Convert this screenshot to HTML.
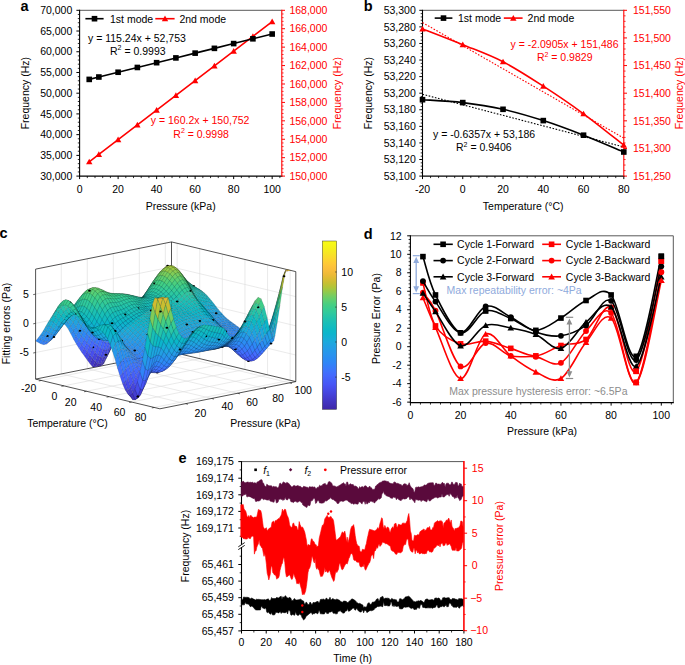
<!DOCTYPE html>
<html><head><meta charset="utf-8"><title>Figure</title>
<style>html,body{margin:0;padding:0;background:#fff}svg{display:block}text{font-family:"Liberation Sans",sans-serif}</style></head>
<body>
<svg width="685" height="665" viewBox="0 0 685 665" font-family="Liberation Sans, sans-serif" font-size="10.5">
<rect width="685" height="665" fill="#fff"/>
<line x1="61.28" y1="373.96" x2="61.28" y2="263.99" stroke="#dcdcdc" stroke-width="0.6" />
<line x1="61.28" y1="373.96" x2="185.58" y2="403.66" stroke="#dcdcdc" stroke-width="0.6" />
<line x1="87.29" y1="368.75" x2="87.29" y2="258.79" stroke="#dcdcdc" stroke-width="0.6" />
<line x1="87.29" y1="368.75" x2="211.59" y2="398.45" stroke="#dcdcdc" stroke-width="0.6" />
<line x1="113.3" y1="363.55" x2="113.3" y2="253.58" stroke="#dcdcdc" stroke-width="0.6" />
<line x1="113.3" y1="363.55" x2="237.6" y2="393.25" stroke="#dcdcdc" stroke-width="0.6" />
<line x1="139.31" y1="358.34" x2="139.31" y2="248.37" stroke="#dcdcdc" stroke-width="0.6" />
<line x1="139.31" y1="358.34" x2="263.61" y2="388.04" stroke="#dcdcdc" stroke-width="0.6" />
<line x1="165.32" y1="353.14" x2="165.32" y2="243.17" stroke="#dcdcdc" stroke-width="0.6" />
<line x1="165.32" y1="353.14" x2="289.62" y2="382.84" stroke="#dcdcdc" stroke-width="0.6" />
<line x1="177.15" y1="353.25" x2="177.15" y2="243.28" stroke="#dcdcdc" stroke-width="0.6" />
<line x1="41.25" y1="380.45" x2="177.15" y2="353.25" stroke="#dcdcdc" stroke-width="0.6" />
<line x1="199.75" y1="358.65" x2="199.75" y2="248.68" stroke="#dcdcdc" stroke-width="0.6" />
<line x1="63.85" y1="385.85" x2="199.75" y2="358.65" stroke="#dcdcdc" stroke-width="0.6" />
<line x1="222.35" y1="364.05" x2="222.35" y2="254.08" stroke="#dcdcdc" stroke-width="0.6" />
<line x1="86.45" y1="391.25" x2="222.35" y2="364.05" stroke="#dcdcdc" stroke-width="0.6" />
<line x1="244.95" y1="369.45" x2="244.95" y2="259.48" stroke="#dcdcdc" stroke-width="0.6" />
<line x1="109.05" y1="396.65" x2="244.95" y2="369.45" stroke="#dcdcdc" stroke-width="0.6" />
<line x1="267.55" y1="374.85" x2="267.55" y2="264.88" stroke="#dcdcdc" stroke-width="0.6" />
<line x1="131.65" y1="402.05" x2="267.55" y2="374.85" stroke="#dcdcdc" stroke-width="0.6" />
<line x1="290.15" y1="380.25" x2="290.15" y2="270.28" stroke="#dcdcdc" stroke-width="0.6" />
<line x1="154.25" y1="407.45" x2="290.15" y2="380.25" stroke="#dcdcdc" stroke-width="0.6" />
<line x1="35.6" y1="352.53" x2="171.5" y2="325.33" stroke="#dcdcdc" stroke-width="0.6" />
<line x1="171.5" y1="325.33" x2="295.8" y2="355.03" stroke="#dcdcdc" stroke-width="0.6" />
<line x1="35.6" y1="323.33" x2="171.5" y2="296.13" stroke="#dcdcdc" stroke-width="0.6" />
<line x1="171.5" y1="296.13" x2="295.8" y2="325.83" stroke="#dcdcdc" stroke-width="0.6" />
<line x1="35.6" y1="294.13" x2="171.5" y2="266.93" stroke="#dcdcdc" stroke-width="0.6" />
<line x1="171.5" y1="266.93" x2="295.8" y2="296.63" stroke="#dcdcdc" stroke-width="0.6" />
<line x1="35.6" y1="269.13" x2="171.5" y2="241.93" stroke="#262626" stroke-width="0.8" />
<line x1="171.5" y1="241.93" x2="295.8" y2="271.63" stroke="#262626" stroke-width="0.8" />
<line x1="35.6" y1="379.1" x2="35.6" y2="269.13" stroke="#262626" stroke-width="0.8" />
<line x1="171.5" y1="351.9" x2="171.5" y2="241.93" stroke="#262626" stroke-width="0.8" />
<line x1="295.8" y1="381.6" x2="295.8" y2="271.63" stroke="#262626" stroke-width="0.8" />
<line x1="35.6" y1="379.1" x2="171.5" y2="351.9" stroke="#262626" stroke-width="0.8" />
<line x1="171.5" y1="351.9" x2="295.8" y2="381.6" stroke="#262626" stroke-width="0.8" />
<line x1="35.6" y1="379.1" x2="159.9" y2="408.8" stroke="#262626" stroke-width="0.8" />
<line x1="159.9" y1="408.8" x2="295.8" y2="381.6" stroke="#262626" stroke-width="0.8" />
<line x1="41.25" y1="380.45" x2="38.85" y2="380.95" stroke="#262626" stroke-width="0.7" />
<line x1="63.85" y1="385.85" x2="61.45" y2="386.35" stroke="#262626" stroke-width="0.7" />
<line x1="86.45" y1="391.25" x2="84.05" y2="391.75" stroke="#262626" stroke-width="0.7" />
<line x1="109.05" y1="396.65" x2="106.65" y2="397.15" stroke="#262626" stroke-width="0.7" />
<line x1="131.65" y1="402.05" x2="129.25" y2="402.55" stroke="#262626" stroke-width="0.7" />
<line x1="154.25" y1="407.45" x2="151.85" y2="407.95" stroke="#262626" stroke-width="0.7" />
<line x1="185.58" y1="403.66" x2="187.98" y2="404.26" stroke="#262626" stroke-width="0.7" />
<line x1="211.59" y1="398.45" x2="213.99" y2="399.05" stroke="#262626" stroke-width="0.7" />
<line x1="237.6" y1="393.25" x2="240" y2="393.85" stroke="#262626" stroke-width="0.7" />
<line x1="263.61" y1="388.04" x2="266.01" y2="388.64" stroke="#262626" stroke-width="0.7" />
<line x1="289.62" y1="382.84" x2="292.02" y2="383.44" stroke="#262626" stroke-width="0.7" />
<line x1="35.6" y1="352.53" x2="33.2" y2="353.03" stroke="#262626" stroke-width="0.7" />
<line x1="35.6" y1="323.33" x2="33.2" y2="323.83" stroke="#262626" stroke-width="0.7" />
<line x1="35.6" y1="294.13" x2="33.2" y2="294.63" stroke="#262626" stroke-width="0.7" />
<g stroke="#000" stroke-opacity="0.42" stroke-width="0.28" stroke-linejoin="round">
<path d="M168.8 300.5L171.2 299.7L173.9 298.8L171.5 299.3Z" fill="#20a3e1"/>
<path d="M166.1 301.6L168.4 300.6L171.2 299.7L168.8 300.5Z" fill="#20a2e2"/>
<path d="M163.3 302.7L165.7 301.5L168.4 300.6L166.1 301.6Z" fill="#21a1e3"/>
<path d="M160.6 303.8L163.0 302.4L165.7 301.5L163.3 302.7Z" fill="#21a0e3"/>
<path d="M157.9 305.0L160.3 303.3L163.0 302.4L160.6 303.8Z" fill="#229fe4"/>
<path d="M155.2 306.3L157.6 304.3L160.3 303.3L157.9 305.0Z" fill="#239ee5"/>
<path d="M152.5 307.8L154.9 305.4L157.6 304.3L155.2 306.3Z" fill="#239de6"/>
<path d="M149.8 309.4L152.2 306.7L154.9 305.4L152.5 307.8Z" fill="#249be7"/>
<path d="M147.0 311.3L149.5 308.1L152.2 306.7L149.8 309.4Z" fill="#2699e9"/>
<path d="M144.3 313.3L146.8 309.7L149.5 308.1L147.0 311.3Z" fill="#2797eb"/>
<path d="M141.6 315.3L144.1 311.5L146.8 309.7L144.3 313.3Z" fill="#2895ec"/>
<path d="M138.9 317.4L141.3 313.4L144.1 311.5L141.6 315.3Z" fill="#2992ee"/>
<path d="M136.2 319.6L138.6 315.6L141.3 313.4L138.9 317.4Z" fill="#2a8ff0"/>
<path d="M133.4 321.7L135.9 317.8L138.6 315.6L136.2 319.6Z" fill="#2b8cf3"/>
<path d="M130.7 323.7L133.2 320.0L135.9 317.8L133.4 321.7Z" fill="#2d89f5"/>
<path d="M128.0 325.7L130.4 322.2L133.2 320.0L130.7 323.7Z" fill="#2e86f7"/>
<path d="M125.3 327.6L127.7 324.3L130.4 322.2L128.0 325.7Z" fill="#3282f8"/>
<path d="M122.6 329.5L125.0 326.4L127.7 324.3L125.3 327.6Z" fill="#357ef9"/>
<path d="M119.9 331.8L122.3 328.8L125.0 326.4L122.6 329.5Z" fill="#3979fb"/>
<path d="M117.1 334.8L119.5 331.8L122.3 328.8L119.9 331.8Z" fill="#3d74fc"/>
<path d="M114.4 339.0L116.8 335.7L119.5 331.8L117.1 334.8Z" fill="#436cfe"/>
<path d="M111.7 344.5L114.1 340.9L116.8 335.7L114.4 339.0Z" fill="#4562fa"/>
<path d="M109.0 351.2L111.4 347.1L114.1 340.9L111.7 344.5Z" fill="#4754f5"/>
<path d="M106.3 358.0L108.7 353.3L111.4 347.1L109.0 351.2Z" fill="#4647e1"/>
<path d="M103.6 363.9L106.0 358.7L108.7 353.3L106.3 358.0Z" fill="#4339cc"/>
<path d="M100.8 366.0L103.3 362.6L106.0 358.7L103.6 363.9Z" fill="#4030bb"/>
<path d="M98.1 366.6L100.6 364.1L103.3 362.6L100.8 366.0Z" fill="#3f2cb2"/>
<path d="M95.4 367.1L97.9 363.5L100.6 364.1L98.1 366.6Z" fill="#3f2cb2"/>
<path d="M92.7 367.1L95.2 361.4L97.9 363.5L95.4 367.1Z" fill="#402fb9"/>
<path d="M90.0 363.8L92.4 358.3L95.2 361.4L92.7 367.1Z" fill="#4236c5"/>
<path d="M87.2 360.0L89.7 354.8L92.4 358.3L90.0 363.8Z" fill="#443fd5"/>
<path d="M84.5 356.2L87.0 351.3L89.7 354.8L87.2 360.0Z" fill="#4649e5"/>
<path d="M81.8 352.5L84.3 347.8L87.0 351.3L84.5 356.2Z" fill="#4852f4"/>
<path d="M79.1 348.5L81.6 344.2L84.3 347.8L81.8 352.5Z" fill="#465ef9"/>
<path d="M76.4 344.2L78.9 340.2L81.6 344.2L79.1 348.5Z" fill="#446afd"/>
<path d="M73.7 339.4L76.1 335.6L78.9 340.2L76.4 344.2Z" fill="#3a77fb"/>
<path d="M70.9 334.1L73.4 330.6L76.1 335.6L73.7 339.4Z" fill="#2e87f7"/>
<path d="M68.2 329.1L70.7 325.9L73.4 330.6L70.9 334.1Z" fill="#2a91ef"/>
<path d="M65.5 325.2L68.0 322.3L70.7 325.9L68.2 329.1Z" fill="#259ae9"/>
<path d="M62.8 323.3L65.3 320.7L68.0 322.3L65.5 325.2Z" fill="#21a0e4"/>
<path d="M60.1 324.0L62.5 321.7L65.3 320.7L62.8 323.3Z" fill="#21a1e3"/>
<path d="M57.3 327.3L59.8 325.2L62.5 321.7L60.1 324.0Z" fill="#229fe4"/>
<path d="M54.6 332.1L57.1 330.2L59.8 325.2L57.3 327.3Z" fill="#2798ea"/>
<path d="M51.9 337.2L54.4 335.4L57.1 330.2L54.6 332.1Z" fill="#2a8ff1"/>
<path d="M49.2 341.6L51.7 339.6L54.4 335.4L51.9 337.2Z" fill="#2e87f7"/>
<path d="M46.5 344.1L49.0 341.7L51.7 339.6L49.2 341.6Z" fill="#347ef9"/>
<path d="M43.8 344.7L46.2 341.8L49.0 341.7L46.5 344.1Z" fill="#377cfa"/>
<path d="M41.0 343.9L43.5 340.7L46.2 341.8L43.8 344.7Z" fill="#347ff9"/>
<path d="M38.3 342.5L40.8 339.2L43.5 340.7L41.0 343.9Z" fill="#3084f8"/>
<path d="M35.6 340.9L38.1 338.1L40.8 339.2L38.3 342.5Z" fill="#2d88f6"/>
<path d="M171.2 299.7L173.6 298.6L176.3 297.9L173.9 298.8Z" fill="#1ea6df"/>
<path d="M168.4 300.6L170.8 299.2L173.6 298.6L171.2 299.7Z" fill="#1ea6df"/>
<path d="M165.7 301.5L168.1 299.8L170.8 299.2L168.4 300.6Z" fill="#1ea5e0"/>
<path d="M163.0 302.4L165.4 300.4L168.1 299.8L165.7 301.5Z" fill="#1ea5e0"/>
<path d="M160.3 303.3L162.7 301.0L165.4 300.4L163.0 302.4Z" fill="#1fa5e0"/>
<path d="M157.6 304.3L160.0 301.7L162.7 301.0L160.3 303.3Z" fill="#1fa4e0"/>
<path d="M154.9 305.4L157.3 302.4L160.0 301.7L157.6 304.3Z" fill="#1fa4e1"/>
<path d="M152.2 306.7L154.7 303.2L157.3 302.4L154.9 305.4Z" fill="#20a3e1"/>
<path d="M149.5 308.1L151.9 304.2L154.7 303.2L152.2 306.7Z" fill="#20a2e2"/>
<path d="M146.8 309.7L149.2 305.4L151.9 304.2L149.5 308.1Z" fill="#21a1e3"/>
<path d="M144.1 311.5L146.5 306.9L149.2 305.4L146.8 309.7Z" fill="#229fe5"/>
<path d="M141.3 313.4L143.8 308.7L146.5 306.9L144.1 311.5Z" fill="#249ce7"/>
<path d="M138.6 315.6L141.0 310.9L143.8 308.7L141.3 313.4Z" fill="#2699e9"/>
<path d="M135.9 317.8L138.3 313.2L141.0 310.9L138.6 315.6Z" fill="#2896ec"/>
<path d="M133.2 320.0L135.6 315.7L138.3 313.2L135.9 317.8Z" fill="#2992ee"/>
<path d="M130.4 322.2L132.9 318.1L135.6 315.7L133.2 320.0Z" fill="#2a8ff1"/>
<path d="M127.7 324.3L130.1 320.5L132.9 318.1L130.4 322.2Z" fill="#2c8cf3"/>
<path d="M125.0 326.4L127.4 322.8L130.1 320.5L127.7 324.3Z" fill="#2d88f6"/>
<path d="M122.3 328.8L124.7 325.3L127.4 322.8L125.0 326.4Z" fill="#3084f8"/>
<path d="M119.5 331.8L121.9 328.2L124.7 325.3L122.3 328.8Z" fill="#347ef9"/>
<path d="M116.8 335.7L119.2 332.0L121.9 328.2L119.5 331.8Z" fill="#3a77fb"/>
<path d="M114.1 340.9L116.5 336.9L119.2 332.0L116.8 335.7Z" fill="#436dfe"/>
<path d="M111.4 347.1L113.8 342.4L116.5 336.9L114.1 340.9Z" fill="#4561fa"/>
<path d="M108.7 353.3L111.2 348.0L113.8 342.4L111.4 347.1Z" fill="#4853f4"/>
<path d="M106.0 358.7L108.5 352.8L111.2 348.0L108.7 353.3Z" fill="#4647e2"/>
<path d="M103.3 362.6L105.8 356.2L108.5 352.8L106.0 358.7Z" fill="#443ed3"/>
<path d="M100.6 364.1L103.1 357.5L105.8 356.2L103.3 362.6Z" fill="#4339ca"/>
<path d="M97.9 363.5L100.4 356.9L103.1 357.5L100.6 364.1Z" fill="#4339cb"/>
<path d="M95.2 361.4L97.7 354.9L100.4 356.9L97.9 363.5Z" fill="#443ed3"/>
<path d="M92.4 358.3L94.9 352.1L97.7 354.9L95.2 361.4Z" fill="#4545df"/>
<path d="M89.7 354.8L92.2 348.8L94.9 352.1L92.4 358.3Z" fill="#474eee"/>
<path d="M87.0 351.3L89.5 345.7L92.2 348.8L89.7 354.8Z" fill="#4758f6"/>
<path d="M84.3 347.8L86.8 342.5L89.5 345.7L87.0 351.3Z" fill="#4562fa"/>
<path d="M81.6 344.2L84.1 339.1L86.8 342.5L84.3 347.8Z" fill="#436cfe"/>
<path d="M78.9 340.2L81.3 335.4L84.1 339.1L81.6 344.2Z" fill="#3a78fb"/>
<path d="M76.1 335.6L78.6 331.1L81.3 335.4L78.9 340.2Z" fill="#2f85f7"/>
<path d="M73.4 330.6L75.9 326.4L78.6 331.1L76.1 335.6Z" fill="#2a8ff0"/>
<path d="M70.7 325.9L73.2 322.0L75.9 326.4L73.4 330.6Z" fill="#2599e9"/>
<path d="M68.0 322.3L70.5 318.8L73.2 322.0L70.7 325.9Z" fill="#20a3e2"/>
<path d="M65.3 320.7L67.8 317.4L70.5 318.8L68.0 322.3Z" fill="#1ca8dd"/>
<path d="M62.5 321.7L65.0 318.7L67.8 317.4L65.3 320.7Z" fill="#1ba9dc"/>
<path d="M59.8 325.2L62.3 322.5L65.0 318.7L62.5 321.7Z" fill="#1ea6df"/>
<path d="M57.1 330.2L59.6 327.7L62.3 322.5L59.8 325.2Z" fill="#229ee5"/>
<path d="M54.4 335.4L56.9 332.9L59.6 327.7L57.1 330.2Z" fill="#2895ed"/>
<path d="M51.7 339.6L54.2 336.9L56.9 332.9L54.4 335.4Z" fill="#2b8cf3"/>
<path d="M49.0 341.7L51.4 338.6L54.2 336.9L51.7 339.6Z" fill="#2d87f7"/>
<path d="M46.2 341.8L48.7 338.2L51.4 338.6L49.0 341.7Z" fill="#2e86f7"/>
<path d="M43.5 340.7L46.0 336.7L48.7 338.2L46.2 341.8Z" fill="#2d89f5"/>
<path d="M40.8 339.2L43.3 335.2L46.0 336.7L43.5 340.7Z" fill="#2b8df2"/>
<path d="M38.1 338.1L40.6 334.7L43.3 335.2L40.8 339.2Z" fill="#2a90f0"/>
<path d="M173.6 298.6L175.9 297.1L178.7 296.7L176.3 297.9Z" fill="#1baadb"/>
<path d="M170.8 299.2L173.2 297.5L175.9 297.1L173.6 298.6Z" fill="#1aaadb"/>
<path d="M168.1 299.8L170.5 297.8L173.2 297.5L170.8 299.2Z" fill="#1aaadb"/>
<ellipse cx="171.0" cy="298.7" rx="1.4" ry="1.0" fill="#000" stroke="none"/>
<path d="M165.4 300.4L167.8 298.0L170.5 297.8L168.1 299.8Z" fill="#1aaada"/>
<path d="M162.7 301.0L165.1 298.3L167.8 298.0L165.4 300.4Z" fill="#19abda"/>
<path d="M160.0 301.7L162.4 298.6L165.1 298.3L162.7 301.0Z" fill="#19abda"/>
<path d="M157.3 302.4L159.8 298.8L162.4 298.6L160.0 301.7Z" fill="#19abd9"/>
<path d="M154.7 303.2L157.1 299.2L159.8 298.8L157.3 302.4Z" fill="#18abd9"/>
<ellipse cx="158.0" cy="301.3" rx="1.4" ry="1.0" fill="#000" stroke="none"/>
<path d="M151.9 304.2L154.4 299.7L157.1 299.2L154.7 303.2Z" fill="#19abd9"/>
<path d="M149.2 305.4L151.7 300.6L154.4 299.7L151.9 304.2Z" fill="#19abda"/>
<path d="M146.5 306.9L148.9 301.8L151.7 300.6L149.2 305.4Z" fill="#1aaadb"/>
<path d="M143.8 308.7L146.2 303.5L148.9 301.8L146.5 306.9Z" fill="#1ca8dd"/>
<ellipse cx="145.0" cy="306.8" rx="1.4" ry="1.0" fill="#000" stroke="none"/>
<path d="M141.0 310.9L143.5 305.7L146.2 303.5L143.8 308.7Z" fill="#1ea6df"/>
<path d="M138.3 313.2L140.8 308.2L143.5 305.7L141.0 310.9Z" fill="#20a2e2"/>
<path d="M135.6 315.7L138.0 310.9L140.8 308.2L138.3 313.2Z" fill="#239ee6"/>
<path d="M132.9 318.1L135.3 313.6L138.0 310.9L135.6 315.7Z" fill="#2699e9"/>
<path d="M130.1 320.5L132.5 316.3L135.3 313.6L132.9 318.1Z" fill="#2895ec"/>
<ellipse cx="132.0" cy="318.2" rx="1.4" ry="1.0" fill="#000" stroke="none"/>
<path d="M127.4 322.8L129.8 318.8L132.5 316.3L130.1 320.5Z" fill="#2991ef"/>
<path d="M124.7 325.3L127.1 321.4L129.8 318.8L127.4 322.8Z" fill="#2b8df2"/>
<path d="M121.9 328.2L124.4 324.4L127.1 321.4L124.7 325.3Z" fill="#2d89f5"/>
<path d="M119.2 332.0L121.6 328.0L124.4 324.4L121.9 328.2Z" fill="#3183f8"/>
<path d="M116.5 336.9L118.9 332.5L121.6 328.0L119.2 332.0Z" fill="#387afb"/>
<ellipse cx="119.0" cy="332.5" rx="1.4" ry="1.0" fill="#000" stroke="none"/>
<path d="M113.8 342.4L116.3 337.4L118.9 332.5L116.5 336.9Z" fill="#426efe"/>
<path d="M111.2 348.0L113.6 342.3L116.3 337.4L113.8 342.4Z" fill="#4562fa"/>
<path d="M108.5 352.8L110.9 346.4L113.6 342.3L111.2 348.0Z" fill="#4757f6"/>
<path d="M105.8 356.2L108.3 349.2L110.9 346.4L108.5 352.8Z" fill="#474eee"/>
<path d="M103.1 357.5L105.6 350.3L108.3 349.2L105.8 356.2Z" fill="#464ae7"/>
<ellipse cx="105.9" cy="354.7" rx="1.4" ry="1.0" fill="#000" stroke="none"/>
<path d="M100.4 356.9L102.9 349.7L105.6 350.3L103.1 357.5Z" fill="#464be8"/>
<path d="M97.7 354.9L100.1 347.9L102.9 349.7L100.4 356.9Z" fill="#474ff0"/>
<path d="M94.9 352.1L97.4 345.3L100.1 347.9L97.7 354.9Z" fill="#4757f6"/>
<path d="M92.2 348.8L94.7 342.4L97.4 345.3L94.9 352.1Z" fill="#4560fa"/>
<ellipse cx="92.9" cy="347.2" rx="1.4" ry="1.0" fill="#000" stroke="none"/>
<path d="M89.5 345.7L92.0 339.6L94.7 342.4L92.2 348.8Z" fill="#4469fd"/>
<path d="M86.8 342.5L89.3 336.7L92.0 339.6L89.5 345.7Z" fill="#3e73fc"/>
<path d="M84.1 339.1L86.5 333.5L89.3 336.7L86.8 342.5Z" fill="#357dfa"/>
<path d="M81.3 335.4L83.8 330.1L86.5 333.5L84.1 339.1Z" fill="#2d88f6"/>
<path d="M78.6 331.1L81.1 326.1L83.8 330.1L81.3 335.4Z" fill="#2a90f0"/>
<ellipse cx="79.9" cy="330.8" rx="1.4" ry="1.0" fill="#000" stroke="none"/>
<path d="M75.9 326.4L78.4 321.7L81.1 326.1L78.6 331.1Z" fill="#259ae9"/>
<path d="M73.2 322.0L75.7 317.6L78.4 321.7L75.9 326.4Z" fill="#1fa4e0"/>
<path d="M70.5 318.8L73.0 314.7L75.7 317.6L73.2 322.0Z" fill="#18acd8"/>
<path d="M67.8 317.4L70.2 313.6L73.0 314.7L70.5 318.8Z" fill="#13b0d3"/>
<path d="M65.0 318.7L67.5 315.2L70.2 313.6L67.8 317.4Z" fill="#12b0d2"/>
<ellipse cx="66.9" cy="316.8" rx="1.4" ry="1.0" fill="#000" stroke="none"/>
<path d="M62.3 322.5L64.8 319.4L67.5 315.2L65.0 318.7Z" fill="#16add6"/>
<path d="M59.6 327.7L62.1 324.7L64.8 319.4L62.3 322.5Z" fill="#1ea6df"/>
<path d="M56.9 332.9L59.4 329.9L62.1 324.7L59.6 327.7Z" fill="#249ce7"/>
<path d="M54.2 336.9L56.6 333.8L59.4 329.9L56.9 332.9Z" fill="#2993ee"/>
<path d="M51.4 338.6L53.9 335.0L56.6 333.8L54.2 336.9Z" fill="#2b8ef1"/>
<ellipse cx="53.9" cy="336.9" rx="1.4" ry="1.0" fill="#000" stroke="none"/>
<path d="M48.7 338.2L51.2 333.9L53.9 335.0L51.4 338.6Z" fill="#2a8ff1"/>
<path d="M46.0 336.7L48.5 331.9L51.2 333.9L48.7 338.2Z" fill="#2993ee"/>
<ellipse cx="47.4" cy="335.9" rx="1.4" ry="1.0" fill="#000" stroke="none"/>
<path d="M43.3 335.2L45.8 330.5L48.5 331.9L46.0 336.7Z" fill="#2797eb"/>
<path d="M40.6 334.7L43.1 330.9L45.8 330.5L43.3 335.2Z" fill="#2699e9"/>
<path d="M175.9 297.1L178.3 295.5L181.0 295.4L178.7 296.7Z" fill="#16add6"/>
<path d="M173.2 297.5L175.6 295.5L178.3 295.5L175.9 297.1Z" fill="#15aed5"/>
<path d="M170.5 297.8L172.9 295.5L175.6 295.5L173.2 297.5Z" fill="#14afd4"/>
<path d="M167.8 298.0L170.2 295.4L172.9 295.5L170.5 297.8Z" fill="#13b0d3"/>
<path d="M165.1 298.3L167.5 295.3L170.2 295.4L167.8 298.0Z" fill="#12b0d2"/>
<path d="M162.4 298.6L164.8 295.2L167.5 295.3L165.1 298.3Z" fill="#10b1d0"/>
<path d="M159.8 298.8L162.2 294.9L164.8 295.2L162.4 298.6Z" fill="#0fb3cf"/>
<path d="M157.1 299.2L159.5 294.8L162.2 294.9L159.8 298.8Z" fill="#0eb4cd"/>
<path d="M154.4 299.7L156.8 294.9L159.5 294.8L157.1 299.2Z" fill="#0db4cc"/>
<path d="M151.7 300.6L154.1 295.4L156.8 294.9L154.4 299.7Z" fill="#0db4cc"/>
<path d="M148.9 301.8L151.4 296.4L154.1 295.4L151.7 300.6Z" fill="#0db4cd"/>
<path d="M146.2 303.5L148.7 297.9L151.4 296.4L148.9 301.8Z" fill="#0fb3ce"/>
<path d="M143.5 305.7L145.9 300.1L148.7 297.9L146.2 303.5Z" fill="#11b1d1"/>
<path d="M140.8 308.2L143.2 302.8L145.9 300.1L143.5 305.7Z" fill="#15aed6"/>
<path d="M138.0 310.9L140.4 305.8L143.2 302.8L140.8 308.2Z" fill="#1aaadb"/>
<path d="M135.3 313.6L137.7 308.8L140.4 305.8L138.0 310.9Z" fill="#1ea5e0"/>
<path d="M132.5 316.3L134.9 311.8L137.7 308.8L135.3 313.6Z" fill="#22a0e4"/>
<path d="M129.8 318.8L132.2 314.6L134.9 311.8L132.5 316.3Z" fill="#259be8"/>
<path d="M127.1 321.4L129.5 317.4L132.2 314.6L129.8 318.8Z" fill="#2796eb"/>
<path d="M124.4 324.4L126.8 320.4L129.5 317.4L127.1 321.4Z" fill="#2992ef"/>
<path d="M121.6 328.0L124.0 323.8L126.8 320.4L124.4 324.4Z" fill="#2b8df2"/>
<path d="M118.9 332.5L121.3 327.9L124.0 323.8L121.6 328.0Z" fill="#2e87f7"/>
<path d="M116.3 337.4L118.7 332.2L121.3 327.9L118.9 332.5Z" fill="#367dfa"/>
<path d="M113.6 342.3L116.0 336.3L118.7 332.2L116.3 337.4Z" fill="#3f72fd"/>
<path d="M110.9 346.4L113.4 339.7L116.0 336.3L113.6 342.3Z" fill="#4468fd"/>
<path d="M108.3 349.2L110.8 342.0L113.4 339.7L110.9 346.4Z" fill="#4561fa"/>
<path d="M105.6 350.3L108.1 342.8L110.8 342.0L108.3 349.2Z" fill="#465ef9"/>
<path d="M102.9 349.7L105.3 342.2L108.1 342.8L105.6 350.3Z" fill="#465ff9"/>
<path d="M100.1 347.9L102.6 340.6L105.3 342.2L102.9 349.7Z" fill="#4564fb"/>
<path d="M97.4 345.3L99.9 338.3L102.6 340.6L100.1 347.9Z" fill="#436bfe"/>
<path d="M94.7 342.4L97.2 335.7L99.9 338.3L97.4 345.3Z" fill="#3d74fc"/>
<path d="M92.0 339.6L94.5 333.2L97.2 335.7L94.7 342.4Z" fill="#367cfa"/>
<path d="M89.3 336.7L91.8 330.5L94.5 333.2L92.0 339.6Z" fill="#2f85f7"/>
<path d="M86.5 333.5L89.0 327.7L91.8 330.5L89.3 336.7Z" fill="#2b8cf3"/>
<path d="M83.8 330.1L86.3 324.5L89.0 327.7L86.5 333.5Z" fill="#2993ee"/>
<path d="M81.1 326.1L83.6 320.7L86.3 324.5L83.8 330.1Z" fill="#249ce7"/>
<path d="M78.4 321.7L80.9 316.6L83.6 320.7L81.1 326.1Z" fill="#1ea6df"/>
<path d="M75.7 317.6L78.2 312.9L80.9 316.6L78.4 321.7Z" fill="#15aed5"/>
<path d="M73.0 314.7L75.4 310.2L78.2 312.9L75.7 317.6Z" fill="#0cb5cc"/>
<path d="M70.2 313.6L72.7 309.5L75.4 310.2L73.0 314.7Z" fill="#0ab8c7"/>
<path d="M67.5 315.2L70.0 311.5L72.7 309.5L70.2 313.6Z" fill="#0ab8c7"/>
<path d="M64.8 319.4L67.3 316.0L70.0 311.5L67.5 315.2Z" fill="#0cb4cc"/>
<path d="M62.1 324.7L64.6 321.5L67.3 316.0L64.8 319.4Z" fill="#16add6"/>
<path d="M59.4 329.9L61.9 326.8L64.6 321.5L62.1 324.7Z" fill="#1fa4e1"/>
<path d="M56.6 333.8L59.1 330.4L61.9 326.8L59.4 329.9Z" fill="#259ae8"/>
<path d="M53.9 335.0L56.4 331.0L59.1 330.4L56.6 333.8Z" fill="#2896ec"/>
<path d="M51.2 333.9L53.7 329.3L56.4 331.0L53.9 335.0Z" fill="#2698ea"/>
<path d="M48.5 331.9L51.0 326.8L53.7 329.3L51.2 333.9Z" fill="#239ee5"/>
<path d="M45.8 330.5L48.3 325.4L51.0 326.8L48.5 331.9Z" fill="#20a3e1"/>
<path d="M43.1 330.9L45.5 326.8L48.3 325.4L45.8 330.5Z" fill="#1fa4e1"/>
<path d="M178.3 295.5L180.7 293.8L183.4 294.0L181.0 295.4Z" fill="#11b1d1"/>
<path d="M175.6 295.5L178.0 293.5L180.7 293.8L178.3 295.5Z" fill="#10b2cf"/>
<path d="M172.9 295.5L175.3 293.1L178.0 293.5L175.6 295.5Z" fill="#0eb4cd"/>
<path d="M170.2 295.4L172.6 292.7L175.3 293.1L172.9 295.5Z" fill="#0cb5cb"/>
<path d="M167.5 295.3L169.8 292.2L172.6 292.7L170.2 295.4Z" fill="#0ab7c9"/>
<path d="M164.8 295.2L167.2 291.7L169.8 292.2L167.5 295.3Z" fill="#0ab8c7"/>
<path d="M162.2 294.9L164.6 290.9L167.2 291.7L164.8 295.2Z" fill="#0cb9c4"/>
<path d="M159.5 294.8L162.0 290.3L164.6 290.9L162.2 294.9Z" fill="#0fbac2"/>
<path d="M156.8 294.9L159.3 290.0L162.0 290.3L159.5 294.8Z" fill="#10bbc0"/>
<path d="M154.1 295.4L156.6 290.1L159.3 290.0L156.8 294.9Z" fill="#11bbbf"/>
<path d="M151.4 296.4L153.8 290.8L156.6 290.1L154.1 295.4Z" fill="#11bbbf"/>
<path d="M148.7 297.9L151.1 292.3L153.8 290.8L151.4 296.4Z" fill="#10bbc0"/>
<path d="M145.9 300.1L148.4 294.5L151.1 292.3L148.7 297.9Z" fill="#0ebac3"/>
<path d="M143.2 302.8L145.6 297.4L148.4 294.5L145.9 300.1Z" fill="#0ab8c7"/>
<path d="M140.4 305.8L142.9 300.6L145.6 297.4L143.2 302.8Z" fill="#0db4cd"/>
<path d="M137.7 308.8L140.1 304.0L142.9 300.6L140.4 305.8Z" fill="#13b0d3"/>
<path d="M134.9 311.8L137.4 307.2L140.1 304.0L137.7 308.8Z" fill="#19abda"/>
<path d="M132.2 314.6L134.6 310.3L137.4 307.2L134.9 311.8Z" fill="#1ea6df"/>
<path d="M129.5 317.4L131.9 313.3L134.6 310.3L132.2 314.6Z" fill="#21a0e3"/>
<path d="M126.8 320.4L129.2 316.3L131.9 313.3L129.5 317.4Z" fill="#249be7"/>
<path d="M124.0 323.8L126.5 319.6L129.2 316.3L126.8 320.4Z" fill="#2896ec"/>
<path d="M121.3 327.9L123.7 323.2L126.5 319.6L124.0 323.8Z" fill="#2a90f0"/>
<path d="M118.7 332.2L121.1 326.9L123.7 323.2L121.3 327.9Z" fill="#2c8af4"/>
<path d="M116.0 336.3L118.5 330.2L121.1 326.9L118.7 332.2Z" fill="#3183f8"/>
<path d="M113.4 339.7L115.9 332.9L118.5 330.2L116.0 336.3Z" fill="#377bfa"/>
<path d="M110.8 342.0L113.2 334.6L115.9 332.9L113.4 339.7Z" fill="#3c75fc"/>
<path d="M108.1 342.8L110.5 335.1L113.2 334.6L110.8 342.0Z" fill="#3e73fc"/>
<path d="M105.3 342.2L107.8 334.6L110.5 335.1L108.1 342.8Z" fill="#3c75fc"/>
<path d="M102.6 340.6L105.1 333.2L107.8 334.6L105.3 342.2Z" fill="#387afa"/>
<path d="M99.9 338.3L102.4 331.2L105.1 333.2L102.6 340.6Z" fill="#3380f9"/>
<path d="M97.2 335.7L99.7 328.9L102.4 331.2L99.9 338.3Z" fill="#2d88f6"/>
<path d="M94.5 333.2L97.0 326.7L99.7 328.9L97.2 335.7Z" fill="#2b8df2"/>
<path d="M91.8 330.5L94.2 324.3L97.0 326.7L94.5 333.2Z" fill="#2993ee"/>
<path d="M89.0 327.7L91.5 321.7L94.2 324.3L91.8 330.5Z" fill="#2699e9"/>
<path d="M86.3 324.5L88.8 318.8L91.5 321.7L89.0 327.7Z" fill="#21a1e3"/>
<path d="M83.6 320.7L86.1 315.3L88.8 318.8L86.3 324.5Z" fill="#1ba9dc"/>
<path d="M80.9 316.6L83.4 311.5L86.1 315.3L83.6 320.7Z" fill="#12b1d2"/>
<path d="M78.2 312.9L80.6 308.0L83.4 311.5L80.9 316.6Z" fill="#0ab8c7"/>
<path d="M75.4 310.2L77.9 305.7L80.6 308.0L78.2 312.9Z" fill="#10bbc0"/>
<path d="M72.7 309.5L75.2 305.4L77.9 305.7L75.4 310.2Z" fill="#13bcbc"/>
<path d="M70.0 311.5L72.5 307.7L75.2 305.4L72.7 309.5Z" fill="#13bcbd"/>
<path d="M67.3 316.0L69.8 312.4L72.5 307.7L70.0 311.5Z" fill="#0ebac2"/>
<path d="M64.6 321.5L67.1 318.2L69.8 312.4L67.3 316.0Z" fill="#0db4cc"/>
<path d="M61.9 326.8L64.3 323.5L67.1 318.2L64.6 321.5Z" fill="#18abd9"/>
<path d="M59.1 330.4L61.6 326.9L64.3 323.5L61.9 326.8Z" fill="#20a3e1"/>
<path d="M56.4 331.0L58.9 327.0L61.6 326.9L59.1 330.4Z" fill="#229fe4"/>
<path d="M53.7 329.3L56.2 324.5L58.9 327.0L56.4 331.0Z" fill="#1fa4e1"/>
<path d="M51.0 326.8L53.5 321.6L56.2 324.5L53.7 329.3Z" fill="#1aaadb"/>
<path d="M48.3 325.4L50.7 320.3L53.5 321.6L51.0 326.8Z" fill="#15aed5"/>
<path d="M45.5 326.8L48.0 322.6L50.7 320.3L48.3 325.4Z" fill="#15aed5"/>
<path d="M180.7 293.8L183.1 292.2L185.8 292.6L183.4 294.0Z" fill="#0cb5cc"/>
<path d="M178.0 293.5L180.4 291.5L183.1 292.2L180.7 293.8Z" fill="#0ab6c9"/>
<path d="M175.3 293.1L177.7 290.8L180.4 291.5L178.0 293.5Z" fill="#0ab8c7"/>
<path d="M172.6 292.7L174.9 290.0L177.7 290.8L175.3 293.1Z" fill="#0db9c4"/>
<path d="M169.8 292.2L172.2 289.2L174.9 290.0L172.6 292.7Z" fill="#0fbac1"/>
<path d="M167.2 291.7L169.6 288.2L172.2 289.2L169.8 292.2Z" fill="#12bcbe"/>
<path d="M164.6 290.9L167.0 287.0L169.6 288.2L167.2 291.7Z" fill="#15bdba"/>
<path d="M162.0 290.3L164.4 285.9L167.0 287.0L164.6 290.9Z" fill="#18bfb7"/>
<path d="M159.3 290.0L161.7 285.2L164.4 285.9L162.0 290.3Z" fill="#1bc0b4"/>
<path d="M156.6 290.1L159.0 284.9L161.7 285.2L159.3 290.0Z" fill="#1ec1b1"/>
<path d="M153.8 290.8L156.3 285.3L159.0 284.9L156.6 290.1Z" fill="#1fc2b0"/>
<path d="M151.1 292.3L153.6 286.7L156.3 285.3L153.8 290.8Z" fill="#1ec1b1"/>
<path d="M148.4 294.5L150.8 288.9L153.6 286.7L151.1 292.3Z" fill="#1bc0b4"/>
<path d="M145.6 297.4L148.1 292.0L150.8 288.9L148.4 294.5Z" fill="#16beb9"/>
<path d="M142.9 300.6L145.3 295.4L148.1 292.0L145.6 297.4Z" fill="#11bbbf"/>
<path d="M140.1 304.0L142.5 299.1L145.3 295.4L142.9 300.6Z" fill="#0bb8c5"/>
<path d="M137.4 307.2L139.8 302.7L142.5 299.1L140.1 304.0Z" fill="#0db4cd"/>
<path d="M134.6 310.3L137.0 306.0L139.8 302.7L137.4 307.2Z" fill="#13afd4"/>
<path d="M131.9 313.3L134.3 309.2L137.0 306.0L134.6 310.3Z" fill="#1aaada"/>
<path d="M129.2 316.3L131.6 312.3L134.3 309.2L131.9 313.3Z" fill="#1ea5df"/>
<path d="M126.5 319.6L128.9 315.3L131.6 312.3L129.2 316.3Z" fill="#22a0e4"/>
<path d="M123.7 323.2L126.2 318.6L128.9 315.3L126.5 319.6Z" fill="#259ae8"/>
<path d="M121.1 326.9L123.5 321.6L126.2 318.6L123.7 323.2Z" fill="#2894ed"/>
<path d="M118.5 330.2L120.9 324.2L123.5 321.6L121.1 326.9Z" fill="#2a8ff0"/>
<path d="M115.9 332.9L118.3 326.2L120.9 324.2L118.5 330.2Z" fill="#2c8cf3"/>
<path d="M113.2 334.6L115.7 327.3L118.3 326.2L115.9 332.9Z" fill="#2d89f5"/>
<path d="M110.5 335.1L113.0 327.6L115.7 327.3L113.2 334.6Z" fill="#2d88f6"/>
<path d="M107.8 334.6L110.3 327.1L113.0 327.6L110.5 335.1Z" fill="#2c8af5"/>
<path d="M105.1 333.2L107.6 325.8L110.3 327.1L107.8 334.6Z" fill="#2b8df2"/>
<path d="M102.4 331.2L104.9 324.1L107.6 325.8L105.1 333.2Z" fill="#2991ef"/>
<path d="M99.7 328.9L102.2 322.2L104.9 324.1L102.4 331.2Z" fill="#2896ec"/>
<path d="M97.0 326.7L99.4 320.2L102.2 322.2L99.7 328.9Z" fill="#249be7"/>
<path d="M94.2 324.3L96.7 318.2L99.4 320.2L97.0 326.7Z" fill="#21a1e3"/>
<path d="M91.5 321.7L94.0 315.8L96.7 318.2L94.2 324.3Z" fill="#1da7de"/>
<path d="M88.8 318.8L91.3 313.1L94.0 315.8L91.5 321.7Z" fill="#16add6"/>
<path d="M86.1 315.3L88.6 310.0L91.3 313.1L88.8 318.8Z" fill="#0eb4cd"/>
<path d="M83.4 311.5L85.9 306.4L88.6 310.0L86.1 315.3Z" fill="#0db9c4"/>
<path d="M80.6 308.0L83.1 303.3L85.9 306.4L83.4 311.5Z" fill="#15bdbb"/>
<path d="M77.9 305.7L80.4 301.3L83.1 303.3L80.6 308.0Z" fill="#1bc0b4"/>
<path d="M75.2 305.4L77.7 301.3L80.4 301.3L77.9 305.7Z" fill="#1fc2b0"/>
<path d="M72.5 307.7L75.0 303.9L77.7 301.3L75.2 305.4Z" fill="#1ec1b1"/>
<path d="M69.8 312.4L72.3 309.0L75.0 303.9L72.5 307.7Z" fill="#17beb9"/>
<path d="M67.1 318.2L69.5 315.0L72.3 309.0L69.8 312.4Z" fill="#0db9c3"/>
<path d="M64.3 323.5L66.8 320.3L69.5 315.0L67.1 318.2Z" fill="#10b2cf"/>
<path d="M61.6 326.9L64.1 323.4L66.8 320.3L64.3 323.5Z" fill="#19abda"/>
<path d="M58.9 327.0L61.4 323.0L64.1 323.4L61.6 326.9Z" fill="#1ca9dd"/>
<path d="M56.2 324.5L58.7 319.9L61.4 323.0L58.9 327.0Z" fill="#16add6"/>
<path d="M53.5 321.6L56.0 316.5L58.7 319.9L56.2 324.5Z" fill="#0db4cd"/>
<path d="M50.7 320.3L53.2 315.2L56.0 316.5L53.5 321.6Z" fill="#0ab8c7"/>
<path d="M48.0 322.6L50.5 318.5L53.2 315.2L50.7 320.3Z" fill="#0ab7c8"/>
<path d="M183.1 292.2L185.5 290.6L188.2 291.4L185.8 292.6Z" fill="#0ab8c7"/>
<path d="M180.4 291.5L182.8 289.7L185.5 290.6L183.1 292.2Z" fill="#0db9c4"/>
<path d="M177.7 290.8L180.0 288.7L182.8 289.7L180.4 291.5Z" fill="#10bac1"/>
<path d="M174.9 290.0L177.3 287.5L180.0 288.7L177.7 290.8Z" fill="#13bcbd"/>
<path d="M172.2 289.2L174.6 286.3L177.3 287.5L174.9 290.0Z" fill="#16beba"/>
<path d="M169.6 288.2L172.0 284.9L174.6 286.3L172.2 289.2Z" fill="#1abfb6"/>
<path d="M167.0 287.0L169.5 283.3L172.0 284.9L169.6 288.2Z" fill="#20c2af"/>
<path d="M164.4 285.9L166.9 281.8L169.5 283.3L167.0 287.0Z" fill="#25c5a8"/>
<path d="M161.7 285.2L164.2 280.6L166.9 281.8L164.4 285.9Z" fill="#2ac7a3"/>
<path d="M159.0 284.9L161.5 280.0L164.2 280.6L161.7 285.2Z" fill="#2ec99f"/>
<path d="M156.3 285.3L158.7 280.1L161.5 280.0L159.0 284.9Z" fill="#2fc99d"/>
<path d="M153.6 286.7L156.0 281.3L158.7 280.1L156.3 285.3Z" fill="#2fc99d"/>
<path d="M150.8 288.9L153.2 283.6L156.0 281.3L153.6 286.7Z" fill="#2cc8a1"/>
<path d="M148.1 292.0L150.5 286.8L153.2 283.6L150.8 288.9Z" fill="#26c5a7"/>
<path d="M145.3 295.4L147.7 290.5L150.5 286.8L148.1 292.0Z" fill="#1ec1b0"/>
<path d="M142.5 299.1L144.9 294.5L147.7 290.5L145.3 295.4Z" fill="#16beb9"/>
<path d="M139.8 302.7L142.2 298.3L144.9 294.5L142.5 299.1Z" fill="#10bac1"/>
<path d="M137.0 306.0L139.4 301.9L142.2 298.3L139.8 302.7Z" fill="#09b7c8"/>
<path d="M134.3 309.2L136.7 305.3L139.4 301.9L137.0 306.0Z" fill="#0fb3cf"/>
<path d="M131.6 312.3L134.0 308.3L136.7 305.3L134.3 309.2Z" fill="#15aed5"/>
<path d="M128.9 315.3L131.3 311.3L134.0 308.3L131.6 312.3Z" fill="#1baadc"/>
<path d="M126.2 318.6L128.6 314.1L131.3 311.3L128.9 315.3Z" fill="#1fa4e0"/>
<path d="M123.5 321.6L125.9 316.5L128.6 314.1L126.2 318.6Z" fill="#229fe4"/>
<path d="M120.9 324.2L123.4 318.4L125.9 316.5L123.5 321.6Z" fill="#249be7"/>
<path d="M118.3 326.2L120.8 319.7L123.4 318.4L120.9 324.2Z" fill="#2698ea"/>
<path d="M115.7 327.3L118.2 320.3L120.8 319.7L118.3 326.2Z" fill="#2797eb"/>
<path d="M113.0 327.6L115.5 320.4L118.2 320.3L115.7 327.3Z" fill="#2797ea"/>
<path d="M110.3 327.1L112.8 319.8L115.5 320.4L113.0 327.6Z" fill="#2699e9"/>
<path d="M107.6 325.8L110.1 318.8L112.8 319.8L110.3 327.1Z" fill="#249ce6"/>
<path d="M104.9 324.1L107.4 317.4L110.1 318.8L107.6 325.8Z" fill="#21a1e3"/>
<path d="M102.2 322.2L104.6 315.8L107.4 317.4L104.9 324.1Z" fill="#1ea5df"/>
<path d="M99.4 320.2L101.9 314.1L104.6 315.8L102.2 322.2Z" fill="#1aaadb"/>
<path d="M96.7 318.2L99.2 312.3L101.9 314.1L99.4 320.2Z" fill="#15aed5"/>
<path d="M94.0 315.8L96.5 310.2L99.2 312.3L96.7 318.2Z" fill="#0fb3cf"/>
<path d="M91.3 313.1L93.8 307.8L96.5 310.2L94.0 315.8Z" fill="#0ab8c7"/>
<path d="M88.6 310.0L91.1 304.9L93.8 307.8L91.3 313.1Z" fill="#10bbc0"/>
<path d="M85.9 306.4L88.3 301.7L91.1 304.9L88.6 310.0Z" fill="#18beb7"/>
<path d="M83.1 303.3L85.6 298.8L88.3 301.7L85.9 306.4Z" fill="#22c3ac"/>
<path d="M80.4 301.3L82.9 297.2L85.6 298.8L83.1 303.3Z" fill="#29c7a4"/>
<path d="M77.7 301.3L80.2 297.5L82.9 297.2L80.4 301.3Z" fill="#2cc8a1"/>
<path d="M75.0 303.9L77.5 300.5L80.2 297.5L77.7 301.3Z" fill="#2bc7a3"/>
<path d="M72.3 309.0L74.7 305.8L77.5 300.5L75.0 303.9Z" fill="#22c3ad"/>
<path d="M69.5 315.0L72.0 312.0L74.7 305.8L72.3 309.0Z" fill="#15bdbb"/>
<path d="M66.8 320.3L69.3 317.4L72.0 312.0L69.5 315.0Z" fill="#0ab8c7"/>
<path d="M64.1 323.4L66.6 320.3L69.3 317.4L66.8 320.3Z" fill="#11b1d1"/>
<path d="M61.4 323.0L63.9 319.3L66.6 320.3L64.1 323.4Z" fill="#12b0d2"/>
<path d="M58.7 319.9L61.2 315.6L63.9 319.3L61.4 323.0Z" fill="#0bb6ca"/>
<path d="M56.0 316.5L58.4 311.7L61.2 315.6L58.7 319.9Z" fill="#10bac1"/>
<path d="M53.2 315.2L55.7 310.5L58.4 311.7L56.0 316.5Z" fill="#15bdbb"/>
<path d="M50.5 318.5L53.0 314.6L55.7 310.5L53.2 315.2Z" fill="#14bcbc"/>
<path d="M185.5 290.6L187.9 289.3L190.6 290.4L188.2 291.4Z" fill="#0ebac3"/>
<path d="M182.8 289.7L185.1 288.1L187.9 289.3L185.5 290.6Z" fill="#11bbbf"/>
<path d="M180.0 288.7L182.4 286.8L185.1 288.1L182.8 289.7Z" fill="#15bdbb"/>
<path d="M177.3 287.5L179.7 285.4L182.4 286.8L180.0 288.7Z" fill="#18bfb7"/>
<path d="M174.6 286.3L177.0 283.8L179.7 285.4L177.3 287.5Z" fill="#1dc1b1"/>
<path d="M172.0 284.9L174.4 282.1L177.0 283.8L174.6 286.3Z" fill="#24c4aa"/>
<path d="M169.5 283.3L171.9 280.1L174.4 282.1L172.0 284.9Z" fill="#2bc7a2"/>
<path d="M166.9 281.8L169.3 278.1L171.9 280.1L169.5 283.3Z" fill="#32ca9a"/>
<path d="M164.2 280.6L166.6 276.6L169.3 278.1L166.9 281.8Z" fill="#38cc92"/>
<path d="M161.5 280.0L164.0 275.5L166.6 276.6L164.2 280.6Z" fill="#3cce8b"/>
<path d="M158.7 280.1L161.2 275.4L164.0 275.5L161.5 280.0Z" fill="#3fcf88"/>
<path d="M156.0 281.3L158.4 276.5L161.2 275.4L158.7 280.1Z" fill="#3fcf88"/>
<path d="M153.2 283.6L155.7 278.8L158.4 276.5L156.0 281.3Z" fill="#3cce8c"/>
<path d="M150.5 286.8L152.9 282.1L155.7 278.8L153.2 283.6Z" fill="#36cc94"/>
<path d="M147.7 290.5L150.1 286.0L152.9 282.1L150.5 286.8Z" fill="#2ec99f"/>
<path d="M144.9 294.5L147.4 290.2L150.1 286.0L147.7 290.5Z" fill="#24c4aa"/>
<path d="M142.2 298.3L144.6 294.3L147.4 290.2L144.9 294.5Z" fill="#1abfb6"/>
<path d="M139.4 301.9L141.8 298.2L144.6 294.3L142.2 298.3Z" fill="#13bcbd"/>
<path d="M136.7 305.3L139.1 301.6L141.8 298.2L139.4 301.9Z" fill="#0cb9c4"/>
<path d="M134.0 308.3L136.4 304.7L139.1 301.6L136.7 305.3Z" fill="#0bb5cb"/>
<path d="M131.3 311.3L133.7 307.4L136.4 304.7L134.0 308.3Z" fill="#11b1d1"/>
<path d="M128.6 314.1L131.0 309.9L133.7 307.4L131.3 311.3Z" fill="#16add6"/>
<path d="M125.9 316.5L128.4 311.7L131.0 309.9L128.6 314.1Z" fill="#1aaadb"/>
<path d="M123.4 318.4L125.8 313.0L128.4 311.7L125.9 316.5Z" fill="#1da8de"/>
<path d="M120.8 319.7L123.2 313.7L125.8 313.0L123.4 318.4Z" fill="#1ea6df"/>
<path d="M118.2 320.3L120.7 313.8L123.2 313.7L120.8 319.7Z" fill="#1ea6df"/>
<path d="M115.5 320.4L118.0 313.7L120.7 313.8L118.2 320.3Z" fill="#1da7de"/>
<path d="M112.8 319.8L115.3 313.2L118.0 313.7L115.5 320.4Z" fill="#1ba9dc"/>
<path d="M110.1 318.8L112.6 312.3L115.3 313.2L112.8 319.8Z" fill="#18acd9"/>
<path d="M107.4 317.4L109.8 311.1L112.6 312.3L110.1 318.8Z" fill="#14afd4"/>
<path d="M104.6 315.8L107.1 309.8L109.8 311.1L107.4 317.4Z" fill="#10b2d0"/>
<path d="M101.9 314.1L104.4 308.4L107.1 309.8L104.6 315.8Z" fill="#0bb5cb"/>
<path d="M99.2 312.3L101.7 306.9L104.4 308.4L101.9 314.1Z" fill="#0bb8c6"/>
<path d="M96.5 310.2L99.0 305.1L101.7 306.9L99.2 312.3Z" fill="#10bac1"/>
<path d="M93.8 307.8L96.3 303.0L99.0 305.1L96.5 310.2Z" fill="#15bdbb"/>
<path d="M91.1 304.9L93.5 300.3L96.3 303.0L93.8 307.8Z" fill="#1cc0b3"/>
<path d="M88.3 301.7L90.8 297.4L93.5 300.3L91.1 304.9Z" fill="#26c5a8"/>
<path d="M85.6 298.8L88.1 294.9L90.8 297.4L88.3 301.7Z" fill="#30c99c"/>
<path d="M82.9 297.2L85.4 293.5L88.1 294.9L85.6 298.8Z" fill="#36cc93"/>
<path d="M80.2 297.5L82.7 294.1L85.4 293.5L82.9 297.2Z" fill="#38cc91"/>
<path d="M77.5 300.5L80.0 297.4L82.7 294.1L80.2 297.5Z" fill="#36cc94"/>
<path d="M74.7 305.8L77.2 303.1L80.0 297.4L77.5 300.5Z" fill="#2cc8a1"/>
<path d="M72.0 312.0L74.5 309.5L77.2 303.1L74.7 305.8Z" fill="#1dc1b2"/>
<path d="M69.3 317.4L71.8 314.8L74.5 309.5L72.0 312.0Z" fill="#11bbbf"/>
<path d="M66.6 320.3L69.1 317.6L71.8 314.8L69.3 317.4Z" fill="#09b7c9"/>
<path d="M63.9 319.3L66.4 316.1L69.1 317.6L66.6 320.3Z" fill="#0ab7c9"/>
<path d="M61.2 315.6L63.6 311.8L66.4 316.1L63.9 319.3Z" fill="#10bbc0"/>
<path d="M58.4 311.7L60.9 307.5L63.6 311.8L61.2 315.6Z" fill="#19bfb6"/>
<path d="M55.7 310.5L58.2 306.3L60.9 307.5L58.4 311.7Z" fill="#21c3ad"/>
<path d="M53.0 314.6L55.5 311.1L58.2 306.3L55.7 310.5Z" fill="#1fc2b0"/>
<path d="M187.9 289.3L190.2 288.4L193.0 289.6L190.6 290.4Z" fill="#11bbbf"/>
<path d="M185.1 288.1L187.5 286.9L190.2 288.4L187.9 289.3Z" fill="#15bdbb"/>
<path d="M182.4 286.8L184.8 285.4L187.5 286.9L185.1 288.1Z" fill="#19bfb7"/>
<path d="M179.7 285.4L182.1 283.7L184.8 285.4L182.4 286.8Z" fill="#1ec2b0"/>
<path d="M177.0 283.8L179.4 281.8L182.1 283.7L179.7 285.4Z" fill="#25c5a9"/>
<path d="M174.4 282.1L176.8 279.8L179.4 281.8L177.0 283.8Z" fill="#2cc8a1"/>
<path d="M171.9 280.1L174.3 277.5L176.8 279.8L174.4 282.1Z" fill="#34cb97"/>
<path d="M169.3 278.1L171.8 275.2L174.3 277.5L171.9 280.1Z" fill="#3cce8c"/>
<path d="M166.6 276.6L169.1 273.2L171.8 275.2L169.3 278.1Z" fill="#45cf82"/>
<path d="M164.0 275.5L166.4 271.8L169.1 273.2L166.6 276.6Z" fill="#53cf78"/>
<path d="M161.2 275.4L163.6 271.4L166.4 271.8L164.0 275.5Z" fill="#5bcf73"/>
<path d="M158.4 276.5L160.9 272.3L163.6 271.4L161.2 275.4Z" fill="#5bcf73"/>
<path d="M155.7 278.8L158.1 274.6L160.9 272.3L158.4 276.5Z" fill="#56cf76"/>
<path d="M152.9 282.1L155.4 278.0L158.1 274.6L155.7 278.8Z" fill="#48cf80"/>
<path d="M150.1 286.0L152.6 282.1L155.4 278.0L152.9 282.1Z" fill="#3ccd8c"/>
<path d="M147.4 290.2L149.8 286.5L152.6 282.1L150.1 286.0Z" fill="#31ca9a"/>
<path d="M144.6 294.3L147.0 290.9L149.8 286.5L147.4 290.2Z" fill="#26c5a7"/>
<path d="M141.8 298.2L144.2 294.8L147.0 290.9L144.6 294.3Z" fill="#1cc0b3"/>
<path d="M139.1 301.6L141.5 298.4L144.2 294.8L141.8 298.2Z" fill="#14bdbb"/>
<path d="M136.4 304.7L138.8 301.4L141.5 298.4L139.1 301.6Z" fill="#0fbac2"/>
<path d="M133.7 307.4L136.1 304.0L138.8 301.4L136.4 304.7Z" fill="#0ab8c7"/>
<path d="M131.0 309.9L133.4 306.1L136.1 304.0L133.7 307.4Z" fill="#0cb5cc"/>
<path d="M128.4 311.7L130.8 307.4L133.4 306.1L131.0 309.9Z" fill="#0fb2cf"/>
<path d="M125.8 313.0L128.2 308.2L130.8 307.4L128.4 311.7Z" fill="#11b1d1"/>
<path d="M123.2 313.7L125.7 308.4L128.2 308.2L125.8 313.0Z" fill="#11b1d1"/>
<path d="M120.7 313.8L123.2 308.1L125.7 308.4L123.2 313.7Z" fill="#10b2d0"/>
<path d="M118.0 313.7L120.5 307.8L123.2 308.1L120.7 313.8Z" fill="#0eb3ce"/>
<path d="M115.3 313.2L117.8 307.2L120.5 307.8L118.0 313.7Z" fill="#0cb5cb"/>
<path d="M112.6 312.3L115.1 306.5L117.8 307.2L115.3 313.2Z" fill="#09b7c8"/>
<path d="M109.8 311.1L112.3 305.5L115.1 306.5L112.6 312.3Z" fill="#0cb9c5"/>
<path d="M107.1 309.8L109.6 304.5L112.3 305.5L109.8 311.1Z" fill="#0fbac1"/>
<path d="M104.4 308.4L106.9 303.4L109.6 304.5L107.1 309.8Z" fill="#13bcbd"/>
<path d="M101.7 306.9L104.2 302.2L106.9 303.4L104.4 308.4Z" fill="#16beb9"/>
<path d="M99.0 305.1L101.5 300.7L104.2 302.2L101.7 306.9Z" fill="#1bc0b4"/>
<path d="M96.3 303.0L98.7 298.8L101.5 300.7L99.0 305.1Z" fill="#22c3ad"/>
<path d="M93.5 300.3L96.0 296.5L98.7 298.8L96.3 303.0Z" fill="#2ac7a3"/>
<path d="M90.8 297.4L93.3 293.8L96.0 296.5L93.5 300.3Z" fill="#33cb98"/>
<path d="M88.1 294.9L90.6 291.6L93.3 293.8L90.8 297.4Z" fill="#3ccd8c"/>
<path d="M85.4 293.5L87.9 290.5L90.6 291.6L88.1 294.9Z" fill="#42cf85"/>
<path d="M82.7 294.1L85.2 291.4L87.9 290.5L85.4 293.5Z" fill="#44d083"/>
<path d="M80.0 297.4L82.4 295.0L85.2 291.4L82.7 294.1Z" fill="#40cf87"/>
<path d="M77.2 303.1L79.7 300.9L82.4 295.0L80.0 297.4Z" fill="#35cb95"/>
<path d="M74.5 309.5L77.0 307.5L79.7 300.9L77.2 303.1Z" fill="#25c5a8"/>
<path d="M71.8 314.8L74.3 312.9L77.0 307.5L74.5 309.5Z" fill="#16beb9"/>
<path d="M69.1 317.6L71.6 315.5L74.3 312.9L71.8 314.8Z" fill="#0ebac2"/>
<path d="M66.4 316.1L68.8 313.7L71.6 315.5L69.1 317.6Z" fill="#0ebac2"/>
<path d="M63.6 311.8L66.1 308.9L68.8 313.7L66.4 316.1Z" fill="#17beb8"/>
<path d="M60.9 307.5L63.4 304.3L66.1 308.9L63.6 311.8Z" fill="#25c5a9"/>
<path d="M58.2 306.3L60.7 303.0L63.4 304.3L60.9 307.5Z" fill="#2dc8a0"/>
<path d="M55.5 311.1L58.0 308.3L60.7 303.0L58.2 306.3Z" fill="#2bc7a2"/>
<path d="M190.2 288.4L192.6 287.8L195.3 289.3L193.0 289.6Z" fill="#13bcbd"/>
<path d="M187.5 286.9L189.9 286.2L192.6 287.8L190.2 288.4Z" fill="#17beb8"/>
<path d="M184.8 285.4L187.2 284.5L189.9 286.2L187.5 286.9Z" fill="#1dc1b2"/>
<path d="M182.1 283.7L184.5 282.6L187.2 284.5L184.8 285.4Z" fill="#24c4aa"/>
<path d="M179.4 281.8L181.8 280.6L184.5 282.6L182.1 283.7Z" fill="#2bc7a2"/>
<path d="M176.8 279.8L179.2 278.3L181.8 280.6L179.4 281.8Z" fill="#33ca99"/>
<path d="M174.3 277.5L176.8 275.8L179.2 278.3L176.8 279.8Z" fill="#3bcd8d"/>
<path d="M171.8 275.2L174.2 273.2L176.8 275.8L174.3 277.5Z" fill="#47cf81"/>
<path d="M169.1 273.2L171.5 270.8L174.2 273.2L171.8 275.2Z" fill="#5bcf73"/>
<path d="M166.4 271.8L168.9 269.0L171.5 270.8L169.1 273.2Z" fill="#6bce68"/>
<path d="M163.6 271.4L166.1 268.3L168.9 269.0L166.4 271.8Z" fill="#76cd60"/>
<path d="M160.9 272.3L163.3 269.0L166.1 268.3L163.6 271.4Z" fill="#78cd5f"/>
<path d="M158.1 274.6L160.6 271.2L163.3 269.0L160.9 272.3Z" fill="#72ce63"/>
<path d="M155.4 278.0L157.8 274.7L160.6 271.2L158.1 274.6Z" fill="#64ce6d"/>
<path d="M152.6 282.1L155.0 278.9L157.8 274.7L155.4 278.0Z" fill="#4fcf7b"/>
<path d="M149.8 286.5L152.2 283.5L155.0 278.9L152.6 282.1Z" fill="#3dce8b"/>
<path d="M147.0 290.9L149.4 288.0L152.2 283.5L149.8 286.5Z" fill="#31ca9a"/>
<path d="M144.2 294.8L146.6 292.1L149.4 288.0L147.0 290.9Z" fill="#26c5a8"/>
<path d="M141.5 298.4L143.9 295.7L146.6 292.1L144.2 294.8Z" fill="#1cc0b3"/>
<path d="M138.8 301.4L141.2 298.7L143.9 295.7L141.5 298.4Z" fill="#16bdba"/>
<path d="M136.1 304.0L138.5 301.1L141.2 298.7L138.8 301.4Z" fill="#11bbbf"/>
<path d="M133.4 306.1L135.8 302.8L138.5 301.1L136.1 304.0Z" fill="#0eb9c3"/>
<path d="M130.8 307.4L133.2 303.8L135.8 302.8L133.4 306.1Z" fill="#0bb8c5"/>
<path d="M128.2 308.2L130.7 304.0L133.2 303.8L130.8 307.4Z" fill="#0bb8c6"/>
<path d="M125.7 308.4L128.2 303.8L130.7 304.0L128.2 308.2Z" fill="#0cb9c5"/>
<path d="M123.2 308.1L125.7 303.3L128.2 303.8L125.7 308.4Z" fill="#0ebac3"/>
<path d="M120.5 307.8L123.0 302.8L125.7 303.3L123.2 308.1Z" fill="#10bbc0"/>
<path d="M117.8 307.2L120.3 302.2L123.0 302.8L120.5 307.8Z" fill="#12bcbe"/>
<path d="M115.1 306.5L117.5 301.6L120.3 302.2L117.8 307.2Z" fill="#15bdbb"/>
<path d="M112.3 305.5L114.8 300.8L117.5 301.6L115.1 306.5Z" fill="#17beb8"/>
<path d="M109.6 304.5L112.1 300.1L114.8 300.8L112.3 305.5Z" fill="#1abfb5"/>
<path d="M106.9 303.4L109.4 299.2L112.1 300.1L109.6 304.5Z" fill="#1ec1b0"/>
<path d="M104.2 302.2L106.7 298.3L109.4 299.2L106.9 303.4Z" fill="#23c4ab"/>
<path d="M101.5 300.7L103.9 297.1L106.7 298.3L104.2 302.2Z" fill="#28c6a6"/>
<path d="M98.7 298.8L101.2 295.5L103.9 297.1L101.5 300.7Z" fill="#2ec99f"/>
<path d="M96.0 296.5L98.5 293.5L101.2 295.5L98.7 298.8Z" fill="#35cb95"/>
<path d="M93.3 293.8L95.8 291.2L98.5 293.5L96.0 296.5Z" fill="#3dce8a"/>
<path d="M90.6 291.6L93.1 289.2L95.8 291.2L93.3 293.8Z" fill="#4acf7f"/>
<path d="M87.9 290.5L90.4 288.5L93.1 289.2L90.6 291.6Z" fill="#55cf77"/>
<path d="M85.2 291.4L87.6 289.6L90.4 288.5L87.9 290.5Z" fill="#57cf75"/>
<path d="M82.4 295.0L84.9 293.5L87.6 289.6L85.2 291.4Z" fill="#4ecf7c"/>
<path d="M79.7 300.9L82.2 299.6L84.9 293.5L82.4 295.0Z" fill="#3cce8c"/>
<path d="M77.0 307.5L79.5 306.2L82.2 299.6L79.7 300.9Z" fill="#2cc8a1"/>
<path d="M74.3 312.9L76.8 311.7L79.5 306.2L77.0 307.5Z" fill="#1bc0b4"/>
<path d="M71.6 315.5L74.1 314.2L76.8 311.7L74.3 312.9Z" fill="#12bcbe"/>
<path d="M68.8 313.7L71.3 312.1L74.1 314.2L71.6 315.5Z" fill="#13bcbd"/>
<path d="M66.1 308.9L68.6 307.0L71.3 312.1L68.8 313.7Z" fill="#1ec1b1"/>
<path d="M63.4 304.3L65.9 302.1L68.6 307.0L66.1 308.9Z" fill="#2ec99f"/>
<path d="M60.7 303.0L63.2 300.7L65.9 302.1L63.4 304.3Z" fill="#36cc94"/>
<path d="M58.0 308.3L60.5 306.2L63.2 300.7L60.7 303.0Z" fill="#34cb97"/>
<path d="M192.6 287.8L195.0 287.8L197.7 289.4L195.3 289.3Z" fill="#15bdbb"/>
<path d="M189.9 286.2L192.3 286.1L195.0 287.8L192.6 287.8Z" fill="#19bfb6"/>
<path d="M187.2 284.5L189.6 284.3L192.3 286.1L189.9 286.2Z" fill="#20c2af"/>
<path d="M184.5 282.6L186.9 282.3L189.6 284.3L187.2 284.5Z" fill="#27c5a7"/>
<path d="M181.8 280.6L184.2 280.1L186.9 282.3L184.5 282.6Z" fill="#2ec99e"/>
<path d="M179.2 278.3L181.6 277.8L184.2 280.1L181.8 280.6Z" fill="#36cc93"/>
<path d="M176.8 275.8L179.2 275.1L181.6 277.8L179.2 278.3Z" fill="#3fcf87"/>
<path d="M174.2 273.2L176.7 272.3L179.2 275.1L176.8 275.8Z" fill="#53cf78"/>
<path d="M171.5 270.8L174.0 269.5L176.7 272.3L174.2 273.2Z" fill="#69ce69"/>
<path d="M168.9 269.0L171.3 267.3L174.0 269.5L171.5 270.8Z" fill="#7ecc5a"/>
<path d="M166.1 268.3L168.5 266.3L171.3 267.3L168.9 269.0Z" fill="#8eca4f"/>
<path d="M163.3 269.0L165.8 266.7L168.5 266.3L166.1 268.3Z" fill="#92ca4c"/>
<path d="M160.6 271.2L163.0 268.9L165.8 266.7L163.3 269.0Z" fill="#8dca4f"/>
<path d="M157.8 274.7L160.2 272.4L163.0 268.9L160.6 271.2Z" fill="#7ccd5c"/>
<path d="M155.0 278.9L157.4 276.7L160.2 272.4L157.8 274.7Z" fill="#64ce6d"/>
<path d="M152.2 283.5L154.6 281.4L157.4 276.7L155.0 278.9Z" fill="#4acf7f"/>
<path d="M149.4 288.0L151.8 285.9L154.6 281.4L152.2 283.5Z" fill="#3acd8f"/>
<path d="M146.6 292.1L149.0 290.1L151.8 285.9L149.4 288.0Z" fill="#2ec99e"/>
<path d="M143.9 295.7L146.3 293.6L149.0 290.1L146.6 292.1Z" fill="#24c4a9"/>
<path d="M141.2 298.7L143.6 296.5L146.3 293.6L143.9 295.7Z" fill="#1cc0b3"/>
<path d="M138.5 301.1L140.9 298.7L143.6 296.5L141.2 298.7Z" fill="#17beb9"/>
<path d="M135.8 302.8L138.2 300.2L140.9 298.7L138.5 301.1Z" fill="#14bcbc"/>
<path d="M133.2 303.8L135.6 300.8L138.2 300.2L135.8 302.8Z" fill="#12bcbe"/>
<path d="M130.7 304.0L133.1 300.8L135.6 300.8L133.2 303.8Z" fill="#13bcbd"/>
<path d="M128.2 303.8L130.6 300.3L133.1 300.8L130.7 304.0Z" fill="#15bdbb"/>
<path d="M125.7 303.3L128.1 299.6L130.6 300.3L128.2 303.8Z" fill="#17beb8"/>
<path d="M123.0 302.8L125.5 299.0L128.1 299.6L125.7 303.3Z" fill="#19bfb6"/>
<path d="M120.3 302.2L122.7 298.4L125.5 299.0L123.0 302.8Z" fill="#1dc1b2"/>
<path d="M117.5 301.6L120.0 297.9L122.7 298.4L120.3 302.2Z" fill="#20c2af"/>
<path d="M114.8 300.8L117.3 297.3L120.0 297.9L117.5 301.6Z" fill="#23c4ab"/>
<path d="M112.1 300.1L114.6 296.7L117.3 297.3L114.8 300.8Z" fill="#27c5a7"/>
<path d="M109.4 299.2L111.9 296.1L114.6 296.7L112.1 300.1Z" fill="#2ac7a3"/>
<path d="M106.7 298.3L109.2 295.5L111.9 296.1L109.4 299.2Z" fill="#2ec99f"/>
<path d="M103.9 297.1L106.4 294.6L109.2 295.5L106.7 298.3Z" fill="#32ca99"/>
<path d="M101.2 295.5L103.7 293.4L106.4 294.6L103.9 297.1Z" fill="#37cc92"/>
<path d="M98.5 293.5L101.0 291.6L103.7 293.4L101.2 295.5Z" fill="#3dce8a"/>
<path d="M95.8 291.2L98.3 289.6L101.0 291.6L98.5 293.5Z" fill="#49cf7f"/>
<path d="M93.1 289.2L95.6 288.0L98.3 289.6L95.8 291.2Z" fill="#59cf74"/>
<path d="M90.4 288.5L92.8 287.5L95.6 288.0L93.1 289.2Z" fill="#63cf6e"/>
<path d="M87.6 289.6L90.1 288.9L92.8 287.5L90.4 288.5Z" fill="#64ce6d"/>
<path d="M84.9 293.5L87.4 292.9L90.1 288.9L87.6 289.6Z" fill="#59cf74"/>
<path d="M82.2 299.6L84.7 299.2L87.4 292.9L84.9 293.5Z" fill="#40cf87"/>
<path d="M79.5 306.2L82.0 305.9L84.7 299.2L82.2 299.6Z" fill="#2fc99d"/>
<path d="M76.8 311.7L79.3 311.4L82.0 305.9L79.5 306.2Z" fill="#1ec1b0"/>
<path d="M74.1 314.2L76.5 313.8L79.3 311.4L76.8 311.7Z" fill="#15bdbb"/>
<path d="M71.3 312.1L73.8 311.7L76.5 313.8L74.1 314.2Z" fill="#16bdba"/>
<path d="M68.6 307.0L71.1 306.4L73.8 311.7L71.3 312.1Z" fill="#22c3ac"/>
<path d="M65.9 302.1L68.4 301.3L71.1 306.4L68.6 307.0Z" fill="#33ca98"/>
<path d="M63.2 300.7L65.7 299.7L68.4 301.3L65.9 302.1Z" fill="#3ccd8c"/>
<path d="M60.5 306.2L62.9 305.1L65.7 299.7L63.2 300.7Z" fill="#39cd90"/>
<path d="M195.0 287.8L197.4 288.5L200.1 290.2L197.7 289.4Z" fill="#15bdbb"/>
<path d="M192.3 286.1L194.7 286.7L197.4 288.5L195.0 287.8Z" fill="#19bfb6"/>
<path d="M189.6 284.3L192.0 284.9L194.7 286.7L192.3 286.1Z" fill="#20c2ae"/>
<ellipse cx="193.6" cy="286.1" rx="1.4" ry="1.0" fill="#000" stroke="none"/>
<path d="M186.9 282.3L189.3 282.9L192.0 284.9L189.6 284.3Z" fill="#27c6a6"/>
<path d="M184.2 280.1L186.5 280.7L189.3 282.9L186.9 282.3Z" fill="#2fc99d"/>
<path d="M181.6 277.8L184.0 278.3L186.5 280.7L184.2 280.1Z" fill="#37cc92"/>
<path d="M179.2 275.1L181.6 275.7L184.0 278.3L181.6 277.8Z" fill="#41cf86"/>
<path d="M176.7 272.3L179.1 272.7L181.6 275.7L179.2 275.1Z" fill="#56cf76"/>
<ellipse cx="180.6" cy="275.2" rx="1.4" ry="1.0" fill="#000" stroke="none"/>
<path d="M174.0 269.5L176.4 269.5L179.1 272.7L176.7 272.3Z" fill="#6ece66"/>
<path d="M171.3 267.3L173.8 267.0L176.4 269.5L174.0 269.5Z" fill="#89cb52"/>
<path d="M168.5 266.3L171.0 265.5L173.8 267.0L171.3 267.3Z" fill="#9bc945"/>
<path d="M165.8 266.7L168.2 265.7L171.0 265.5L168.5 266.3Z" fill="#a2c840"/>
<ellipse cx="167.6" cy="265.8" rx="1.4" ry="1.0" fill="#000" stroke="none"/>
<path d="M163.0 268.9L165.4 267.7L168.2 265.7L165.8 266.7Z" fill="#9ec842"/>
<path d="M160.2 272.4L162.7 271.2L165.4 267.7L163.0 268.9Z" fill="#8eca4f"/>
<path d="M157.4 276.7L159.9 275.6L162.7 271.2L160.2 272.4Z" fill="#73ce63"/>
<path d="M154.6 281.4L157.0 280.3L159.9 275.6L157.4 276.7Z" fill="#58cf75"/>
<path d="M151.8 285.9L154.2 284.8L157.0 280.3L154.6 281.4Z" fill="#3fcf88"/>
<ellipse cx="154.6" cy="283.4" rx="1.4" ry="1.0" fill="#000" stroke="none"/>
<path d="M149.0 290.1L151.4 288.9L154.2 284.8L151.8 285.9Z" fill="#34cb96"/>
<path d="M146.3 293.6L148.7 292.3L151.4 288.9L149.0 290.1Z" fill="#2ac7a3"/>
<path d="M143.6 296.5L146.0 295.1L148.7 292.3L146.3 293.6Z" fill="#22c3ac"/>
<path d="M140.9 298.7L143.3 297.1L146.0 295.1L143.6 296.5Z" fill="#1cc1b2"/>
<path d="M138.2 300.2L140.6 298.4L143.3 297.1L140.9 298.7Z" fill="#19bfb6"/>
<ellipse cx="141.6" cy="298.1" rx="1.4" ry="1.0" fill="#000" stroke="none"/>
<path d="M135.6 300.8L138.0 298.8L140.6 298.4L138.2 300.2Z" fill="#18beb7"/>
<path d="M133.1 300.8L135.6 298.6L138.0 298.8L135.6 300.8Z" fill="#19bfb6"/>
<path d="M130.6 300.3L133.1 298.0L135.6 298.6L133.1 300.8Z" fill="#1cc0b3"/>
<path d="M128.1 299.6L130.6 297.3L133.1 298.0L130.6 300.3Z" fill="#20c2af"/>
<path d="M125.5 299.0L127.9 296.6L130.6 297.3L128.1 299.6Z" fill="#23c4ab"/>
<ellipse cx="128.5" cy="298.4" rx="1.4" ry="1.0" fill="#000" stroke="none"/>
<path d="M122.7 298.4L125.2 296.0L127.9 296.6L125.5 299.0Z" fill="#27c5a7"/>
<path d="M120.0 297.9L122.5 295.5L125.2 296.0L122.7 298.4Z" fill="#2ac7a3"/>
<path d="M117.3 297.3L119.8 295.0L122.5 295.5L120.0 297.9Z" fill="#2dc8a0"/>
<path d="M114.6 296.7L117.1 294.6L119.8 295.0L117.3 297.3Z" fill="#30ca9c"/>
<ellipse cx="115.5" cy="295.8" rx="1.4" ry="1.0" fill="#000" stroke="none"/>
<path d="M111.9 296.1L114.4 294.2L117.1 294.6L114.6 296.7Z" fill="#33ca98"/>
<path d="M109.2 295.5L111.6 293.9L114.4 294.2L111.9 296.1Z" fill="#35cb95"/>
<path d="M106.4 294.6L108.9 293.3L111.6 293.9L109.2 295.5Z" fill="#39cc90"/>
<path d="M103.7 293.4L106.2 292.4L108.9 293.3L106.4 294.6Z" fill="#3dce8b"/>
<path d="M101.0 291.6L103.5 291.1L106.2 292.4L103.7 293.4Z" fill="#43d084"/>
<ellipse cx="102.5" cy="291.7" rx="1.4" ry="1.0" fill="#000" stroke="none"/>
<path d="M98.3 289.6L100.8 289.4L103.5 291.1L101.0 291.6Z" fill="#52cf79"/>
<path d="M95.6 288.0L98.0 288.0L100.8 289.4L98.3 289.6Z" fill="#60cf70"/>
<path d="M92.8 287.5L95.3 287.8L98.0 288.0L95.6 288.0Z" fill="#68ce6a"/>
<path d="M90.1 288.9L92.6 289.4L95.3 287.8L92.8 287.5Z" fill="#68ce6a"/>
<path d="M87.4 292.9L89.9 293.5L92.6 289.4L90.1 288.9Z" fill="#5ccf72"/>
<ellipse cx="89.5" cy="290.8" rx="1.4" ry="1.0" fill="#000" stroke="none"/>
<path d="M84.7 299.2L87.2 299.8L89.9 293.5L87.4 292.9Z" fill="#41cf85"/>
<path d="M82.0 305.9L84.5 306.6L87.2 299.8L84.7 299.2Z" fill="#30ca9c"/>
<path d="M79.3 311.4L81.7 312.1L84.5 306.6L82.0 305.9Z" fill="#1fc2b0"/>
<path d="M76.5 313.8L79.0 314.6L81.7 312.1L79.3 311.4Z" fill="#15bdbb"/>
<path d="M73.8 311.7L76.3 312.5L79.0 314.6L76.5 313.8Z" fill="#16beb9"/>
<ellipse cx="76.5" cy="313.8" rx="1.4" ry="1.0" fill="#000" stroke="none"/>
<path d="M71.1 306.4L73.6 307.3L76.3 312.5L73.8 311.7Z" fill="#23c4ab"/>
<path d="M68.4 301.3L70.9 302.1L73.6 307.3L71.1 306.4Z" fill="#34cb97"/>
<ellipse cx="70.0" cy="302.6" rx="1.4" ry="1.0" fill="#000" stroke="none"/>
<path d="M65.7 299.7L68.2 300.3L70.9 302.1L68.4 301.3Z" fill="#3dce8b"/>
<path d="M62.9 305.1L65.4 305.1L68.2 300.3L65.7 299.7Z" fill="#3bcd8d"/>
<path d="M197.4 288.5L199.8 289.8L202.5 291.5L200.1 290.2Z" fill="#14bdbc"/>
<path d="M194.7 286.7L197.1 288.1L199.8 289.8L197.4 288.5Z" fill="#19bfb6"/>
<path d="M192.0 284.9L194.4 286.4L197.1 288.1L194.7 286.7Z" fill="#1fc2af"/>
<path d="M189.3 282.9L191.6 284.5L194.4 286.4L192.0 284.9Z" fill="#26c5a7"/>
<path d="M186.5 280.7L188.9 282.4L191.6 284.5L189.3 282.9Z" fill="#2ec99e"/>
<path d="M184.0 278.3L186.4 280.1L188.9 282.4L186.5 280.7Z" fill="#36cc93"/>
<path d="M181.6 275.7L184.0 277.6L186.4 280.1L184.0 278.3Z" fill="#3fcf87"/>
<path d="M179.1 272.7L181.6 274.4L184.0 277.6L181.6 275.7Z" fill="#54cf78"/>
<path d="M176.4 269.5L178.9 270.9L181.6 274.4L179.1 272.7Z" fill="#6dce66"/>
<path d="M173.8 267.0L176.2 268.0L178.9 270.9L176.4 269.5Z" fill="#89cb52"/>
<path d="M171.0 265.5L173.4 266.1L176.2 268.0L173.8 267.0Z" fill="#9ec843"/>
<path d="M168.2 265.7L170.7 265.9L173.4 266.1L171.0 265.5Z" fill="#a7c73c"/>
<path d="M165.4 267.7L167.9 267.8L170.7 265.9L168.2 265.7Z" fill="#a5c83e"/>
<path d="M162.7 271.2L165.1 271.2L167.9 267.8L165.4 267.7Z" fill="#95ca49"/>
<path d="M159.9 275.6L162.3 275.5L165.1 271.2L162.7 271.2Z" fill="#7acd5d"/>
<path d="M157.0 280.3L159.5 280.2L162.3 275.5L159.9 275.6Z" fill="#5ecf71"/>
<path d="M154.2 284.8L156.6 284.7L159.5 280.2L157.0 280.3Z" fill="#42d084"/>
<path d="M151.4 288.9L153.8 288.6L156.6 284.7L154.2 284.8Z" fill="#37cc93"/>
<path d="M148.7 292.3L151.1 291.9L153.8 288.6L151.4 288.9Z" fill="#2ec99f"/>
<path d="M146.0 295.1L148.4 294.4L151.1 291.9L148.7 292.3Z" fill="#26c5a7"/>
<path d="M143.3 297.1L145.7 296.3L148.4 294.4L146.0 295.1Z" fill="#21c3ad"/>
<path d="M140.6 298.4L143.0 297.4L145.7 296.3L143.3 297.1Z" fill="#1ec1b1"/>
<path d="M138.0 298.8L140.5 297.7L143.0 297.4L140.6 298.4Z" fill="#1dc1b2"/>
<path d="M135.6 298.6L138.0 297.5L140.5 297.7L138.0 298.8Z" fill="#1fc2b0"/>
<path d="M133.1 298.0L135.6 297.0L138.0 297.5L135.6 298.6Z" fill="#22c3ac"/>
<path d="M130.6 297.3L133.1 296.2L135.6 297.0L133.1 298.0Z" fill="#25c5a8"/>
<path d="M127.9 296.6L130.4 295.6L133.1 296.2L130.6 297.3Z" fill="#29c7a4"/>
<path d="M125.2 296.0L127.7 294.9L130.4 295.6L127.9 296.6Z" fill="#2dc8a0"/>
<path d="M122.5 295.5L125.0 294.4L127.7 294.9L125.2 296.0Z" fill="#30ca9c"/>
<path d="M119.8 295.0L122.3 293.9L125.0 294.4L122.5 295.5Z" fill="#33cb98"/>
<path d="M117.1 294.6L119.6 293.7L122.3 293.9L119.8 295.0Z" fill="#35cb95"/>
<path d="M114.4 294.2L116.8 293.6L119.6 293.7L117.1 294.6Z" fill="#38cc92"/>
<path d="M111.6 293.9L114.1 293.5L116.8 293.6L114.4 294.2Z" fill="#3acd8f"/>
<path d="M108.9 293.3L111.4 293.3L114.1 293.5L111.6 293.9Z" fill="#3cce8c"/>
<path d="M106.2 292.4L108.7 292.7L111.4 293.3L108.9 293.3Z" fill="#3fcf88"/>
<path d="M103.5 291.1L106.0 291.7L108.7 292.7L106.2 292.4Z" fill="#46cf82"/>
<path d="M100.8 289.4L103.3 290.3L106.0 291.7L103.5 291.1Z" fill="#53cf78"/>
<path d="M98.0 288.0L100.5 289.3L103.3 290.3L100.8 289.4Z" fill="#60cf6f"/>
<path d="M95.3 287.8L97.8 289.3L100.5 289.3L98.0 288.0Z" fill="#67ce6a"/>
<path d="M92.6 289.4L95.1 291.0L97.8 289.3L95.3 287.8Z" fill="#66ce6b"/>
<path d="M89.9 293.5L92.4 295.3L95.1 291.0L92.6 289.4Z" fill="#5acf74"/>
<path d="M87.2 299.8L89.7 301.6L92.4 295.3L89.9 293.5Z" fill="#40cf87"/>
<path d="M84.5 306.6L86.9 308.4L89.7 301.6L87.2 299.8Z" fill="#2fc99e"/>
<path d="M81.7 312.1L84.2 313.9L86.9 308.4L84.5 306.6Z" fill="#1ec1b1"/>
<path d="M79.0 314.6L81.5 316.5L84.2 313.9L81.7 312.1Z" fill="#14bdbc"/>
<path d="M76.3 312.5L78.8 314.6L81.5 316.5L79.0 314.6Z" fill="#15bdbb"/>
<path d="M73.6 307.3L76.1 309.5L78.8 314.6L76.3 312.5Z" fill="#21c3ad"/>
<path d="M70.9 302.1L73.4 304.4L76.1 309.5L73.6 307.3Z" fill="#32ca9a"/>
<path d="M68.2 300.3L70.6 302.2L73.4 304.4L70.9 302.1Z" fill="#3ccd8d"/>
<path d="M65.4 305.1L67.9 306.1L70.6 302.2L68.2 300.3Z" fill="#3acd8e"/>
<path d="M199.8 289.8L202.2 291.7L204.9 293.4L202.5 291.5Z" fill="#12bcbe"/>
<path d="M197.1 288.1L199.5 290.2L202.2 291.7L199.8 289.8Z" fill="#17beb9"/>
<path d="M194.4 286.4L196.7 288.6L199.5 290.2L197.1 288.1Z" fill="#1cc0b3"/>
<path d="M191.6 284.5L194.0 287.0L196.7 288.6L194.4 286.4Z" fill="#23c4ab"/>
<path d="M188.9 282.4L191.3 285.0L194.0 287.0L191.6 284.5Z" fill="#2ac7a3"/>
<path d="M186.4 280.1L188.8 282.9L191.3 285.0L188.9 282.4Z" fill="#32ca99"/>
<path d="M184.0 277.6L186.5 280.5L188.8 282.9L186.4 280.1Z" fill="#3bcd8d"/>
<path d="M181.6 274.4L184.0 277.2L186.5 280.5L184.0 277.6Z" fill="#4acf7e"/>
<path d="M178.9 270.9L181.3 273.4L184.0 277.2L181.6 274.4Z" fill="#65ce6c"/>
<path d="M176.2 268.0L178.7 270.1L181.3 273.4L178.9 270.9Z" fill="#82cc57"/>
<path d="M173.4 266.1L175.9 267.8L178.7 270.1L176.2 268.0Z" fill="#9ac946"/>
<path d="M170.7 265.9L173.1 267.3L175.9 267.8L173.4 266.1Z" fill="#a5c83e"/>
<path d="M167.9 267.8L170.3 269.0L173.1 267.3L170.7 265.9Z" fill="#a4c83e"/>
<path d="M165.1 271.2L167.5 272.3L170.3 269.0L167.9 267.8Z" fill="#95ca49"/>
<path d="M162.3 275.5L164.7 276.5L167.5 272.3L165.1 271.2Z" fill="#7bcd5d"/>
<path d="M159.5 280.2L161.9 281.1L164.7 276.5L162.3 275.5Z" fill="#5ecf70"/>
<path d="M156.6 284.7L159.1 285.4L161.9 281.1L159.5 280.2Z" fill="#43d083"/>
<path d="M153.8 288.6L156.2 289.1L159.1 285.4L156.6 284.7Z" fill="#38cc92"/>
<path d="M151.1 291.9L153.5 292.1L156.2 289.1L153.8 288.6Z" fill="#2fc99e"/>
<path d="M148.4 294.4L150.8 294.5L153.5 292.1L151.1 291.9Z" fill="#28c6a5"/>
<path d="M145.7 296.3L148.1 296.1L150.8 294.5L148.4 294.4Z" fill="#23c4ab"/>
<path d="M143.0 297.4L145.4 297.1L148.1 296.1L145.7 296.3Z" fill="#20c2ae"/>
<path d="M140.5 297.7L142.9 297.4L145.4 297.1L143.0 297.4Z" fill="#20c2ae"/>
<path d="M138.0 297.5L140.5 297.3L142.9 297.4L140.5 297.7Z" fill="#22c3ac"/>
<path d="M135.6 297.0L138.0 296.9L140.5 297.3L138.0 297.5Z" fill="#25c4a9"/>
<path d="M133.1 296.2L135.6 296.3L138.0 296.9L135.6 297.0Z" fill="#28c6a5"/>
<path d="M130.4 295.6L132.9 295.6L135.6 296.3L133.1 296.2Z" fill="#2cc8a1"/>
<path d="M127.7 294.9L130.2 295.0L132.9 295.6L130.4 295.6Z" fill="#2fc99d"/>
<path d="M125.0 294.4L127.5 294.4L130.2 295.0L127.7 294.9Z" fill="#32ca99"/>
<path d="M122.3 293.9L124.8 294.0L127.5 294.4L125.0 294.4Z" fill="#35cb95"/>
<path d="M119.6 293.7L122.0 293.8L124.8 294.0L122.3 293.9Z" fill="#38cc92"/>
<path d="M116.8 293.6L119.3 293.9L122.0 293.8L119.6 293.7Z" fill="#39cd8f"/>
<path d="M114.1 293.5L116.6 294.1L119.3 293.9L116.8 293.6Z" fill="#3bcd8e"/>
<path d="M111.4 293.3L113.9 294.2L116.6 294.1L114.1 293.5Z" fill="#3dce8b"/>
<path d="M108.7 292.7L111.2 294.0L113.9 294.2L111.4 293.3Z" fill="#3fcf88"/>
<path d="M106.0 291.7L108.5 293.4L111.2 294.0L108.7 292.7Z" fill="#44d083"/>
<path d="M103.3 290.3L105.7 292.4L108.5 293.4L106.0 291.7Z" fill="#4fcf7b"/>
<path d="M100.5 289.3L103.0 291.6L105.7 292.4L103.3 290.3Z" fill="#5acf73"/>
<path d="M97.8 289.3L100.3 291.8L103.0 291.6L100.5 289.3Z" fill="#5fcf70"/>
<path d="M95.1 291.0L97.6 293.7L100.3 291.8L97.8 289.3Z" fill="#5ecf71"/>
<path d="M92.4 295.3L94.9 298.0L97.6 293.7L95.1 291.0Z" fill="#50cf7a"/>
<path d="M89.7 301.6L92.1 304.2L94.9 298.0L92.4 295.3Z" fill="#3ccd8c"/>
<path d="M86.9 308.4L89.4 311.0L92.1 304.2L89.7 301.6Z" fill="#2bc7a2"/>
<path d="M84.2 313.9L86.7 316.5L89.4 311.0L86.9 308.4Z" fill="#1abfb6"/>
<path d="M81.5 316.5L84.0 319.1L86.7 316.5L84.2 313.9Z" fill="#11bbbf"/>
<path d="M78.8 314.6L81.3 317.5L84.0 319.1L81.5 316.5Z" fill="#12bbbe"/>
<path d="M76.1 309.5L78.6 312.8L81.3 317.5L78.8 314.6Z" fill="#1cc0b3"/>
<path d="M73.4 304.4L75.8 307.8L78.6 312.8L76.1 309.5Z" fill="#2cc8a1"/>
<path d="M70.6 302.2L73.1 305.2L75.8 307.8L73.4 304.4Z" fill="#36cc93"/>
<path d="M67.9 306.1L70.4 308.0L73.1 305.2L70.6 302.2Z" fill="#37cc93"/>
<path d="M202.2 291.7L204.6 294.1L207.3 295.7L204.9 293.4Z" fill="#0fbac1"/>
<path d="M199.5 290.2L201.8 292.7L204.6 294.1L202.2 291.7Z" fill="#14bcbc"/>
<path d="M196.7 288.6L199.1 291.5L201.8 292.7L199.5 290.2Z" fill="#18beb8"/>
<path d="M194.0 287.0L196.4 290.1L199.1 291.5L196.7 288.6Z" fill="#1dc1b2"/>
<path d="M191.3 285.0L193.7 288.4L196.4 290.1L194.0 287.0Z" fill="#24c4aa"/>
<path d="M188.8 282.9L191.2 286.4L193.7 288.4L191.3 285.0Z" fill="#2bc8a2"/>
<path d="M186.5 280.5L188.9 284.2L191.2 286.4L188.8 282.9Z" fill="#34cb97"/>
<path d="M184.0 277.2L186.5 280.8L188.9 284.2L186.5 280.5Z" fill="#3ece89"/>
<path d="M181.3 273.4L183.8 276.7L186.5 280.8L184.0 277.2Z" fill="#56cf76"/>
<path d="M178.7 270.1L181.1 273.1L183.8 276.7L181.3 273.4Z" fill="#72ce63"/>
<path d="M175.9 267.8L178.3 270.3L181.1 273.1L178.7 270.1Z" fill="#8dca4f"/>
<path d="M173.1 267.3L175.6 269.5L178.3 270.3L175.9 267.8Z" fill="#9bc945"/>
<path d="M170.3 269.0L172.8 271.0L175.6 269.5L173.1 267.3Z" fill="#9cc944"/>
<path d="M167.5 272.3L170.0 274.1L172.8 271.0L170.3 269.0Z" fill="#8eca4e"/>
<path d="M164.7 276.5L167.1 278.3L170.0 274.1L167.5 272.3Z" fill="#75ce61"/>
<path d="M161.9 281.1L164.3 282.7L167.1 278.3L164.7 276.5Z" fill="#5acf73"/>
<path d="M159.1 285.4L161.5 286.9L164.3 282.7L161.9 281.1Z" fill="#41cf85"/>
<path d="M156.2 289.1L158.6 290.3L161.5 286.9L159.1 285.4Z" fill="#37cc93"/>
<path d="M153.5 292.1L155.9 293.0L158.6 290.3L156.2 289.1Z" fill="#2fc99e"/>
<path d="M150.8 294.5L153.2 295.1L155.9 293.0L153.5 292.1Z" fill="#28c6a5"/>
<path d="M148.1 296.1L150.5 296.6L153.2 295.1L150.8 294.5Z" fill="#24c4aa"/>
<path d="M145.4 297.1L147.8 297.4L150.5 296.6L148.1 296.1Z" fill="#21c3ad"/>
<path d="M142.9 297.4L145.3 297.8L147.8 297.4L145.4 297.1Z" fill="#21c3ad"/>
<path d="M140.5 297.3L142.9 297.9L145.3 297.8L142.9 297.4Z" fill="#23c3ac"/>
<path d="M138.0 296.9L140.5 297.7L142.9 297.9L140.5 297.3Z" fill="#25c5a9"/>
<path d="M135.6 296.3L138.1 297.3L140.5 297.7L138.0 296.9Z" fill="#28c6a5"/>
<path d="M132.9 295.6L135.4 296.7L138.1 297.3L135.6 296.3Z" fill="#2cc8a1"/>
<path d="M130.2 295.0L132.7 296.0L135.4 296.7L132.9 295.6Z" fill="#2fc99d"/>
<path d="M127.5 294.4L130.0 295.3L132.7 296.0L130.2 295.0Z" fill="#33ca98"/>
<path d="M124.8 294.0L127.3 294.9L130.0 295.3L127.5 294.4Z" fill="#36cb95"/>
<path d="M122.0 293.8L124.5 294.8L127.3 294.9L124.8 294.0Z" fill="#38cc92"/>
<path d="M119.3 293.9L121.8 295.1L124.5 294.8L122.0 293.8Z" fill="#39cd90"/>
<path d="M116.6 294.1L119.1 295.5L121.8 295.1L119.3 293.9Z" fill="#3acd8e"/>
<path d="M113.9 294.2L116.4 296.0L119.1 295.5L116.6 294.1Z" fill="#3bcd8d"/>
<path d="M111.2 294.0L113.7 296.2L116.4 296.0L113.9 294.2Z" fill="#3dce8b"/>
<path d="M108.5 293.4L110.9 295.9L113.7 296.2L111.2 294.0Z" fill="#3fcf88"/>
<path d="M105.7 292.4L108.2 295.2L110.9 295.9L108.5 293.4Z" fill="#45cf82"/>
<path d="M103.0 291.6L105.5 294.7L108.2 295.2L105.7 292.4Z" fill="#4dcf7c"/>
<path d="M100.3 291.8L102.8 295.1L105.5 294.7L103.0 291.6Z" fill="#51cf7a"/>
<path d="M97.6 293.7L100.1 297.2L102.8 295.1L100.3 291.8Z" fill="#4fcf7b"/>
<path d="M94.9 298.0L97.4 301.4L100.1 297.2L97.6 293.7Z" fill="#41cf85"/>
<path d="M92.1 304.2L94.6 307.6L97.4 301.4L94.9 298.0Z" fill="#35cb95"/>
<path d="M89.4 311.0L91.9 314.1L94.6 307.6L92.1 304.2Z" fill="#24c4aa"/>
<path d="M86.7 316.5L89.2 319.6L91.9 314.1L89.4 311.0Z" fill="#15bdba"/>
<path d="M84.0 319.1L86.5 322.4L89.2 319.6L86.7 316.5Z" fill="#0db9c4"/>
<path d="M81.3 317.5L83.8 321.1L86.5 322.4L84.0 319.1Z" fill="#0db9c4"/>
<path d="M78.6 312.8L81.0 316.8L83.8 321.1L81.3 317.5Z" fill="#15bdba"/>
<path d="M75.8 307.8L78.3 311.9L81.0 316.8L78.6 312.8Z" fill="#23c4ab"/>
<path d="M73.1 305.2L75.6 309.0L78.3 311.9L75.8 307.8Z" fill="#2fc99e"/>
<path d="M70.4 308.0L72.9 310.4L75.6 309.0L73.1 305.2Z" fill="#30ca9c"/>
<path d="M204.6 294.1L206.9 296.9L209.6 298.4L207.3 295.7Z" fill="#0cb8c5"/>
<path d="M201.8 292.7L204.2 295.7L206.9 296.9L204.6 294.1Z" fill="#0fbac1"/>
<path d="M199.1 291.5L201.5 294.8L204.2 295.7L201.8 292.7Z" fill="#13bcbd"/>
<path d="M196.4 290.1L198.8 293.7L201.5 294.8L199.1 291.5Z" fill="#17beb9"/>
<path d="M193.7 288.4L196.1 292.3L198.8 293.7L196.4 290.1Z" fill="#1bc0b4"/>
<path d="M191.2 286.4L193.6 290.5L196.1 292.3L193.7 288.4Z" fill="#22c3ac"/>
<path d="M188.9 284.2L191.3 288.5L193.6 290.5L191.2 286.4Z" fill="#2ac7a3"/>
<path d="M186.5 280.8L188.9 285.1L191.3 288.5L188.9 284.2Z" fill="#35cb96"/>
<path d="M183.8 276.7L186.3 280.8L188.9 285.1L186.5 280.8Z" fill="#42cf84"/>
<path d="M181.1 273.1L183.6 276.7L186.3 280.8L183.8 276.7Z" fill="#5fcf70"/>
<path d="M178.3 270.3L180.8 273.6L183.6 276.7L181.1 273.1Z" fill="#7acd5d"/>
<path d="M175.6 269.5L178.0 272.5L180.8 273.6L178.3 270.3Z" fill="#8bcb51"/>
<path d="M172.8 271.0L175.2 273.7L178.0 272.5L175.6 269.5Z" fill="#8ccb50"/>
<path d="M170.0 274.1L172.4 276.7L175.2 273.7L172.8 271.0Z" fill="#81cc58"/>
<path d="M167.1 278.3L169.6 280.7L172.4 276.7L170.0 274.1Z" fill="#6ace68"/>
<path d="M164.3 282.7L166.7 285.0L169.6 280.7L167.1 278.3Z" fill="#51cf79"/>
<path d="M161.5 286.9L163.9 288.9L166.7 285.0L164.3 282.7Z" fill="#3ece8a"/>
<path d="M158.6 290.3L161.0 292.0L163.9 288.9L161.5 286.9Z" fill="#34cb96"/>
<path d="M155.9 293.0L158.3 294.4L161.0 292.0L158.6 290.3Z" fill="#2dc8a0"/>
<path d="M153.2 295.1L155.6 296.2L158.3 294.4L155.9 293.0Z" fill="#27c6a6"/>
<path d="M150.5 296.6L152.9 297.5L155.6 296.2L153.2 295.1Z" fill="#23c4ab"/>
<path d="M147.8 297.4L150.2 298.3L152.9 297.5L150.5 296.6Z" fill="#21c3ad"/>
<path d="M145.3 297.8L147.7 298.8L150.2 298.3L147.8 297.4Z" fill="#21c3ad"/>
<path d="M142.9 297.9L145.3 299.1L147.7 298.8L145.3 297.8Z" fill="#22c3ac"/>
<path d="M140.5 297.7L142.9 299.2L145.3 299.1L142.9 297.9Z" fill="#24c4aa"/>
<path d="M138.1 297.3L140.5 299.1L142.9 299.2L140.5 297.7Z" fill="#27c5a7"/>
<path d="M135.4 296.7L137.9 298.5L140.5 299.1L138.1 297.3Z" fill="#2ac7a3"/>
<path d="M132.7 296.0L135.2 297.8L137.9 298.5L135.4 296.7Z" fill="#2dc99f"/>
<path d="M130.0 295.3L132.5 297.1L135.2 297.8L132.7 296.0Z" fill="#31ca9b"/>
<path d="M127.3 294.9L129.7 296.6L132.5 297.1L130.0 295.3Z" fill="#34cb97"/>
<path d="M124.5 294.8L127.0 296.5L129.7 296.6L127.3 294.9Z" fill="#36cc94"/>
<path d="M121.8 295.1L124.3 296.9L127.0 296.5L124.5 294.8Z" fill="#37cc92"/>
<path d="M119.1 295.5L121.6 297.6L124.3 296.9L121.8 295.1Z" fill="#37cc92"/>
<path d="M116.4 296.0L118.9 298.4L121.6 297.6L119.1 295.5Z" fill="#37cc92"/>
<path d="M113.7 296.2L116.1 298.9L118.9 298.4L116.4 296.0Z" fill="#38cc91"/>
<path d="M110.9 295.9L113.4 299.0L116.1 298.9L113.7 296.2Z" fill="#39cd8f"/>
<path d="M108.2 295.2L110.7 298.7L113.4 299.0L110.9 295.9Z" fill="#3cce8b"/>
<path d="M105.5 294.7L108.0 298.5L110.7 298.7L108.2 295.2Z" fill="#3fcf88"/>
<path d="M102.8 295.1L105.3 299.1L108.0 298.5L105.5 294.7Z" fill="#40cf86"/>
<path d="M100.1 297.2L102.6 301.2L105.3 299.1L102.8 295.1Z" fill="#3fcf88"/>
<path d="M97.4 301.4L99.8 305.4L102.6 301.2L100.1 297.2Z" fill="#39cc90"/>
<path d="M94.6 307.6L97.1 311.4L99.8 305.4L97.4 301.4Z" fill="#2dc8a0"/>
<path d="M91.9 314.1L94.4 317.7L97.1 311.4L94.6 307.6Z" fill="#1cc0b3"/>
<path d="M89.2 319.6L91.7 323.1L94.4 317.7L91.9 314.1Z" fill="#10bbc0"/>
<path d="M86.5 322.4L89.0 325.9L91.7 323.1L89.2 319.6Z" fill="#0ab6ca"/>
<path d="M83.8 321.1L86.2 325.0L89.0 325.9L86.5 322.4Z" fill="#0bb5cb"/>
<path d="M81.0 316.8L83.5 321.1L86.2 325.0L83.8 321.1Z" fill="#0fbac2"/>
<path d="M78.3 311.9L80.8 316.4L83.5 321.1L81.0 316.8Z" fill="#19bfb6"/>
<path d="M75.6 309.0L78.1 313.1L80.8 316.4L78.3 311.9Z" fill="#25c4a9"/>
<path d="M72.9 310.4L75.4 313.3L78.1 313.1L75.6 309.0Z" fill="#28c6a6"/>
<path d="M206.9 296.9L209.3 299.9L212.0 301.3L209.6 298.4Z" fill="#0bb6ca"/>
<path d="M204.2 295.7L206.6 299.0L209.3 299.9L206.9 296.9Z" fill="#0bb8c6"/>
<path d="M201.5 294.8L203.9 298.4L206.6 299.0L204.2 295.7Z" fill="#0eb9c3"/>
<path d="M198.8 293.7L201.2 297.6L203.9 298.4L201.5 294.8Z" fill="#11bbc0"/>
<path d="M196.1 292.3L198.5 296.5L201.2 297.6L198.8 293.7Z" fill="#14bdbc"/>
<path d="M193.6 290.5L196.0 295.0L198.5 296.5L196.1 292.3Z" fill="#18bfb7"/>
<path d="M191.3 288.5L193.8 293.2L196.0 295.0L193.6 290.5Z" fill="#1fc2af"/>
<path d="M188.9 285.1L191.4 289.8L193.8 293.2L191.3 288.5Z" fill="#2ac7a3"/>
<path d="M186.3 280.8L188.7 285.2L191.4 289.8L188.9 285.1Z" fill="#37cc92"/>
<path d="M183.6 276.7L186.0 280.9L188.7 285.2L186.3 280.8Z" fill="#49cf7f"/>
<path d="M180.8 273.6L183.2 277.5L186.0 280.9L183.6 276.7Z" fill="#64ce6d"/>
<path d="M178.0 272.5L180.4 276.0L183.2 277.5L180.8 273.6Z" fill="#74ce61"/>
<path d="M175.2 273.7L177.6 277.0L180.4 276.0L178.0 272.5Z" fill="#77cd5f"/>
<path d="M172.4 276.7L174.8 279.8L177.6 277.0L175.2 273.7Z" fill="#6ece66"/>
<path d="M169.6 280.7L172.0 283.6L174.8 279.8L172.4 276.7Z" fill="#5ccf72"/>
<path d="M166.7 285.0L169.1 287.7L172.0 283.6L169.6 280.7Z" fill="#44cf82"/>
<path d="M163.9 288.9L166.3 291.3L169.1 287.7L166.7 285.0Z" fill="#39cc90"/>
<path d="M161.0 292.0L163.4 294.0L166.3 291.3L163.9 288.9Z" fill="#30ca9c"/>
<path d="M158.3 294.4L160.7 296.1L163.4 294.0L161.0 292.0Z" fill="#29c7a4"/>
<path d="M155.6 296.2L158.0 297.7L160.7 296.1L158.3 294.4Z" fill="#25c4a9"/>
<path d="M152.9 297.5L155.3 298.8L158.0 297.7L155.6 296.2Z" fill="#22c3ad"/>
<path d="M150.2 298.3L152.6 299.6L155.3 298.8L152.9 297.5Z" fill="#20c2ae"/>
<path d="M147.7 298.8L150.2 300.3L152.6 299.6L150.2 298.3Z" fill="#1fc2af"/>
<path d="M145.3 299.1L147.8 300.9L150.2 300.3L147.7 298.8Z" fill="#20c2ae"/>
<path d="M142.9 299.2L145.4 301.2L147.8 300.9L145.3 299.1Z" fill="#21c3ad"/>
<path d="M140.5 299.1L143.0 301.3L145.4 301.2L142.9 299.2Z" fill="#23c4ab"/>
<path d="M137.9 298.5L140.4 300.8L143.0 301.3L140.5 299.1Z" fill="#26c5a8"/>
<path d="M135.2 297.8L137.7 300.1L140.4 300.8L137.9 298.5Z" fill="#29c7a4"/>
<path d="M132.5 297.1L134.9 299.3L137.7 300.1L135.2 297.8Z" fill="#2dc8a0"/>
<path d="M129.7 296.6L132.2 298.8L134.9 299.3L132.5 297.1Z" fill="#30ca9c"/>
<path d="M127.0 296.5L129.5 298.8L132.2 298.8L129.7 296.6Z" fill="#32ca99"/>
<path d="M124.3 296.9L126.8 299.3L129.5 298.8L127.0 296.5Z" fill="#33cb98"/>
<path d="M121.6 297.6L124.1 300.2L126.8 299.3L124.3 296.9Z" fill="#33cb98"/>
<path d="M118.9 298.4L121.4 301.2L124.1 300.2L121.6 297.6Z" fill="#32ca99"/>
<path d="M116.1 298.9L118.6 302.1L121.4 301.2L118.9 298.4Z" fill="#32ca9a"/>
<path d="M113.4 299.0L115.9 302.6L118.6 302.1L116.1 298.9Z" fill="#32ca99"/>
<path d="M110.7 298.7L113.2 302.6L115.9 302.6L113.4 299.0Z" fill="#34cb97"/>
<path d="M108.0 298.5L110.5 302.7L113.2 302.6L110.7 298.7Z" fill="#36cc94"/>
<path d="M105.3 299.1L107.8 303.5L110.5 302.7L108.0 298.5Z" fill="#36cc93"/>
<path d="M102.6 301.2L105.0 305.7L107.8 303.5L105.3 299.1Z" fill="#35cb96"/>
<path d="M99.8 305.4L102.3 309.8L105.0 305.7L102.6 301.2Z" fill="#2ec99e"/>
<path d="M97.1 311.4L99.6 315.5L102.3 309.8L99.8 305.4Z" fill="#22c3ac"/>
<path d="M94.4 317.7L96.9 321.6L99.6 315.5L97.1 311.4Z" fill="#15bdbb"/>
<path d="M91.7 323.1L94.2 326.7L96.9 321.6L94.4 317.7Z" fill="#0ab8c7"/>
<path d="M89.0 325.9L91.5 329.5L94.2 326.7L91.7 323.1Z" fill="#11b1d1"/>
<path d="M86.2 325.0L88.7 328.9L91.5 329.5L89.0 325.9Z" fill="#12b0d2"/>
<path d="M83.5 321.1L86.0 325.4L88.7 328.9L86.2 325.0Z" fill="#0bb6ca"/>
<path d="M80.8 316.4L83.3 320.9L86.0 325.4L83.5 321.1Z" fill="#11bbbf"/>
<path d="M78.1 313.1L80.6 317.3L83.3 320.9L80.8 316.4Z" fill="#1abfb5"/>
<path d="M75.4 313.3L77.9 316.4L80.6 317.3L78.1 313.1Z" fill="#1fc2b0"/>
<path d="M209.3 299.9L211.7 303.1L214.4 304.3L212.0 301.3Z" fill="#11b1d0"/>
<path d="M206.6 299.0L209.0 302.4L211.7 303.1L209.3 299.9Z" fill="#0db4cd"/>
<path d="M203.9 298.4L206.3 302.1L209.0 302.4L206.6 299.0Z" fill="#0ab6ca"/>
<path d="M201.2 297.6L203.6 301.7L206.3 302.1L203.9 298.4Z" fill="#0ab8c7"/>
<path d="M198.5 296.5L200.9 300.9L203.6 301.7L201.2 297.6Z" fill="#0db9c4"/>
<path d="M196.0 295.0L198.4 299.7L200.9 300.9L198.5 296.5Z" fill="#11bbc0"/>
<path d="M193.8 293.2L196.2 298.1L198.4 299.7L196.0 295.0Z" fill="#15bdbb"/>
<path d="M191.4 289.8L193.8 294.6L196.2 298.1L193.8 293.2Z" fill="#1ec1b1"/>
<path d="M188.7 285.2L191.2 289.9L193.8 294.6L191.4 289.8Z" fill="#2cc8a1"/>
<path d="M186.0 280.9L188.5 285.3L191.2 289.9L188.7 285.2Z" fill="#3acd8e"/>
<path d="M183.2 277.5L185.7 281.6L188.5 285.3L186.0 280.9Z" fill="#4dcf7d"/>
<path d="M180.4 276.0L182.9 279.8L185.7 281.6L183.2 277.5Z" fill="#5fcf70"/>
<path d="M177.6 277.0L180.1 280.6L182.9 279.8L180.4 276.0Z" fill="#62cf6e"/>
<path d="M174.8 279.8L177.3 283.2L180.1 280.6L177.6 277.0Z" fill="#5ccf72"/>
<path d="M172.0 283.6L174.4 286.8L177.3 283.2L174.8 279.8Z" fill="#4bcf7e"/>
<path d="M169.1 287.7L171.6 290.6L174.4 286.8L172.0 283.6Z" fill="#3cce8c"/>
<path d="M166.3 291.3L168.7 294.0L171.6 290.6L169.1 287.7Z" fill="#33ca98"/>
<path d="M163.4 294.0L165.9 296.4L168.7 294.0L166.3 291.3Z" fill="#2bc7a2"/>
<path d="M160.7 296.1L163.1 298.2L165.9 296.4L163.4 294.0Z" fill="#25c5a9"/>
<path d="M158.0 297.7L160.4 299.5L163.1 298.2L160.7 296.1Z" fill="#21c3ad"/>
<path d="M155.3 298.8L157.7 300.4L160.4 299.5L158.0 297.7Z" fill="#1fc2b0"/>
<path d="M152.6 299.6L155.1 301.2L157.7 300.4L155.3 298.8Z" fill="#1ec1b1"/>
<path d="M150.2 300.3L152.6 302.1L155.1 301.2L152.6 299.6Z" fill="#1dc1b2"/>
<path d="M147.8 300.9L150.2 302.9L152.6 302.1L150.2 300.3Z" fill="#1dc1b2"/>
<path d="M145.4 301.2L147.9 303.6L150.2 302.9L147.8 300.9Z" fill="#1dc1b2"/>
<path d="M143.0 301.3L145.5 303.9L147.9 303.6L145.4 301.2Z" fill="#1ec1b1"/>
<path d="M140.4 300.8L142.9 303.5L145.5 303.9L143.0 301.3Z" fill="#20c2ae"/>
<path d="M137.7 300.1L140.1 302.8L142.9 303.5L140.4 300.8Z" fill="#24c4aa"/>
<path d="M134.9 299.3L137.4 302.0L140.1 302.8L137.7 300.1Z" fill="#28c6a6"/>
<path d="M132.2 298.8L134.7 301.4L137.4 302.0L134.9 299.3Z" fill="#2bc8a2"/>
<path d="M129.5 298.8L132.0 301.4L134.7 301.4L132.2 298.8Z" fill="#2dc99f"/>
<path d="M126.8 299.3L129.3 302.0L132.0 301.4L129.5 298.8Z" fill="#2ec99f"/>
<path d="M124.1 300.2L126.6 303.1L129.3 302.0L126.8 299.3Z" fill="#2dc99f"/>
<path d="M121.4 301.2L123.8 304.3L126.6 303.1L124.1 300.2Z" fill="#2cc8a1"/>
<path d="M118.6 302.1L121.1 305.5L123.8 304.3L121.4 301.2Z" fill="#2bc7a3"/>
<path d="M115.9 302.6L118.4 306.3L121.1 305.5L118.6 302.1Z" fill="#2ac7a3"/>
<path d="M113.2 302.6L115.7 306.6L118.4 306.3L115.9 302.6Z" fill="#2bc7a2"/>
<path d="M110.5 302.7L113.0 307.1L115.7 306.6L113.2 302.6Z" fill="#2cc8a1"/>
<path d="M107.8 303.5L110.2 308.1L113.0 307.1L110.5 302.7Z" fill="#2cc8a1"/>
<path d="M105.0 305.7L107.5 310.4L110.2 308.1L107.8 303.5Z" fill="#29c7a4"/>
<path d="M102.3 309.8L104.8 314.3L107.5 310.4L105.0 305.7Z" fill="#23c4ab"/>
<path d="M99.6 315.5L102.1 319.7L104.8 314.3L102.3 309.8Z" fill="#18bfb7"/>
<path d="M96.9 321.6L99.4 325.4L102.1 319.7L99.6 315.5Z" fill="#0ebac3"/>
<path d="M94.2 326.7L96.7 330.2L99.4 325.4L96.9 321.6Z" fill="#0fb2cf"/>
<path d="M91.5 329.5L93.9 332.9L96.7 330.2L94.2 326.7Z" fill="#18acd8"/>
<path d="M88.7 328.9L91.2 332.5L93.9 332.9L91.5 329.5Z" fill="#1aaada"/>
<path d="M86.0 325.4L88.5 329.4L91.2 332.5L88.7 328.9Z" fill="#13b0d3"/>
<path d="M83.3 320.9L85.8 325.1L88.5 329.4L86.0 325.4Z" fill="#0ab8c7"/>
<path d="M80.6 317.3L83.1 321.3L85.8 325.1L83.3 320.9Z" fill="#13bcbd"/>
<path d="M77.9 316.4L80.3 319.4L83.1 321.3L80.6 317.3Z" fill="#18beb8"/>
<path d="M211.7 303.1L214.1 306.2L216.8 307.4L214.4 304.3Z" fill="#16add7"/>
<path d="M209.0 302.4L211.4 305.9L214.1 306.2L211.7 303.1Z" fill="#13afd4"/>
<path d="M206.3 302.1L208.7 305.8L211.4 305.9L209.0 302.4Z" fill="#11b1d1"/>
<path d="M203.6 301.7L206.0 305.8L208.7 305.8L206.3 302.1Z" fill="#0fb2cf"/>
<path d="M200.9 300.9L203.2 305.3L206.0 305.8L203.6 301.7Z" fill="#0db4cd"/>
<path d="M198.4 299.7L200.8 304.3L203.2 305.3L200.9 300.9Z" fill="#09b7c9"/>
<path d="M196.2 298.1L198.6 302.8L200.8 304.3L198.4 299.7Z" fill="#0db9c4"/>
<path d="M193.8 294.6L196.3 299.4L198.6 302.8L196.2 298.1Z" fill="#14bcbc"/>
<path d="M191.2 289.9L193.6 294.6L196.3 299.4L193.8 294.6Z" fill="#20c2af"/>
<path d="M188.5 285.3L190.9 289.8L193.6 294.6L191.2 289.9Z" fill="#2fc99d"/>
<path d="M185.7 281.6L188.1 285.8L190.9 289.8L188.5 285.3Z" fill="#3cce8c"/>
<path d="M182.9 279.8L185.3 283.8L188.1 285.8L185.7 281.6Z" fill="#48cf80"/>
<path d="M180.1 280.6L182.5 284.3L185.3 283.8L182.9 279.8Z" fill="#4dcf7d"/>
<path d="M177.3 283.2L179.7 286.7L182.5 284.3L180.1 280.6Z" fill="#48cf80"/>
<path d="M174.4 286.8L176.8 290.1L179.7 286.7L177.3 283.2Z" fill="#3ece8a"/>
<path d="M171.6 290.6L174.0 293.7L176.8 290.1L174.4 286.8Z" fill="#35cb95"/>
<path d="M168.7 294.0L171.1 296.7L174.0 293.7L171.6 290.6Z" fill="#2cc8a1"/>
<path d="M165.9 296.4L168.3 298.9L171.1 296.7L168.7 294.0Z" fill="#25c5a9"/>
<path d="M163.1 298.2L165.5 300.3L168.3 298.9L165.9 296.4Z" fill="#20c2ae"/>
<path d="M160.4 299.5L162.8 301.4L165.5 300.3L163.1 298.2Z" fill="#1dc1b2"/>
<path d="M157.7 300.4L160.1 302.2L162.8 301.4L160.4 299.5Z" fill="#1bc0b4"/>
<path d="M155.1 301.2L157.5 303.0L160.1 302.2L157.7 300.4Z" fill="#1ac0b5"/>
<path d="M152.6 302.1L155.0 304.1L157.5 303.0L155.1 301.2Z" fill="#1abfb6"/>
<path d="M150.2 302.9L152.7 305.2L155.0 304.1L152.6 302.1Z" fill="#19bfb6"/>
<path d="M147.9 303.6L150.3 306.1L152.7 305.2L150.2 302.9Z" fill="#18bfb7"/>
<path d="M145.5 303.9L148.0 306.7L150.3 306.1L147.9 303.6Z" fill="#19bfb7"/>
<path d="M142.9 303.5L145.3 306.4L148.0 306.7L145.5 303.9Z" fill="#1ac0b5"/>
<path d="M140.1 302.8L142.6 305.6L145.3 306.4L142.9 303.5Z" fill="#1ec1b1"/>
<path d="M137.4 302.0L139.9 304.8L142.6 305.6L140.1 302.8Z" fill="#22c3ad"/>
<path d="M134.7 301.4L137.2 304.2L139.9 304.8L137.4 302.0Z" fill="#25c5a9"/>
<path d="M132.0 301.4L134.5 304.2L137.2 304.2L134.7 301.4Z" fill="#27c6a6"/>
<path d="M129.3 302.0L131.8 304.8L134.5 304.2L132.0 301.4Z" fill="#28c6a6"/>
<path d="M126.6 303.1L129.0 306.0L131.8 304.8L129.3 302.0Z" fill="#27c6a6"/>
<path d="M123.8 304.3L126.3 307.5L129.0 306.0L126.6 303.1Z" fill="#25c5a9"/>
<path d="M121.1 305.5L123.6 308.9L126.3 307.5L123.8 304.3Z" fill="#23c4ab"/>
<path d="M118.4 306.3L120.9 310.0L123.6 308.9L121.1 305.5Z" fill="#21c3ad"/>
<path d="M115.7 306.6L118.2 310.7L120.9 310.0L118.4 306.3Z" fill="#21c3ad"/>
<path d="M113.0 307.1L115.5 311.5L118.2 310.7L115.7 306.6Z" fill="#21c3ad"/>
<path d="M110.2 308.1L112.7 312.8L115.5 311.5L113.0 307.1Z" fill="#20c2ae"/>
<path d="M107.5 310.4L110.0 315.1L112.7 312.8L110.2 308.1Z" fill="#1ec1b1"/>
<path d="M104.8 314.3L107.3 318.9L110.0 315.1L107.5 310.4Z" fill="#18beb7"/>
<path d="M102.1 319.7L104.6 323.9L107.3 318.9L104.8 314.3Z" fill="#10bbc0"/>
<path d="M99.4 325.4L101.9 329.1L104.6 323.9L102.1 319.7Z" fill="#0bb5cb"/>
<path d="M96.7 330.2L99.1 333.5L101.9 329.1L99.4 325.4Z" fill="#16add7"/>
<path d="M93.9 332.9L96.4 335.9L99.1 333.5L96.7 330.2Z" fill="#1da6df"/>
<path d="M91.2 332.5L93.7 335.5L96.4 335.9L93.9 332.9Z" fill="#1ea5e0"/>
<path d="M88.5 329.4L91.0 332.6L93.7 335.5L91.2 332.5Z" fill="#1aaada"/>
<path d="M85.8 325.1L88.3 328.5L91.0 332.6L88.5 329.4Z" fill="#0fb2cf"/>
<path d="M83.1 321.3L85.6 324.6L88.3 328.5L85.8 325.1Z" fill="#0cb9c5"/>
<path d="M80.3 319.4L82.8 322.1L85.6 324.6L83.1 321.3Z" fill="#12bcbe"/>
<path d="M214.1 306.2L216.5 309.3L219.2 310.4L216.8 307.4Z" fill="#1ca8dd"/>
<path d="M211.4 305.9L213.8 309.2L216.5 309.3L214.1 306.2Z" fill="#1aaada"/>
<path d="M208.7 305.8L211.1 309.4L213.8 309.2L211.4 305.9Z" fill="#18abd9"/>
<path d="M206.0 305.8L208.3 309.7L211.1 309.4L208.7 305.8Z" fill="#17acd8"/>
<path d="M203.2 305.3L205.6 309.4L208.3 309.7L206.0 305.8Z" fill="#15aed6"/>
<path d="M200.8 304.3L203.2 308.7L205.6 309.4L203.2 305.3Z" fill="#12b0d2"/>
<path d="M198.6 302.8L201.1 307.3L203.2 308.7L200.8 304.3Z" fill="#0eb3ce"/>
<path d="M196.3 299.4L198.7 303.9L201.1 307.3L198.6 302.8Z" fill="#0cb8c5"/>
<path d="M193.6 294.6L196.1 299.0L198.7 303.9L196.3 299.4Z" fill="#16bdba"/>
<path d="M190.9 289.8L193.4 294.1L196.1 299.0L193.6 294.6Z" fill="#24c4aa"/>
<path d="M188.1 285.8L190.6 289.9L193.4 294.1L190.9 289.8Z" fill="#32ca9a"/>
<path d="M185.3 283.8L187.8 287.7L190.6 289.9L188.1 285.8Z" fill="#3bcd8e"/>
<path d="M182.5 284.3L185.0 288.1L187.8 287.7L185.3 283.8Z" fill="#3dce8b"/>
<path d="M179.7 286.7L182.1 290.2L185.0 288.1L182.5 284.3Z" fill="#3ccd8d"/>
<path d="M176.8 290.1L179.3 293.4L182.1 290.2L179.7 286.7Z" fill="#36cb95"/>
<path d="M174.0 293.7L176.4 296.7L179.3 293.4L176.8 290.1Z" fill="#2dc99f"/>
<path d="M171.1 296.7L173.5 299.5L176.4 296.7L174.0 293.7Z" fill="#25c5a9"/>
<path d="M168.3 298.9L170.7 301.3L173.5 299.5L171.1 296.7Z" fill="#1fc2b0"/>
<path d="M165.5 300.3L167.9 302.5L170.7 301.3L168.3 298.9Z" fill="#1bc0b4"/>
<path d="M162.8 301.4L165.2 303.4L167.9 302.5L165.5 300.3Z" fill="#19bfb6"/>
<path d="M160.1 302.2L162.5 304.1L165.2 303.4L162.8 301.4Z" fill="#18bfb7"/>
<path d="M157.5 303.0L159.9 304.9L162.5 304.1L160.1 302.2Z" fill="#18beb8"/>
<path d="M155.0 304.1L157.4 306.1L159.9 304.9L157.5 303.0Z" fill="#17beb9"/>
<path d="M152.7 305.2L155.1 307.4L157.4 306.1L155.0 304.1Z" fill="#16bdba"/>
<path d="M150.3 306.1L152.8 308.6L155.1 307.4L152.7 305.2Z" fill="#15bdbb"/>
<path d="M148.0 306.7L150.5 309.4L152.8 308.6L150.3 306.1Z" fill="#15bdbb"/>
<path d="M145.3 306.4L147.8 309.2L150.5 309.4L148.0 306.7Z" fill="#16bdba"/>
<path d="M142.6 305.6L145.1 308.5L147.8 309.2L145.3 306.4Z" fill="#18beb7"/>
<path d="M139.9 304.8L142.4 307.7L145.1 308.5L142.6 305.6Z" fill="#1bc0b4"/>
<path d="M137.2 304.2L139.7 307.0L142.4 307.7L139.9 304.8Z" fill="#1fc2b0"/>
<path d="M134.5 304.2L137.0 307.0L139.7 307.0L137.2 304.2Z" fill="#21c3ad"/>
<path d="M131.8 304.8L134.2 307.6L137.0 307.0L134.5 304.2Z" fill="#21c3ad"/>
<path d="M129.0 306.0L131.5 308.9L134.2 307.6L131.8 304.8Z" fill="#20c2ae"/>
<path d="M126.3 307.5L128.8 310.5L131.5 308.9L129.0 306.0Z" fill="#1ec1b0"/>
<path d="M123.6 308.9L126.1 312.1L128.8 310.5L126.3 307.5Z" fill="#1bc0b4"/>
<path d="M120.9 310.0L123.4 313.5L126.1 312.1L123.6 308.9Z" fill="#19bfb6"/>
<path d="M118.2 310.7L120.7 314.5L123.4 313.5L120.9 310.0Z" fill="#18bfb7"/>
<path d="M115.5 311.5L117.9 315.6L120.7 314.5L118.2 310.7Z" fill="#18beb8"/>
<path d="M112.7 312.8L115.2 317.2L117.9 315.6L115.5 311.5Z" fill="#17beb9"/>
<path d="M110.0 315.1L112.5 319.6L115.2 317.2L112.7 312.8Z" fill="#14bdbb"/>
<path d="M107.3 318.9L109.8 323.2L112.5 319.6L110.0 315.1Z" fill="#10bbc0"/>
<path d="M104.6 323.9L107.1 327.8L109.8 323.2L107.3 318.9Z" fill="#09b7c8"/>
<path d="M101.9 329.1L104.3 332.4L107.1 327.8L104.6 323.9Z" fill="#13b0d3"/>
<path d="M99.1 333.5L101.6 336.3L104.3 332.4L101.9 329.1Z" fill="#1ca8dd"/>
<path d="M96.4 335.9L98.9 338.3L101.6 336.3L99.1 333.5Z" fill="#21a1e3"/>
<path d="M93.7 335.5L96.2 337.7L98.9 338.3L96.4 335.9Z" fill="#21a0e4"/>
<path d="M91.0 332.6L93.5 334.8L96.2 337.7L93.7 335.5Z" fill="#1ea6df"/>
<path d="M88.3 328.5L90.8 330.9L93.5 334.8L91.0 332.6Z" fill="#15aed5"/>
<path d="M85.6 324.6L88.0 327.0L90.8 330.9L88.3 328.5Z" fill="#0bb6ca"/>
<path d="M82.8 322.1L85.3 324.4L88.0 327.0L85.6 324.6Z" fill="#0ebac2"/>
<path d="M216.5 309.3L218.9 312.3L221.6 313.1L219.2 310.4Z" fill="#1fa3e1"/>
<path d="M213.8 309.2L216.2 312.3L218.9 312.3L216.5 309.3Z" fill="#1ea5e0"/>
<path d="M211.1 309.4L213.4 312.7L216.2 312.3L213.8 309.2Z" fill="#1ea6df"/>
<path d="M208.3 309.7L210.7 313.2L213.4 312.7L211.1 309.4Z" fill="#1da6df"/>
<path d="M205.6 309.4L208.0 313.2L210.7 313.2L208.3 309.7Z" fill="#1da8de"/>
<path d="M203.2 308.7L205.6 312.6L208.0 313.2L205.6 309.4Z" fill="#1aaadb"/>
<path d="M201.1 307.3L203.5 311.2L205.6 312.6L203.2 308.7Z" fill="#16add7"/>
<path d="M198.7 303.9L201.1 307.8L203.5 311.2L201.1 307.3Z" fill="#0eb3ce"/>
<ellipse cx="203.2" cy="310.8" rx="1.4" ry="1.0" fill="#000" stroke="none"/>
<path d="M196.1 299.0L198.5 302.9L201.1 307.8L198.7 303.9Z" fill="#0ebac2"/>
<path d="M193.4 294.1L195.9 298.0L198.5 302.9L196.1 299.0Z" fill="#19bfb6"/>
<path d="M190.6 289.9L193.0 293.7L195.9 298.0L193.4 294.1Z" fill="#27c6a6"/>
<path d="M187.8 287.7L190.2 291.4L193.0 293.7L190.6 289.9Z" fill="#31ca9b"/>
<ellipse cx="190.2" cy="290.9" rx="1.4" ry="1.0" fill="#000" stroke="none"/>
<path d="M185.0 288.1L187.4 291.6L190.2 291.4L187.8 287.7Z" fill="#34cb97"/>
<path d="M182.1 290.2L184.6 293.5L187.4 291.6L185.0 288.1Z" fill="#33cb98"/>
<path d="M179.3 293.4L181.7 296.4L184.6 293.5L182.1 290.2Z" fill="#2dc99f"/>
<path d="M176.4 296.7L178.8 299.6L181.7 296.4L179.3 293.4Z" fill="#26c5a8"/>
<path d="M173.5 299.5L175.9 302.1L178.8 299.6L176.4 296.7Z" fill="#1ec1b0"/>
<path d="M170.7 301.3L173.1 303.7L175.9 302.1L173.5 299.5Z" fill="#19bfb6"/>
<path d="M167.9 302.5L170.3 304.6L173.1 303.7L170.7 301.3Z" fill="#17beb9"/>
<path d="M165.2 303.4L167.6 305.3L170.3 304.6L167.9 302.5Z" fill="#16bdba"/>
<path d="M162.5 304.1L164.9 305.9L167.6 305.3L165.2 303.4Z" fill="#15bdba"/>
<path d="M159.9 304.9L162.3 306.8L164.9 305.9L162.5 304.1Z" fill="#15bdbb"/>
<path d="M157.4 306.1L159.8 308.1L162.3 306.8L159.9 304.9Z" fill="#14bdbc"/>
<path d="M155.1 307.4L157.5 309.6L159.8 308.1L157.4 306.1Z" fill="#13bcbd"/>
<path d="M152.8 308.6L155.3 310.9L157.5 309.6L155.1 307.4Z" fill="#12bbbf"/>
<path d="M150.5 309.4L153.0 311.8L155.3 310.9L152.8 308.6Z" fill="#11bbc0"/>
<path d="M147.8 309.2L150.3 311.7L153.0 311.8L150.5 309.4Z" fill="#11bbbf"/>
<ellipse cx="151.1" cy="310.6" rx="1.4" ry="1.0" fill="#000" stroke="none"/>
<path d="M145.1 308.5L147.6 311.1L150.3 311.7L147.8 309.2Z" fill="#14bcbc"/>
<path d="M142.4 307.7L144.9 310.3L147.6 311.1L145.1 308.5Z" fill="#16beb9"/>
<path d="M139.7 307.0L142.2 309.7L144.9 310.3L142.4 307.7Z" fill="#19bfb7"/>
<path d="M137.0 307.0L139.4 309.6L142.2 309.7L139.7 307.0Z" fill="#1bc0b5"/>
<ellipse cx="138.1" cy="308.2" rx="1.4" ry="1.0" fill="#000" stroke="none"/>
<path d="M134.2 307.6L136.7 310.3L139.4 309.6L137.0 307.0Z" fill="#1bc0b4"/>
<path d="M131.5 308.9L134.0 311.6L136.7 310.3L134.2 307.6Z" fill="#1abfb5"/>
<path d="M128.8 310.5L131.3 313.2L134.0 311.6L131.5 308.9Z" fill="#18bfb7"/>
<path d="M126.1 312.1L128.6 314.9L131.3 313.2L128.8 310.5Z" fill="#16beb9"/>
<path d="M123.4 313.5L125.9 316.5L128.6 314.9L126.1 312.1Z" fill="#14bdbc"/>
<ellipse cx="125.1" cy="314.6" rx="1.4" ry="1.0" fill="#000" stroke="none"/>
<path d="M120.7 314.5L123.1 317.9L125.9 316.5L123.4 313.5Z" fill="#12bcbe"/>
<path d="M117.9 315.6L120.4 319.4L123.1 317.9L120.7 314.5Z" fill="#11bbbf"/>
<path d="M115.2 317.2L117.7 321.3L120.4 319.4L117.9 315.6Z" fill="#0fbac1"/>
<path d="M112.5 319.6L115.0 323.7L117.7 321.3L115.2 317.2Z" fill="#0db9c4"/>
<path d="M109.8 323.2L112.3 327.1L115.0 323.7L112.5 319.6Z" fill="#09b7c9"/>
<ellipse cx="112.1" cy="323.3" rx="1.4" ry="1.0" fill="#000" stroke="none"/>
<path d="M107.1 327.8L109.6 331.2L112.3 327.1L109.8 323.2Z" fill="#11b1d1"/>
<path d="M104.3 332.4L106.8 335.2L109.6 331.2L107.1 327.8Z" fill="#1aaada"/>
<path d="M101.6 336.3L104.1 338.3L106.8 335.2L104.3 332.4Z" fill="#20a3e1"/>
<path d="M98.9 338.3L101.4 339.7L104.1 338.3L101.6 336.3Z" fill="#239de6"/>
<path d="M96.2 337.7L98.7 338.7L101.4 339.7L98.9 338.3Z" fill="#239de6"/>
<ellipse cx="99.1" cy="339.1" rx="1.4" ry="1.0" fill="#000" stroke="none"/>
<path d="M93.5 334.8L96.0 335.7L98.7 338.7L96.2 337.7Z" fill="#1fa3e1"/>
<path d="M90.8 330.9L93.2 331.8L96.0 335.7L93.5 334.8Z" fill="#18acd9"/>
<ellipse cx="92.6" cy="332.6" rx="1.4" ry="1.0" fill="#000" stroke="none"/>
<path d="M88.0 327.0L90.5 328.2L93.2 331.8L90.8 330.9Z" fill="#0eb3ce"/>
<path d="M85.3 324.4L87.8 326.0L90.5 328.2L88.0 327.0Z" fill="#0bb8c6"/>
<path d="M218.9 312.3L221.2 314.9L224.0 315.7L221.6 313.1Z" fill="#229ee5"/>
<path d="M216.2 312.3L218.5 315.0L221.2 314.9L218.9 312.3Z" fill="#21a0e4"/>
<path d="M213.4 312.7L215.8 315.6L218.5 315.0L216.2 312.3Z" fill="#21a0e3"/>
<ellipse cx="216.2" cy="313.3" rx="1.4" ry="1.0" fill="#000" stroke="none"/>
<path d="M210.7 313.2L213.1 316.2L215.8 315.6L213.4 312.7Z" fill="#21a0e3"/>
<path d="M208.0 313.2L210.4 316.4L213.1 316.2L210.7 313.2Z" fill="#21a1e3"/>
<path d="M205.6 312.6L208.0 315.9L210.4 316.4L208.0 313.2Z" fill="#1fa3e1"/>
<path d="M203.5 311.2L205.9 314.4L208.0 315.9L205.6 312.6Z" fill="#1da7de"/>
<path d="M201.1 307.8L203.6 311.0L205.9 314.4L203.5 311.2Z" fill="#15aed6"/>
<path d="M198.5 302.9L201.0 306.2L203.6 311.0L201.1 307.8Z" fill="#0ab6c9"/>
<path d="M195.9 298.0L198.3 301.4L201.0 306.2L198.5 302.9Z" fill="#13bcbd"/>
<path d="M193.0 293.7L195.5 297.2L198.3 301.4L195.9 298.0Z" fill="#1ec1b0"/>
<path d="M190.2 291.4L192.7 294.8L195.5 297.2L193.0 293.7Z" fill="#28c6a5"/>
<path d="M187.4 291.6L189.8 294.8L192.7 294.8L190.2 291.4Z" fill="#2cc8a1"/>
<path d="M184.6 293.5L187.0 296.5L189.8 294.8L187.4 291.6Z" fill="#2bc7a2"/>
<path d="M181.7 296.4L184.1 299.2L187.0 296.5L184.6 293.5Z" fill="#26c5a8"/>
<path d="M178.8 299.6L181.2 302.0L184.1 299.2L181.7 296.4Z" fill="#1fc2b0"/>
<path d="M175.9 302.1L178.4 304.3L181.2 302.0L178.8 299.6Z" fill="#19bfb7"/>
<ellipse cx="177.2" cy="301.4" rx="1.4" ry="1.0" fill="#000" stroke="none"/>
<path d="M173.1 303.7L175.5 305.7L178.4 304.3L175.9 302.1Z" fill="#15bdba"/>
<path d="M170.3 304.6L172.7 306.6L175.5 305.7L173.1 303.7Z" fill="#14bcbc"/>
<path d="M167.6 305.3L170.0 307.1L172.7 306.6L170.3 304.6Z" fill="#13bcbd"/>
<path d="M164.9 305.9L167.4 307.7L170.0 307.1L167.6 305.3Z" fill="#13bcbd"/>
<path d="M162.3 306.8L164.7 308.6L167.4 307.7L164.9 305.9Z" fill="#12bcbe"/>
<ellipse cx="164.2" cy="306.5" rx="1.4" ry="1.0" fill="#000" stroke="none"/>
<path d="M159.8 308.1L162.3 310.0L164.7 308.6L162.3 306.8Z" fill="#12bbbf"/>
<path d="M157.5 309.6L160.0 311.6L162.3 310.0L159.8 308.1Z" fill="#10bbc0"/>
<path d="M155.3 310.9L157.7 313.0L160.0 311.6L157.5 309.6Z" fill="#0ebac2"/>
<path d="M153.0 311.8L155.4 313.9L157.7 313.0L155.3 310.9Z" fill="#0db9c3"/>
<path d="M150.3 311.7L152.8 314.0L155.4 313.9L153.0 311.8Z" fill="#0ebac3"/>
<path d="M147.6 311.1L150.1 313.5L152.8 314.0L150.3 311.7Z" fill="#10bac1"/>
<path d="M144.9 310.3L147.4 312.8L150.1 313.5L147.6 311.1Z" fill="#12bcbe"/>
<path d="M142.2 309.7L144.7 312.2L147.4 312.8L144.9 310.3Z" fill="#15bdbb"/>
<path d="M139.4 309.6L141.9 312.1L144.7 312.2L142.2 309.7Z" fill="#16beb9"/>
<path d="M136.7 310.3L139.2 312.7L141.9 312.1L139.4 309.6Z" fill="#17beb9"/>
<path d="M134.0 311.6L136.5 313.9L139.2 312.7L136.7 310.3Z" fill="#16bdba"/>
<path d="M131.3 313.2L133.8 315.5L136.5 313.9L134.0 311.6Z" fill="#14bdbb"/>
<path d="M128.6 314.9L131.1 317.3L133.8 315.5L131.3 313.2Z" fill="#12bcbe"/>
<path d="M125.9 316.5L128.3 319.1L131.1 317.3L128.6 314.9Z" fill="#10bac1"/>
<path d="M123.1 317.9L125.6 320.9L128.3 319.1L125.9 316.5Z" fill="#0db9c3"/>
<path d="M120.4 319.4L122.9 322.8L125.6 320.9L123.1 317.9Z" fill="#0bb8c5"/>
<path d="M117.7 321.3L120.2 324.9L122.9 322.8L120.4 319.4Z" fill="#09b7c8"/>
<path d="M115.0 323.7L117.5 327.4L120.2 324.9L117.7 321.3Z" fill="#0cb5cc"/>
<path d="M112.3 327.1L114.8 330.6L117.5 327.4L115.0 323.7Z" fill="#11b1d1"/>
<path d="M109.6 331.2L112.0 334.1L114.8 330.6L112.3 327.1Z" fill="#18acd8"/>
<path d="M106.8 335.2L109.3 337.4L112.0 334.1L109.6 331.2Z" fill="#1ea5df"/>
<path d="M104.1 338.3L106.6 339.6L109.3 337.4L106.8 335.2Z" fill="#229fe4"/>
<path d="M101.4 339.7L103.9 340.2L106.6 339.6L104.1 338.3Z" fill="#249be7"/>
<path d="M98.7 338.7L101.2 338.6L103.9 340.2L101.4 339.7Z" fill="#239de6"/>
<path d="M96.0 335.7L98.4 335.2L101.2 338.6L98.7 338.7Z" fill="#1fa4e0"/>
<path d="M93.2 331.8L95.7 331.4L98.4 335.2L96.0 335.7Z" fill="#17acd7"/>
<path d="M90.5 328.2L93.0 328.2L95.7 331.4L93.2 331.8Z" fill="#0eb3ce"/>
<path d="M87.8 326.0L90.3 327.0L93.0 328.2L90.5 328.2Z" fill="#0ab8c7"/>
<path d="M221.2 314.9L223.6 317.2L226.3 317.9L224.0 315.7Z" fill="#259ae8"/>
<path d="M218.5 315.0L220.9 317.4L223.6 317.2L221.2 314.9Z" fill="#249ce7"/>
<path d="M215.8 315.6L218.2 318.0L220.9 317.4L218.5 315.0Z" fill="#249ce7"/>
<path d="M213.1 316.2L215.5 318.7L218.2 318.0L215.8 315.6Z" fill="#249ce7"/>
<path d="M210.4 316.4L212.8 318.9L215.5 318.7L213.1 316.2Z" fill="#249ce7"/>
<path d="M208.0 315.9L210.3 318.5L212.8 318.9L210.4 316.4Z" fill="#239ee5"/>
<path d="M205.9 314.4L208.3 317.1L210.3 318.5L208.0 315.9Z" fill="#20a2e2"/>
<path d="M203.6 311.0L206.0 313.8L208.3 317.1L205.9 314.4Z" fill="#1ba9dc"/>
<path d="M201.0 306.2L203.4 309.1L206.0 313.8L203.6 311.0Z" fill="#10b2d0"/>
<path d="M198.3 301.4L200.8 304.4L203.4 309.1L201.0 306.2Z" fill="#0db9c3"/>
<path d="M195.5 297.2L197.9 300.3L200.8 304.4L198.3 301.4Z" fill="#17beb8"/>
<path d="M192.7 294.8L195.1 297.9L197.9 300.3L195.5 297.2Z" fill="#20c2ae"/>
<path d="M189.8 294.8L192.3 297.7L195.1 297.9L192.7 294.8Z" fill="#24c4aa"/>
<path d="M187.0 296.5L189.4 299.2L192.3 297.7L189.8 294.8Z" fill="#24c4aa"/>
<path d="M184.1 299.2L186.5 301.6L189.4 299.2L187.0 296.5Z" fill="#1fc2af"/>
<path d="M181.2 302.0L183.7 304.3L186.5 301.6L184.1 299.2Z" fill="#19bfb6"/>
<path d="M178.4 304.3L180.8 306.4L183.7 304.3L181.2 302.0Z" fill="#15bdbb"/>
<path d="M175.5 305.7L177.9 307.6L180.8 306.4L178.4 304.3Z" fill="#12bcbe"/>
<path d="M172.7 306.6L175.1 308.3L177.9 307.6L175.5 305.7Z" fill="#11bbc0"/>
<path d="M170.0 307.1L172.4 308.9L175.1 308.3L172.7 306.6Z" fill="#10bbc0"/>
<path d="M167.4 307.7L169.8 309.4L172.4 308.9L170.0 307.1Z" fill="#10bbc0"/>
<path d="M164.7 308.6L167.1 310.3L169.8 309.4L167.4 307.7Z" fill="#10bbc0"/>
<path d="M162.3 310.0L164.7 311.8L167.1 310.3L164.7 308.6Z" fill="#0fbac1"/>
<path d="M160.0 311.6L162.4 313.4L164.7 311.8L162.3 310.0Z" fill="#0db9c3"/>
<path d="M157.7 313.0L160.2 314.8L162.4 313.4L160.0 311.6Z" fill="#0cb9c5"/>
<path d="M155.4 313.9L157.9 315.8L160.2 314.8L157.7 313.0Z" fill="#0ab8c7"/>
<path d="M152.8 314.0L155.3 316.0L157.9 315.8L155.4 313.9Z" fill="#0bb8c6"/>
<path d="M150.1 313.5L152.6 315.6L155.3 316.0L152.8 314.0Z" fill="#0cb9c4"/>
<path d="M147.4 312.8L149.9 315.0L152.6 315.6L150.1 313.5Z" fill="#0fbac2"/>
<path d="M144.7 312.2L147.1 314.5L149.9 315.0L147.4 312.8Z" fill="#11bbbf"/>
<path d="M141.9 312.1L144.4 314.4L147.1 314.5L144.7 312.2Z" fill="#12bcbe"/>
<path d="M139.2 312.7L141.7 315.0L144.4 314.4L141.9 312.1Z" fill="#13bcbd"/>
<path d="M136.5 313.9L139.0 316.0L141.7 315.0L139.2 312.7Z" fill="#12bcbe"/>
<path d="M133.8 315.5L136.3 317.6L139.0 316.0L136.5 313.9Z" fill="#11bbbf"/>
<path d="M131.1 317.3L133.5 319.4L136.3 317.6L133.8 315.5Z" fill="#0fbac2"/>
<path d="M128.3 319.1L130.8 321.4L133.5 319.4L131.1 317.3Z" fill="#0cb9c5"/>
<path d="M125.6 320.9L128.1 323.5L130.8 321.4L128.3 319.1Z" fill="#09b7c8"/>
<path d="M122.9 322.8L125.4 325.7L128.1 323.5L125.6 320.9Z" fill="#0bb5cb"/>
<path d="M120.2 324.9L122.7 328.2L125.4 325.7L122.9 322.8Z" fill="#0fb3cf"/>
<path d="M117.5 327.4L120.0 330.8L122.7 328.2L120.2 324.9Z" fill="#13b0d3"/>
<path d="M114.8 330.6L117.2 333.7L120.0 330.8L117.5 327.4Z" fill="#18acd8"/>
<path d="M112.0 334.1L114.5 336.7L117.2 333.7L114.8 330.6Z" fill="#1da7de"/>
<path d="M109.3 337.4L111.8 339.1L114.5 336.7L112.0 334.1Z" fill="#21a1e3"/>
<path d="M106.6 339.6L109.1 340.5L111.8 339.1L109.3 337.4Z" fill="#249ce6"/>
<path d="M103.9 340.2L106.4 340.2L109.1 340.5L106.6 339.6Z" fill="#259be8"/>
<path d="M101.2 338.6L103.7 337.8L106.4 340.2L103.9 340.2Z" fill="#229fe4"/>
<path d="M98.4 335.2L100.9 333.9L103.7 337.8L101.2 338.6Z" fill="#1da8de"/>
<path d="M95.7 331.4L98.2 330.0L100.9 333.9L98.4 335.2Z" fill="#13afd3"/>
<path d="M93.0 328.2L95.5 327.5L98.2 330.0L95.7 331.4Z" fill="#0bb6ca"/>
<path d="M90.3 327.0L92.8 327.7L95.5 327.5L93.0 328.2Z" fill="#0ab8c7"/>
<path d="M223.6 317.2L226.0 319.2L228.7 319.9L226.3 317.9Z" fill="#2797eb"/>
<path d="M220.9 317.4L223.3 319.5L226.0 319.2L223.6 317.2Z" fill="#2698ea"/>
<path d="M218.2 318.0L220.6 320.1L223.3 319.5L220.9 317.4Z" fill="#2698ea"/>
<path d="M215.5 318.7L217.9 320.8L220.6 320.1L218.2 318.0Z" fill="#2798ea"/>
<path d="M212.8 318.9L215.2 321.1L217.9 320.8L215.5 318.7Z" fill="#2698ea"/>
<path d="M210.3 318.5L212.7 320.7L215.2 321.1L212.8 318.9Z" fill="#259ae8"/>
<path d="M208.3 317.1L210.8 319.3L212.7 320.7L210.3 318.5Z" fill="#239ee5"/>
<path d="M206.0 313.8L208.5 316.1L210.8 319.3L208.3 317.1Z" fill="#1ea5e0"/>
<path d="M203.4 309.1L205.9 311.7L208.5 316.1L206.0 313.8Z" fill="#15aed5"/>
<path d="M200.8 304.4L203.2 307.1L205.9 311.7L203.4 309.1Z" fill="#09b7c8"/>
<path d="M197.9 300.3L200.4 303.1L203.2 307.1L200.8 304.4Z" fill="#12bcbe"/>
<path d="M195.1 297.9L197.6 300.8L200.4 303.1L197.9 300.3Z" fill="#19bfb6"/>
<path d="M192.3 297.7L194.7 300.5L197.6 300.8L195.1 297.9Z" fill="#1dc1b2"/>
<path d="M189.4 299.2L191.9 301.8L194.7 300.5L192.3 297.7Z" fill="#1dc1b2"/>
<path d="M186.5 301.6L189.0 303.9L191.9 301.8L189.4 299.2Z" fill="#1abfb6"/>
<path d="M183.7 304.3L186.1 306.3L189.0 303.9L186.5 301.6Z" fill="#16bdba"/>
<path d="M180.8 306.4L183.2 308.2L186.1 306.3L183.7 304.3Z" fill="#12bcbe"/>
<path d="M177.9 307.6L180.3 309.3L183.2 308.2L180.8 306.4Z" fill="#0fbac1"/>
<path d="M175.1 308.3L177.5 310.0L180.3 309.3L177.9 307.6Z" fill="#0ebac2"/>
<path d="M172.4 308.9L174.8 310.5L177.5 310.0L175.1 308.3Z" fill="#0ebac3"/>
<path d="M169.8 309.4L172.2 311.1L174.8 310.5L172.4 308.9Z" fill="#0ebac2"/>
<path d="M167.1 310.3L169.5 312.0L172.2 311.1L169.8 309.4Z" fill="#0ebac3"/>
<path d="M164.7 311.8L167.1 313.4L169.5 312.0L167.1 310.3Z" fill="#0db9c4"/>
<path d="M162.4 313.4L164.9 315.0L167.1 313.4L164.7 311.8Z" fill="#0bb8c6"/>
<path d="M160.2 314.8L162.6 316.5L164.9 315.0L162.4 313.4Z" fill="#09b7c8"/>
<path d="M157.9 315.8L160.4 317.6L162.6 316.5L160.2 314.8Z" fill="#0ab6c9"/>
<path d="M155.3 316.0L157.8 317.8L160.4 317.6L157.9 315.8Z" fill="#0ab6c9"/>
<path d="M152.6 315.6L155.1 317.6L157.8 317.8L155.3 316.0Z" fill="#09b7c8"/>
<path d="M149.9 315.0L152.3 317.1L155.1 317.6L152.6 315.6Z" fill="#0cb8c5"/>
<path d="M147.1 314.5L149.6 316.8L152.3 317.1L149.9 315.0Z" fill="#0eb9c3"/>
<path d="M144.4 314.4L146.9 316.7L149.6 316.8L147.1 314.5Z" fill="#0fbac1"/>
<path d="M141.7 315.0L144.2 317.1L146.9 316.7L144.4 314.4Z" fill="#0fbac1"/>
<path d="M139.0 316.0L141.5 318.1L144.2 317.1L141.7 315.0Z" fill="#0fbac1"/>
<path d="M136.3 317.6L138.8 319.5L141.5 318.1L139.0 316.0Z" fill="#0ebac3"/>
<path d="M133.5 319.4L136.0 321.2L138.8 319.5L136.3 317.6Z" fill="#0cb9c5"/>
<path d="M130.8 321.4L133.3 323.4L136.0 321.2L133.5 319.4Z" fill="#09b7c8"/>
<path d="M128.1 323.5L130.6 325.8L133.3 323.4L130.8 321.4Z" fill="#0cb5cc"/>
<path d="M125.4 325.7L127.9 328.4L130.6 325.8L128.1 323.5Z" fill="#10b2d0"/>
<path d="M122.7 328.2L125.2 331.2L127.9 328.4L125.4 325.7Z" fill="#14afd4"/>
<path d="M120.0 330.8L122.4 333.9L125.2 331.2L122.7 328.2Z" fill="#19abd9"/>
<path d="M117.2 333.7L119.7 336.6L122.4 333.9L120.0 330.8Z" fill="#1da7de"/>
<path d="M114.5 336.7L117.0 338.9L119.7 336.6L117.2 333.7Z" fill="#20a2e2"/>
<path d="M111.8 339.1L114.3 340.5L117.0 338.9L114.5 336.7Z" fill="#239ee6"/>
<path d="M109.1 340.5L111.6 340.9L114.3 340.5L111.8 339.1Z" fill="#259be8"/>
<path d="M106.4 340.2L108.9 339.7L111.6 340.9L109.1 340.5Z" fill="#249ce6"/>
<path d="M103.7 337.8L106.1 336.5L108.9 339.7L106.4 340.2Z" fill="#20a3e1"/>
<path d="M100.9 333.9L103.4 332.1L106.1 336.5L103.7 337.8Z" fill="#18abd9"/>
<path d="M98.2 330.0L100.7 328.2L103.4 332.1L100.9 333.9Z" fill="#0eb3ce"/>
<path d="M95.5 327.5L98.0 326.3L100.7 328.2L98.2 330.0Z" fill="#0bb8c6"/>
<path d="M92.8 327.7L95.3 328.2L98.0 326.3L95.5 327.5Z" fill="#0cb9c5"/>
<path d="M226.0 319.2L228.4 321.1L231.1 321.7L228.7 319.9Z" fill="#2894ed"/>
<path d="M223.3 319.5L225.7 321.3L228.4 321.1L226.0 319.2Z" fill="#2895ec"/>
<path d="M220.6 320.1L223.0 322.0L225.7 321.3L223.3 319.5Z" fill="#2895ec"/>
<path d="M217.9 320.8L220.3 322.7L223.0 322.0L220.6 320.1Z" fill="#2895ec"/>
<path d="M215.2 321.1L217.6 322.9L220.3 322.7L217.9 320.8Z" fill="#2895ec"/>
<path d="M212.7 320.7L215.1 322.5L217.6 322.9L215.2 321.1Z" fill="#2797eb"/>
<path d="M210.8 319.3L213.2 321.1L215.1 322.5L212.7 320.7Z" fill="#259ae8"/>
<path d="M208.5 316.1L210.9 318.1L213.2 321.1L210.8 319.3Z" fill="#20a2e2"/>
<path d="M205.9 311.7L208.3 314.0L210.9 318.1L208.5 316.1Z" fill="#19abda"/>
<path d="M203.2 307.1L205.7 309.7L208.3 314.0L205.9 311.7Z" fill="#0eb4cd"/>
<path d="M200.4 303.1L202.8 305.9L205.7 309.7L203.2 307.1Z" fill="#0ebac2"/>
<path d="M197.6 300.8L200.0 303.6L202.8 305.9L200.4 303.1Z" fill="#15bdbb"/>
<path d="M194.7 300.5L197.2 303.2L200.0 303.6L197.6 300.8Z" fill="#18beb8"/>
<path d="M191.9 301.8L194.3 304.2L197.2 303.2L194.7 300.5Z" fill="#18beb8"/>
<path d="M189.0 303.9L191.4 306.1L194.3 304.2L191.9 301.8Z" fill="#16bdba"/>
<path d="M186.1 306.3L188.5 308.2L191.4 306.1L189.0 303.9Z" fill="#13bcbd"/>
<path d="M183.2 308.2L185.6 309.9L188.5 308.2L186.1 306.3Z" fill="#0fbac1"/>
<path d="M180.3 309.3L182.7 311.0L185.6 309.9L183.2 308.2Z" fill="#0db9c4"/>
<path d="M177.5 310.0L179.9 311.6L182.7 311.0L180.3 309.3Z" fill="#0cb9c5"/>
<path d="M174.8 310.5L177.2 312.2L179.9 311.6L177.5 310.0Z" fill="#0cb9c5"/>
<path d="M172.2 311.1L174.6 312.8L177.2 312.2L174.8 310.5Z" fill="#0cb9c5"/>
<path d="M169.5 312.0L171.9 313.7L174.6 312.8L172.2 311.1Z" fill="#0cb8c5"/>
<path d="M167.1 313.4L169.5 315.1L171.9 313.7L169.5 312.0Z" fill="#0bb8c6"/>
<path d="M164.9 315.0L167.3 316.7L169.5 315.1L167.1 313.4Z" fill="#09b7c8"/>
<path d="M162.6 316.5L165.1 318.1L167.3 316.7L164.9 315.0Z" fill="#0bb6ca"/>
<path d="M160.4 317.6L162.9 319.2L165.1 318.1L162.6 316.5Z" fill="#0cb4cc"/>
<path d="M157.8 317.8L160.3 319.5L162.9 319.2L160.4 317.6Z" fill="#0db4cc"/>
<path d="M155.1 317.6L157.5 319.5L160.3 319.5L157.8 317.8Z" fill="#0bb5cb"/>
<path d="M152.3 317.1L154.8 319.2L157.5 319.5L155.1 317.6Z" fill="#09b7c9"/>
<path d="M149.6 316.8L152.1 318.9L154.8 319.2L152.3 317.1Z" fill="#0ab8c7"/>
<path d="M146.9 316.7L149.4 318.9L152.1 318.9L149.6 316.8Z" fill="#0cb9c5"/>
<path d="M144.2 317.1L146.7 319.2L149.4 318.9L146.9 316.7Z" fill="#0cb9c4"/>
<path d="M141.5 318.1L144.0 320.0L146.7 319.2L144.2 317.1Z" fill="#0cb9c5"/>
<path d="M138.8 319.5L141.2 321.3L144.0 320.0L141.5 318.1Z" fill="#0bb8c6"/>
<path d="M136.0 321.2L138.5 323.0L141.2 321.3L138.8 319.5Z" fill="#09b7c8"/>
<path d="M133.3 323.4L135.8 325.3L138.5 323.0L136.0 321.2Z" fill="#0bb5cb"/>
<path d="M130.6 325.8L133.1 328.0L135.8 325.3L133.3 323.4Z" fill="#0fb2cf"/>
<path d="M127.9 328.4L130.4 330.9L133.1 328.0L130.6 325.8Z" fill="#14afd4"/>
<path d="M125.2 331.2L127.6 334.0L130.4 330.9L127.9 328.4Z" fill="#19abda"/>
<path d="M122.4 333.9L124.9 336.8L127.6 334.0L125.2 331.2Z" fill="#1da6df"/>
<path d="M119.7 336.6L122.2 339.2L124.9 336.8L122.4 333.9Z" fill="#20a2e2"/>
<path d="M117.0 338.9L119.5 341.0L122.2 339.2L119.7 336.6Z" fill="#239ee5"/>
<path d="M114.3 340.5L116.8 341.8L119.5 341.0L117.0 338.9Z" fill="#259be8"/>
<path d="M111.6 340.9L114.1 341.3L116.8 341.8L114.3 340.5Z" fill="#259ae8"/>
<path d="M108.9 339.7L111.3 339.1L114.1 341.3L111.6 340.9Z" fill="#229ee5"/>
<path d="M106.1 336.5L108.6 335.1L111.3 339.1L108.9 339.7Z" fill="#1da6df"/>
<path d="M103.4 332.1L105.9 330.3L108.6 335.1L106.1 336.5Z" fill="#13afd3"/>
<path d="M100.7 328.2L103.2 326.4L105.9 330.3L103.4 332.1Z" fill="#09b7c8"/>
<path d="M98.0 326.3L100.5 325.3L103.2 326.4L100.7 328.2Z" fill="#0ebac2"/>
<path d="M95.3 328.2L97.8 328.9L100.5 325.3L98.0 326.3Z" fill="#0ebac2"/>
<path d="M228.4 321.1L230.8 322.9L233.5 323.5L231.1 321.7Z" fill="#2991ef"/>
<path d="M225.7 321.3L228.1 323.1L230.8 322.9L228.4 321.1Z" fill="#2993ee"/>
<path d="M223.0 322.0L225.4 323.7L228.1 323.1L225.7 321.3Z" fill="#2993ee"/>
<path d="M220.3 322.7L222.7 324.3L225.4 323.7L223.0 322.0Z" fill="#2992ee"/>
<path d="M217.6 322.9L220.0 324.5L222.7 324.3L220.3 322.7Z" fill="#2993ee"/>
<path d="M215.1 322.5L217.5 324.1L220.0 324.5L217.6 322.9Z" fill="#2894ed"/>
<path d="M213.2 321.1L215.6 322.8L217.5 324.1L215.1 322.5Z" fill="#2698ea"/>
<path d="M210.9 318.1L213.4 320.1L215.6 322.8L213.2 321.1Z" fill="#229fe5"/>
<path d="M208.3 314.0L210.8 316.2L213.4 320.1L210.9 318.1Z" fill="#1ca8dd"/>
<path d="M205.7 309.7L208.1 312.2L210.8 316.2L208.3 314.0Z" fill="#12b0d2"/>
<path d="M202.8 305.9L205.3 308.7L208.1 312.2L205.7 309.7Z" fill="#0ab8c7"/>
<path d="M200.0 303.6L202.4 306.4L205.3 308.7L202.8 305.9Z" fill="#10bbc0"/>
<path d="M197.2 303.2L199.6 305.9L202.4 306.4L200.0 303.6Z" fill="#13bcbd"/>
<path d="M194.3 304.2L196.7 306.7L199.6 305.9L197.2 303.2Z" fill="#14bcbc"/>
<path d="M191.4 306.1L193.8 308.2L196.7 306.7L194.3 304.2Z" fill="#12bcbe"/>
<path d="M188.5 308.2L190.9 310.1L193.8 308.2L191.4 306.1Z" fill="#10bac1"/>
<path d="M185.6 309.9L188.0 311.6L190.9 310.1L188.5 308.2Z" fill="#0db9c4"/>
<path d="M182.7 311.0L185.1 312.6L188.0 311.6L185.6 309.9Z" fill="#0bb8c6"/>
<path d="M179.9 311.6L182.3 313.3L185.1 312.6L182.7 311.0Z" fill="#0ab8c7"/>
<path d="M177.2 312.2L179.6 313.8L182.3 313.3L179.9 311.6Z" fill="#0ab8c7"/>
<path d="M174.6 312.8L177.0 314.5L179.6 313.8L177.2 312.2Z" fill="#0ab8c7"/>
<path d="M171.9 313.7L174.3 315.4L177.0 314.5L174.6 312.8Z" fill="#09b7c8"/>
<path d="M169.5 315.1L172.0 316.8L174.3 315.4L171.9 313.7Z" fill="#09b7c9"/>
<path d="M167.3 316.7L169.8 318.3L172.0 316.8L169.5 315.1Z" fill="#0bb5cb"/>
<path d="M165.1 318.1L167.6 319.7L169.8 318.3L167.3 316.7Z" fill="#0db4cd"/>
<path d="M162.9 319.2L165.4 320.8L167.6 319.7L165.1 318.1Z" fill="#0fb3cf"/>
<path d="M160.3 319.5L162.8 321.2L165.4 320.8L162.9 319.2Z" fill="#0fb2cf"/>
<path d="M157.5 319.5L160.0 321.3L162.8 321.2L160.3 319.5Z" fill="#0eb3ce"/>
<path d="M154.8 319.2L157.3 321.2L160.0 321.3L157.5 319.5Z" fill="#0cb4cc"/>
<path d="M152.1 318.9L154.6 321.1L157.3 321.2L154.8 319.2Z" fill="#0bb6ca"/>
<path d="M149.4 318.9L151.9 321.1L154.6 321.1L152.1 318.9Z" fill="#09b7c9"/>
<path d="M146.7 319.2L149.2 321.4L151.9 321.1L149.4 318.9Z" fill="#09b7c8"/>
<path d="M144.0 320.0L146.4 322.0L149.2 321.4L146.7 319.2Z" fill="#09b7c8"/>
<path d="M141.2 321.3L143.7 323.1L146.4 322.0L144.0 320.0Z" fill="#09b7c9"/>
<path d="M138.5 323.0L141.0 324.8L143.7 323.1L141.2 321.3Z" fill="#0bb5cb"/>
<path d="M135.8 325.3L138.3 327.2L141.0 324.8L138.5 323.0Z" fill="#0eb3ce"/>
<path d="M133.1 328.0L135.6 330.1L138.3 327.2L135.8 325.3Z" fill="#13b0d3"/>
<path d="M130.4 330.9L132.9 333.4L135.6 330.1L133.1 328.0Z" fill="#18acd8"/>
<path d="M127.6 334.0L130.1 336.7L132.9 333.4L130.4 330.9Z" fill="#1da7de"/>
<path d="M124.9 336.8L127.4 339.6L130.1 336.7L127.6 334.0Z" fill="#20a2e2"/>
<path d="M122.2 339.2L124.7 341.8L127.4 339.6L124.9 336.8Z" fill="#239de6"/>
<path d="M119.5 341.0L122.0 343.0L124.7 341.8L122.2 339.2Z" fill="#259ae9"/>
<path d="M116.8 341.8L119.3 343.0L122.0 343.0L119.5 341.0Z" fill="#2698ea"/>
<path d="M114.1 341.3L116.5 341.7L119.3 343.0L116.8 341.8Z" fill="#259ae8"/>
<path d="M111.3 339.1L113.8 338.7L116.5 341.7L114.1 341.3Z" fill="#21a0e4"/>
<path d="M108.6 335.1L111.1 334.0L113.8 338.7L111.3 339.1Z" fill="#1baadc"/>
<path d="M105.9 330.3L108.4 328.8L111.1 334.0L108.6 335.1Z" fill="#0eb3ce"/>
<path d="M103.2 326.4L105.7 325.0L108.4 328.8L105.9 330.3Z" fill="#0eb9c3"/>
<path d="M100.5 325.3L103.0 324.8L105.7 325.0L103.2 326.4Z" fill="#11bbbf"/>
<path d="M97.8 328.9L100.2 330.1L103.0 324.8L100.5 325.3Z" fill="#10bbc0"/>
<path d="M230.8 322.9L233.2 324.7L235.9 325.2L233.5 323.5Z" fill="#2a8ff1"/>
<path d="M228.1 323.1L230.5 324.8L233.2 324.7L230.8 322.9Z" fill="#2a90f0"/>
<path d="M225.4 323.7L227.8 325.4L230.5 324.8L228.1 323.1Z" fill="#2a90f0"/>
<path d="M222.7 324.3L225.0 325.9L227.8 325.4L225.4 323.7Z" fill="#2a90f0"/>
<path d="M220.0 324.5L222.3 326.0L225.0 325.9L222.7 324.3Z" fill="#2a91ef"/>
<path d="M217.5 324.1L219.9 325.6L222.3 326.0L220.0 324.5Z" fill="#2992ee"/>
<path d="M215.6 322.8L218.1 324.5L219.9 325.6L217.5 324.1Z" fill="#2896ec"/>
<path d="M213.4 320.1L215.8 322.0L218.1 324.5L215.6 322.8Z" fill="#249ce7"/>
<path d="M210.8 316.2L213.2 318.5L215.8 322.0L213.4 320.1Z" fill="#1fa5e0"/>
<path d="M208.1 312.2L210.6 314.8L213.2 318.5L210.8 316.2Z" fill="#16add7"/>
<path d="M205.3 308.7L207.7 311.5L210.6 314.8L208.1 312.2Z" fill="#0db4cc"/>
<path d="M202.4 306.4L204.9 309.3L207.7 311.5L205.3 308.7Z" fill="#0cb9c5"/>
<path d="M199.6 305.9L202.0 308.7L204.9 309.3L202.4 306.4Z" fill="#0fbac1"/>
<path d="M196.7 306.7L199.2 309.2L202.0 308.7L199.6 305.9Z" fill="#10bac1"/>
<path d="M193.8 308.2L196.3 310.5L199.2 309.2L196.7 306.7Z" fill="#0fbac2"/>
<path d="M190.9 310.1L193.3 312.1L196.3 310.5L193.8 308.2Z" fill="#0db9c4"/>
<path d="M188.0 311.6L190.4 313.4L193.3 312.1L190.9 310.1Z" fill="#0ab8c7"/>
<path d="M185.1 312.6L187.5 314.3L190.4 313.4L188.0 311.6Z" fill="#09b7c9"/>
<path d="M182.3 313.3L184.7 315.0L187.5 314.3L185.1 312.6Z" fill="#0ab6ca"/>
<path d="M179.6 313.8L182.0 315.6L184.7 315.0L182.3 313.3Z" fill="#0ab6ca"/>
<path d="M177.0 314.5L179.4 316.3L182.0 315.6L179.6 313.8Z" fill="#0bb6ca"/>
<path d="M174.3 315.4L176.7 317.2L179.4 316.3L177.0 314.5Z" fill="#0bb6cb"/>
<path d="M172.0 316.8L174.4 318.5L176.7 317.2L174.3 315.4Z" fill="#0cb5cc"/>
<path d="M169.8 318.3L172.2 320.0L174.4 318.5L172.0 316.8Z" fill="#0eb3cd"/>
<path d="M167.6 319.7L170.0 321.3L172.2 320.0L169.8 318.3Z" fill="#10b2cf"/>
<path d="M165.4 320.8L167.8 322.4L170.0 321.3L167.6 319.7Z" fill="#11b1d1"/>
<path d="M162.8 321.2L165.2 322.9L167.8 322.4L165.4 320.8Z" fill="#12b1d2"/>
<path d="M160.0 321.3L162.5 323.2L165.2 322.9L162.8 321.2Z" fill="#11b1d1"/>
<path d="M157.3 321.2L159.8 323.3L162.5 323.2L160.0 321.3Z" fill="#10b2cf"/>
<path d="M154.6 321.1L157.1 323.3L159.8 323.3L157.3 321.2Z" fill="#0eb3ce"/>
<path d="M151.9 321.1L154.4 323.4L157.1 323.3L154.6 321.1Z" fill="#0db4cd"/>
<path d="M149.2 321.4L151.6 323.6L154.4 323.4L151.9 321.1Z" fill="#0cb5cc"/>
<path d="M146.4 322.0L148.9 324.2L151.6 323.6L149.2 321.4Z" fill="#0cb5cc"/>
<path d="M143.7 323.1L146.2 325.1L148.9 324.2L146.4 322.0Z" fill="#0cb4cc"/>
<path d="M141.0 324.8L143.5 326.7L146.2 325.1L143.7 323.1Z" fill="#0eb3ce"/>
<path d="M138.3 327.2L140.8 329.1L143.5 326.7L141.0 324.8Z" fill="#11b1d1"/>
<path d="M135.6 330.1L138.1 332.3L140.8 329.1L138.3 327.2Z" fill="#16add6"/>
<path d="M132.9 333.4L135.3 335.9L138.1 332.3L135.6 330.1Z" fill="#1ca9dc"/>
<path d="M130.1 336.7L132.6 339.3L135.3 335.9L132.9 333.4Z" fill="#20a3e1"/>
<path d="M127.4 339.6L129.9 342.3L132.6 339.3L130.1 336.7Z" fill="#239de6"/>
<path d="M124.7 341.8L127.2 344.3L129.9 342.3L127.4 339.6Z" fill="#2698ea"/>
<path d="M122.0 343.0L124.5 345.0L127.2 344.3L124.7 341.8Z" fill="#2896ec"/>
<path d="M119.3 343.0L121.7 344.4L124.5 345.0L122.0 343.0Z" fill="#2896ec"/>
<path d="M116.5 341.7L119.0 342.3L121.7 344.4L119.3 343.0Z" fill="#2599e9"/>
<path d="M113.8 338.7L116.3 338.7L119.0 342.3L116.5 341.7Z" fill="#21a1e3"/>
<path d="M111.1 334.0L113.6 333.5L116.3 338.7L113.8 338.7Z" fill="#18abd9"/>
<path d="M108.4 328.8L110.9 328.1L113.6 333.5L111.1 334.0Z" fill="#0bb5cb"/>
<path d="M105.7 325.0L108.2 324.6L110.9 328.1L108.4 328.8Z" fill="#10bbc0"/>
<path d="M103.0 324.8L105.4 325.2L108.2 324.6L105.7 325.0Z" fill="#13bcbd"/>
<path d="M100.2 330.1L102.7 332.0L105.4 325.2L103.0 324.8Z" fill="#10bbc1"/>
<path d="M233.2 324.7L235.6 326.5L238.3 327.0L235.9 325.2Z" fill="#2b8df2"/>
<path d="M230.5 324.8L232.8 326.6L235.6 326.5L233.2 324.7Z" fill="#2b8ef1"/>
<path d="M227.8 325.4L230.1 327.0L232.8 326.6L230.5 324.8Z" fill="#2b8ef1"/>
<path d="M225.0 325.9L227.4 327.5L230.1 327.0L227.8 325.4Z" fill="#2b8ef1"/>
<path d="M222.3 326.0L224.7 327.6L227.4 327.5L225.0 325.9Z" fill="#2a8ff1"/>
<path d="M219.9 325.6L222.3 327.3L224.7 327.6L222.3 326.0Z" fill="#2a91f0"/>
<path d="M218.1 324.5L220.5 326.4L222.3 327.3L219.9 325.6Z" fill="#2893ed"/>
<path d="M215.8 322.0L218.3 324.2L220.5 326.4L218.1 324.5Z" fill="#2699e9"/>
<path d="M213.2 318.5L215.7 321.0L218.3 324.2L215.8 322.0Z" fill="#21a1e3"/>
<path d="M210.6 314.8L213.0 317.6L215.7 321.0L213.2 318.5Z" fill="#1baadb"/>
<path d="M207.7 311.5L210.2 314.5L213.0 317.6L210.6 314.8Z" fill="#12b0d2"/>
<path d="M204.9 309.3L207.3 312.4L210.2 314.5L207.7 311.5Z" fill="#0bb6ca"/>
<path d="M202.0 308.7L204.5 311.6L207.3 312.4L204.9 309.3Z" fill="#0ab8c7"/>
<path d="M199.2 309.2L201.6 312.0L204.5 311.6L202.0 308.7Z" fill="#0bb8c6"/>
<path d="M196.3 310.5L198.7 312.9L201.6 312.0L199.2 309.2Z" fill="#0bb8c6"/>
<path d="M193.3 312.1L195.8 314.2L198.7 312.9L196.3 310.5Z" fill="#09b7c8"/>
<path d="M190.4 313.4L192.8 315.4L195.8 314.2L193.3 312.1Z" fill="#0bb6ca"/>
<path d="M187.5 314.3L189.9 316.2L192.8 315.4L190.4 313.4Z" fill="#0cb5cc"/>
<path d="M184.7 315.0L187.1 316.9L189.9 316.2L187.5 314.3Z" fill="#0db4cd"/>
<path d="M182.0 315.6L184.4 317.6L187.1 316.9L184.7 315.0Z" fill="#0db4cd"/>
<path d="M179.4 316.3L181.8 318.3L184.4 317.6L182.0 315.6Z" fill="#0db4cd"/>
<path d="M176.7 317.2L179.1 319.1L181.8 318.3L179.4 316.3Z" fill="#0eb3ce"/>
<path d="M174.4 318.5L176.8 320.4L179.1 319.1L176.7 317.2Z" fill="#0fb3cf"/>
<path d="M172.2 320.0L174.6 321.7L176.8 320.4L174.4 318.5Z" fill="#10b1d0"/>
<path d="M170.0 321.3L172.5 323.0L174.6 321.7L172.2 320.0Z" fill="#12b0d2"/>
<path d="M167.8 322.4L170.3 324.1L172.5 323.0L170.0 321.3Z" fill="#13afd4"/>
<path d="M165.2 322.9L167.7 324.7L170.3 324.1L167.8 322.4Z" fill="#14afd4"/>
<path d="M162.5 323.2L165.0 325.1L167.7 324.7L165.2 322.9Z" fill="#14afd4"/>
<path d="M159.8 323.3L162.3 325.4L165.0 325.1L162.5 323.2Z" fill="#13b0d3"/>
<path d="M157.1 323.3L159.6 325.7L162.3 325.4L159.8 323.3Z" fill="#12b0d2"/>
<path d="M154.4 323.4L156.9 325.8L159.6 325.7L157.1 323.3Z" fill="#11b1d1"/>
<path d="M151.6 323.6L154.1 326.0L156.9 325.8L154.4 323.4Z" fill="#10b2d0"/>
<path d="M148.9 324.2L151.4 326.5L154.1 326.0L151.6 323.6Z" fill="#10b2d0"/>
<path d="M146.2 325.1L148.7 327.4L151.4 326.5L148.9 324.2Z" fill="#10b2d0"/>
<path d="M143.5 326.7L146.0 328.9L148.7 327.4L146.2 325.1Z" fill="#11b1d1"/>
<path d="M140.8 329.1L143.3 331.4L146.0 328.9L143.5 326.7Z" fill="#14aed5"/>
<path d="M138.1 332.3L140.5 334.7L143.3 331.4L140.8 329.1Z" fill="#19abda"/>
<path d="M135.3 335.9L137.8 338.4L140.5 334.7L138.1 332.3Z" fill="#1ea5e0"/>
<path d="M132.6 339.3L135.1 342.0L137.8 338.4L135.3 335.9Z" fill="#229fe5"/>
<path d="M129.9 342.3L132.4 345.0L135.1 342.0L132.6 339.3Z" fill="#2699e9"/>
<path d="M127.2 344.3L129.7 346.8L132.4 345.0L129.9 342.3Z" fill="#2894ed"/>
<path d="M124.5 345.0L127.0 347.1L129.7 346.8L127.2 344.3Z" fill="#2992ee"/>
<path d="M121.7 344.4L124.2 346.0L127.0 347.1L124.5 345.0Z" fill="#2894ed"/>
<path d="M119.0 342.3L121.5 343.4L124.2 346.0L121.7 344.4Z" fill="#2699e9"/>
<path d="M116.3 338.7L118.8 339.3L121.5 343.4L119.0 342.3Z" fill="#21a1e3"/>
<path d="M113.6 333.5L116.1 334.0L118.8 339.3L116.3 338.7Z" fill="#18acd8"/>
<path d="M110.9 328.1L113.4 328.7L116.1 334.0L113.6 333.5Z" fill="#0ab6ca"/>
<path d="M108.2 324.6L110.6 325.6L113.4 328.7L110.9 328.1Z" fill="#11bbbf"/>
<path d="M105.4 325.2L107.9 327.0L110.6 325.6L108.2 324.6Z" fill="#13bcbd"/>
<path d="M102.7 332.0L105.2 334.9L107.9 327.0L105.4 325.2Z" fill="#0ebac2"/>
<path d="M235.6 326.5L237.9 328.3L240.6 328.8L238.3 327.0Z" fill="#2c8bf4"/>
<path d="M232.8 326.6L235.2 328.5L237.9 328.3L235.6 326.5Z" fill="#2c8cf3"/>
<path d="M230.1 327.0L232.5 328.9L235.2 328.5L232.8 326.6Z" fill="#2b8cf3"/>
<path d="M227.4 327.5L229.8 329.3L232.5 328.9L230.1 327.0Z" fill="#2b8cf3"/>
<path d="M224.7 327.6L227.1 329.3L229.8 329.3L227.4 327.5Z" fill="#2b8df2"/>
<path d="M222.3 327.3L224.7 329.1L227.1 329.3L224.7 327.6Z" fill="#2a8ff1"/>
<path d="M220.5 326.4L222.9 328.4L224.7 329.1L222.3 327.3Z" fill="#2991ef"/>
<path d="M218.3 324.2L220.7 326.6L222.9 328.4L220.5 326.4Z" fill="#2896ec"/>
<path d="M215.7 321.0L218.1 323.7L220.7 326.6L218.3 324.2Z" fill="#239de6"/>
<path d="M213.0 317.6L215.5 320.8L218.1 323.7L215.7 321.0Z" fill="#1ea5e0"/>
<path d="M210.2 314.5L212.6 317.8L215.5 320.8L213.0 317.6Z" fill="#17acd8"/>
<path d="M207.3 312.4L209.8 315.8L212.6 317.8L210.2 314.5Z" fill="#11b1d1"/>
<path d="M204.5 311.6L206.9 314.9L209.8 315.8L207.3 312.4Z" fill="#0db4cd"/>
<path d="M201.6 312.0L204.0 315.0L206.9 314.9L204.5 311.6Z" fill="#0cb5cb"/>
<path d="M198.7 312.9L201.1 315.6L204.0 315.0L201.6 312.0Z" fill="#0cb5cb"/>
<path d="M195.8 314.2L198.2 316.6L201.1 315.6L198.7 312.9Z" fill="#0db4cc"/>
<path d="M192.8 315.4L195.2 317.5L198.2 316.6L195.8 314.2Z" fill="#0eb3ce"/>
<path d="M189.9 316.2L192.3 318.3L195.2 317.5L192.8 315.4Z" fill="#0fb2cf"/>
<path d="M187.1 316.9L189.5 319.0L192.3 318.3L189.9 316.2Z" fill="#10b2d0"/>
<path d="M184.4 317.6L186.8 319.7L189.5 319.0L187.1 316.9Z" fill="#10b1d0"/>
<path d="M181.8 318.3L184.2 320.4L186.8 319.7L184.4 317.6Z" fill="#11b1d1"/>
<path d="M179.1 319.1L181.5 321.2L184.2 320.4L181.8 318.3Z" fill="#11b1d1"/>
<path d="M176.8 320.4L179.2 322.4L181.5 321.2L179.1 319.1Z" fill="#12b0d2"/>
<path d="M174.6 321.7L177.1 323.7L179.2 322.4L176.8 320.4Z" fill="#13afd4"/>
<path d="M172.5 323.0L174.9 324.9L177.1 323.7L174.6 321.7Z" fill="#15aed5"/>
<path d="M170.3 324.1L172.8 326.0L174.9 324.9L172.5 323.0Z" fill="#16add6"/>
<path d="M167.7 324.7L170.2 326.7L172.8 326.0L170.3 324.1Z" fill="#17add7"/>
<path d="M165.0 325.1L167.5 327.3L170.2 326.7L167.7 324.7Z" fill="#17add7"/>
<path d="M162.3 325.4L164.8 327.7L167.5 327.3L165.0 325.1Z" fill="#16add7"/>
<path d="M159.6 325.7L162.1 328.1L164.8 327.7L162.3 325.4Z" fill="#16add6"/>
<path d="M156.9 325.8L159.3 328.4L162.1 328.1L159.6 325.7Z" fill="#15aed5"/>
<path d="M154.1 326.0L156.6 328.7L159.3 328.4L156.9 325.8Z" fill="#14aed5"/>
<path d="M151.4 326.5L153.9 329.1L156.6 328.7L154.1 326.0Z" fill="#14afd4"/>
<path d="M148.7 327.4L151.2 329.9L153.9 329.1L151.4 326.5Z" fill="#14afd4"/>
<path d="M146.0 328.9L148.5 331.4L151.2 329.9L148.7 327.4Z" fill="#15aed6"/>
<path d="M143.3 331.4L145.7 333.9L148.5 331.4L146.0 328.9Z" fill="#18abd9"/>
<path d="M140.5 334.7L143.0 337.3L145.7 333.9L143.3 331.4Z" fill="#1da7de"/>
<path d="M137.8 338.4L140.3 341.2L143.0 337.3L140.5 334.7Z" fill="#21a1e3"/>
<path d="M135.1 342.0L137.6 344.9L140.3 341.2L137.8 338.4Z" fill="#259ae8"/>
<path d="M132.4 345.0L134.9 347.8L137.6 344.9L135.1 342.0Z" fill="#2894ed"/>
<path d="M129.7 346.8L132.2 349.4L134.9 347.8L132.4 345.0Z" fill="#2a90f0"/>
<path d="M127.0 347.1L129.4 349.4L132.2 349.4L129.7 346.8Z" fill="#2a8ff1"/>
<path d="M124.2 346.0L126.7 347.9L129.4 349.4L127.0 347.1Z" fill="#2992ef"/>
<path d="M121.5 343.4L124.0 345.0L126.7 347.9L124.2 346.0Z" fill="#2797eb"/>
<path d="M118.8 339.3L121.3 340.9L124.0 345.0L121.5 343.4Z" fill="#21a0e3"/>
<path d="M116.1 334.0L118.6 335.7L121.3 340.9L118.8 339.3Z" fill="#18abd9"/>
<path d="M113.4 328.7L115.8 330.9L118.6 335.7L116.1 334.0Z" fill="#0bb5cb"/>
<path d="M110.6 325.6L113.1 328.4L115.8 330.9L113.4 328.7Z" fill="#0fbac1"/>
<path d="M107.9 327.0L110.4 330.5L113.1 328.4L110.6 325.6Z" fill="#11bbc0"/>
<path d="M105.2 334.9L107.7 339.1L110.4 330.5L107.9 327.0Z" fill="#0ab8c6"/>
<path d="M237.9 328.3L240.3 330.4L243.0 330.8L240.6 328.8Z" fill="#2d88f6"/>
<path d="M235.2 328.5L237.6 330.5L240.3 330.4L237.9 328.3Z" fill="#2d89f5"/>
<path d="M232.5 328.9L234.9 330.9L237.6 330.5L235.2 328.5Z" fill="#2c8af5"/>
<path d="M229.8 329.3L232.2 331.3L234.9 330.9L232.5 328.9Z" fill="#2c8af5"/>
<path d="M227.1 329.3L229.5 331.3L232.2 331.3L229.8 329.3Z" fill="#2c8bf4"/>
<path d="M224.7 329.1L227.1 331.2L229.5 331.3L227.1 329.3Z" fill="#2b8cf3"/>
<path d="M222.9 328.4L225.3 330.9L227.1 331.2L224.7 329.1Z" fill="#2b8ef1"/>
<path d="M220.7 326.6L223.2 329.5L225.3 330.9L222.9 328.4Z" fill="#2992ee"/>
<path d="M218.1 323.7L220.6 327.0L223.2 329.5L220.7 326.6Z" fill="#2698ea"/>
<path d="M215.5 320.8L217.9 324.3L220.6 327.0L218.1 323.7Z" fill="#22a0e4"/>
<path d="M212.6 317.8L215.1 321.5L217.9 324.3L215.5 320.8Z" fill="#1da7de"/>
<path d="M209.8 315.8L212.2 319.5L215.1 321.5L212.6 317.8Z" fill="#17acd8"/>
<path d="M206.9 314.9L209.4 318.5L212.2 319.5L209.8 315.8Z" fill="#13afd4"/>
<path d="M204.0 315.0L206.5 318.3L209.4 318.5L206.9 314.9Z" fill="#12b1d2"/>
<path d="M201.1 315.6L203.5 318.6L206.5 318.3L204.0 315.0Z" fill="#11b1d1"/>
<path d="M198.2 316.6L200.6 319.3L203.5 318.6L201.1 315.6Z" fill="#12b1d2"/>
<path d="M195.2 317.5L197.6 320.1L200.6 319.3L198.2 316.6Z" fill="#12b0d3"/>
<path d="M192.3 318.3L194.7 320.7L197.6 320.1L195.2 317.5Z" fill="#13afd3"/>
<path d="M189.5 319.0L191.9 321.3L194.7 320.7L192.3 318.3Z" fill="#14afd4"/>
<path d="M186.8 319.7L189.2 322.1L191.9 321.3L189.5 319.0Z" fill="#14afd4"/>
<path d="M184.2 320.4L186.6 322.8L189.2 322.1L186.8 319.7Z" fill="#14aed5"/>
<path d="M181.5 321.2L184.0 323.5L186.6 322.8L184.2 320.4Z" fill="#15aed5"/>
<path d="M179.2 322.4L181.6 324.6L184.0 323.5L181.5 321.2Z" fill="#16aed6"/>
<path d="M177.1 323.7L179.5 325.8L181.6 324.6L179.2 322.4Z" fill="#17add7"/>
<path d="M174.9 324.9L177.4 327.0L179.5 325.8L177.1 323.7Z" fill="#18acd9"/>
<path d="M172.8 326.0L175.3 328.1L177.4 327.0L174.9 324.9Z" fill="#19abda"/>
<path d="M170.2 326.7L172.7 328.9L175.3 328.1L172.8 326.0Z" fill="#1aaadb"/>
<ellipse cx="173.7" cy="327.3" rx="1.4" ry="1.0" fill="#000" stroke="none"/>
<path d="M167.5 327.3L170.0 329.6L172.7 328.9L170.2 326.7Z" fill="#1aaadb"/>
<path d="M164.8 327.7L167.3 330.2L170.0 329.6L167.5 327.3Z" fill="#1aaadb"/>
<path d="M162.1 328.1L164.5 330.8L167.3 330.2L164.8 327.7Z" fill="#1aaadb"/>
<path d="M159.3 328.4L161.8 331.3L164.5 330.8L162.1 328.1Z" fill="#1aaada"/>
<ellipse cx="160.7" cy="329.9" rx="1.4" ry="1.0" fill="#000" stroke="none"/>
<path d="M156.6 328.7L159.1 331.6L161.8 331.3L159.3 328.4Z" fill="#19abda"/>
<path d="M153.9 329.1L156.4 332.0L159.1 331.6L156.6 328.7Z" fill="#19abd9"/>
<path d="M151.2 329.9L153.7 332.9L156.4 332.0L153.9 329.1Z" fill="#19abda"/>
<path d="M148.5 331.4L151.0 334.4L153.7 332.9L151.2 329.9Z" fill="#1aaadb"/>
<path d="M145.7 333.9L148.2 336.9L151.0 334.4L148.5 331.4Z" fill="#1da8de"/>
<ellipse cx="147.7" cy="334.8" rx="1.4" ry="1.0" fill="#000" stroke="none"/>
<path d="M143.0 337.3L145.5 340.4L148.2 336.9L145.7 333.9Z" fill="#20a3e1"/>
<path d="M140.3 341.2L142.8 344.3L145.5 340.4L143.0 337.3Z" fill="#249ce7"/>
<path d="M137.6 344.9L140.1 348.0L142.8 344.3L140.3 341.2Z" fill="#2895ec"/>
<path d="M134.9 347.8L137.4 350.9L140.1 348.0L137.6 344.9Z" fill="#2a90f0"/>
<path d="M132.2 349.4L134.6 352.3L137.4 350.9L134.9 347.8Z" fill="#2b8cf3"/>
<ellipse cx="134.7" cy="350.5" rx="1.4" ry="1.0" fill="#000" stroke="none"/>
<path d="M129.4 349.4L131.9 352.1L134.6 352.3L132.2 349.4Z" fill="#2c8cf3"/>
<path d="M126.7 347.9L129.2 350.4L131.9 352.1L129.4 349.4Z" fill="#2a8ff1"/>
<path d="M124.0 345.0L126.5 347.5L129.2 350.4L126.7 347.9Z" fill="#2894ed"/>
<path d="M121.3 340.9L123.8 343.7L126.5 347.5L124.0 345.0Z" fill="#239de6"/>
<path d="M118.6 335.7L121.1 339.1L123.8 343.7L121.3 340.9Z" fill="#1ca9dd"/>
<ellipse cx="121.7" cy="340.7" rx="1.4" ry="1.0" fill="#000" stroke="none"/>
<path d="M115.8 330.9L118.3 335.1L121.1 339.1L118.6 335.7Z" fill="#10b2d0"/>
<path d="M113.1 328.4L115.6 333.5L118.3 335.1L115.8 330.9Z" fill="#0ab8c7"/>
<ellipse cx="115.2" cy="331.1" rx="1.4" ry="1.0" fill="#000" stroke="none"/>
<path d="M110.4 330.5L112.9 336.2L115.6 333.5L113.1 328.4Z" fill="#0ab8c7"/>
<path d="M107.7 339.1L110.2 344.9L112.9 336.2L110.4 330.5Z" fill="#0fb2cf"/>
<path d="M240.3 330.4L242.7 332.7L245.4 333.0L243.0 330.8Z" fill="#2f85f8"/>
<path d="M237.6 330.5L240.0 332.8L242.7 332.7L240.3 330.4Z" fill="#2e86f7"/>
<path d="M234.9 330.9L237.3 333.3L240.0 332.8L237.6 330.5Z" fill="#2e87f7"/>
<ellipse cx="238.8" cy="332.4" rx="1.4" ry="1.0" fill="#000" stroke="none"/>
<path d="M232.2 331.3L234.6 333.6L237.3 333.3L234.9 330.9Z" fill="#2d87f7"/>
<path d="M229.5 331.3L231.9 333.8L234.6 333.6L232.2 331.3Z" fill="#2d88f6"/>
<path d="M227.1 331.2L229.5 333.8L231.9 333.8L229.5 331.3Z" fill="#2d89f5"/>
<path d="M225.3 330.9L227.8 334.0L229.5 333.8L227.1 331.2Z" fill="#2c8bf4"/>
<path d="M223.2 329.5L225.6 332.9L227.8 334.0L225.3 330.9Z" fill="#2b8ef2"/>
<ellipse cx="225.8" cy="331.5" rx="1.4" ry="1.0" fill="#000" stroke="none"/>
<path d="M220.6 327.0L223.0 330.7L225.6 332.9L223.2 329.5Z" fill="#2993ee"/>
<path d="M217.9 324.3L220.4 328.3L223.0 330.7L220.6 327.0Z" fill="#2699e9"/>
<path d="M215.1 321.5L217.5 325.7L220.4 328.3L217.9 324.3Z" fill="#21a0e4"/>
<path d="M212.2 319.5L214.7 323.7L217.5 325.7L215.1 321.5Z" fill="#1ea6df"/>
<ellipse cx="212.8" cy="319.9" rx="1.4" ry="1.0" fill="#000" stroke="none"/>
<path d="M209.4 318.5L211.8 322.5L214.7 323.7L212.2 319.5Z" fill="#1baadb"/>
<path d="M206.5 318.3L208.9 322.1L211.8 322.5L209.4 318.5Z" fill="#18abd9"/>
<path d="M203.5 318.6L206.0 322.1L208.9 322.1L206.5 318.3Z" fill="#17acd8"/>
<path d="M200.6 319.3L203.0 322.5L206.0 322.1L203.5 318.6Z" fill="#17acd8"/>
<path d="M197.6 320.1L200.1 323.0L203.0 322.5L200.6 319.3Z" fill="#18acd8"/>
<ellipse cx="199.8" cy="321.0" rx="1.4" ry="1.0" fill="#000" stroke="none"/>
<path d="M194.7 320.7L197.1 323.4L200.1 323.0L197.6 320.1Z" fill="#18acd8"/>
<path d="M191.9 321.3L194.3 324.0L197.1 323.4L194.7 320.7Z" fill="#18acd9"/>
<path d="M189.2 322.1L191.7 324.8L194.3 324.0L191.9 321.3Z" fill="#18abd9"/>
<path d="M186.6 322.8L189.0 325.4L191.7 324.8L189.2 322.1Z" fill="#19abd9"/>
<path d="M184.0 323.5L186.4 326.1L189.0 325.4L186.6 322.8Z" fill="#19abda"/>
<ellipse cx="186.8" cy="324.4" rx="1.4" ry="1.0" fill="#000" stroke="none"/>
<path d="M181.6 324.6L184.1 327.0L186.4 326.1L184.0 323.5Z" fill="#1aaada"/>
<path d="M179.5 325.8L182.0 328.2L184.1 327.0L181.6 324.6Z" fill="#1baadb"/>
<path d="M177.4 327.0L179.9 329.3L182.0 328.2L179.5 325.8Z" fill="#1ca9dd"/>
<path d="M175.3 328.1L177.8 330.5L179.9 329.3L177.4 327.0Z" fill="#1ca8dd"/>
<path d="M172.7 328.9L175.2 331.3L177.8 330.5L175.3 328.1Z" fill="#1da7de"/>
<path d="M170.0 329.6L172.5 332.1L175.2 331.3L172.7 328.9Z" fill="#1da7de"/>
<path d="M167.3 330.2L169.7 332.9L172.5 332.1L170.0 329.6Z" fill="#1ea6df"/>
<path d="M164.5 330.8L167.0 333.7L169.7 332.9L167.3 330.2Z" fill="#1ea6df"/>
<path d="M161.8 331.3L164.3 334.3L167.0 333.7L164.5 330.8Z" fill="#1ea6df"/>
<path d="M159.1 331.6L161.6 334.8L164.3 334.3L161.8 331.3Z" fill="#1ea6df"/>
<path d="M156.4 332.0L158.9 335.3L161.6 334.8L159.1 331.6Z" fill="#1da6df"/>
<path d="M153.7 332.9L156.2 336.3L158.9 335.3L156.4 332.0Z" fill="#1ea6df"/>
<path d="M151.0 334.4L153.4 337.8L156.2 336.3L153.7 332.9Z" fill="#1ea5e0"/>
<path d="M148.2 336.9L150.7 340.3L153.4 337.8L151.0 334.4Z" fill="#20a2e2"/>
<path d="M145.5 340.4L148.0 343.8L150.7 340.3L148.2 336.9Z" fill="#239de6"/>
<path d="M142.8 344.3L145.3 347.6L148.0 343.8L145.5 340.4Z" fill="#2797eb"/>
<path d="M140.1 348.0L142.6 351.2L145.3 347.6L142.8 344.3Z" fill="#2a91f0"/>
<path d="M137.4 350.9L139.8 354.0L142.6 351.2L140.1 348.0Z" fill="#2c8bf4"/>
<path d="M134.6 352.3L137.1 355.3L139.8 354.0L137.4 350.9Z" fill="#2d88f6"/>
<path d="M131.9 352.1L134.4 355.0L137.1 355.3L134.6 352.3Z" fill="#2d87f6"/>
<path d="M129.2 350.4L131.7 353.4L134.4 355.0L131.9 352.1Z" fill="#2c8bf4"/>
<path d="M126.5 347.5L129.0 350.8L131.7 353.4L129.2 350.4Z" fill="#2a90f0"/>
<path d="M123.8 343.7L126.3 347.6L129.0 350.8L126.5 347.5Z" fill="#2698ea"/>
<path d="M121.1 339.1L123.5 344.1L126.3 347.6L123.8 343.7Z" fill="#20a2e2"/>
<path d="M118.3 335.1L120.8 341.4L123.5 344.1L121.1 339.1Z" fill="#19abd9"/>
<path d="M115.6 333.5L118.1 340.9L120.8 341.4L118.3 335.1Z" fill="#13afd3"/>
<path d="M112.9 336.2L115.4 343.9L118.1 340.9L115.6 333.5Z" fill="#14afd4"/>
<path d="M110.2 344.9L112.7 352.0L115.4 343.9L112.9 336.2Z" fill="#1ca8dd"/>
<path d="M242.7 332.7L245.1 335.2L247.8 335.4L245.4 333.0Z" fill="#3380f9"/>
<path d="M240.0 332.8L242.4 335.4L245.1 335.2L242.7 332.7Z" fill="#3281f8"/>
<path d="M237.3 333.3L239.7 335.9L242.4 335.4L240.0 332.8Z" fill="#3282f8"/>
<path d="M234.6 333.6L237.0 336.4L239.7 335.9L237.3 333.3Z" fill="#3282f8"/>
<path d="M231.9 333.8L234.3 336.7L237.0 336.4L234.6 333.6Z" fill="#3183f8"/>
<path d="M229.5 333.8L231.9 336.9L234.3 336.7L231.9 333.8Z" fill="#3084f8"/>
<path d="M227.8 334.0L230.2 337.5L231.9 336.9L229.5 333.8Z" fill="#2f85f7"/>
<path d="M225.6 332.9L228.1 336.8L230.2 337.5L227.8 334.0Z" fill="#2d88f6"/>
<path d="M223.0 330.7L225.5 334.8L228.1 336.8L225.6 332.9Z" fill="#2b8df2"/>
<path d="M220.4 328.3L222.8 332.6L225.5 334.8L223.0 330.7Z" fill="#2992ee"/>
<path d="M217.5 325.7L220.0 330.1L222.8 332.6L220.4 328.3Z" fill="#2698ea"/>
<path d="M214.7 323.7L217.1 328.1L220.0 330.1L217.5 325.7Z" fill="#239ee5"/>
<path d="M211.8 322.5L214.2 326.8L217.1 328.1L214.7 323.7Z" fill="#20a2e2"/>
<path d="M208.9 322.1L211.3 326.2L214.2 326.8L211.8 322.5Z" fill="#1ea5e0"/>
<path d="M206.0 322.1L208.4 325.9L211.3 326.2L208.9 322.1Z" fill="#1da6df"/>
<path d="M203.0 322.5L205.4 326.0L208.4 325.9L206.0 322.1Z" fill="#1da7de"/>
<path d="M200.1 323.0L202.5 326.3L205.4 326.0L203.0 322.5Z" fill="#1da7de"/>
<path d="M197.1 323.4L199.5 326.6L202.5 326.3L200.1 323.0Z" fill="#1da7de"/>
<path d="M194.3 324.0L196.7 327.0L199.5 326.6L197.1 323.4Z" fill="#1da7de"/>
<path d="M191.7 324.8L194.1 327.7L196.7 327.0L194.3 324.0Z" fill="#1da7de"/>
<path d="M189.0 325.4L191.4 328.3L194.1 327.7L191.7 324.8Z" fill="#1da7de"/>
<path d="M186.4 326.1L188.8 328.9L191.4 328.3L189.0 325.4Z" fill="#1da7de"/>
<path d="M184.1 327.0L186.5 329.7L188.8 328.9L186.4 326.1Z" fill="#1da6de"/>
<path d="M182.0 328.2L184.4 330.8L186.5 329.7L184.1 327.0Z" fill="#1ea6df"/>
<path d="M179.9 329.3L182.3 331.8L184.4 330.8L182.0 328.2Z" fill="#1ea5e0"/>
<path d="M177.8 330.5L180.3 333.0L182.3 331.8L179.9 329.3Z" fill="#1fa4e1"/>
<path d="M175.2 331.3L177.7 333.8L180.3 333.0L177.8 330.5Z" fill="#1fa3e1"/>
<path d="M172.5 332.1L174.9 334.7L177.7 333.8L175.2 331.3Z" fill="#20a2e2"/>
<path d="M169.7 332.9L172.2 335.7L174.9 334.7L172.5 332.1Z" fill="#20a2e2"/>
<path d="M167.0 333.7L169.5 336.7L172.2 335.7L169.7 332.9Z" fill="#21a1e3"/>
<path d="M164.3 334.3L166.8 337.5L169.5 336.7L167.0 333.7Z" fill="#21a1e3"/>
<path d="M161.6 334.8L164.1 338.1L166.8 337.5L164.3 334.3Z" fill="#21a0e3"/>
<path d="M158.9 335.3L161.4 338.8L164.1 338.1L161.6 334.8Z" fill="#21a0e3"/>
<path d="M156.2 336.3L158.6 339.9L161.4 338.8L158.9 335.3Z" fill="#21a0e4"/>
<path d="M153.4 337.8L155.9 341.5L158.6 339.9L156.2 336.3Z" fill="#229fe5"/>
<path d="M150.7 340.3L153.2 344.0L155.9 341.5L153.4 337.8Z" fill="#249ce7"/>
<path d="M148.0 343.8L150.5 347.4L153.2 344.0L150.7 340.3Z" fill="#2797eb"/>
<path d="M145.3 347.6L147.8 351.1L150.5 347.4L148.0 343.8Z" fill="#2991ef"/>
<path d="M142.6 351.2L145.1 354.6L147.8 351.1L145.3 347.6Z" fill="#2c8bf4"/>
<path d="M139.8 354.0L142.3 357.2L145.1 354.6L142.6 351.2Z" fill="#2e86f7"/>
<path d="M137.1 355.3L139.6 358.5L142.3 357.2L139.8 354.0Z" fill="#3281f9"/>
<path d="M134.4 355.0L136.9 358.2L139.6 358.5L137.1 355.3Z" fill="#3281f8"/>
<path d="M131.7 353.4L134.2 356.7L136.9 358.2L134.4 355.0Z" fill="#2e86f7"/>
<path d="M129.0 350.8L131.5 354.6L134.2 356.7L131.7 353.4Z" fill="#2c8bf3"/>
<path d="M126.3 347.6L128.7 352.3L131.5 354.6L129.0 350.8Z" fill="#2992ef"/>
<path d="M123.5 344.1L126.0 350.2L128.7 352.3L126.3 347.6Z" fill="#2699e9"/>
<path d="M120.8 341.4L123.3 349.0L126.0 350.2L123.5 344.1Z" fill="#229fe4"/>
<path d="M118.1 340.9L120.6 349.7L123.3 349.0L120.8 341.4Z" fill="#20a2e2"/>
<path d="M115.4 343.9L117.9 353.1L120.6 349.7L118.1 340.9Z" fill="#21a1e3"/>
<path d="M112.7 352.0L115.2 360.1L117.9 353.1L115.4 343.9Z" fill="#2698ea"/>
<path d="M245.1 335.2L247.5 337.7L250.2 337.8L247.8 335.4Z" fill="#387afa"/>
<path d="M242.4 335.4L244.8 338.1L247.5 337.7L245.1 335.2Z" fill="#377bfa"/>
<path d="M239.7 335.9L242.1 338.8L244.8 338.1L242.4 335.4Z" fill="#377cfa"/>
<path d="M237.0 336.4L239.4 339.4L242.1 338.8L239.7 335.9Z" fill="#377cfa"/>
<path d="M234.3 336.7L236.7 339.8L239.4 339.4L237.0 336.4Z" fill="#367cfa"/>
<path d="M231.9 336.9L234.3 340.4L236.7 339.8L234.3 336.7Z" fill="#367dfa"/>
<path d="M230.2 337.5L232.6 341.3L234.3 340.4L231.9 336.9Z" fill="#357df9"/>
<path d="M228.1 336.8L230.5 340.9L232.6 341.3L230.2 337.5Z" fill="#3380f9"/>
<path d="M225.5 334.8L227.9 339.1L230.5 340.9L228.1 336.8Z" fill="#2e86f7"/>
<path d="M222.8 332.6L225.3 337.1L227.9 339.1L225.5 334.8Z" fill="#2c8bf4"/>
<path d="M220.0 330.1L222.4 334.6L225.3 337.1L222.8 332.6Z" fill="#2a91ef"/>
<path d="M217.1 328.1L219.6 332.6L222.4 334.6L220.0 330.1Z" fill="#2896ec"/>
<path d="M214.2 326.8L216.7 331.2L219.6 332.6L217.1 328.1Z" fill="#259ae8"/>
<path d="M211.3 326.2L213.8 330.4L216.7 331.2L214.2 326.8Z" fill="#239de6"/>
<path d="M208.4 325.9L210.8 329.9L213.8 330.4L211.3 326.2Z" fill="#229fe4"/>
<path d="M205.4 326.0L207.8 329.7L210.8 329.9L208.4 325.9Z" fill="#21a0e3"/>
<path d="M202.5 326.3L204.9 329.7L207.8 329.7L205.4 326.0Z" fill="#21a1e3"/>
<path d="M199.5 326.6L201.9 329.9L204.9 329.7L202.5 326.3Z" fill="#20a2e2"/>
<path d="M196.7 327.0L199.1 330.3L201.9 329.9L199.5 326.6Z" fill="#20a2e2"/>
<path d="M194.1 327.7L196.5 330.9L199.1 330.3L196.7 327.0Z" fill="#20a2e2"/>
<path d="M191.4 328.3L193.8 331.4L196.5 330.9L194.1 327.7Z" fill="#20a2e2"/>
<path d="M188.8 328.9L191.2 331.8L193.8 331.4L191.4 328.3Z" fill="#20a2e2"/>
<path d="M186.5 329.7L188.9 332.5L191.2 331.8L188.8 328.9Z" fill="#20a2e2"/>
<path d="M184.4 330.8L186.9 333.5L188.9 332.5L186.5 329.7Z" fill="#21a1e3"/>
<path d="M182.3 331.8L184.8 334.5L186.9 333.5L184.4 330.8Z" fill="#21a0e3"/>
<path d="M180.3 333.0L182.7 335.6L184.8 334.5L182.3 331.8Z" fill="#22a0e4"/>
<path d="M177.7 333.8L180.2 336.5L182.7 335.6L180.3 333.0Z" fill="#229fe5"/>
<path d="M174.9 334.7L177.4 337.5L180.2 336.5L177.7 333.8Z" fill="#239ee5"/>
<path d="M172.2 335.7L174.7 338.6L177.4 337.5L174.9 334.7Z" fill="#239de6"/>
<path d="M169.5 336.7L172.0 339.7L174.7 338.6L172.2 335.7Z" fill="#249ce7"/>
<path d="M166.8 337.5L169.3 340.7L172.0 339.7L169.5 336.7Z" fill="#249be7"/>
<path d="M164.1 338.1L166.6 341.5L169.3 340.7L166.8 337.5Z" fill="#259be8"/>
<path d="M161.4 338.8L163.8 342.3L166.6 341.5L164.1 338.1Z" fill="#259ae8"/>
<path d="M158.6 339.9L161.1 343.5L163.8 342.3L161.4 338.8Z" fill="#259ae9"/>
<path d="M155.9 341.5L158.4 345.2L161.1 343.5L158.6 339.9Z" fill="#2698ea"/>
<path d="M153.2 344.0L155.7 347.7L158.4 345.2L155.9 341.5Z" fill="#2895ec"/>
<path d="M150.5 347.4L153.0 351.0L155.7 347.7L153.2 344.0Z" fill="#2991ef"/>
<path d="M147.8 351.1L150.3 354.6L153.0 351.0L150.5 347.4Z" fill="#2c8cf3"/>
<path d="M145.1 354.6L147.5 357.9L150.3 354.6L147.8 351.1Z" fill="#2f86f7"/>
<path d="M142.3 357.2L144.8 360.4L147.5 357.9L145.1 354.6Z" fill="#347ef9"/>
<path d="M139.6 358.5L142.1 361.6L144.8 360.4L142.3 357.2Z" fill="#387afa"/>
<path d="M136.9 358.2L139.4 361.3L142.1 361.6L139.6 358.5Z" fill="#387afa"/>
<path d="M134.2 356.7L136.7 360.1L139.4 361.3L136.9 358.2Z" fill="#347ff9"/>
<path d="M131.5 354.6L133.9 358.7L136.7 360.1L134.2 356.7Z" fill="#2f85f7"/>
<path d="M128.7 352.3L131.2 357.4L133.9 358.7L131.5 354.6Z" fill="#2c8af4"/>
<path d="M126.0 350.2L128.5 356.9L131.2 357.4L128.7 352.3Z" fill="#2a8ff1"/>
<path d="M123.3 349.0L125.8 357.5L128.5 356.9L126.0 350.2Z" fill="#2991ef"/>
<path d="M120.6 349.7L123.1 359.5L125.8 357.5L123.3 349.0Z" fill="#2991ef"/>
<path d="M117.9 353.1L120.4 363.1L123.1 359.5L120.6 349.7Z" fill="#2a8ff1"/>
<path d="M115.2 360.1L117.6 368.4L120.4 363.1L117.9 353.1Z" fill="#2d88f6"/>
<path d="M247.5 337.7L249.9 340.1L252.6 340.0L250.2 337.8Z" fill="#3c75fc"/>
<path d="M244.8 338.1L247.2 340.7L249.9 340.1L247.5 337.7Z" fill="#3b76fc"/>
<path d="M242.1 338.8L244.5 341.6L247.2 340.7L244.8 338.1Z" fill="#3b76fc"/>
<path d="M239.4 339.4L241.7 342.5L244.5 341.6L242.1 338.8Z" fill="#3c75fc"/>
<path d="M236.7 339.8L239.0 343.1L241.7 342.5L239.4 339.4Z" fill="#3c75fc"/>
<path d="M234.3 340.4L236.7 344.0L239.0 343.1L236.7 339.8Z" fill="#3c75fc"/>
<path d="M232.6 341.3L235.1 345.2L236.7 344.0L234.3 340.4Z" fill="#3c75fc"/>
<path d="M230.5 340.9L233.0 345.0L235.1 345.2L232.6 341.3Z" fill="#3b77fb"/>
<path d="M227.9 339.1L230.4 343.4L233.0 345.0L230.5 340.9Z" fill="#367cfa"/>
<path d="M225.3 337.1L227.8 341.4L230.4 343.4L227.9 339.1Z" fill="#3183f8"/>
<path d="M222.4 334.6L224.9 339.0L227.8 341.4L225.3 337.1Z" fill="#2d89f5"/>
<path d="M219.6 332.6L222.0 336.9L224.9 339.0L222.4 334.6Z" fill="#2b8ef1"/>
<path d="M216.7 331.2L219.1 335.4L222.0 336.9L219.6 332.6Z" fill="#2992ee"/>
<path d="M213.8 330.4L216.2 334.4L219.1 335.4L216.7 331.2Z" fill="#2895ec"/>
<path d="M210.8 329.9L213.2 333.8L216.2 334.4L213.8 330.4Z" fill="#2798ea"/>
<path d="M207.8 329.7L210.3 333.4L213.2 333.8L210.8 329.9Z" fill="#2699e9"/>
<path d="M204.9 329.7L207.3 333.3L210.3 333.4L207.8 329.7Z" fill="#259ae8"/>
<path d="M201.9 329.9L204.3 333.3L207.3 333.3L204.9 329.7Z" fill="#249be7"/>
<path d="M199.1 330.3L201.5 333.5L204.3 333.3L201.9 329.9Z" fill="#249ce7"/>
<path d="M196.5 330.9L198.9 334.0L201.5 333.5L199.1 330.3Z" fill="#249ce7"/>
<path d="M193.8 331.4L196.2 334.5L198.9 334.0L196.5 330.9Z" fill="#249ce7"/>
<path d="M191.2 331.8L193.6 334.7L196.2 334.5L193.8 331.4Z" fill="#249ce6"/>
<path d="M188.9 332.5L191.3 335.4L193.6 334.7L191.2 331.8Z" fill="#239de6"/>
<path d="M186.9 333.5L189.3 336.2L191.3 335.4L188.9 332.5Z" fill="#249ce6"/>
<path d="M184.8 334.5L187.3 337.1L189.3 336.2L186.9 333.5Z" fill="#249ce7"/>
<path d="M182.7 335.6L185.2 338.2L187.3 337.1L184.8 334.5Z" fill="#249be7"/>
<path d="M180.2 336.5L182.6 339.1L185.2 338.2L182.7 335.6Z" fill="#259ae8"/>
<path d="M177.4 337.5L179.9 340.1L182.6 339.1L180.2 336.5Z" fill="#259ae9"/>
<path d="M174.7 338.6L177.2 341.3L179.9 340.1L177.4 337.5Z" fill="#2698e9"/>
<path d="M172.0 339.7L174.5 342.6L177.2 341.3L174.7 338.6Z" fill="#2797eb"/>
<path d="M169.3 340.7L171.8 343.7L174.5 342.6L172.0 339.7Z" fill="#2796eb"/>
<path d="M166.6 341.5L169.0 344.7L171.8 343.7L169.3 340.7Z" fill="#2895ec"/>
<path d="M163.8 342.3L166.3 345.7L169.0 344.7L166.6 341.5Z" fill="#2895ed"/>
<path d="M161.1 343.5L163.6 347.0L166.3 345.7L163.8 342.3Z" fill="#2894ed"/>
<path d="M158.4 345.2L160.9 348.7L163.6 347.0L161.1 343.5Z" fill="#2992ee"/>
<path d="M155.7 347.7L158.2 351.2L160.9 348.7L158.4 345.2Z" fill="#2a90f0"/>
<path d="M153.0 351.0L155.5 354.4L158.2 351.2L155.7 347.7Z" fill="#2c8cf3"/>
<path d="M150.3 354.6L152.7 357.8L155.5 354.4L153.0 351.0Z" fill="#2e86f7"/>
<path d="M147.5 357.9L150.0 361.0L152.7 357.8L150.3 354.6Z" fill="#357ef9"/>
<path d="M144.8 360.4L147.3 363.4L150.0 361.0L147.5 357.9Z" fill="#3a77fb"/>
<path d="M142.1 361.6L144.6 364.5L147.3 363.4L144.8 360.4Z" fill="#3e73fc"/>
<path d="M139.4 361.3L141.9 364.3L144.6 364.5L142.1 361.6Z" fill="#3d73fc"/>
<path d="M136.7 360.1L139.2 363.5L141.9 364.3L139.4 361.3Z" fill="#3a77fb"/>
<path d="M133.9 358.7L136.4 362.7L139.2 363.5L136.7 360.1Z" fill="#367cfa"/>
<path d="M131.2 357.4L133.7 362.6L136.4 362.7L133.9 358.7Z" fill="#3380f9"/>
<path d="M128.5 356.9L131.0 363.8L133.7 362.6L131.2 357.4Z" fill="#3183f8"/>
<path d="M125.8 357.5L128.3 366.2L131.0 363.8L128.5 356.9Z" fill="#3182f8"/>
<path d="M123.1 359.5L125.6 369.4L128.3 366.2L125.8 357.5Z" fill="#347ff9"/>
<path d="M120.4 363.1L122.8 373.0L125.6 369.4L123.1 359.5Z" fill="#387afb"/>
<path d="M117.6 368.4L120.1 376.6L122.8 373.0L120.4 363.1Z" fill="#4071fd"/>
<path d="M249.9 340.1L252.2 342.2L255.0 341.8L252.6 340.0Z" fill="#4071fd"/>
<path d="M247.2 340.7L249.5 343.0L252.2 342.2L249.9 340.1Z" fill="#3f71fd"/>
<path d="M244.5 341.6L246.8 344.2L249.5 343.0L247.2 340.7Z" fill="#4070fd"/>
<path d="M241.7 342.5L244.1 345.4L246.8 344.2L244.5 341.6Z" fill="#416ffd"/>
<path d="M239.0 343.1L241.4 346.4L244.1 345.4L241.7 342.5Z" fill="#426efe"/>
<path d="M236.7 344.0L239.1 347.5L241.4 346.4L239.0 343.1Z" fill="#426dfe"/>
<path d="M235.1 345.2L237.5 349.0L239.1 347.5L236.7 344.0Z" fill="#436cfe"/>
<path d="M233.0 345.0L235.4 349.0L237.5 349.0L235.1 345.2Z" fill="#426dfe"/>
<path d="M230.4 343.4L232.8 347.5L235.4 349.0L233.0 345.0Z" fill="#3f72fd"/>
<path d="M227.8 341.4L230.2 345.5L232.8 347.5L230.4 343.4Z" fill="#3979fb"/>
<path d="M224.9 339.0L227.3 343.1L230.2 345.5L227.8 341.4Z" fill="#3380f9"/>
<path d="M222.0 336.9L224.4 340.9L227.3 343.1L224.9 339.0Z" fill="#2d88f6"/>
<path d="M219.1 335.4L221.6 339.3L224.4 340.9L222.0 336.9Z" fill="#2c8cf3"/>
<path d="M216.2 334.4L218.7 338.2L221.6 339.3L219.1 335.4Z" fill="#2a8ff1"/>
<path d="M213.2 333.8L215.7 337.4L218.7 338.2L216.2 334.4Z" fill="#2991ef"/>
<path d="M210.3 333.4L212.7 337.0L215.7 337.4L213.2 333.8Z" fill="#2993ee"/>
<path d="M207.3 333.3L209.7 336.7L212.7 337.0L210.3 333.4Z" fill="#2894ed"/>
<path d="M204.3 333.3L206.7 336.6L209.7 336.7L207.3 333.3Z" fill="#2895ec"/>
<path d="M201.5 333.5L203.9 336.8L206.7 336.6L204.3 333.3Z" fill="#2796eb"/>
<path d="M198.9 334.0L201.3 337.2L203.9 336.8L201.5 333.5Z" fill="#2796eb"/>
<path d="M196.2 334.5L198.6 337.5L201.3 337.2L198.9 334.0Z" fill="#2797eb"/>
<path d="M193.6 334.7L196.0 337.7L198.6 337.5L196.2 334.5Z" fill="#2797ea"/>
<path d="M191.3 335.4L193.8 338.2L196.0 337.7L193.6 334.7Z" fill="#2798ea"/>
<path d="M189.3 336.2L191.7 338.9L193.8 338.2L191.3 335.4Z" fill="#2798ea"/>
<path d="M187.3 337.1L189.7 339.7L191.7 338.9L189.3 336.2Z" fill="#2797ea"/>
<path d="M185.2 338.2L187.7 340.8L189.7 339.7L187.3 337.1Z" fill="#2797eb"/>
<path d="M182.6 339.1L185.1 341.7L187.7 340.8L185.2 338.2Z" fill="#2796eb"/>
<path d="M179.9 340.1L182.4 342.7L185.1 341.7L182.6 339.1Z" fill="#2895ec"/>
<path d="M177.2 341.3L179.7 344.0L182.4 342.7L179.9 340.1Z" fill="#2894ed"/>
<path d="M174.5 342.6L177.0 345.3L179.7 344.0L177.2 341.3Z" fill="#2993ee"/>
<path d="M171.8 343.7L174.3 346.6L177.0 345.3L174.5 342.6Z" fill="#2992ef"/>
<path d="M169.0 344.7L171.5 347.7L174.3 346.6L171.8 343.7Z" fill="#2a91f0"/>
<path d="M166.3 345.7L168.8 348.8L171.5 347.7L169.0 344.7Z" fill="#2a90f0"/>
<path d="M163.6 347.0L166.1 350.2L168.8 348.8L166.3 345.7Z" fill="#2a8ff1"/>
<path d="M160.9 348.7L163.4 352.0L166.1 350.2L163.6 347.0Z" fill="#2b8df2"/>
<path d="M158.2 351.2L160.7 354.4L163.4 352.0L160.9 348.7Z" fill="#2c8af4"/>
<path d="M155.5 354.4L157.9 357.5L160.7 354.4L158.2 351.2Z" fill="#2e86f7"/>
<path d="M152.7 357.8L155.2 360.8L157.9 357.5L155.5 354.4Z" fill="#347ff9"/>
<path d="M150.0 361.0L152.5 363.8L155.2 360.8L152.7 357.8Z" fill="#3a77fb"/>
<path d="M147.3 363.4L149.8 366.1L152.5 363.8L150.0 361.0Z" fill="#4071fd"/>
<path d="M144.6 364.5L147.1 367.1L149.8 366.1L147.3 363.4Z" fill="#436dfe"/>
<path d="M141.9 364.3L144.4 367.1L147.1 367.1L144.6 364.5Z" fill="#436dfe"/>
<path d="M139.2 363.5L141.6 366.6L144.4 367.1L141.9 364.3Z" fill="#4070fd"/>
<path d="M136.4 362.7L138.9 366.5L141.6 366.6L139.2 363.5Z" fill="#3d73fc"/>
<path d="M133.7 362.6L136.2 367.5L138.9 366.5L136.4 362.7Z" fill="#3c75fc"/>
<path d="M131.0 363.8L133.5 370.3L136.2 367.5L133.7 362.6Z" fill="#3d74fc"/>
<path d="M128.3 366.2L130.8 374.5L133.5 370.3L131.0 363.8Z" fill="#4070fd"/>
<path d="M125.6 369.4L128.0 378.9L130.8 374.5L128.3 366.2Z" fill="#4469fd"/>
<path d="M122.8 373.0L125.3 382.4L128.0 378.9L125.6 369.4Z" fill="#4561fa"/>
<path d="M120.1 376.6L122.6 383.9L125.3 382.4L122.8 373.0Z" fill="#465af7"/>
<path d="M252.2 342.2L254.6 343.6L257.3 343.1L255.0 341.8Z" fill="#426dfe"/>
<path d="M249.5 343.0L251.9 344.8L254.6 343.6L252.2 342.2Z" fill="#436dfe"/>
<path d="M246.8 344.2L249.2 346.4L251.9 344.8L249.5 343.0Z" fill="#436cfe"/>
<path d="M244.1 345.4L246.5 348.0L249.2 346.4L246.8 344.2Z" fill="#446afd"/>
<path d="M241.4 346.4L243.8 349.5L246.5 348.0L244.1 345.4Z" fill="#4468fd"/>
<path d="M239.1 347.5L241.5 350.9L243.8 349.5L241.4 346.4Z" fill="#4466fc"/>
<path d="M237.5 349.0L239.9 352.6L241.5 350.9L239.1 347.5Z" fill="#4564fb"/>
<path d="M235.4 349.0L237.9 352.7L239.9 352.6L237.5 349.0Z" fill="#4564fb"/>
<path d="M232.8 347.5L235.3 351.2L237.9 352.7L235.4 349.0Z" fill="#4469fd"/>
<path d="M230.2 345.5L232.7 349.1L235.3 351.2L232.8 347.5Z" fill="#416ffd"/>
<path d="M227.3 343.1L229.8 346.6L232.7 349.1L230.2 345.5Z" fill="#3a77fb"/>
<path d="M224.4 340.9L226.9 344.3L229.8 346.6L227.3 343.1Z" fill="#347ff9"/>
<path d="M221.6 339.3L224.0 342.7L226.9 344.3L224.4 340.9Z" fill="#2f85f7"/>
<path d="M218.7 338.2L221.1 341.5L224.0 342.7L221.6 339.3Z" fill="#2d89f5"/>
<path d="M215.7 337.4L218.1 340.7L221.1 341.5L218.7 338.2Z" fill="#2c8cf3"/>
<path d="M212.7 337.0L215.1 340.2L218.1 340.7L215.7 337.4Z" fill="#2b8ef2"/>
<path d="M209.7 336.7L212.1 339.9L215.1 340.2L212.7 337.0Z" fill="#2a8ff1"/>
<path d="M206.7 336.6L209.1 339.7L212.1 339.9L209.7 336.7Z" fill="#2a90f0"/>
<path d="M203.9 336.8L206.3 339.8L209.1 339.7L206.7 336.6Z" fill="#2991ef"/>
<path d="M201.3 337.2L203.7 340.1L206.3 339.8L203.9 336.8Z" fill="#2992ef"/>
<path d="M198.6 337.5L201.0 340.4L203.7 340.1L201.3 337.2Z" fill="#2992ee"/>
<path d="M196.0 337.7L198.4 340.4L201.0 340.4L198.6 337.5Z" fill="#2993ee"/>
<path d="M193.8 338.2L196.2 340.8L198.4 340.4L196.0 337.7Z" fill="#2993ee"/>
<path d="M191.7 338.9L194.2 341.5L196.2 340.8L193.8 338.2Z" fill="#2993ed"/>
<path d="M189.7 339.7L192.2 342.2L194.2 341.5L191.7 338.9Z" fill="#2993ed"/>
<path d="M187.7 340.8L190.2 343.2L192.2 342.2L189.7 339.7Z" fill="#2993ee"/>
<path d="M185.1 341.7L187.6 344.1L190.2 343.2L187.7 340.8Z" fill="#2992ee"/>
<path d="M182.4 342.7L184.9 345.2L187.6 344.1L185.1 341.7Z" fill="#2992ef"/>
<path d="M179.7 344.0L182.2 346.4L184.9 345.2L182.4 342.7Z" fill="#2a91f0"/>
<path d="M177.0 345.3L179.5 347.8L182.2 346.4L179.7 344.0Z" fill="#2a8ff1"/>
<path d="M174.3 346.6L176.7 349.1L179.5 347.8L177.0 345.3Z" fill="#2b8ef2"/>
<path d="M171.5 347.7L174.0 350.3L176.7 349.1L174.3 346.6Z" fill="#2b8cf3"/>
<path d="M168.8 348.8L171.3 351.5L174.0 350.3L171.5 347.7Z" fill="#2c8bf3"/>
<path d="M166.1 350.2L168.6 352.9L171.3 351.5L168.8 348.8Z" fill="#2c8af4"/>
<path d="M163.4 352.0L165.9 354.7L168.6 352.9L166.1 350.2Z" fill="#2d88f6"/>
<path d="M160.7 354.4L163.1 357.1L165.9 354.7L163.4 352.0Z" fill="#2f85f7"/>
<path d="M157.9 357.5L160.4 360.1L163.1 357.1L160.7 354.4Z" fill="#347ff9"/>
<path d="M155.2 360.8L157.7 363.3L160.4 360.1L157.9 357.5Z" fill="#3978fb"/>
<path d="M152.5 363.8L155.0 366.2L157.7 363.3L155.2 360.8Z" fill="#3f71fd"/>
<path d="M149.8 366.1L152.3 368.4L155.0 366.2L152.5 363.8Z" fill="#436bfe"/>
<path d="M147.1 367.1L149.6 369.4L152.3 368.4L149.8 366.1Z" fill="#4467fc"/>
<path d="M144.4 367.1L146.8 369.4L149.6 369.4L147.1 367.1Z" fill="#4468fd"/>
<path d="M141.6 366.6L144.1 369.2L146.8 369.4L144.4 367.1Z" fill="#446afd"/>
<path d="M138.9 366.5L141.4 369.7L144.1 369.2L141.6 366.6Z" fill="#436bfe"/>
<path d="M136.2 367.5L138.7 371.7L141.4 369.7L138.9 366.5Z" fill="#436bfe"/>
<path d="M133.5 370.3L136.0 376.0L138.7 371.7L136.2 367.5Z" fill="#4467fc"/>
<path d="M130.8 374.5L133.2 381.7L136.0 376.0L133.5 370.3Z" fill="#455ff9"/>
<path d="M128.0 378.9L130.5 387.1L133.2 381.7L130.8 374.5Z" fill="#4754f5"/>
<path d="M125.3 382.4L127.8 390.4L130.5 387.1L128.0 378.9Z" fill="#464be9"/>
<path d="M122.6 383.9L125.1 389.8L127.8 390.4L125.3 382.4Z" fill="#4647e1"/>
<path d="M254.6 343.6L257.0 344.4L259.7 343.5L257.3 343.1Z" fill="#436cfe"/>
<path d="M251.9 344.8L254.3 346.0L257.0 344.4L254.6 343.6Z" fill="#436bfe"/>
<path d="M249.2 346.4L251.6 348.0L254.3 346.0L251.9 344.8Z" fill="#4468fd"/>
<path d="M246.5 348.0L248.9 350.2L251.6 348.0L249.2 346.4Z" fill="#4465fc"/>
<path d="M243.8 349.5L246.2 352.1L248.9 350.2L246.5 348.0Z" fill="#4562fa"/>
<path d="M241.5 350.9L243.9 353.9L246.2 352.1L243.8 349.5Z" fill="#4560f9"/>
<path d="M239.9 352.6L242.3 355.8L243.9 353.9L241.5 350.9Z" fill="#465df8"/>
<path d="M237.9 352.7L240.3 355.9L242.3 355.8L239.9 352.6Z" fill="#465df8"/>
<path d="M235.3 351.2L237.7 354.3L240.3 355.9L237.9 352.7Z" fill="#4561fa"/>
<path d="M232.7 349.1L235.1 352.0L237.7 354.3L235.3 351.2Z" fill="#4468fd"/>
<path d="M229.8 346.6L232.2 349.3L235.1 352.0L232.7 349.1Z" fill="#4070fd"/>
<path d="M226.9 344.3L229.3 347.0L232.2 349.3L229.8 346.6Z" fill="#3a78fb"/>
<path d="M224.0 342.7L226.4 345.3L229.3 347.0L226.9 344.3Z" fill="#357ef9"/>
<path d="M221.1 341.5L223.5 344.1L226.4 345.3L224.0 342.7Z" fill="#3183f8"/>
<path d="M218.1 340.7L220.5 343.4L223.5 344.1L221.1 341.5Z" fill="#2e87f7"/>
<path d="M215.1 340.2L217.5 342.9L220.5 343.4L218.1 340.7Z" fill="#2d89f5"/>
<path d="M212.1 339.9L214.5 342.7L217.5 342.9L215.1 340.2Z" fill="#2c8af4"/>
<path d="M209.1 339.7L211.5 342.5L214.5 342.7L212.1 339.9Z" fill="#2c8cf3"/>
<path d="M206.3 339.8L208.7 342.6L211.5 342.5L209.1 339.7Z" fill="#2b8df3"/>
<path d="M203.7 340.1L206.1 342.8L208.7 342.6L206.3 339.8Z" fill="#2b8df2"/>
<path d="M201.0 340.4L203.4 343.0L206.1 342.8L203.7 340.1Z" fill="#2b8ef2"/>
<path d="M198.4 340.4L200.8 343.0L203.4 343.0L201.0 340.4Z" fill="#2a8ff1"/>
<path d="M196.2 340.8L198.6 343.3L200.8 343.0L198.4 340.4Z" fill="#2a8ff0"/>
<path d="M194.2 341.5L196.6 343.8L198.6 343.3L196.2 340.8Z" fill="#2a90f0"/>
<path d="M192.2 342.2L194.6 344.5L196.6 343.8L194.2 341.5Z" fill="#2a90f0"/>
<path d="M190.2 343.2L192.7 345.5L194.6 344.5L192.2 342.2Z" fill="#2a90f0"/>
<path d="M187.6 344.1L190.1 346.3L192.7 345.5L190.2 343.2Z" fill="#2a8ff1"/>
<path d="M184.9 345.2L187.4 347.3L190.1 346.3L187.6 344.1Z" fill="#2b8ef1"/>
<path d="M182.2 346.4L184.7 348.6L187.4 347.3L184.9 345.2Z" fill="#2b8df2"/>
<path d="M179.5 347.8L181.9 349.9L184.7 348.6L182.2 346.4Z" fill="#2c8cf3"/>
<path d="M176.7 349.1L179.2 351.2L181.9 349.9L179.5 347.8Z" fill="#2c8af4"/>
<path d="M174.0 350.3L176.5 352.4L179.2 351.2L176.7 349.1Z" fill="#2d89f5"/>
<path d="M171.3 351.5L173.8 353.5L176.5 352.4L174.0 350.3Z" fill="#2d88f6"/>
<path d="M168.6 352.9L171.1 354.9L173.8 353.5L171.3 351.5Z" fill="#2e86f7"/>
<path d="M165.9 354.7L168.4 356.7L171.1 354.9L168.6 352.9Z" fill="#3084f8"/>
<path d="M163.1 357.1L165.6 359.0L168.4 356.7L165.9 354.7Z" fill="#3380f9"/>
<path d="M160.4 360.1L162.9 362.0L165.6 359.0L163.1 357.1Z" fill="#387afa"/>
<path d="M157.7 363.3L160.2 365.1L162.9 362.0L160.4 360.1Z" fill="#3d73fc"/>
<path d="M155.0 366.2L157.5 368.0L160.2 365.1L157.7 363.3Z" fill="#436cfe"/>
<path d="M152.3 368.4L154.8 370.2L157.5 368.0L155.0 366.2Z" fill="#4467fc"/>
<path d="M149.6 369.4L152.0 371.2L154.8 370.2L152.3 368.4Z" fill="#4563fb"/>
<path d="M146.8 369.4L149.3 371.2L152.0 371.2L149.6 369.4Z" fill="#4563fb"/>
<path d="M144.1 369.2L146.6 371.2L149.3 371.2L146.8 369.4Z" fill="#4465fc"/>
<path d="M141.4 369.7L143.9 372.1L146.6 371.2L144.1 369.2Z" fill="#4465fc"/>
<path d="M138.7 371.7L141.2 374.9L143.9 372.1L141.4 369.7Z" fill="#4564fb"/>
<path d="M136.0 376.0L138.5 380.4L141.2 374.9L138.7 371.7Z" fill="#465df9"/>
<path d="M133.2 381.7L135.7 387.3L138.5 380.4L136.0 376.0Z" fill="#4852f3"/>
<path d="M130.5 387.1L133.0 393.5L135.7 387.3L133.2 381.7Z" fill="#4545df"/>
<path d="M127.8 390.4L130.3 396.5L133.0 393.5L130.5 387.1Z" fill="#433bce"/>
<path d="M125.1 389.8L127.6 393.8L130.3 396.5L127.8 390.4Z" fill="#4339cb"/>
<path d="M257.0 344.4L259.4 344.1L262.1 343.0L259.7 343.5Z" fill="#426efe"/>
<path d="M254.3 346.0L256.7 346.2L259.4 344.1L257.0 344.4Z" fill="#436cfe"/>
<path d="M251.6 348.0L254.0 348.9L256.7 346.2L254.3 346.0Z" fill="#4468fd"/>
<path d="M248.9 350.2L251.3 351.7L254.0 348.9L251.6 348.0Z" fill="#4563fb"/>
<path d="M246.2 352.1L248.6 354.2L251.3 351.7L248.9 350.2Z" fill="#465ef9"/>
<path d="M243.9 353.9L246.3 356.5L248.6 354.2L246.2 352.1Z" fill="#465af7"/>
<path d="M242.3 355.8L244.8 358.4L246.3 356.5L243.9 353.9Z" fill="#4757f6"/>
<path d="M240.3 355.9L242.7 358.4L244.8 358.4L242.3 355.8Z" fill="#4756f6"/>
<path d="M237.7 354.3L240.2 356.6L242.7 358.4L240.3 355.9Z" fill="#465bf8"/>
<path d="M235.1 352.0L237.6 354.0L240.2 356.6L237.7 354.3Z" fill="#4562fa"/>
<path d="M232.2 349.3L234.7 351.1L237.6 354.0L235.1 352.0Z" fill="#446afe"/>
<path d="M229.3 347.0L231.8 348.6L234.7 351.1L232.2 349.3Z" fill="#3e73fc"/>
<path d="M226.4 345.3L228.9 346.9L231.8 348.6L229.3 347.0Z" fill="#3979fb"/>
<path d="M223.5 344.1L226.0 345.9L228.9 346.9L226.4 345.3Z" fill="#357ef9"/>
<path d="M220.5 343.4L223.0 345.3L226.0 345.9L223.5 344.1Z" fill="#3282f8"/>
<path d="M217.5 342.9L219.9 345.0L223.0 345.3L220.5 343.4Z" fill="#2f85f8"/>
<path d="M214.5 342.7L216.9 344.9L219.9 345.0L217.5 342.9Z" fill="#2e87f7"/>
<path d="M211.5 342.5L213.9 344.8L216.9 344.9L214.5 342.7Z" fill="#2d88f6"/>
<path d="M208.7 342.6L211.1 344.9L213.9 344.8L211.5 342.5Z" fill="#2d89f5"/>
<path d="M206.1 342.8L208.5 345.1L211.1 344.9L208.7 342.6Z" fill="#2c89f5"/>
<path d="M203.4 343.0L205.8 345.2L208.5 345.1L206.1 342.8Z" fill="#2c8af4"/>
<path d="M200.8 343.0L203.2 345.2L205.8 345.2L203.4 343.0Z" fill="#2c8bf4"/>
<path d="M198.6 343.3L201.0 345.5L203.2 345.2L200.8 343.0Z" fill="#2c8cf3"/>
<path d="M196.6 343.8L199.1 345.9L201.0 345.5L198.6 343.3Z" fill="#2b8cf3"/>
<path d="M194.6 344.5L197.1 346.5L199.1 345.9L196.6 343.8Z" fill="#2b8df3"/>
<path d="M192.7 345.5L195.2 347.4L197.1 346.5L194.6 344.5Z" fill="#2b8df3"/>
<path d="M190.1 346.3L192.6 348.2L195.2 347.4L192.7 345.5Z" fill="#2b8cf3"/>
<path d="M187.4 347.3L189.9 349.2L192.6 348.2L190.1 346.3Z" fill="#2c8cf3"/>
<path d="M184.7 348.6L187.1 350.4L189.9 349.2L187.4 347.3Z" fill="#2c8bf4"/>
<path d="M181.9 349.9L184.4 351.6L187.1 350.4L184.7 348.6Z" fill="#2d89f5"/>
<path d="M179.2 351.2L181.7 352.8L184.4 351.6L181.9 349.9Z" fill="#2d88f6"/>
<path d="M176.5 352.4L179.0 353.8L181.7 352.8L179.2 351.2Z" fill="#2e86f7"/>
<path d="M173.8 353.5L176.3 354.8L179.0 353.8L176.5 352.4Z" fill="#2f85f7"/>
<path d="M171.1 354.9L173.6 356.1L176.3 354.8L173.8 353.5Z" fill="#3183f8"/>
<path d="M168.4 356.7L170.8 357.8L173.6 356.1L171.1 354.9Z" fill="#3381f9"/>
<path d="M165.6 359.0L168.1 360.1L170.8 357.8L168.4 356.7Z" fill="#367dfa"/>
<path d="M162.9 362.0L165.4 363.0L168.1 360.1L165.6 359.0Z" fill="#3a77fb"/>
<path d="M160.2 365.1L162.7 366.2L165.4 363.0L162.9 362.0Z" fill="#4070fd"/>
<path d="M157.5 368.0L160.0 369.1L162.7 366.2L160.2 365.1Z" fill="#446afd"/>
<path d="M154.8 370.2L157.2 371.3L160.0 369.1L157.5 368.0Z" fill="#4564fb"/>
<path d="M152.0 371.2L154.5 372.3L157.2 371.3L154.8 370.2Z" fill="#4561fa"/>
<path d="M149.3 371.2L151.8 372.3L154.5 372.3L152.0 371.2Z" fill="#4561fa"/>
<path d="M146.6 371.2L149.1 372.4L151.8 372.3L149.3 371.2Z" fill="#4562fa"/>
<path d="M143.9 372.1L146.4 373.5L149.1 372.4L146.6 371.2Z" fill="#4562fa"/>
<path d="M141.2 374.9L143.7 376.7L146.4 373.5L143.9 372.1Z" fill="#455ff9"/>
<path d="M138.5 380.4L140.9 382.9L143.7 376.7L141.2 374.9Z" fill="#4757f6"/>
<path d="M135.7 387.3L138.2 390.7L140.9 382.9L138.5 380.4Z" fill="#4649e6"/>
<path d="M133.0 393.5L135.5 397.3L138.2 390.7L135.7 387.3Z" fill="#433acd"/>
<path d="M130.3 396.5L132.8 399.8L135.5 397.3L133.0 393.5Z" fill="#4030bb"/>
<path d="M127.6 393.8L130.1 395.3L132.8 399.8L130.3 396.5Z" fill="#4132be"/>
<path d="M259.4 344.1L261.8 342.7L264.5 341.2L262.1 343.0Z" fill="#3e73fc"/>
<path d="M256.7 346.2L259.1 345.4L261.8 342.7L259.4 344.1Z" fill="#4070fd"/>
<path d="M254.0 348.9L256.4 348.8L259.1 345.4L256.7 346.2Z" fill="#446afd"/>
<path d="M251.3 351.7L253.7 352.3L256.4 348.8L254.0 348.9Z" fill="#4563fb"/>
<path d="M248.6 354.2L251.0 355.6L253.7 352.3L251.3 351.7Z" fill="#465cf8"/>
<path d="M246.3 356.5L248.7 358.3L251.0 355.6L248.6 354.2Z" fill="#4756f6"/>
<path d="M244.8 358.4L247.2 360.3L248.7 358.3L246.3 356.5Z" fill="#4852f4"/>
<path d="M242.7 358.4L245.2 360.1L247.2 360.3L244.8 358.4Z" fill="#4852f3"/>
<path d="M240.2 356.6L242.6 358.0L245.2 360.1L242.7 358.4Z" fill="#4757f6"/>
<path d="M237.6 354.0L240.0 355.0L242.6 358.0L240.2 356.6Z" fill="#465ff9"/>
<path d="M234.7 351.1L237.1 351.7L240.0 355.0L237.6 354.0Z" fill="#4468fd"/>
<path d="M231.8 348.6L234.2 349.1L237.1 351.7L234.7 351.1Z" fill="#3f71fd"/>
<path d="M228.9 346.9L231.3 347.4L234.2 349.1L231.8 348.6Z" fill="#3a78fb"/>
<path d="M226.0 345.9L228.4 346.5L231.3 347.4L228.9 346.9Z" fill="#367cfa"/>
<path d="M223.0 345.3L225.4 346.2L228.4 346.5L226.0 345.9Z" fill="#347ff9"/>
<path d="M219.9 345.0L222.4 346.2L225.4 346.2L223.0 345.3Z" fill="#3281f8"/>
<path d="M216.9 344.9L219.4 346.3L222.4 346.2L219.9 345.0Z" fill="#3183f8"/>
<path d="M213.9 344.8L216.3 346.4L219.4 346.3L216.9 344.9Z" fill="#3084f8"/>
<path d="M211.1 344.9L213.5 346.6L216.3 346.4L213.9 344.8Z" fill="#2f85f7"/>
<path d="M208.5 345.1L210.9 346.9L213.5 346.6L211.1 344.9Z" fill="#2e86f7"/>
<path d="M205.8 345.2L208.3 347.0L210.9 346.9L208.5 345.1Z" fill="#2d87f7"/>
<path d="M203.2 345.2L205.6 347.1L208.3 347.0L205.8 345.2Z" fill="#2d88f6"/>
<path d="M201.0 345.5L203.4 347.2L205.6 347.1L203.2 345.2Z" fill="#2d89f5"/>
<path d="M199.1 345.9L201.5 347.6L203.4 347.2L201.0 345.5Z" fill="#2c8af5"/>
<path d="M197.1 346.5L199.6 348.2L201.5 347.6L199.1 345.9Z" fill="#2c8af4"/>
<path d="M195.2 347.4L197.6 348.9L199.6 348.2L197.1 346.5Z" fill="#2c8af4"/>
<path d="M192.6 348.2L195.1 349.7L197.6 348.9L195.2 347.4Z" fill="#2c8af5"/>
<ellipse cx="196.3" cy="348.6" rx="1.4" ry="1.0" fill="#000" stroke="none"/>
<path d="M189.9 349.2L192.3 350.6L195.1 349.7L192.6 348.2Z" fill="#2d89f5"/>
<path d="M187.1 350.4L189.6 351.7L192.3 350.6L189.9 349.2Z" fill="#2d89f6"/>
<path d="M184.4 351.6L186.9 352.8L189.6 351.7L187.1 350.4Z" fill="#2d87f7"/>
<path d="M181.7 352.8L184.2 353.7L186.9 352.8L184.4 351.6Z" fill="#2e86f7"/>
<ellipse cx="183.3" cy="353.5" rx="1.4" ry="1.0" fill="#000" stroke="none"/>
<path d="M179.0 353.8L181.5 354.5L184.2 353.7L181.7 352.8Z" fill="#2f84f8"/>
<path d="M176.3 354.8L178.8 355.2L181.5 354.5L179.0 353.8Z" fill="#3083f8"/>
<path d="M173.6 356.1L176.0 356.2L178.8 355.2L176.3 354.8Z" fill="#3182f8"/>
<path d="M170.8 357.8L173.3 357.7L176.0 356.2L173.6 356.1Z" fill="#3380f9"/>
<path d="M168.1 360.1L170.6 360.0L173.3 357.7L170.8 357.8Z" fill="#357dfa"/>
<ellipse cx="170.3" cy="359.6" rx="1.4" ry="1.0" fill="#000" stroke="none"/>
<path d="M165.4 363.0L167.9 363.0L170.6 360.0L168.1 360.1Z" fill="#3a78fb"/>
<path d="M162.7 366.2L165.2 366.4L167.9 363.0L165.4 363.0Z" fill="#4071fd"/>
<path d="M160.0 369.1L162.5 369.5L165.2 366.4L162.7 366.2Z" fill="#4469fd"/>
<path d="M157.2 371.3L159.7 371.7L162.5 369.5L160.0 369.1Z" fill="#4563fb"/>
<path d="M154.5 372.3L157.0 372.7L159.7 371.7L157.2 371.3Z" fill="#4560fa"/>
<ellipse cx="157.3" cy="372.4" rx="1.4" ry="1.0" fill="#000" stroke="none"/>
<path d="M151.8 372.3L154.3 372.6L157.0 372.7L154.5 372.3Z" fill="#4560fa"/>
<path d="M149.1 372.4L151.6 372.5L154.3 372.6L151.8 372.3Z" fill="#4562fa"/>
<path d="M146.4 373.5L148.9 373.5L151.6 372.5L149.1 372.4Z" fill="#4562fa"/>
<path d="M143.7 376.7L146.1 376.8L148.9 373.5L146.4 373.5Z" fill="#465ff9"/>
<path d="M140.9 382.9L143.4 383.2L146.1 376.8L143.7 376.7Z" fill="#4755f5"/>
<ellipse cx="144.3" cy="378.8" rx="1.4" ry="1.0" fill="#000" stroke="none"/>
<path d="M138.2 390.7L140.7 391.3L143.4 383.2L140.9 382.9Z" fill="#4546e0"/>
<path d="M135.5 397.3L138.0 397.9L140.7 391.3L138.2 390.7Z" fill="#4236c5"/>
<ellipse cx="137.8" cy="396.6" rx="1.4" ry="1.0" fill="#000" stroke="none"/>
<path d="M132.8 399.8L135.3 399.8L138.0 397.9L135.5 397.3Z" fill="#3f2cb2"/>
<path d="M130.1 395.3L132.6 393.8L135.3 399.8L132.8 399.8Z" fill="#4133c0"/>
<path d="M261.8 342.7L264.2 340.0L266.9 338.1L264.5 341.2Z" fill="#377cfa"/>
<path d="M259.1 345.4L261.5 343.3L264.2 340.0L261.8 342.7Z" fill="#3a77fb"/>
<path d="M256.4 348.8L258.8 347.5L261.5 343.3L259.1 345.4Z" fill="#416ffd"/>
<path d="M253.7 352.3L256.1 352.0L258.8 347.5L256.4 348.8Z" fill="#4466fc"/>
<path d="M251.0 355.6L253.4 356.1L256.1 352.0L253.7 352.3Z" fill="#465df8"/>
<path d="M248.7 358.3L251.1 359.3L253.4 356.1L251.0 355.6Z" fill="#4755f5"/>
<path d="M247.2 360.3L249.6 361.2L251.1 359.3L248.7 358.3Z" fill="#4750f1"/>
<path d="M245.2 360.1L247.6 360.7L249.6 361.2L247.2 360.3Z" fill="#4750f0"/>
<ellipse cx="248.4" cy="360.9" rx="1.4" ry="1.0" fill="#000" stroke="none"/>
<path d="M242.6 358.0L245.1 358.2L247.6 360.7L245.2 360.1Z" fill="#4756f6"/>
<path d="M240.0 355.0L242.5 354.7L245.1 358.2L242.6 358.0Z" fill="#455ff9"/>
<path d="M237.1 351.7L239.6 351.0L242.5 354.7L240.0 355.0Z" fill="#446afd"/>
<path d="M234.2 349.1L236.7 348.1L239.6 351.0L237.1 351.7Z" fill="#3d74fc"/>
<ellipse cx="235.4" cy="349.3" rx="1.4" ry="1.0" fill="#000" stroke="none"/>
<path d="M231.3 347.4L233.8 346.5L236.7 348.1L234.2 349.1Z" fill="#387afa"/>
<path d="M228.4 346.5L230.8 345.9L233.8 346.5L231.3 347.4Z" fill="#347ff9"/>
<path d="M225.4 346.2L227.8 346.0L230.8 345.9L228.4 346.5Z" fill="#3380f9"/>
<path d="M222.4 346.2L224.8 346.4L227.8 346.0L225.4 346.2Z" fill="#3281f8"/>
<path d="M219.4 346.3L221.8 346.9L224.8 346.4L222.4 346.2Z" fill="#3282f8"/>
<ellipse cx="222.4" cy="346.7" rx="1.4" ry="1.0" fill="#000" stroke="none"/>
<path d="M216.3 346.4L218.7 347.3L221.8 346.9L219.4 346.3Z" fill="#3182f8"/>
<path d="M213.5 346.6L215.9 347.7L218.7 347.3L216.3 346.4Z" fill="#3183f8"/>
<path d="M210.9 346.9L213.3 348.0L215.9 347.7L213.5 346.6Z" fill="#3084f8"/>
<path d="M208.3 347.0L210.7 348.3L213.3 348.0L210.9 346.9Z" fill="#2f85f8"/>
<path d="M205.6 347.1L208.0 348.4L210.7 348.3L208.3 347.0Z" fill="#2e86f7"/>
<ellipse cx="209.4" cy="348.2" rx="1.4" ry="1.0" fill="#000" stroke="none"/>
<path d="M203.4 347.2L205.9 348.6L208.0 348.4L205.6 347.1Z" fill="#2d87f7"/>
<path d="M201.5 347.6L203.9 348.9L205.9 348.6L203.4 347.2Z" fill="#2d88f6"/>
<path d="M199.6 348.2L202.0 349.4L203.9 348.9L201.5 347.6Z" fill="#2d88f6"/>
<path d="M197.6 348.9L200.1 350.0L202.0 349.4L199.6 348.2Z" fill="#2d89f6"/>
<path d="M195.1 349.7L197.6 350.7L200.1 350.0L197.6 348.9Z" fill="#2d88f6"/>
<path d="M192.3 350.6L194.8 351.6L197.6 350.7L195.1 349.7Z" fill="#2d88f6"/>
<path d="M189.6 351.7L192.1 352.5L194.8 351.6L192.3 350.6Z" fill="#2d87f7"/>
<path d="M186.9 352.8L189.4 353.3L192.1 352.5L189.6 351.7Z" fill="#2e86f7"/>
<path d="M184.2 353.7L186.7 354.0L189.4 353.3L186.9 352.8Z" fill="#2f85f7"/>
<path d="M181.5 354.5L184.0 354.3L186.7 354.0L184.2 353.7Z" fill="#2f85f7"/>
<path d="M178.8 355.2L181.2 354.7L184.0 354.3L181.5 354.5Z" fill="#2f85f7"/>
<path d="M176.0 356.2L178.5 355.3L181.2 354.7L178.8 355.2Z" fill="#2f85f7"/>
<path d="M173.3 357.7L175.8 356.6L178.5 355.3L176.0 356.2Z" fill="#3084f8"/>
<path d="M170.6 360.0L173.1 358.8L175.8 356.6L173.3 357.7Z" fill="#3281f9"/>
<path d="M167.9 363.0L170.4 362.0L173.1 358.8L170.6 360.0Z" fill="#377cfa"/>
<path d="M165.2 366.4L167.7 365.6L170.4 362.0L167.9 363.0Z" fill="#3d74fc"/>
<path d="M162.5 369.5L164.9 368.9L167.7 365.6L165.2 366.4Z" fill="#436cfe"/>
<path d="M159.7 371.7L162.2 371.4L164.9 368.9L162.5 369.5Z" fill="#4466fc"/>
<path d="M157.0 372.7L159.5 372.3L162.2 371.4L159.7 371.7Z" fill="#4562fa"/>
<path d="M154.3 372.6L156.8 372.0L159.5 372.3L157.0 372.7Z" fill="#4563fb"/>
<path d="M151.6 372.5L154.1 371.5L156.8 372.0L154.3 372.6Z" fill="#4465fc"/>
<path d="M148.9 373.5L151.3 372.1L154.1 371.5L151.6 372.5Z" fill="#4465fc"/>
<path d="M146.1 376.8L148.6 375.0L151.3 372.1L148.9 373.5Z" fill="#4563fb"/>
<path d="M143.4 383.2L145.9 381.1L148.6 375.0L146.1 376.8Z" fill="#465af7"/>
<path d="M140.7 391.3L143.2 388.9L145.9 381.1L143.4 383.2Z" fill="#464be8"/>
<path d="M138.0 397.9L140.5 395.0L143.2 388.9L140.7 391.3Z" fill="#433bce"/>
<path d="M135.3 399.8L137.8 396.2L140.5 395.0L138.0 397.9Z" fill="#4131bd"/>
<path d="M132.6 393.8L135.0 389.1L137.8 396.2L135.3 399.8Z" fill="#443ccf"/>
<path d="M264.2 340.0L266.6 335.7L269.3 333.3L266.9 338.1Z" fill="#2d88f6"/>
<path d="M261.5 343.3L263.9 339.8L266.6 335.7L264.2 340.0Z" fill="#3183f8"/>
<path d="M258.8 347.5L261.2 345.0L263.9 339.8L261.5 343.3Z" fill="#3979fb"/>
<ellipse cx="261.4" cy="343.7" rx="1.4" ry="1.0" fill="#000" stroke="none"/>
<path d="M256.1 352.0L258.5 350.4L261.2 345.0L258.8 347.5Z" fill="#436dfe"/>
<path d="M253.4 356.1L255.7 355.5L258.5 350.4L256.1 352.0Z" fill="#4561fa"/>
<path d="M251.1 359.3L253.5 359.2L255.7 355.5L253.4 356.1Z" fill="#4757f6"/>
<path d="M249.6 361.2L252.1 361.1L253.5 359.2L251.1 359.3Z" fill="#4750f1"/>
<path d="M247.6 360.7L250.1 360.4L252.1 361.1L249.6 361.2Z" fill="#4751f2"/>
<path d="M245.1 358.2L247.5 357.4L250.1 360.4L247.6 360.7Z" fill="#4758f7"/>
<path d="M242.5 354.7L244.9 353.2L247.5 357.4L245.1 358.2Z" fill="#4563fb"/>
<path d="M239.6 351.0L242.0 349.0L244.9 353.2L242.5 354.7Z" fill="#4070fd"/>
<path d="M236.7 348.1L239.1 345.9L242.0 349.0L239.6 351.0Z" fill="#387afa"/>
<path d="M233.8 346.5L236.2 344.3L239.1 345.9L236.7 348.1Z" fill="#3281f8"/>
<path d="M230.8 345.9L233.3 344.0L236.2 344.3L233.8 346.5Z" fill="#2f85f8"/>
<path d="M227.8 346.0L230.2 344.5L233.3 344.0L230.8 345.9Z" fill="#2f85f7"/>
<path d="M224.8 346.4L227.2 345.5L230.2 344.5L227.8 346.0Z" fill="#2f85f7"/>
<path d="M221.8 346.9L224.2 346.5L227.2 345.5L224.8 346.4Z" fill="#3084f8"/>
<path d="M218.7 347.3L221.1 347.3L224.2 346.5L221.8 346.9Z" fill="#3083f8"/>
<path d="M215.9 347.7L218.3 348.0L221.1 347.3L218.7 347.3Z" fill="#3183f8"/>
<path d="M213.3 348.0L215.7 348.5L218.3 348.0L215.9 347.7Z" fill="#3183f8"/>
<path d="M210.7 348.3L213.1 348.9L215.7 348.5L213.3 348.0Z" fill="#3083f8"/>
<path d="M208.0 348.4L210.4 349.1L213.1 348.9L210.7 348.3Z" fill="#2f84f8"/>
<path d="M205.9 348.6L208.3 349.4L210.4 349.1L208.0 348.4Z" fill="#2e86f7"/>
<path d="M203.9 348.9L206.4 349.7L208.3 349.4L205.9 348.6Z" fill="#2e87f7"/>
<path d="M202.0 349.4L204.5 350.1L206.4 349.7L203.9 348.9Z" fill="#2d87f6"/>
<path d="M200.1 350.0L202.6 350.7L204.5 350.1L202.0 349.4Z" fill="#2d88f6"/>
<path d="M197.6 350.7L200.0 351.3L202.6 350.7L200.1 350.0Z" fill="#2d88f6"/>
<path d="M194.8 351.6L197.3 352.1L200.0 351.3L197.6 350.7Z" fill="#2d87f6"/>
<path d="M192.1 352.5L194.6 352.8L197.3 352.1L194.8 351.6Z" fill="#2d87f7"/>
<path d="M189.4 353.3L191.9 353.3L194.6 352.8L192.1 352.5Z" fill="#2e87f7"/>
<path d="M186.7 354.0L189.2 353.6L191.9 353.3L189.4 353.3Z" fill="#2e87f7"/>
<path d="M184.0 354.3L186.5 353.4L189.2 353.6L186.7 354.0Z" fill="#2d88f6"/>
<path d="M181.2 354.7L183.7 353.3L186.5 353.4L184.0 354.3Z" fill="#2d89f5"/>
<path d="M178.5 355.3L181.0 353.5L183.7 353.3L181.2 354.7Z" fill="#2d89f5"/>
<path d="M175.8 356.6L178.3 354.5L181.0 353.5L178.5 355.3Z" fill="#2d89f5"/>
<path d="M173.1 358.8L175.6 356.6L178.3 354.5L175.8 356.6Z" fill="#2d87f6"/>
<path d="M170.4 362.0L172.9 360.0L175.6 356.6L173.1 358.8Z" fill="#3182f8"/>
<path d="M167.7 365.6L170.1 363.9L172.9 360.0L170.4 362.0Z" fill="#387afa"/>
<path d="M164.9 368.9L167.4 367.6L170.1 363.9L167.7 365.6Z" fill="#3f71fd"/>
<path d="M162.2 371.4L164.7 370.3L167.4 367.6L164.9 368.9Z" fill="#446afd"/>
<path d="M159.5 372.3L162.0 371.2L164.7 370.3L162.2 371.4Z" fill="#4466fc"/>
<path d="M156.8 372.0L159.3 370.6L162.0 371.2L159.5 372.3Z" fill="#4467fc"/>
<path d="M154.1 371.5L156.6 369.6L159.3 370.6L156.8 372.0Z" fill="#446bfe"/>
<path d="M151.3 372.1L153.8 369.5L156.6 369.6L154.1 371.5Z" fill="#436dfe"/>
<path d="M148.6 375.0L151.1 371.6L153.8 369.5L151.3 372.1Z" fill="#436bfe"/>
<path d="M145.9 381.1L148.4 376.9L151.1 371.6L148.6 375.0Z" fill="#4564fb"/>
<path d="M143.2 388.9L145.7 383.8L148.4 376.9L145.9 381.1Z" fill="#4755f5"/>
<path d="M140.5 395.0L143.0 389.1L145.7 383.8L143.2 388.9Z" fill="#4647e1"/>
<path d="M137.8 396.2L140.2 389.5L143.0 389.1L140.5 395.0Z" fill="#443ed4"/>
<path d="M135.0 389.1L137.5 381.5L140.2 389.5L137.8 396.2Z" fill="#474cea"/>
<path d="M266.6 335.7L268.9 329.9L271.6 327.1L269.3 333.3Z" fill="#2894ed"/>
<path d="M263.9 339.8L266.2 334.9L268.9 329.9L266.6 335.7Z" fill="#2a8ff1"/>
<path d="M261.2 345.0L263.5 341.2L266.2 334.9L263.9 339.8Z" fill="#2e86f7"/>
<path d="M258.5 350.4L260.8 347.8L263.5 341.2L261.2 345.0Z" fill="#3b77fb"/>
<path d="M255.7 355.5L258.1 353.9L260.8 347.8L258.5 350.4Z" fill="#4468fd"/>
<path d="M253.5 359.2L255.9 358.3L258.1 353.9L255.7 355.5Z" fill="#465bf8"/>
<path d="M252.1 361.1L254.5 360.2L255.9 358.3L253.5 359.2Z" fill="#4753f5"/>
<path d="M250.1 360.4L252.5 359.2L254.5 360.2L252.1 361.1Z" fill="#4755f5"/>
<path d="M247.5 357.4L250.0 355.7L252.5 359.2L250.1 360.4Z" fill="#465df8"/>
<path d="M244.9 353.2L247.4 350.7L250.0 355.7L247.5 357.4Z" fill="#446afe"/>
<path d="M242.0 349.0L244.5 346.0L247.4 350.7L244.9 353.2Z" fill="#3978fb"/>
<path d="M239.1 345.9L241.6 342.5L244.5 346.0L242.0 349.0Z" fill="#3084f8"/>
<path d="M236.2 344.3L238.6 340.9L241.6 342.5L239.1 345.9Z" fill="#2c8af5"/>
<path d="M233.3 344.0L235.7 341.0L238.6 340.9L236.2 344.3Z" fill="#2c8cf3"/>
<path d="M230.2 344.5L232.7 342.1L235.7 341.0L233.3 344.0Z" fill="#2c8cf3"/>
<path d="M227.2 345.5L229.6 343.7L232.7 342.1L230.2 344.5Z" fill="#2c8bf4"/>
<path d="M224.2 346.5L226.6 345.3L229.6 343.7L227.2 345.5Z" fill="#2d89f5"/>
<path d="M221.1 347.3L223.6 346.6L226.6 345.3L224.2 346.5Z" fill="#2d87f7"/>
<path d="M218.3 348.0L220.7 347.6L223.6 346.6L221.1 347.3Z" fill="#2f86f7"/>
<path d="M215.7 348.5L218.1 348.3L220.7 347.6L218.3 348.0Z" fill="#2f85f7"/>
<path d="M213.1 348.9L215.5 348.9L218.1 348.3L215.7 348.5Z" fill="#2f85f8"/>
<path d="M210.4 349.1L212.9 349.3L215.5 348.9L213.1 348.9Z" fill="#2f85f7"/>
<path d="M208.3 349.4L210.7 349.7L212.9 349.3L210.4 349.1Z" fill="#2e86f7"/>
<path d="M206.4 349.7L208.8 350.0L210.7 349.7L208.3 349.4Z" fill="#2e87f7"/>
<path d="M204.5 350.1L207.0 350.4L208.8 350.0L206.4 349.7Z" fill="#2d88f6"/>
<path d="M202.6 350.7L205.1 350.8L207.0 350.4L204.5 350.1Z" fill="#2d88f6"/>
<path d="M200.0 351.3L202.5 351.4L205.1 350.8L202.6 350.7Z" fill="#2d88f6"/>
<path d="M197.3 352.1L199.8 352.0L202.5 351.4L200.0 351.3Z" fill="#2d88f6"/>
<path d="M194.6 352.8L197.1 352.5L199.8 352.0L197.3 352.1Z" fill="#2d88f6"/>
<path d="M191.9 353.3L194.4 352.7L197.1 352.5L194.6 352.8Z" fill="#2d88f6"/>
<path d="M189.2 353.6L191.7 352.5L194.4 352.7L191.9 353.3Z" fill="#2d89f5"/>
<path d="M186.5 353.4L188.9 351.9L191.7 352.5L189.2 353.6Z" fill="#2c8bf4"/>
<path d="M183.7 353.3L186.2 351.2L188.9 351.9L186.5 353.4Z" fill="#2b8df2"/>
<path d="M181.0 353.5L183.5 350.9L186.2 351.2L183.7 353.3Z" fill="#2a8ff1"/>
<path d="M178.3 354.5L180.8 351.6L183.5 350.9L181.0 353.5Z" fill="#2a8ff1"/>
<path d="M175.6 356.6L178.1 353.7L180.8 351.6L178.3 354.5Z" fill="#2b8ef2"/>
<path d="M172.9 360.0L175.3 357.3L178.1 353.7L175.6 356.6Z" fill="#2c8af5"/>
<path d="M170.1 363.9L172.6 361.6L175.3 357.3L172.9 360.0Z" fill="#3182f8"/>
<path d="M167.4 367.6L169.9 365.6L172.6 361.6L170.1 363.9Z" fill="#3979fb"/>
<path d="M164.7 370.3L167.2 368.5L169.9 365.6L167.4 367.6Z" fill="#4070fd"/>
<path d="M162.0 371.2L164.5 369.4L167.2 368.5L164.7 370.3Z" fill="#436bfe"/>
<path d="M159.3 370.6L161.8 368.4L164.5 369.4L162.0 371.2Z" fill="#426efe"/>
<path d="M156.6 369.6L159.0 366.8L161.8 368.4L159.3 370.6Z" fill="#3e73fc"/>
<path d="M153.8 369.5L156.3 365.9L159.0 366.8L156.6 369.6Z" fill="#3b77fb"/>
<path d="M151.1 371.6L153.6 366.9L156.3 365.9L153.8 369.5Z" fill="#3b77fb"/>
<path d="M148.4 376.9L150.9 370.9L153.6 366.9L151.1 371.6Z" fill="#3e72fd"/>
<path d="M145.7 383.8L148.2 376.6L150.9 370.9L148.4 376.9Z" fill="#4466fc"/>
<path d="M143.0 389.1L145.4 380.7L148.2 376.6L145.7 383.8Z" fill="#4759f7"/>
<path d="M140.2 389.5L142.7 380.2L145.4 380.7L143.0 389.1Z" fill="#4753f5"/>
<path d="M137.5 381.5L140.0 371.7L142.7 380.2L140.2 389.5Z" fill="#4564fb"/>
<path d="M268.9 329.9L271.3 322.9L274.0 319.5L271.6 327.1Z" fill="#1fa4e1"/>
<path d="M266.2 334.9L268.6 328.8L271.3 322.9L268.9 329.9Z" fill="#249ce6"/>
<path d="M263.5 341.2L265.9 336.3L268.6 328.8L266.2 334.9Z" fill="#2991ef"/>
<path d="M260.8 347.8L263.2 344.2L265.9 336.3L263.5 341.2Z" fill="#3084f8"/>
<path d="M258.1 353.9L260.5 351.4L263.2 344.2L260.8 347.8Z" fill="#3f71fd"/>
<path d="M255.9 358.3L258.3 356.6L260.5 351.4L258.1 353.9Z" fill="#4562fa"/>
<path d="M254.5 360.2L256.9 358.7L258.3 356.6L255.9 358.3Z" fill="#4759f7"/>
<path d="M252.5 359.2L255.0 357.3L256.9 358.7L254.5 360.2Z" fill="#465af7"/>
<path d="M250.0 355.7L252.4 353.2L255.0 357.3L252.5 359.2Z" fill="#4564fb"/>
<path d="M247.4 350.7L249.8 347.5L252.4 353.2L250.0 355.7Z" fill="#3d73fc"/>
<path d="M244.5 346.0L246.9 342.1L249.8 347.5L247.4 350.7Z" fill="#3083f8"/>
<path d="M241.6 342.5L244.0 338.2L246.9 342.1L244.5 346.0Z" fill="#2b8df2"/>
<path d="M238.6 340.9L241.1 336.7L244.0 338.2L241.6 342.5Z" fill="#2992ee"/>
<path d="M235.7 341.0L238.1 337.1L241.1 336.7L238.6 340.9Z" fill="#2894ed"/>
<path d="M232.7 342.1L235.1 338.8L238.1 337.1L235.7 341.0Z" fill="#2993ee"/>
<path d="M229.6 343.7L232.0 341.1L235.1 338.8L232.7 342.1Z" fill="#2a91ef"/>
<path d="M226.6 345.3L229.0 343.3L232.0 341.1L229.6 343.7Z" fill="#2b8ef2"/>
<path d="M223.6 346.6L226.0 345.2L229.0 343.3L226.6 345.3Z" fill="#2c8bf4"/>
<path d="M220.7 347.6L223.1 346.5L226.0 345.2L223.6 346.6Z" fill="#2d89f5"/>
<path d="M218.1 348.3L220.5 347.6L223.1 346.5L220.7 347.6Z" fill="#2d88f6"/>
<path d="M215.5 348.9L217.9 348.4L220.5 347.6L218.1 348.3Z" fill="#2d87f7"/>
<path d="M212.9 349.3L215.3 349.1L217.9 348.4L215.5 348.9Z" fill="#2d87f7"/>
<path d="M210.7 349.7L213.1 349.5L215.3 349.1L212.9 349.3Z" fill="#2d87f6"/>
<path d="M208.8 350.0L211.3 349.8L213.1 349.5L210.7 349.7Z" fill="#2d88f6"/>
<path d="M207.0 350.4L209.4 350.1L211.3 349.8L208.8 350.0Z" fill="#2d89f5"/>
<path d="M205.1 350.8L207.6 350.4L209.4 350.1L207.0 350.4Z" fill="#2c8af5"/>
<path d="M202.5 351.4L205.0 350.9L207.6 350.4L205.1 350.8Z" fill="#2c8af5"/>
<path d="M199.8 352.0L202.3 351.4L205.0 350.9L202.5 351.4Z" fill="#2c8af4"/>
<path d="M197.1 352.5L199.6 351.6L202.3 351.4L199.8 352.0Z" fill="#2c8af4"/>
<path d="M194.4 352.7L196.9 351.5L199.6 351.6L197.1 352.5Z" fill="#2c8bf4"/>
<path d="M191.7 352.5L194.1 350.9L196.9 351.5L194.4 352.7Z" fill="#2b8df2"/>
<path d="M188.9 351.9L191.4 349.7L194.1 350.9L191.7 352.5Z" fill="#2a90f0"/>
<path d="M186.2 351.2L188.7 348.5L191.4 349.7L188.9 351.9Z" fill="#2993ee"/>
<path d="M183.5 350.9L186.0 347.8L188.7 348.5L186.2 351.2Z" fill="#2895ec"/>
<path d="M180.8 351.6L183.3 348.2L186.0 347.8L183.5 350.9Z" fill="#2896ec"/>
<path d="M178.1 353.7L180.6 350.3L183.3 348.2L180.8 351.6Z" fill="#2895ec"/>
<path d="M175.3 357.3L177.8 354.1L180.6 350.3L178.1 353.7Z" fill="#2991ef"/>
<path d="M172.6 361.6L175.1 358.7L177.8 354.1L175.3 357.3Z" fill="#2c8bf4"/>
<path d="M169.9 365.6L172.4 363.0L175.1 358.7L172.6 361.6Z" fill="#3282f8"/>
<path d="M167.2 368.5L169.7 366.2L172.4 363.0L169.9 365.6Z" fill="#3978fb"/>
<path d="M164.5 369.4L167.0 367.0L169.7 366.2L167.2 368.5Z" fill="#3e73fc"/>
<path d="M161.8 368.4L164.2 365.7L167.0 367.0L164.5 369.4Z" fill="#3b76fc"/>
<path d="M159.0 366.8L161.5 363.4L164.2 365.7L161.8 368.4Z" fill="#367dfa"/>
<path d="M156.3 365.9L158.8 361.5L161.5 363.4L159.0 366.8Z" fill="#3183f8"/>
<path d="M153.6 366.9L156.1 361.2L158.8 361.5L156.3 365.9Z" fill="#2e86f7"/>
<path d="M150.9 370.9L153.4 363.7L156.1 361.2L153.6 366.9Z" fill="#3084f8"/>
<path d="M148.2 376.6L150.7 367.7L153.4 363.7L150.9 370.9Z" fill="#377cfa"/>
<path d="M145.4 380.7L147.9 370.4L150.7 367.7L148.2 376.6Z" fill="#3f72fd"/>
<path d="M142.7 380.2L145.2 368.8L147.9 370.4L145.4 380.7Z" fill="#3f71fd"/>
<path d="M140.0 371.7L142.5 360.1L145.2 368.8L142.7 380.2Z" fill="#3084f8"/>
<path d="M271.3 322.9L273.7 314.8L276.4 310.9L274.0 319.5Z" fill="#0db4cd"/>
<path d="M268.6 328.8L271.0 321.8L273.7 314.8L271.3 322.9Z" fill="#16add7"/>
<path d="M265.9 336.3L268.3 330.5L271.0 321.8L268.6 328.8Z" fill="#22a0e4"/>
<path d="M263.2 344.2L265.6 339.7L268.3 330.5L265.9 336.3Z" fill="#2a8ff0"/>
<path d="M260.5 351.4L262.9 348.3L265.6 339.7L263.2 344.2Z" fill="#357dfa"/>
<path d="M258.3 356.6L260.7 354.3L262.9 348.3L260.5 351.4Z" fill="#446afe"/>
<path d="M256.9 358.7L259.3 356.6L260.7 354.3L258.3 356.6Z" fill="#4560f9"/>
<path d="M255.0 357.3L257.4 354.9L259.3 356.6L256.9 358.7Z" fill="#4561fa"/>
<path d="M252.4 353.2L254.9 350.2L257.4 354.9L255.0 357.3Z" fill="#436dfe"/>
<path d="M249.8 347.5L252.3 343.6L254.9 350.2L252.4 353.2Z" fill="#347ff9"/>
<path d="M246.9 342.1L249.4 337.4L252.3 343.6L249.8 347.5Z" fill="#2b8ef2"/>
<path d="M244.0 338.2L246.4 333.1L249.4 337.4L246.9 342.1Z" fill="#2797ea"/>
<path d="M241.1 336.7L243.5 331.7L246.4 333.1L244.0 338.2Z" fill="#239de6"/>
<path d="M238.1 337.1L240.6 332.5L243.5 331.7L241.1 336.7Z" fill="#229fe5"/>
<path d="M235.1 338.8L237.5 334.9L240.6 332.5L238.1 337.1Z" fill="#239de6"/>
<path d="M232.0 341.1L234.5 337.9L237.5 334.9L235.1 338.8Z" fill="#2699e9"/>
<path d="M229.0 343.3L231.4 340.8L234.5 337.9L232.0 341.1Z" fill="#2894ed"/>
<path d="M226.0 345.2L228.4 343.2L231.4 340.8L229.0 343.3Z" fill="#2a90f0"/>
<path d="M223.1 346.5L225.5 345.0L228.4 343.2L226.0 345.2Z" fill="#2b8df2"/>
<path d="M220.5 347.6L222.9 346.4L225.5 345.0L223.1 346.5Z" fill="#2c8bf3"/>
<path d="M217.9 348.4L220.3 347.5L222.9 346.4L220.5 347.6Z" fill="#2c8af4"/>
<path d="M215.3 349.1L217.7 348.3L220.3 347.5L217.9 348.4Z" fill="#2c8af5"/>
<path d="M213.1 349.5L215.5 348.8L217.7 348.3L215.3 349.1Z" fill="#2c89f5"/>
<path d="M211.3 349.8L213.7 349.2L215.5 348.8L213.1 349.5Z" fill="#2c8af4"/>
<path d="M209.4 350.1L211.9 349.4L213.7 349.2L211.3 349.8Z" fill="#2c8bf4"/>
<path d="M207.6 350.4L210.0 349.4L211.9 349.4L209.4 350.1Z" fill="#2b8cf3"/>
<path d="M205.0 350.9L207.5 349.8L210.0 349.4L207.6 350.4Z" fill="#2b8df2"/>
<path d="M202.3 351.4L204.8 350.1L207.5 349.8L205.0 350.9Z" fill="#2b8df2"/>
<path d="M199.6 351.6L202.1 350.1L204.8 350.1L202.3 351.4Z" fill="#2b8ef2"/>
<path d="M196.9 351.5L199.3 349.7L202.1 350.1L199.6 351.6Z" fill="#2a8ff0"/>
<path d="M194.1 350.9L196.6 348.7L199.3 349.7L196.9 351.5Z" fill="#2992ef"/>
<path d="M191.4 349.7L193.9 347.1L196.6 348.7L194.1 350.9Z" fill="#2895ec"/>
<path d="M188.7 348.5L191.2 345.4L193.9 347.1L191.4 349.7Z" fill="#2599e9"/>
<path d="M186.0 347.8L188.5 344.3L191.2 345.4L188.7 348.5Z" fill="#239de6"/>
<path d="M183.3 348.2L185.8 344.5L188.5 344.3L186.0 347.8Z" fill="#229ee5"/>
<path d="M180.6 350.3L183.0 346.5L185.8 344.5L183.3 348.2Z" fill="#239ee5"/>
<path d="M177.8 354.1L180.3 350.4L183.0 346.5L180.6 350.3Z" fill="#2699e9"/>
<path d="M175.1 358.7L177.6 355.3L180.3 350.4L177.8 354.1Z" fill="#2992ee"/>
<path d="M172.4 363.0L174.9 360.0L177.6 355.3L175.1 358.7Z" fill="#2c8af4"/>
<path d="M169.7 366.2L172.2 363.3L174.9 360.0L172.4 363.0Z" fill="#3282f8"/>
<path d="M167.0 367.0L169.4 364.1L172.2 363.3L169.7 366.2Z" fill="#367cfa"/>
<path d="M164.2 365.7L166.7 362.4L169.4 364.1L167.0 367.0Z" fill="#3380f9"/>
<path d="M161.5 363.4L164.0 359.5L166.7 362.4L164.2 365.7Z" fill="#2d88f6"/>
<path d="M158.8 361.5L161.3 356.5L164.0 359.5L161.5 363.4Z" fill="#2b8ef2"/>
<path d="M156.1 361.2L158.6 354.8L161.3 356.5L158.8 361.5Z" fill="#2992ee"/>
<path d="M153.4 363.7L155.9 355.5L158.6 354.8L156.1 361.2Z" fill="#2992ee"/>
<path d="M150.7 367.7L153.1 357.6L155.9 355.5L153.4 363.7Z" fill="#2a90f0"/>
<path d="M147.9 370.4L150.4 358.5L153.1 357.6L150.7 367.7Z" fill="#2b8df2"/>
<path d="M145.2 368.8L147.7 355.8L150.4 358.5L147.9 370.4Z" fill="#2a90f0"/>
<path d="M142.5 360.1L145.0 347.0L147.7 355.8L145.2 368.8Z" fill="#229fe5"/>
<path d="M273.7 314.8L276.1 305.9L278.8 301.4L276.4 310.9Z" fill="#19bfb7"/>
<path d="M271.0 321.8L273.4 313.9L276.1 305.9L273.7 314.8Z" fill="#0fbac2"/>
<path d="M268.3 330.5L270.7 324.0L273.4 313.9L271.0 321.8Z" fill="#14afd4"/>
<path d="M265.6 339.7L268.0 334.7L270.7 324.0L268.3 330.5Z" fill="#249ce6"/>
<path d="M262.9 348.3L265.3 344.6L268.0 334.7L265.6 339.7Z" fill="#2c8af5"/>
<path d="M260.7 354.3L263.1 351.5L265.3 344.6L262.9 348.3Z" fill="#3c75fc"/>
<path d="M259.3 356.6L261.8 354.1L263.1 351.5L260.7 354.3Z" fill="#4468fd"/>
<path d="M257.4 354.9L259.9 352.2L261.8 354.1L259.3 356.6Z" fill="#446afd"/>
<path d="M254.9 350.2L257.3 346.8L259.9 352.2L257.4 354.9Z" fill="#3a77fb"/>
<path d="M252.3 343.6L254.8 339.2L257.3 346.8L254.9 350.2Z" fill="#2c8af5"/>
<path d="M249.4 337.4L251.8 332.3L254.8 339.2L252.3 343.6Z" fill="#2798ea"/>
<path d="M246.4 333.1L248.9 327.5L251.8 332.3L249.4 337.4Z" fill="#1fa4e0"/>
<path d="M243.5 331.7L246.0 326.1L248.9 327.5L246.4 333.1Z" fill="#1aaadb"/>
<path d="M240.6 332.5L243.0 327.4L246.0 326.1L243.5 331.7Z" fill="#19abda"/>
<path d="M237.5 334.9L239.9 330.4L243.0 327.4L240.6 332.5Z" fill="#1ca9dd"/>
<path d="M234.5 337.9L236.9 334.2L239.9 330.4L237.5 334.9Z" fill="#1fa3e1"/>
<path d="M231.4 340.8L233.8 337.8L236.9 334.2L234.5 337.9Z" fill="#249ce6"/>
<path d="M228.4 343.2L230.8 340.8L233.8 337.8L231.4 340.8Z" fill="#2796eb"/>
<path d="M225.5 345.0L227.9 343.1L230.8 340.8L228.4 343.2Z" fill="#2992ee"/>
<path d="M222.9 346.4L225.3 344.7L227.9 343.1L225.5 345.0Z" fill="#2a90f0"/>
<path d="M220.3 347.5L222.7 346.1L225.3 344.7L222.9 346.4Z" fill="#2b8ef1"/>
<path d="M217.7 348.3L220.1 347.2L222.7 346.1L220.3 347.5Z" fill="#2b8df2"/>
<path d="M215.5 348.8L218.0 347.8L220.1 347.2L217.7 348.3Z" fill="#2b8cf3"/>
<path d="M213.7 349.2L216.2 348.0L218.0 347.8L215.5 348.8Z" fill="#2b8df2"/>
<path d="M211.9 349.4L214.3 348.0L216.2 348.0L213.7 349.2Z" fill="#2b8ef1"/>
<path d="M210.0 349.4L212.5 347.8L214.3 348.0L211.9 349.4Z" fill="#2a90f0"/>
<path d="M207.5 349.8L210.0 348.0L212.5 347.8L210.0 349.4Z" fill="#2a91ef"/>
<path d="M204.8 350.1L207.3 348.1L210.0 348.0L207.5 349.8Z" fill="#2991ef"/>
<path d="M202.1 350.1L204.5 347.9L207.3 348.1L204.8 350.1Z" fill="#2993ee"/>
<path d="M199.3 349.7L201.8 347.3L204.5 347.9L202.1 350.1Z" fill="#2894ed"/>
<path d="M196.6 348.7L199.1 346.0L201.8 347.3L199.3 349.7Z" fill="#2798ea"/>
<path d="M193.9 347.1L196.4 344.0L199.1 346.0L196.6 348.7Z" fill="#249ce6"/>
<path d="M191.2 345.4L193.7 342.0L196.4 344.0L193.9 347.1Z" fill="#20a2e2"/>
<path d="M188.5 344.3L191.0 340.6L193.7 342.0L191.2 345.4Z" fill="#1ea6df"/>
<path d="M185.8 344.5L188.2 340.6L191.0 340.6L188.5 344.3Z" fill="#1ca8dd"/>
<path d="M183.0 346.5L185.5 342.5L188.2 340.6L185.8 344.5Z" fill="#1da7de"/>
<path d="M180.3 350.4L182.8 346.6L185.5 342.5L183.0 346.5Z" fill="#1fa3e1"/>
<path d="M177.6 355.3L180.1 351.6L182.8 346.6L180.3 350.4Z" fill="#259be8"/>
<path d="M174.9 360.0L177.4 356.5L180.1 351.6L177.6 355.3Z" fill="#2992ee"/>
<path d="M172.2 363.3L174.7 359.9L177.4 356.5L174.9 360.0Z" fill="#2c8bf4"/>
<path d="M169.4 364.1L171.9 360.7L174.7 359.9L172.2 363.3Z" fill="#2e87f7"/>
<path d="M166.7 362.4L169.2 358.7L171.9 360.7L169.4 364.1Z" fill="#2c8af5"/>
<path d="M164.0 359.5L166.5 355.1L169.2 358.7L166.7 362.4Z" fill="#2a90f0"/>
<path d="M161.3 356.5L163.8 351.2L166.5 355.1L164.0 359.5Z" fill="#2698ea"/>
<path d="M158.6 354.8L161.1 348.1L163.8 351.2L161.3 356.5Z" fill="#21a0e3"/>
<path d="M155.9 355.5L158.3 346.8L161.1 348.1L158.6 354.8Z" fill="#1fa4e0"/>
<path d="M153.1 357.6L155.6 346.7L158.3 346.8L155.9 355.5Z" fill="#1ea5e0"/>
<path d="M150.4 358.5L152.9 345.7L155.6 346.7L153.1 357.6Z" fill="#1da6df"/>
<path d="M147.7 355.8L150.2 341.8L152.9 345.7L150.4 358.5Z" fill="#17acd8"/>
<path d="M145.0 347.0L147.5 333.1L150.2 341.8L147.7 355.8Z" fill="#0cb8c5"/>
<path d="M276.1 305.9L278.5 296.4L281.2 291.2L278.8 301.4Z" fill="#36cc94"/>
<path d="M273.4 313.9L275.8 305.5L278.5 296.4L276.1 305.9Z" fill="#26c5a8"/>
<path d="M270.7 324.0L273.1 317.0L275.8 305.5L273.4 313.9Z" fill="#10bbc0"/>
<path d="M268.0 334.7L270.4 329.2L273.1 317.0L270.7 324.0Z" fill="#19abd9"/>
<path d="M265.3 344.6L267.7 340.4L270.4 329.2L268.0 334.7Z" fill="#2894ed"/>
<path d="M263.1 351.5L265.5 348.4L267.7 340.4L265.3 344.6Z" fill="#3381f9"/>
<path d="M261.8 354.1L264.2 351.3L265.5 348.4L263.1 351.5Z" fill="#3f72fd"/>
<path d="M259.9 352.2L262.3 349.2L264.2 351.3L261.8 354.1Z" fill="#3e73fc"/>
<path d="M257.3 346.8L259.8 343.1L262.3 349.2L259.9 352.2Z" fill="#3282f8"/>
<path d="M254.8 339.2L257.2 334.7L259.8 343.1L257.3 346.8Z" fill="#2993ee"/>
<path d="M251.8 332.3L254.3 326.9L257.2 334.7L254.8 339.2Z" fill="#1fa4e0"/>
<path d="M248.9 327.5L251.3 321.6L254.3 326.9L251.8 332.3Z" fill="#12b0d3"/>
<path d="M246.0 326.1L248.4 320.2L251.3 321.6L248.9 327.5Z" fill="#0cb5cb"/>
<path d="M243.0 327.4L245.4 321.9L248.4 320.2L246.0 326.1Z" fill="#0bb6ca"/>
<path d="M239.9 330.4L242.4 325.7L245.4 321.9L243.0 327.4Z" fill="#0fb3cf"/>
<path d="M236.9 334.2L239.3 330.2L242.4 325.7L239.9 330.4Z" fill="#16add7"/>
<path d="M233.8 337.8L236.2 334.5L239.3 330.2L236.9 334.2Z" fill="#1ea6df"/>
<path d="M230.8 340.8L233.2 338.1L236.2 334.5L233.8 337.8Z" fill="#229ee5"/>
<path d="M227.9 343.1L230.3 340.8L233.2 338.1L230.8 340.8Z" fill="#2698ea"/>
<path d="M225.3 344.7L227.7 342.8L230.3 340.8L227.9 343.1Z" fill="#2895ec"/>
<path d="M222.7 346.1L225.1 344.4L227.7 342.8L225.3 344.7Z" fill="#2992ee"/>
<path d="M220.1 347.2L222.5 345.7L225.1 344.4L222.7 346.1Z" fill="#2a91ef"/>
<path d="M218.0 347.8L220.4 346.3L222.5 345.7L220.1 347.2Z" fill="#2a90f0"/>
<path d="M216.2 348.0L218.6 346.4L220.4 346.3L218.0 347.8Z" fill="#2a91ef"/>
<path d="M214.3 348.0L216.8 346.1L218.6 346.4L216.2 348.0Z" fill="#2993ee"/>
<path d="M212.5 347.8L215.0 345.5L216.8 346.1L214.3 348.0Z" fill="#2895ec"/>
<path d="M210.0 348.0L212.5 345.5L215.0 345.5L212.5 347.8Z" fill="#2796eb"/>
<path d="M207.3 348.1L209.8 345.5L212.5 345.5L210.0 348.0Z" fill="#2797eb"/>
<path d="M204.5 347.9L207.0 345.1L209.8 345.5L207.3 348.1Z" fill="#2699e9"/>
<path d="M201.8 347.3L204.3 344.2L207.0 345.1L204.5 347.9Z" fill="#249be7"/>
<path d="M199.1 346.0L201.6 342.8L204.3 344.2L201.8 347.3Z" fill="#229fe4"/>
<path d="M196.4 344.0L198.9 340.6L201.6 342.8L199.1 346.0Z" fill="#1ea5e0"/>
<path d="M193.7 342.0L196.2 338.4L198.9 340.6L196.4 344.0Z" fill="#1aaadb"/>
<path d="M191.0 340.6L193.4 336.9L196.2 338.4L193.7 342.0Z" fill="#15aed5"/>
<path d="M188.2 340.6L190.7 336.7L193.4 336.9L191.0 340.6Z" fill="#13b0d3"/>
<path d="M185.5 342.5L188.0 338.6L190.7 336.7L188.2 340.6Z" fill="#13afd3"/>
<path d="M182.8 346.6L185.3 342.7L188.0 338.6L185.5 342.5Z" fill="#18acd8"/>
<path d="M180.1 351.6L182.6 347.8L185.3 342.7L182.8 346.6Z" fill="#1fa4e0"/>
<path d="M177.4 356.5L179.9 352.7L182.6 347.8L180.1 351.6Z" fill="#259be8"/>
<path d="M174.7 359.9L177.1 356.1L179.9 352.7L177.4 356.5Z" fill="#2993ee"/>
<path d="M171.9 360.7L174.4 356.8L177.1 356.1L174.7 359.9Z" fill="#2a8ff1"/>
<path d="M169.2 358.7L171.7 354.6L174.4 356.8L171.9 360.7Z" fill="#2992ee"/>
<path d="M166.5 355.1L169.0 350.6L171.7 354.6L169.2 358.7Z" fill="#259ae8"/>
<path d="M163.8 351.2L166.3 345.7L169.0 350.6L166.5 355.1Z" fill="#1ea5e0"/>
<path d="M161.1 348.1L163.5 341.2L166.3 345.7L163.8 351.2Z" fill="#15aed5"/>
<path d="M158.3 346.8L160.8 337.9L163.5 341.2L161.1 348.1Z" fill="#0cb4cc"/>
<path d="M155.6 346.7L158.1 335.4L160.8 337.9L158.3 346.8Z" fill="#0bb8c6"/>
<path d="M152.9 345.7L155.4 332.3L158.1 335.4L155.6 346.7Z" fill="#11bbc0"/>
<path d="M150.2 341.8L152.7 327.3L155.4 332.3L152.9 345.7Z" fill="#1abfb6"/>
<path d="M147.5 333.1L150.0 318.8L152.7 327.3L150.2 341.8Z" fill="#30ca9b"/>
<path d="M278.5 296.4L280.9 286.4L283.6 280.6L281.2 291.2Z" fill="#70ce65"/>
<path d="M275.8 305.5L278.2 296.7L280.9 286.4L278.5 296.4Z" fill="#45cf82"/>
<path d="M273.1 317.0L275.5 309.6L278.2 296.7L275.8 305.5Z" fill="#26c5a8"/>
<path d="M270.4 329.2L272.8 323.3L275.5 309.6L273.1 317.0Z" fill="#0ab8c7"/>
<path d="M267.7 340.4L270.1 336.0L272.8 323.3L270.4 329.2Z" fill="#21a1e3"/>
<path d="M265.5 348.4L267.9 345.0L270.1 336.0L267.7 340.4Z" fill="#2c8bf4"/>
<path d="M264.2 351.3L266.6 348.4L267.9 345.0L265.5 348.4Z" fill="#367cfa"/>
<path d="M262.3 349.2L264.8 346.2L266.6 348.4L264.2 351.3Z" fill="#367dfa"/>
<path d="M259.8 343.1L262.2 339.4L264.8 346.2L262.3 349.2Z" fill="#2c8bf4"/>
<path d="M257.2 334.7L259.7 330.0L262.2 339.4L259.8 343.1Z" fill="#239de6"/>
<path d="M254.3 326.9L256.7 321.4L259.7 330.0L257.2 334.7Z" fill="#14afd4"/>
<path d="M251.3 321.6L253.8 315.6L256.7 321.4L254.3 326.9Z" fill="#0db9c3"/>
<path d="M248.4 320.2L250.8 314.2L253.8 315.6L251.3 321.6Z" fill="#14bcbc"/>
<path d="M245.4 321.9L247.9 316.3L250.8 314.2L248.4 320.2Z" fill="#14bdbc"/>
<path d="M242.4 325.7L244.8 320.7L247.9 316.3L245.4 321.9Z" fill="#10bac1"/>
<path d="M239.3 330.2L241.7 326.0L244.8 320.7L242.4 325.7Z" fill="#0ab6ca"/>
<path d="M236.2 334.5L238.6 331.0L241.7 326.0L239.3 330.2Z" fill="#15aed5"/>
<path d="M233.2 338.1L235.6 335.2L238.6 331.0L236.2 334.5Z" fill="#1da7de"/>
<path d="M230.3 340.8L232.7 338.4L235.6 335.2L233.2 338.1Z" fill="#22a0e4"/>
<path d="M227.7 342.8L230.1 340.7L232.7 338.4L230.3 340.8Z" fill="#259be8"/>
<path d="M225.1 344.4L227.5 342.5L230.1 340.7L227.7 342.8Z" fill="#2797ea"/>
<path d="M222.5 345.7L224.9 343.9L227.5 342.5L225.1 344.4Z" fill="#2895ec"/>
<path d="M220.4 346.3L222.8 344.4L224.9 343.9L222.5 345.7Z" fill="#2894ed"/>
<path d="M218.6 346.4L221.0 344.2L222.8 344.4L220.4 346.3Z" fill="#2896ec"/>
<path d="M216.8 346.1L219.3 343.6L221.0 344.2L218.6 346.4Z" fill="#2698ea"/>
<path d="M215.0 345.5L217.5 342.6L219.3 343.6L216.8 346.1Z" fill="#249be7"/>
<path d="M212.5 345.5L215.0 342.3L217.5 342.6L215.0 345.5Z" fill="#239ee5"/>
<path d="M209.8 345.5L212.2 342.1L215.0 342.3L212.5 345.5Z" fill="#229fe4"/>
<path d="M207.0 345.1L209.5 341.6L212.2 342.1L209.8 345.5Z" fill="#21a1e3"/>
<path d="M204.3 344.2L206.8 340.6L209.5 341.6L207.0 345.1Z" fill="#1fa4e0"/>
<path d="M201.6 342.8L204.1 339.1L206.8 340.6L204.3 344.2Z" fill="#1ca8dd"/>
<path d="M198.9 340.6L201.4 337.0L204.1 339.1L201.6 342.8Z" fill="#17add7"/>
<path d="M196.2 338.4L198.6 334.8L201.4 337.0L198.9 340.6Z" fill="#11b1d0"/>
<path d="M193.4 336.9L195.9 333.3L198.6 334.8L196.2 338.4Z" fill="#0bb5cb"/>
<path d="M190.7 336.7L193.2 333.1L195.9 333.3L193.4 336.9Z" fill="#09b7c8"/>
<path d="M188.0 338.6L190.5 335.0L193.2 333.1L190.7 336.7Z" fill="#09b7c9"/>
<path d="M185.3 342.7L187.8 339.0L190.5 335.0L188.0 338.6Z" fill="#0eb3cd"/>
<path d="M182.6 347.8L185.1 343.9L187.8 339.0L185.3 342.7Z" fill="#16add7"/>
<path d="M179.9 352.7L182.3 348.7L185.1 343.9L182.6 347.8Z" fill="#1fa4e0"/>
<path d="M177.1 356.1L179.6 352.0L182.3 348.7L179.9 352.7Z" fill="#249ce7"/>
<path d="M174.4 356.8L176.9 352.6L179.6 352.0L177.1 356.1Z" fill="#2698ea"/>
<path d="M171.7 354.6L174.2 350.3L176.9 352.6L174.4 356.8Z" fill="#249ce7"/>
<path d="M169.0 350.6L171.5 345.9L174.2 350.3L171.7 354.6Z" fill="#1ea5e0"/>
<path d="M166.3 345.7L168.8 340.4L171.5 345.9L169.0 350.6Z" fill="#13b0d3"/>
<path d="M163.5 341.2L166.0 334.5L168.8 340.4L166.3 345.7Z" fill="#0cb9c5"/>
<path d="M160.8 337.9L163.3 329.2L166.0 334.5L163.5 341.2Z" fill="#17beb8"/>
<path d="M158.1 335.4L160.6 324.3L163.3 329.2L160.8 337.9Z" fill="#25c4a9"/>
<path d="M155.4 332.3L157.9 319.1L160.6 324.3L158.1 335.4Z" fill="#33cb98"/>
<path d="M152.7 327.3L155.2 312.7L157.9 319.1L155.4 332.3Z" fill="#48cf80"/>
<path d="M150.0 318.8L152.4 304.5L155.2 312.7L152.7 327.3Z" fill="#81cc58"/>
<path d="M280.9 286.4L283.2 276.1L285.9 269.7L283.6 280.6Z" fill="#c7bf32"/>
<path d="M278.2 296.7L280.6 287.6L283.2 276.1L280.9 286.4Z" fill="#92ca4c"/>
<path d="M275.5 309.6L277.9 302.0L280.6 287.6L278.2 296.7Z" fill="#40cf86"/>
<path d="M272.8 323.3L275.2 317.4L277.9 302.0L275.5 309.6Z" fill="#19bfb6"/>
<path d="M270.1 336.0L272.5 331.5L275.2 317.4L272.8 323.3Z" fill="#17add7"/>
<path d="M267.9 345.0L270.3 341.6L272.5 331.5L270.1 336.0Z" fill="#2894ed"/>
<path d="M266.6 348.4L269.1 345.6L270.3 341.6L267.9 345.0Z" fill="#2e86f7"/>
<path d="M264.8 346.2L267.2 343.2L269.1 345.6L266.6 348.4Z" fill="#2e87f7"/>
<path d="M262.2 339.4L264.7 335.8L267.2 343.2L264.8 346.2Z" fill="#2993ee"/>
<path d="M259.7 330.0L262.1 325.4L264.7 335.8L262.2 339.4Z" fill="#1da8de"/>
<path d="M256.7 321.4L259.2 315.9L262.1 325.4L259.7 330.0Z" fill="#0bb8c6"/>
<path d="M253.8 315.6L256.2 309.6L259.2 315.9L256.7 321.4Z" fill="#1bc0b4"/>
<path d="M250.8 314.2L253.3 308.2L256.2 309.6L253.8 315.6Z" fill="#24c4aa"/>
<path d="M247.9 316.3L250.3 310.7L253.3 308.2L250.8 314.2Z" fill="#24c4a9"/>
<path d="M244.8 320.7L247.2 315.8L250.3 310.7L247.9 316.3Z" fill="#1dc1b2"/>
<path d="M241.7 326.0L244.1 321.8L247.2 315.8L244.8 320.7Z" fill="#12bcbe"/>
<path d="M238.6 331.0L241.1 327.5L244.1 321.8L241.7 326.0Z" fill="#0ab6ca"/>
<path d="M235.6 335.2L238.0 332.3L241.1 327.5L238.6 331.0Z" fill="#15aed5"/>
<path d="M232.7 338.4L235.1 335.8L238.0 332.3L235.6 335.2Z" fill="#1da7de"/>
<path d="M230.1 340.7L232.5 338.4L235.1 335.8L232.7 338.4Z" fill="#21a1e3"/>
<path d="M227.5 342.5L229.9 340.4L232.5 338.4L230.1 340.7Z" fill="#239de6"/>
<path d="M224.9 343.9L227.3 341.8L229.9 340.4L227.5 342.5Z" fill="#259be8"/>
<path d="M222.8 344.4L225.2 342.1L227.3 341.8L224.9 343.9Z" fill="#259ae8"/>
<path d="M221.0 344.2L223.5 341.6L225.2 342.1L222.8 344.4Z" fill="#249ce7"/>
<path d="M219.3 343.6L221.7 340.5L223.5 341.6L221.0 344.2Z" fill="#229fe4"/>
<path d="M217.5 342.6L220.0 338.9L221.7 340.5L219.3 343.6Z" fill="#1fa4e0"/>
<path d="M215.0 342.3L217.4 338.2L220.0 338.9L217.5 342.6Z" fill="#1da7de"/>
<ellipse cx="218.9" cy="339.6" rx="1.4" ry="1.0" fill="#000" stroke="none"/>
<path d="M212.2 342.1L214.7 337.9L217.4 338.2L215.0 342.3Z" fill="#1ca9dc"/>
<path d="M209.5 341.6L212.0 337.3L214.7 337.9L212.2 342.1Z" fill="#19abda"/>
<path d="M206.8 340.6L209.3 336.4L212.0 337.3L209.5 341.6Z" fill="#16add6"/>
<path d="M204.1 339.1L206.6 335.0L209.3 336.4L206.8 340.6Z" fill="#12b0d2"/>
<ellipse cx="205.9" cy="336.2" rx="1.4" ry="1.0" fill="#000" stroke="none"/>
<path d="M201.4 337.0L203.9 333.1L206.6 335.0L204.1 339.1Z" fill="#0db4cc"/>
<path d="M198.6 334.8L201.1 331.3L203.9 333.1L201.4 337.0Z" fill="#0bb8c6"/>
<path d="M195.9 333.3L198.4 330.0L201.1 331.3L198.6 334.8Z" fill="#0fbac2"/>
<path d="M193.2 333.1L195.7 330.0L198.4 330.0L195.9 333.3Z" fill="#11bbbf"/>
<path d="M190.5 335.0L193.0 331.8L195.7 330.0L193.2 333.1Z" fill="#10bbc0"/>
<ellipse cx="192.9" cy="332.0" rx="1.4" ry="1.0" fill="#000" stroke="none"/>
<path d="M187.8 339.0L190.3 335.6L193.0 331.8L190.5 335.0Z" fill="#0db9c4"/>
<path d="M185.1 343.9L187.5 340.2L190.3 335.6L187.8 339.0Z" fill="#0db4cc"/>
<path d="M182.3 348.7L184.8 344.6L187.5 340.2L185.1 343.9Z" fill="#16add7"/>
<path d="M179.6 352.0L182.1 347.6L184.8 344.6L182.3 348.7Z" fill="#1da6df"/>
<path d="M176.9 352.6L179.4 348.1L182.1 347.6L179.6 352.0Z" fill="#20a3e2"/>
<ellipse cx="179.9" cy="349.5" rx="1.4" ry="1.0" fill="#000" stroke="none"/>
<path d="M174.2 350.3L176.7 345.8L179.4 348.1L176.9 352.6Z" fill="#1da7de"/>
<path d="M171.5 345.9L174.0 341.4L176.7 345.8L174.2 350.3Z" fill="#14afd4"/>
<path d="M168.8 340.4L171.2 335.3L174.0 341.4L171.5 345.9Z" fill="#0bb8c6"/>
<path d="M166.0 334.5L168.5 328.4L171.2 335.3L168.8 340.4Z" fill="#19bfb6"/>
<path d="M163.3 329.2L165.8 321.1L168.5 328.4L166.0 334.5Z" fill="#2ec99e"/>
<ellipse cx="166.9" cy="327.7" rx="1.4" ry="1.0" fill="#000" stroke="none"/>
<path d="M160.6 324.3L163.1 313.8L165.8 321.1L163.3 329.2Z" fill="#45cf82"/>
<path d="M157.9 319.1L160.4 306.3L163.1 313.8L160.6 324.3Z" fill="#77cd5f"/>
<ellipse cx="160.4" cy="311.6" rx="1.4" ry="1.0" fill="#000" stroke="none"/>
<path d="M155.2 312.7L157.6 298.7L160.4 306.3L157.9 319.1Z" fill="#b5c437"/>
<path d="M152.4 304.5L154.9 297.6L157.6 298.7L155.2 312.7Z" fill="#d2bc30"/>
<path d="M283.2 276.1L285.6 270.4L288.3 269.8L285.9 269.7Z" fill="#e0bb34"/>
<path d="M280.6 287.6L282.9 278.5L285.6 270.4L283.2 276.1Z" fill="#cdbe31"/>
<path d="M277.9 302.0L280.2 294.5L282.9 278.5L280.6 287.6Z" fill="#7fcc59"/>
<path d="M275.2 317.4L277.5 311.4L280.2 294.5L277.9 302.0Z" fill="#2fc99d"/>
<path d="M272.5 331.5L274.8 327.0L277.5 311.4L275.2 317.4Z" fill="#09b7c8"/>
<path d="M270.3 341.6L272.7 338.3L274.8 327.0L272.5 331.5Z" fill="#239ee5"/>
<path d="M269.1 345.6L271.5 342.9L272.7 338.3L270.3 341.6Z" fill="#2b8ef2"/>
<path d="M267.2 343.2L269.7 340.4L271.5 342.9L269.1 345.6Z" fill="#2b8df2"/>
<ellipse cx="271.0" cy="343.4" rx="1.4" ry="1.0" fill="#000" stroke="none"/>
<path d="M264.7 335.8L267.1 332.4L269.7 340.4L267.2 343.2Z" fill="#259be8"/>
<path d="M262.1 325.4L264.6 321.2L267.1 332.4L264.7 335.8Z" fill="#12b0d3"/>
<path d="M259.2 315.9L261.6 310.8L264.6 321.2L262.1 325.4Z" fill="#16beb9"/>
<path d="M256.2 309.6L258.7 303.9L261.6 310.8L259.2 315.9Z" fill="#2dc8a0"/>
<ellipse cx="258.0" cy="307.3" rx="1.4" ry="1.0" fill="#000" stroke="none"/>
<path d="M253.3 308.2L255.7 302.5L258.7 303.9L256.2 309.6Z" fill="#37cc93"/>
<path d="M250.3 310.7L252.7 305.3L255.7 302.5L253.3 308.2Z" fill="#37cc93"/>
<path d="M247.2 315.8L249.6 311.0L252.7 305.3L250.3 310.7Z" fill="#2ec99f"/>
<path d="M244.1 321.8L246.6 317.8L249.6 311.0L247.2 315.8Z" fill="#1ec1b1"/>
<path d="M241.1 327.5L243.5 324.1L246.6 317.8L244.1 321.8Z" fill="#11bbc0"/>
<path d="M238.0 332.3L240.4 329.3L243.5 324.1L241.1 327.5Z" fill="#0cb5cc"/>
<path d="M235.1 335.8L237.5 333.3L240.4 329.3L238.0 332.3Z" fill="#16add6"/>
<path d="M232.5 338.4L234.9 336.1L237.5 333.3L235.1 335.8Z" fill="#1ca8dd"/>
<path d="M229.9 340.4L232.3 338.1L234.9 336.1L232.5 338.4Z" fill="#1fa4e1"/>
<path d="M227.3 341.8L229.7 339.4L232.3 338.1L229.9 340.4Z" fill="#21a1e3"/>
<path d="M225.2 342.1L227.7 339.5L229.7 339.4L227.3 341.8Z" fill="#21a1e3"/>
<path d="M223.5 341.6L225.9 338.5L227.7 339.5L225.2 342.1Z" fill="#1fa3e1"/>
<path d="M221.7 340.5L224.2 336.7L225.9 338.5L223.5 341.6Z" fill="#1ca8dd"/>
<path d="M220.0 338.9L222.5 334.4L224.2 336.7L221.7 340.5Z" fill="#16add7"/>
<path d="M217.4 338.2L219.9 333.4L222.5 334.4L220.0 338.9Z" fill="#12b0d2"/>
<path d="M214.7 337.9L217.2 332.9L219.9 333.4L217.4 338.2Z" fill="#0fb2cf"/>
<path d="M212.0 337.3L214.5 332.3L217.2 332.9L214.7 337.9Z" fill="#0db4cd"/>
<path d="M209.3 336.4L211.8 331.6L214.5 332.3L212.0 337.3Z" fill="#0ab6ca"/>
<path d="M206.6 335.0L209.1 330.6L211.8 331.6L209.3 336.4Z" fill="#0bb8c6"/>
<path d="M203.9 333.1L206.3 329.2L209.1 330.6L206.6 335.0Z" fill="#0fbac2"/>
<path d="M201.1 331.3L203.6 328.0L206.3 329.2L203.9 333.1Z" fill="#13bcbd"/>
<path d="M198.4 330.0L200.9 327.2L203.6 328.0L201.1 331.3Z" fill="#16beba"/>
<path d="M195.7 330.0L198.2 327.5L200.9 327.2L198.4 330.0Z" fill="#17beb8"/>
<path d="M193.0 331.8L195.5 329.3L198.2 327.5L195.7 330.0Z" fill="#17beb9"/>
<path d="M190.3 335.6L192.7 332.6L195.5 329.3L193.0 331.8Z" fill="#13bcbd"/>
<path d="M187.5 340.2L190.0 336.7L192.7 332.6L190.3 335.6Z" fill="#0db9c4"/>
<path d="M184.8 344.6L187.3 340.4L190.0 336.7L187.5 340.2Z" fill="#0cb5cc"/>
<path d="M182.1 347.6L184.6 343.0L187.3 340.4L184.8 344.6Z" fill="#13afd3"/>
<path d="M179.4 348.1L181.9 343.4L184.6 343.0L182.1 347.6Z" fill="#16add7"/>
<path d="M176.7 345.8L179.2 341.3L181.9 343.4L179.4 348.1Z" fill="#12b0d2"/>
<path d="M174.0 341.4L176.4 337.0L179.2 341.3L176.7 345.8Z" fill="#09b7c8"/>
<path d="M171.2 335.3L173.7 330.8L176.4 337.0L174.0 341.4Z" fill="#16bdba"/>
<path d="M168.5 328.4L171.0 323.0L173.7 330.8L171.2 335.3Z" fill="#2ac7a3"/>
<path d="M165.8 321.1L168.3 314.0L171.0 323.0L168.5 328.4Z" fill="#46cf81"/>
<path d="M163.1 313.8L165.6 304.3L168.3 314.0L165.8 321.1Z" fill="#8bcb50"/>
<path d="M160.4 306.3L162.9 297.2L165.6 304.3L163.1 313.8Z" fill="#c8bf32"/>
<path d="M157.6 298.7L160.1 297.7L162.9 297.2L160.4 306.3Z" fill="#ddbb33"/>
<path d="M154.9 297.6L157.4 298.2L160.1 297.7L157.6 298.7Z" fill="#e4bb35"/>
<path d="M285.6 270.4L288.0 271.0L290.7 270.4L288.3 269.8Z" fill="#e5bb35"/>
<path d="M282.9 278.5L285.3 271.5L288.0 271.0L285.6 270.4Z" fill="#e0bb34"/>
<path d="M280.2 294.5L282.6 287.1L285.3 271.5L282.9 278.5Z" fill="#bec234"/>
<ellipse cx="284.0" cy="276.3" rx="1.4" ry="1.0" fill="#000" stroke="none"/>
<path d="M277.5 311.4L279.9 305.6L282.6 287.1L280.2 294.5Z" fill="#48cf80"/>
<path d="M274.8 327.0L277.2 322.7L279.9 305.6L277.5 311.4Z" fill="#15bdbb"/>
<path d="M272.7 338.3L275.1 335.1L277.2 322.7L274.8 327.0Z" fill="#1ca8dd"/>
<path d="M271.5 342.9L273.9 340.5L275.1 335.1L272.7 338.3Z" fill="#2894ed"/>
<path d="M269.7 340.4L272.1 338.1L273.9 340.5L271.5 342.9Z" fill="#2993ee"/>
<path d="M267.1 332.4L269.6 329.4L272.1 338.1L269.7 340.4Z" fill="#20a2e2"/>
<path d="M264.6 321.2L267.0 317.3L269.6 329.4L267.1 332.4Z" fill="#09b7c8"/>
<path d="M261.6 310.8L264.1 306.1L267.0 317.3L264.6 321.2Z" fill="#24c4aa"/>
<path d="M258.7 303.9L261.1 298.7L264.1 306.1L261.6 310.8Z" fill="#3ece8a"/>
<path d="M255.7 302.5L258.2 297.2L261.1 298.7L258.7 303.9Z" fill="#50cf7a"/>
<path d="M252.7 305.3L255.2 300.4L258.2 297.2L255.7 302.5Z" fill="#4fcf7b"/>
<path d="M249.6 311.0L252.1 306.6L255.2 300.4L252.7 305.3Z" fill="#3dce8a"/>
<path d="M246.6 317.8L249.0 314.0L252.1 306.6L249.6 311.0Z" fill="#2cc8a1"/>
<path d="M243.5 324.1L245.9 321.0L249.0 314.0L246.6 317.8Z" fill="#19bfb6"/>
<ellipse cx="245.0" cy="321.4" rx="1.4" ry="1.0" fill="#000" stroke="none"/>
<path d="M240.4 329.3L242.8 326.6L245.9 321.0L243.5 324.1Z" fill="#0db9c3"/>
<path d="M237.5 333.3L239.9 330.8L242.8 326.6L240.4 329.3Z" fill="#0fb3ce"/>
<path d="M234.9 336.1L237.3 333.7L239.9 330.8L237.5 333.3Z" fill="#16add6"/>
<path d="M232.3 338.1L234.7 335.7L237.3 333.7L234.9 336.1Z" fill="#1baadb"/>
<path d="M229.7 339.4L232.1 336.9L234.7 335.7L232.3 338.1Z" fill="#1da7de"/>
<ellipse cx="232.0" cy="338.0" rx="1.4" ry="1.0" fill="#000" stroke="none"/>
<path d="M227.7 339.5L230.1 336.5L232.1 336.9L229.7 339.4Z" fill="#1ca8dd"/>
<path d="M225.9 338.5L228.4 334.9L230.1 336.5L227.7 339.5Z" fill="#19abd9"/>
<path d="M224.2 336.7L226.6 332.3L228.4 334.9L225.9 338.5Z" fill="#12b0d2"/>
<path d="M222.5 334.4L224.9 329.1L226.6 332.3L224.2 336.7Z" fill="#0ab6c9"/>
<path d="M219.9 333.4L222.4 327.6L224.9 329.1L222.5 334.4Z" fill="#0db9c4"/>
<path d="M217.2 332.9L219.7 327.0L222.4 327.6L219.9 333.4Z" fill="#10bac1"/>
<path d="M214.5 332.3L217.0 326.5L219.7 327.0L217.2 332.9Z" fill="#12bbbe"/>
<path d="M211.8 331.6L214.3 326.1L217.0 326.5L214.5 332.3Z" fill="#14bcbc"/>
<path d="M209.1 330.6L211.5 325.7L214.3 326.1L211.8 331.6Z" fill="#16bdba"/>
<path d="M206.3 329.2L208.8 325.3L211.5 325.7L209.1 330.6Z" fill="#18bfb7"/>
<path d="M203.6 328.0L206.1 325.0L208.8 325.3L206.3 329.2Z" fill="#1bc0b4"/>
<path d="M200.9 327.2L203.4 325.1L206.1 325.0L203.6 328.0Z" fill="#1ec1b1"/>
<path d="M198.2 327.5L200.7 325.9L203.4 325.1L200.9 327.2Z" fill="#1ec1b0"/>
<path d="M195.5 329.3L198.0 327.7L200.7 325.9L198.2 327.5Z" fill="#1dc1b2"/>
<path d="M192.7 332.6L195.2 330.4L198.0 327.7L195.5 329.3Z" fill="#19bfb7"/>
<path d="M190.0 336.7L192.5 333.5L195.2 330.4L192.7 332.6Z" fill="#14bcbc"/>
<path d="M187.3 340.4L189.8 336.3L192.5 333.5L190.0 336.7Z" fill="#0ebac2"/>
<path d="M184.6 343.0L187.1 338.2L189.8 336.3L187.3 340.4Z" fill="#0ab8c7"/>
<path d="M181.9 343.4L184.4 338.4L187.1 338.2L184.6 343.0Z" fill="#0ab6c9"/>
<path d="M179.2 341.3L181.6 336.7L184.4 338.4L181.9 343.4Z" fill="#0bb8c6"/>
<path d="M176.4 337.0L178.9 332.9L181.6 336.7L179.2 341.3Z" fill="#13bcbd"/>
<path d="M173.7 330.8L176.2 327.0L178.9 332.9L176.4 337.0Z" fill="#21c3ad"/>
<path d="M171.0 323.0L173.5 318.7L176.2 327.0L173.7 330.8Z" fill="#39cd90"/>
<path d="M168.3 314.0L170.8 308.2L173.5 318.7L171.0 323.0Z" fill="#71ce64"/>
<path d="M165.6 304.3L168.1 297.2L170.8 308.2L168.3 314.0Z" fill="#c6bf32"/>
<path d="M162.9 297.2L165.3 297.7L168.1 297.2L165.6 304.3Z" fill="#dfbb34"/>
<path d="M160.1 297.7L162.6 298.3L165.3 297.7L162.9 297.2Z" fill="#e5bb35"/>
<path d="M157.4 298.2L159.9 298.8L162.6 298.3L160.1 297.7Z" fill="#e5bb35"/>
<ellipse cx="137.8" cy="396.6" rx="1.4" ry="1.0" fill="#000" stroke="none"/>
</g>
<text x="28.7" y="392.1" text-anchor="middle" fill="#000" font-size="10.5" >-20</text>
<text x="54.4" y="399.5" text-anchor="middle" fill="#000" font-size="10.5" >0</text>
<text x="70.7" y="405.7" text-anchor="middle" fill="#000" font-size="10.5" >20</text>
<text x="96.2" y="410.7" text-anchor="middle" fill="#000" font-size="10.5" >40</text>
<text x="119.6" y="416.2" text-anchor="middle" fill="#000" font-size="10.5" >60</text>
<text x="140.6" y="421.1" text-anchor="middle" fill="#000" font-size="10.5" >80</text>
<text x="200.4" y="416.7" text-anchor="middle" fill="#000" font-size="10.5" >20</text>
<text x="227.3" y="410.4" text-anchor="middle" fill="#000" font-size="10.5" >40</text>
<text x="252" y="406.1" text-anchor="middle" fill="#000" font-size="10.5" >60</text>
<text x="278" y="401.6" text-anchor="middle" fill="#000" font-size="10.5" >80</text>
<text x="303.2" y="394" text-anchor="middle" fill="#000" font-size="10.5" >100</text>
<text x="28.9" y="297.5" text-anchor="end" fill="#000" font-size="10.5" >5</text>
<text x="28.9" y="326.8" text-anchor="end" fill="#000" font-size="10.5" >0</text>
<text x="28.9" y="355.9" text-anchor="end" fill="#000" font-size="10.5" >-5</text>
<text transform="translate(9.8,323.5) rotate(-90)" text-anchor="middle" fill="#000" font-size="10.5" >Fitting errors (Pa)</text>
<text x="27.2" y="426.8" text-anchor="start" fill="#000" font-size="10.5" >Temperature (°C)</text>
<text x="230.3" y="427.4" text-anchor="start" fill="#000" font-size="10.5" >Pressure (kPa)</text>
<text x="-0.6" y="238.2" text-anchor="start" fill="#000" font-size="14.5" font-weight="bold">c</text>
<defs><linearGradient id="cb" x1="0" y1="0" x2="0" y2="1"><stop offset="0.000" stop-color="#f9fb15"/><stop offset="0.025" stop-color="#f6f618"/><stop offset="0.050" stop-color="#f5ee1d"/><stop offset="0.075" stop-color="#f7e425"/><stop offset="0.100" stop-color="#fad92c"/><stop offset="0.125" stop-color="#fecd34"/><stop offset="0.150" stop-color="#fdc33a"/><stop offset="0.175" stop-color="#f8bd3b"/><stop offset="0.200" stop-color="#edba37"/><stop offset="0.225" stop-color="#dbbc33"/><stop offset="0.250" stop-color="#c7bf32"/><stop offset="0.275" stop-color="#b0c538"/><stop offset="0.300" stop-color="#94ca4a"/><stop offset="0.325" stop-color="#77cd60"/><stop offset="0.350" stop-color="#5ecf71"/><stop offset="0.375" stop-color="#47cf81"/><stop offset="0.400" stop-color="#3acd8f"/><stop offset="0.425" stop-color="#30ca9c"/><stop offset="0.450" stop-color="#26c5a8"/><stop offset="0.475" stop-color="#1cc0b3"/><stop offset="0.500" stop-color="#14bdbc"/><stop offset="0.525" stop-color="#0db9c4"/><stop offset="0.550" stop-color="#0cb5cc"/><stop offset="0.575" stop-color="#14afd4"/><stop offset="0.600" stop-color="#1ca9dd"/><stop offset="0.625" stop-color="#21a1e3"/><stop offset="0.650" stop-color="#259ae9"/><stop offset="0.675" stop-color="#2993ee"/><stop offset="0.700" stop-color="#2b8cf3"/><stop offset="0.725" stop-color="#2f85f7"/><stop offset="0.750" stop-color="#377bfa"/><stop offset="0.775" stop-color="#3f72fd"/><stop offset="0.800" stop-color="#4468fd"/><stop offset="0.825" stop-color="#455ff9"/><stop offset="0.850" stop-color="#4756f6"/><stop offset="0.875" stop-color="#474dec"/><stop offset="0.900" stop-color="#4545df"/><stop offset="0.925" stop-color="#443dd2"/><stop offset="0.950" stop-color="#4235c4"/><stop offset="0.975" stop-color="#402eb6"/><stop offset="1.000" stop-color="#3e26a8"/></linearGradient></defs>
<rect x="322.3" y="241" width="14.4" height="168.4" fill="url(#cb)" stroke="#404040" stroke-width="0.5"/>
<line x1="335" y1="272" x2="336.7" y2="272" stroke="#262626" stroke-width="0.6" />
<text x="341.3" y="275.7" text-anchor="start" fill="#000" font-size="10.5" >10</text>
<line x1="335" y1="307.1" x2="336.7" y2="307.1" stroke="#262626" stroke-width="0.6" />
<text x="341.3" y="310.8" text-anchor="start" fill="#000" font-size="10.5" >5</text>
<line x1="335" y1="342" x2="336.7" y2="342" stroke="#262626" stroke-width="0.6" />
<text x="341.3" y="345.7" text-anchor="start" fill="#000" font-size="10.5" >0</text>
<line x1="335" y1="377.1" x2="336.7" y2="377.1" stroke="#262626" stroke-width="0.6" />
<text x="341.3" y="380.8" text-anchor="start" fill="#000" font-size="10.5" >-5</text>
<line x1="76.4" y1="176.1" x2="79.6" y2="176.1" stroke="#000" stroke-width="1" />
<text x="72.3" y="179.8" text-anchor="end" fill="#000" font-size="10.5" >30,000</text>
<line x1="77.8" y1="171.95" x2="79.6" y2="171.95" stroke="#000" stroke-width="0.8" />
<line x1="77.8" y1="167.81" x2="79.6" y2="167.81" stroke="#000" stroke-width="0.8" />
<line x1="77.8" y1="163.66" x2="79.6" y2="163.66" stroke="#000" stroke-width="0.8" />
<line x1="77.8" y1="159.52" x2="79.6" y2="159.52" stroke="#000" stroke-width="0.8" />
<line x1="76.4" y1="155.38" x2="79.6" y2="155.38" stroke="#000" stroke-width="1" />
<text x="72.3" y="159.07" text-anchor="end" fill="#000" font-size="10.5" >35,000</text>
<line x1="77.8" y1="151.23" x2="79.6" y2="151.23" stroke="#000" stroke-width="0.8" />
<line x1="77.8" y1="147.09" x2="79.6" y2="147.09" stroke="#000" stroke-width="0.8" />
<line x1="77.8" y1="142.94" x2="79.6" y2="142.94" stroke="#000" stroke-width="0.8" />
<line x1="77.8" y1="138.79" x2="79.6" y2="138.79" stroke="#000" stroke-width="0.8" />
<line x1="76.4" y1="134.65" x2="79.6" y2="134.65" stroke="#000" stroke-width="1" />
<text x="72.3" y="138.35" text-anchor="end" fill="#000" font-size="10.5" >40,000</text>
<line x1="77.8" y1="130.5" x2="79.6" y2="130.5" stroke="#000" stroke-width="0.8" />
<line x1="77.8" y1="126.36" x2="79.6" y2="126.36" stroke="#000" stroke-width="0.8" />
<line x1="77.8" y1="122.22" x2="79.6" y2="122.22" stroke="#000" stroke-width="0.8" />
<line x1="77.8" y1="118.07" x2="79.6" y2="118.07" stroke="#000" stroke-width="0.8" />
<line x1="76.4" y1="113.92" x2="79.6" y2="113.92" stroke="#000" stroke-width="1" />
<text x="72.3" y="117.62" text-anchor="end" fill="#000" font-size="10.5" >45,000</text>
<line x1="77.8" y1="109.78" x2="79.6" y2="109.78" stroke="#000" stroke-width="0.8" />
<line x1="77.8" y1="105.64" x2="79.6" y2="105.64" stroke="#000" stroke-width="0.8" />
<line x1="77.8" y1="101.49" x2="79.6" y2="101.49" stroke="#000" stroke-width="0.8" />
<line x1="77.8" y1="97.35" x2="79.6" y2="97.35" stroke="#000" stroke-width="0.8" />
<line x1="76.4" y1="93.2" x2="79.6" y2="93.2" stroke="#000" stroke-width="1" />
<text x="72.3" y="96.9" text-anchor="end" fill="#000" font-size="10.5" >50,000</text>
<line x1="77.8" y1="89.05" x2="79.6" y2="89.05" stroke="#000" stroke-width="0.8" />
<line x1="77.8" y1="84.91" x2="79.6" y2="84.91" stroke="#000" stroke-width="0.8" />
<line x1="77.8" y1="80.77" x2="79.6" y2="80.77" stroke="#000" stroke-width="0.8" />
<line x1="77.8" y1="76.62" x2="79.6" y2="76.62" stroke="#000" stroke-width="0.8" />
<line x1="76.4" y1="72.48" x2="79.6" y2="72.48" stroke="#000" stroke-width="1" />
<text x="72.3" y="76.18" text-anchor="end" fill="#000" font-size="10.5" >55,000</text>
<line x1="77.8" y1="68.33" x2="79.6" y2="68.33" stroke="#000" stroke-width="0.8" />
<line x1="77.8" y1="64.19" x2="79.6" y2="64.19" stroke="#000" stroke-width="0.8" />
<line x1="77.8" y1="60.04" x2="79.6" y2="60.04" stroke="#000" stroke-width="0.8" />
<line x1="77.8" y1="55.9" x2="79.6" y2="55.9" stroke="#000" stroke-width="0.8" />
<line x1="76.4" y1="51.75" x2="79.6" y2="51.75" stroke="#000" stroke-width="1" />
<text x="72.3" y="55.45" text-anchor="end" fill="#000" font-size="10.5" >60,000</text>
<line x1="77.8" y1="47.6" x2="79.6" y2="47.6" stroke="#000" stroke-width="0.8" />
<line x1="77.8" y1="43.46" x2="79.6" y2="43.46" stroke="#000" stroke-width="0.8" />
<line x1="77.8" y1="39.32" x2="79.6" y2="39.32" stroke="#000" stroke-width="0.8" />
<line x1="77.8" y1="35.17" x2="79.6" y2="35.17" stroke="#000" stroke-width="0.8" />
<line x1="76.4" y1="31.03" x2="79.6" y2="31.03" stroke="#000" stroke-width="1" />
<text x="72.3" y="34.73" text-anchor="end" fill="#000" font-size="10.5" >65,000</text>
<line x1="77.8" y1="26.88" x2="79.6" y2="26.88" stroke="#000" stroke-width="0.8" />
<line x1="77.8" y1="22.74" x2="79.6" y2="22.74" stroke="#000" stroke-width="0.8" />
<line x1="77.8" y1="18.59" x2="79.6" y2="18.59" stroke="#000" stroke-width="0.8" />
<line x1="77.8" y1="14.45" x2="79.6" y2="14.45" stroke="#000" stroke-width="0.8" />
<line x1="76.4" y1="10.3" x2="79.6" y2="10.3" stroke="#000" stroke-width="1" />
<text x="72.3" y="14" text-anchor="end" fill="#000" font-size="10.5" >70,000</text>
<line x1="281.8" y1="176.1" x2="285" y2="176.1" stroke="#ff0000" stroke-width="1" />
<text x="289.4" y="179.8" text-anchor="start" fill="#ff0000" font-size="10.5" >150,000</text>
<line x1="281.8" y1="172.42" x2="283.6" y2="172.42" stroke="#ff0000" stroke-width="0.8" />
<line x1="281.8" y1="168.73" x2="283.6" y2="168.73" stroke="#ff0000" stroke-width="0.8" />
<line x1="281.8" y1="165.05" x2="283.6" y2="165.05" stroke="#ff0000" stroke-width="0.8" />
<line x1="281.8" y1="161.36" x2="283.6" y2="161.36" stroke="#ff0000" stroke-width="0.8" />
<line x1="281.8" y1="157.68" x2="285" y2="157.68" stroke="#ff0000" stroke-width="1" />
<text x="289.4" y="161.38" text-anchor="start" fill="#ff0000" font-size="10.5" >152,000</text>
<line x1="281.8" y1="153.99" x2="283.6" y2="153.99" stroke="#ff0000" stroke-width="0.8" />
<line x1="281.8" y1="150.31" x2="283.6" y2="150.31" stroke="#ff0000" stroke-width="0.8" />
<line x1="281.8" y1="146.62" x2="283.6" y2="146.62" stroke="#ff0000" stroke-width="0.8" />
<line x1="281.8" y1="142.94" x2="283.6" y2="142.94" stroke="#ff0000" stroke-width="0.8" />
<line x1="281.8" y1="139.26" x2="285" y2="139.26" stroke="#ff0000" stroke-width="1" />
<text x="289.4" y="142.96" text-anchor="start" fill="#ff0000" font-size="10.5" >154,000</text>
<line x1="281.8" y1="135.57" x2="283.6" y2="135.57" stroke="#ff0000" stroke-width="0.8" />
<line x1="281.8" y1="131.89" x2="283.6" y2="131.89" stroke="#ff0000" stroke-width="0.8" />
<line x1="281.8" y1="128.2" x2="283.6" y2="128.2" stroke="#ff0000" stroke-width="0.8" />
<line x1="281.8" y1="124.52" x2="283.6" y2="124.52" stroke="#ff0000" stroke-width="0.8" />
<line x1="281.8" y1="120.83" x2="285" y2="120.83" stroke="#ff0000" stroke-width="1" />
<text x="289.4" y="124.53" text-anchor="start" fill="#ff0000" font-size="10.5" >156,000</text>
<line x1="281.8" y1="117.15" x2="283.6" y2="117.15" stroke="#ff0000" stroke-width="0.8" />
<line x1="281.8" y1="113.46" x2="283.6" y2="113.46" stroke="#ff0000" stroke-width="0.8" />
<line x1="281.8" y1="109.78" x2="283.6" y2="109.78" stroke="#ff0000" stroke-width="0.8" />
<line x1="281.8" y1="106.1" x2="283.6" y2="106.1" stroke="#ff0000" stroke-width="0.8" />
<line x1="281.8" y1="102.41" x2="285" y2="102.41" stroke="#ff0000" stroke-width="1" />
<text x="289.4" y="106.11" text-anchor="start" fill="#ff0000" font-size="10.5" >158,000</text>
<line x1="281.8" y1="98.73" x2="283.6" y2="98.73" stroke="#ff0000" stroke-width="0.8" />
<line x1="281.8" y1="95.04" x2="283.6" y2="95.04" stroke="#ff0000" stroke-width="0.8" />
<line x1="281.8" y1="91.36" x2="283.6" y2="91.36" stroke="#ff0000" stroke-width="0.8" />
<line x1="281.8" y1="87.67" x2="283.6" y2="87.67" stroke="#ff0000" stroke-width="0.8" />
<line x1="281.8" y1="83.99" x2="285" y2="83.99" stroke="#ff0000" stroke-width="1" />
<text x="289.4" y="87.69" text-anchor="start" fill="#ff0000" font-size="10.5" >160,000</text>
<line x1="281.8" y1="80.3" x2="283.6" y2="80.3" stroke="#ff0000" stroke-width="0.8" />
<line x1="281.8" y1="76.62" x2="283.6" y2="76.62" stroke="#ff0000" stroke-width="0.8" />
<line x1="281.8" y1="72.94" x2="283.6" y2="72.94" stroke="#ff0000" stroke-width="0.8" />
<line x1="281.8" y1="69.25" x2="283.6" y2="69.25" stroke="#ff0000" stroke-width="0.8" />
<line x1="281.8" y1="65.57" x2="285" y2="65.57" stroke="#ff0000" stroke-width="1" />
<text x="289.4" y="69.27" text-anchor="start" fill="#ff0000" font-size="10.5" >162,000</text>
<line x1="281.8" y1="61.88" x2="283.6" y2="61.88" stroke="#ff0000" stroke-width="0.8" />
<line x1="281.8" y1="58.2" x2="283.6" y2="58.2" stroke="#ff0000" stroke-width="0.8" />
<line x1="281.8" y1="54.51" x2="283.6" y2="54.51" stroke="#ff0000" stroke-width="0.8" />
<line x1="281.8" y1="50.83" x2="283.6" y2="50.83" stroke="#ff0000" stroke-width="0.8" />
<line x1="281.8" y1="47.14" x2="285" y2="47.14" stroke="#ff0000" stroke-width="1" />
<text x="289.4" y="50.84" text-anchor="start" fill="#ff0000" font-size="10.5" >164,000</text>
<line x1="281.8" y1="43.46" x2="283.6" y2="43.46" stroke="#ff0000" stroke-width="0.8" />
<line x1="281.8" y1="39.78" x2="283.6" y2="39.78" stroke="#ff0000" stroke-width="0.8" />
<line x1="281.8" y1="36.09" x2="283.6" y2="36.09" stroke="#ff0000" stroke-width="0.8" />
<line x1="281.8" y1="32.41" x2="283.6" y2="32.41" stroke="#ff0000" stroke-width="0.8" />
<line x1="281.8" y1="28.72" x2="285" y2="28.72" stroke="#ff0000" stroke-width="1" />
<text x="289.4" y="32.42" text-anchor="start" fill="#ff0000" font-size="10.5" >166,000</text>
<line x1="281.8" y1="25.04" x2="283.6" y2="25.04" stroke="#ff0000" stroke-width="0.8" />
<line x1="281.8" y1="21.35" x2="283.6" y2="21.35" stroke="#ff0000" stroke-width="0.8" />
<line x1="281.8" y1="17.67" x2="283.6" y2="17.67" stroke="#ff0000" stroke-width="0.8" />
<line x1="281.8" y1="13.98" x2="283.6" y2="13.98" stroke="#ff0000" stroke-width="0.8" />
<line x1="281.8" y1="10.3" x2="285" y2="10.3" stroke="#ff0000" stroke-width="1" />
<text x="289.4" y="14" text-anchor="start" fill="#ff0000" font-size="10.5" >168,000</text>
<line x1="79.6" y1="176.1" x2="79.6" y2="179.1" stroke="#000" stroke-width="1" />
<text x="79.6" y="193.1" text-anchor="middle" fill="#000" font-size="10.5" >0</text>
<line x1="87.3" y1="176.1" x2="87.3" y2="178.1" stroke="#000" stroke-width="0.8" />
<line x1="95.01" y1="176.1" x2="95.01" y2="178.1" stroke="#000" stroke-width="0.8" />
<line x1="102.71" y1="176.1" x2="102.71" y2="178.1" stroke="#000" stroke-width="0.8" />
<line x1="110.41" y1="176.1" x2="110.41" y2="178.1" stroke="#000" stroke-width="0.8" />
<line x1="118.11" y1="176.1" x2="118.11" y2="179.1" stroke="#000" stroke-width="1" />
<text x="118.11" y="193.1" text-anchor="middle" fill="#000" font-size="10.5" >20</text>
<line x1="125.82" y1="176.1" x2="125.82" y2="178.1" stroke="#000" stroke-width="0.8" />
<line x1="133.52" y1="176.1" x2="133.52" y2="178.1" stroke="#000" stroke-width="0.8" />
<line x1="141.22" y1="176.1" x2="141.22" y2="178.1" stroke="#000" stroke-width="0.8" />
<line x1="148.93" y1="176.1" x2="148.93" y2="178.1" stroke="#000" stroke-width="0.8" />
<line x1="156.63" y1="176.1" x2="156.63" y2="179.1" stroke="#000" stroke-width="1" />
<text x="156.63" y="193.1" text-anchor="middle" fill="#000" font-size="10.5" >40</text>
<line x1="164.33" y1="176.1" x2="164.33" y2="178.1" stroke="#000" stroke-width="0.8" />
<line x1="172.03" y1="176.1" x2="172.03" y2="178.1" stroke="#000" stroke-width="0.8" />
<line x1="179.74" y1="176.1" x2="179.74" y2="178.1" stroke="#000" stroke-width="0.8" />
<line x1="187.44" y1="176.1" x2="187.44" y2="178.1" stroke="#000" stroke-width="0.8" />
<line x1="195.14" y1="176.1" x2="195.14" y2="179.1" stroke="#000" stroke-width="1" />
<text x="195.14" y="193.1" text-anchor="middle" fill="#000" font-size="10.5" >60</text>
<line x1="202.85" y1="176.1" x2="202.85" y2="178.1" stroke="#000" stroke-width="0.8" />
<line x1="210.55" y1="176.1" x2="210.55" y2="178.1" stroke="#000" stroke-width="0.8" />
<line x1="218.25" y1="176.1" x2="218.25" y2="178.1" stroke="#000" stroke-width="0.8" />
<line x1="225.95" y1="176.1" x2="225.95" y2="178.1" stroke="#000" stroke-width="0.8" />
<line x1="233.66" y1="176.1" x2="233.66" y2="179.1" stroke="#000" stroke-width="1" />
<text x="233.66" y="193.1" text-anchor="middle" fill="#000" font-size="10.5" >80</text>
<line x1="241.36" y1="176.1" x2="241.36" y2="178.1" stroke="#000" stroke-width="0.8" />
<line x1="249.06" y1="176.1" x2="249.06" y2="178.1" stroke="#000" stroke-width="0.8" />
<line x1="256.77" y1="176.1" x2="256.77" y2="178.1" stroke="#000" stroke-width="0.8" />
<line x1="264.47" y1="176.1" x2="264.47" y2="178.1" stroke="#000" stroke-width="0.8" />
<line x1="272.17" y1="176.1" x2="272.17" y2="179.1" stroke="#000" stroke-width="1" />
<text x="272.17" y="193.1" text-anchor="middle" fill="#000" font-size="10.5" >100</text>
<line x1="279.87" y1="176.1" x2="279.87" y2="178.1" stroke="#000" stroke-width="0.8" />
<line x1="79.6" y1="10.3" x2="281.8" y2="10.3" stroke="#595959" stroke-width="1" />
<line x1="79.6" y1="9.8" x2="79.6" y2="176.6" stroke="#000" stroke-width="1.1" />
<line x1="79.1" y1="176.1" x2="282.3" y2="176.1" stroke="#000" stroke-width="1.1" />
<line x1="281.8" y1="9.8" x2="281.8" y2="176.6" stroke="#ff0000" stroke-width="1.1" />
<text transform="translate(29.2,93.2) rotate(-90)" text-anchor="middle" fill="#000" font-size="10.5" >Frequency (Hz)</text>
<text transform="translate(340.6,93.2) rotate(-90)" text-anchor="middle" fill="#ff0000" font-size="10.5" >Frequency (Hz)</text>
<text x="180.7" y="210.3" text-anchor="middle" fill="#000" font-size="10.5" >Pressure (kPa)</text>
<text x="20.4" y="10.5" text-anchor="start" fill="#000" font-size="14.5" font-weight="bold">a</text>
<polyline points="89.23,161.8 98.86,154.42 118.11,139.66 137.37,124.9 156.63,110.15 175.89,95.39 195.14,80.64 214.4,65.88 233.66,51.12 252.91,36.37 272.17,21.61" fill="none" stroke="#ff0000" stroke-width="1.6" stroke-linejoin="round" />
<path d="M86.03 164.33L92.43 164.33L89.23 158.7Z" fill="#ff0000"/>
<path d="M95.66 156.95L102.06 156.95L98.86 151.32Z" fill="#ff0000"/>
<path d="M114.91 142.2L121.31 142.2L118.11 136.56Z" fill="#ff0000"/>
<path d="M134.17 127.44L140.57 127.44L137.37 121.81Z" fill="#ff0000"/>
<path d="M153.43 112.68L159.83 112.68L156.63 107.05Z" fill="#ff0000"/>
<path d="M172.69 97.93L179.09 97.93L175.89 92.29Z" fill="#ff0000"/>
<path d="M191.94 83.17L198.34 83.17L195.14 77.54Z" fill="#ff0000"/>
<path d="M211.2 68.41L217.6 68.41L214.4 62.78Z" fill="#ff0000"/>
<path d="M230.46 53.66L236.86 53.66L233.66 48.03Z" fill="#ff0000"/>
<path d="M249.71 38.9L256.11 38.9L252.91 33.27Z" fill="#ff0000"/>
<path d="M268.97 24.15L275.37 24.15L272.17 18.51Z" fill="#ff0000"/>
<polyline points="89.23,79.4 98.86,77.01 118.11,72.24 137.37,67.46 156.63,62.68 175.89,57.91 195.14,53.13 214.4,48.35 233.66,43.58 252.91,38.8 272.17,34.02" fill="none" stroke="#000" stroke-width="1.6" stroke-linejoin="round" />
<rect x="86.43" y="76.6" width="5.6" height="5.6" fill="#000"/>
<rect x="96.06" y="74.21" width="5.6" height="5.6" fill="#000"/>
<rect x="115.31" y="69.44" width="5.6" height="5.6" fill="#000"/>
<rect x="134.57" y="64.66" width="5.6" height="5.6" fill="#000"/>
<rect x="153.83" y="59.88" width="5.6" height="5.6" fill="#000"/>
<rect x="173.09" y="55.11" width="5.6" height="5.6" fill="#000"/>
<rect x="192.34" y="50.33" width="5.6" height="5.6" fill="#000"/>
<rect x="211.6" y="45.55" width="5.6" height="5.6" fill="#000"/>
<rect x="230.86" y="40.78" width="5.6" height="5.6" fill="#000"/>
<rect x="250.11" y="36" width="5.6" height="5.6" fill="#000"/>
<rect x="269.37" y="31.22" width="5.6" height="5.6" fill="#000"/>
<line x1="85.4" y1="18.7" x2="103.6" y2="18.7" stroke="#000" stroke-width="1.6" />
<rect x="91.7" y="15.9" width="5.6" height="5.6" fill="#000"/>
<text x="110" y="22.5" text-anchor="start" fill="#000" font-size="10.5" >1st mode</text>
<line x1="155.3" y1="18.7" x2="174.6" y2="18.7" stroke="#ff0000" stroke-width="1.6" />
<path d="M161.8 21.23L168.2 21.23L165 15.6Z" fill="#ff0000"/>
<text x="179.4" y="22.5" text-anchor="start" fill="#000" font-size="10.5" >2nd mode</text>
<text x="88" y="41.6" text-anchor="start" fill="#000" font-size="10.5" >y = 115.24x + 52,753</text>
<text x="110" y="54.6" text-anchor="start" fill="#000" font-size="10.5" >R<tspan dy="-4.3" font-size="7">2</tspan><tspan dy="4.3"> = 0.9993</tspan></text>
<text x="150.8" y="123.8" text-anchor="start" fill="#ff0000" font-size="10.5" >y = 160.2x + 150,752</text>
<text x="173.3" y="137.6" text-anchor="start" fill="#ff0000" font-size="10.5" >R<tspan dy="-4.3" font-size="7">2</tspan><tspan dy="4.3"> = 0.9998</tspan></text>
<line x1="419.3" y1="176.1" x2="422.5" y2="176.1" stroke="#000" stroke-width="1" />
<text x="415.8" y="179.8" text-anchor="end" fill="#000" font-size="10.5" >53,100</text>
<line x1="420.7" y1="172.78" x2="422.5" y2="172.78" stroke="#000" stroke-width="0.8" />
<line x1="420.7" y1="169.47" x2="422.5" y2="169.47" stroke="#000" stroke-width="0.8" />
<line x1="420.7" y1="166.15" x2="422.5" y2="166.15" stroke="#000" stroke-width="0.8" />
<line x1="420.7" y1="162.84" x2="422.5" y2="162.84" stroke="#000" stroke-width="0.8" />
<line x1="419.3" y1="159.52" x2="422.5" y2="159.52" stroke="#000" stroke-width="1" />
<text x="415.8" y="163.22" text-anchor="end" fill="#000" font-size="10.5" >53,120</text>
<line x1="420.7" y1="156.2" x2="422.5" y2="156.2" stroke="#000" stroke-width="0.8" />
<line x1="420.7" y1="152.89" x2="422.5" y2="152.89" stroke="#000" stroke-width="0.8" />
<line x1="420.7" y1="149.57" x2="422.5" y2="149.57" stroke="#000" stroke-width="0.8" />
<line x1="420.7" y1="146.26" x2="422.5" y2="146.26" stroke="#000" stroke-width="0.8" />
<line x1="419.3" y1="142.94" x2="422.5" y2="142.94" stroke="#000" stroke-width="1" />
<text x="415.8" y="146.64" text-anchor="end" fill="#000" font-size="10.5" >53,140</text>
<line x1="420.7" y1="139.62" x2="422.5" y2="139.62" stroke="#000" stroke-width="0.8" />
<line x1="420.7" y1="136.31" x2="422.5" y2="136.31" stroke="#000" stroke-width="0.8" />
<line x1="420.7" y1="132.99" x2="422.5" y2="132.99" stroke="#000" stroke-width="0.8" />
<line x1="420.7" y1="129.68" x2="422.5" y2="129.68" stroke="#000" stroke-width="0.8" />
<line x1="419.3" y1="126.36" x2="422.5" y2="126.36" stroke="#000" stroke-width="1" />
<text x="415.8" y="130.06" text-anchor="end" fill="#000" font-size="10.5" >53,160</text>
<line x1="420.7" y1="123.04" x2="422.5" y2="123.04" stroke="#000" stroke-width="0.8" />
<line x1="420.7" y1="119.73" x2="422.5" y2="119.73" stroke="#000" stroke-width="0.8" />
<line x1="420.7" y1="116.41" x2="422.5" y2="116.41" stroke="#000" stroke-width="0.8" />
<line x1="420.7" y1="113.1" x2="422.5" y2="113.1" stroke="#000" stroke-width="0.8" />
<line x1="419.3" y1="109.78" x2="422.5" y2="109.78" stroke="#000" stroke-width="1" />
<text x="415.8" y="113.48" text-anchor="end" fill="#000" font-size="10.5" >53,180</text>
<line x1="420.7" y1="106.46" x2="422.5" y2="106.46" stroke="#000" stroke-width="0.8" />
<line x1="420.7" y1="103.15" x2="422.5" y2="103.15" stroke="#000" stroke-width="0.8" />
<line x1="420.7" y1="99.83" x2="422.5" y2="99.83" stroke="#000" stroke-width="0.8" />
<line x1="420.7" y1="96.52" x2="422.5" y2="96.52" stroke="#000" stroke-width="0.8" />
<line x1="419.3" y1="93.2" x2="422.5" y2="93.2" stroke="#000" stroke-width="1" />
<text x="415.8" y="96.9" text-anchor="end" fill="#000" font-size="10.5" >53,200</text>
<line x1="420.7" y1="89.88" x2="422.5" y2="89.88" stroke="#000" stroke-width="0.8" />
<line x1="420.7" y1="86.57" x2="422.5" y2="86.57" stroke="#000" stroke-width="0.8" />
<line x1="420.7" y1="83.25" x2="422.5" y2="83.25" stroke="#000" stroke-width="0.8" />
<line x1="420.7" y1="79.94" x2="422.5" y2="79.94" stroke="#000" stroke-width="0.8" />
<line x1="419.3" y1="76.62" x2="422.5" y2="76.62" stroke="#000" stroke-width="1" />
<text x="415.8" y="80.32" text-anchor="end" fill="#000" font-size="10.5" >53,220</text>
<line x1="420.7" y1="73.3" x2="422.5" y2="73.3" stroke="#000" stroke-width="0.8" />
<line x1="420.7" y1="69.99" x2="422.5" y2="69.99" stroke="#000" stroke-width="0.8" />
<line x1="420.7" y1="66.67" x2="422.5" y2="66.67" stroke="#000" stroke-width="0.8" />
<line x1="420.7" y1="63.36" x2="422.5" y2="63.36" stroke="#000" stroke-width="0.8" />
<line x1="419.3" y1="60.04" x2="422.5" y2="60.04" stroke="#000" stroke-width="1" />
<text x="415.8" y="63.74" text-anchor="end" fill="#000" font-size="10.5" >53,240</text>
<line x1="420.7" y1="56.72" x2="422.5" y2="56.72" stroke="#000" stroke-width="0.8" />
<line x1="420.7" y1="53.41" x2="422.5" y2="53.41" stroke="#000" stroke-width="0.8" />
<line x1="420.7" y1="50.09" x2="422.5" y2="50.09" stroke="#000" stroke-width="0.8" />
<line x1="420.7" y1="46.78" x2="422.5" y2="46.78" stroke="#000" stroke-width="0.8" />
<line x1="419.3" y1="43.46" x2="422.5" y2="43.46" stroke="#000" stroke-width="1" />
<text x="415.8" y="47.16" text-anchor="end" fill="#000" font-size="10.5" >53,260</text>
<line x1="420.7" y1="40.14" x2="422.5" y2="40.14" stroke="#000" stroke-width="0.8" />
<line x1="420.7" y1="36.83" x2="422.5" y2="36.83" stroke="#000" stroke-width="0.8" />
<line x1="420.7" y1="33.51" x2="422.5" y2="33.51" stroke="#000" stroke-width="0.8" />
<line x1="420.7" y1="30.2" x2="422.5" y2="30.2" stroke="#000" stroke-width="0.8" />
<line x1="419.3" y1="26.88" x2="422.5" y2="26.88" stroke="#000" stroke-width="1" />
<text x="415.8" y="30.58" text-anchor="end" fill="#000" font-size="10.5" >53,280</text>
<line x1="420.7" y1="23.56" x2="422.5" y2="23.56" stroke="#000" stroke-width="0.8" />
<line x1="420.7" y1="20.25" x2="422.5" y2="20.25" stroke="#000" stroke-width="0.8" />
<line x1="420.7" y1="16.93" x2="422.5" y2="16.93" stroke="#000" stroke-width="0.8" />
<line x1="420.7" y1="13.62" x2="422.5" y2="13.62" stroke="#000" stroke-width="0.8" />
<line x1="419.3" y1="10.3" x2="422.5" y2="10.3" stroke="#000" stroke-width="1" />
<text x="415.8" y="14" text-anchor="end" fill="#000" font-size="10.5" >53,300</text>
<line x1="623.8" y1="176.1" x2="627" y2="176.1" stroke="#ff0000" stroke-width="1" />
<text x="633" y="179.8" text-anchor="start" fill="#ff0000" font-size="10.5" >151,250</text>
<line x1="623.8" y1="170.57" x2="625.6" y2="170.57" stroke="#ff0000" stroke-width="0.8" />
<line x1="623.8" y1="165.05" x2="625.6" y2="165.05" stroke="#ff0000" stroke-width="0.8" />
<line x1="623.8" y1="159.52" x2="625.6" y2="159.52" stroke="#ff0000" stroke-width="0.8" />
<line x1="623.8" y1="153.99" x2="625.6" y2="153.99" stroke="#ff0000" stroke-width="0.8" />
<line x1="623.8" y1="148.47" x2="627" y2="148.47" stroke="#ff0000" stroke-width="1" />
<text x="633" y="152.17" text-anchor="start" fill="#ff0000" font-size="10.5" >151,300</text>
<line x1="623.8" y1="142.94" x2="625.6" y2="142.94" stroke="#ff0000" stroke-width="0.8" />
<line x1="623.8" y1="137.41" x2="625.6" y2="137.41" stroke="#ff0000" stroke-width="0.8" />
<line x1="623.8" y1="131.89" x2="625.6" y2="131.89" stroke="#ff0000" stroke-width="0.8" />
<line x1="623.8" y1="126.36" x2="625.6" y2="126.36" stroke="#ff0000" stroke-width="0.8" />
<line x1="623.8" y1="120.83" x2="627" y2="120.83" stroke="#ff0000" stroke-width="1" />
<text x="633" y="124.53" text-anchor="start" fill="#ff0000" font-size="10.5" >151,350</text>
<line x1="623.8" y1="115.31" x2="625.6" y2="115.31" stroke="#ff0000" stroke-width="0.8" />
<line x1="623.8" y1="109.78" x2="625.6" y2="109.78" stroke="#ff0000" stroke-width="0.8" />
<line x1="623.8" y1="104.25" x2="625.6" y2="104.25" stroke="#ff0000" stroke-width="0.8" />
<line x1="623.8" y1="98.73" x2="625.6" y2="98.73" stroke="#ff0000" stroke-width="0.8" />
<line x1="623.8" y1="93.2" x2="627" y2="93.2" stroke="#ff0000" stroke-width="1" />
<text x="633" y="96.9" text-anchor="start" fill="#ff0000" font-size="10.5" >151,400</text>
<line x1="623.8" y1="87.67" x2="625.6" y2="87.67" stroke="#ff0000" stroke-width="0.8" />
<line x1="623.8" y1="82.15" x2="625.6" y2="82.15" stroke="#ff0000" stroke-width="0.8" />
<line x1="623.8" y1="76.62" x2="625.6" y2="76.62" stroke="#ff0000" stroke-width="0.8" />
<line x1="623.8" y1="71.09" x2="625.6" y2="71.09" stroke="#ff0000" stroke-width="0.8" />
<line x1="623.8" y1="65.57" x2="627" y2="65.57" stroke="#ff0000" stroke-width="1" />
<text x="633" y="69.27" text-anchor="start" fill="#ff0000" font-size="10.5" >151,450</text>
<line x1="623.8" y1="60.04" x2="625.6" y2="60.04" stroke="#ff0000" stroke-width="0.8" />
<line x1="623.8" y1="54.51" x2="625.6" y2="54.51" stroke="#ff0000" stroke-width="0.8" />
<line x1="623.8" y1="48.99" x2="625.6" y2="48.99" stroke="#ff0000" stroke-width="0.8" />
<line x1="623.8" y1="43.46" x2="625.6" y2="43.46" stroke="#ff0000" stroke-width="0.8" />
<line x1="623.8" y1="37.93" x2="627" y2="37.93" stroke="#ff0000" stroke-width="1" />
<text x="633" y="41.63" text-anchor="start" fill="#ff0000" font-size="10.5" >151,500</text>
<line x1="623.8" y1="32.41" x2="625.6" y2="32.41" stroke="#ff0000" stroke-width="0.8" />
<line x1="623.8" y1="26.88" x2="625.6" y2="26.88" stroke="#ff0000" stroke-width="0.8" />
<line x1="623.8" y1="21.35" x2="625.6" y2="21.35" stroke="#ff0000" stroke-width="0.8" />
<line x1="623.8" y1="15.83" x2="625.6" y2="15.83" stroke="#ff0000" stroke-width="0.8" />
<line x1="623.8" y1="10.3" x2="627" y2="10.3" stroke="#ff0000" stroke-width="1" />
<text x="633" y="14" text-anchor="start" fill="#ff0000" font-size="10.5" >151,550</text>
<line x1="422.5" y1="176.1" x2="422.5" y2="179.1" stroke="#000" stroke-width="1" />
<text x="422.5" y="193.1" text-anchor="middle" fill="#000" font-size="10.5" >-20</text>
<line x1="430.55" y1="176.1" x2="430.55" y2="178.1" stroke="#000" stroke-width="0.8" />
<line x1="438.6" y1="176.1" x2="438.6" y2="178.1" stroke="#000" stroke-width="0.8" />
<line x1="446.66" y1="176.1" x2="446.66" y2="178.1" stroke="#000" stroke-width="0.8" />
<line x1="454.71" y1="176.1" x2="454.71" y2="178.1" stroke="#000" stroke-width="0.8" />
<line x1="462.76" y1="176.1" x2="462.76" y2="179.1" stroke="#000" stroke-width="1" />
<text x="462.76" y="193.1" text-anchor="middle" fill="#000" font-size="10.5" >0</text>
<line x1="470.81" y1="176.1" x2="470.81" y2="178.1" stroke="#000" stroke-width="0.8" />
<line x1="478.86" y1="176.1" x2="478.86" y2="178.1" stroke="#000" stroke-width="0.8" />
<line x1="486.92" y1="176.1" x2="486.92" y2="178.1" stroke="#000" stroke-width="0.8" />
<line x1="494.97" y1="176.1" x2="494.97" y2="178.1" stroke="#000" stroke-width="0.8" />
<line x1="503.02" y1="176.1" x2="503.02" y2="179.1" stroke="#000" stroke-width="1" />
<text x="503.02" y="193.1" text-anchor="middle" fill="#000" font-size="10.5" >20</text>
<line x1="511.07" y1="176.1" x2="511.07" y2="178.1" stroke="#000" stroke-width="0.8" />
<line x1="519.12" y1="176.1" x2="519.12" y2="178.1" stroke="#000" stroke-width="0.8" />
<line x1="527.18" y1="176.1" x2="527.18" y2="178.1" stroke="#000" stroke-width="0.8" />
<line x1="535.23" y1="176.1" x2="535.23" y2="178.1" stroke="#000" stroke-width="0.8" />
<line x1="543.28" y1="176.1" x2="543.28" y2="179.1" stroke="#000" stroke-width="1" />
<text x="543.28" y="193.1" text-anchor="middle" fill="#000" font-size="10.5" >40</text>
<line x1="551.33" y1="176.1" x2="551.33" y2="178.1" stroke="#000" stroke-width="0.8" />
<line x1="559.38" y1="176.1" x2="559.38" y2="178.1" stroke="#000" stroke-width="0.8" />
<line x1="567.44" y1="176.1" x2="567.44" y2="178.1" stroke="#000" stroke-width="0.8" />
<line x1="575.49" y1="176.1" x2="575.49" y2="178.1" stroke="#000" stroke-width="0.8" />
<line x1="583.54" y1="176.1" x2="583.54" y2="179.1" stroke="#000" stroke-width="1" />
<text x="583.54" y="193.1" text-anchor="middle" fill="#000" font-size="10.5" >60</text>
<line x1="591.59" y1="176.1" x2="591.59" y2="178.1" stroke="#000" stroke-width="0.8" />
<line x1="599.64" y1="176.1" x2="599.64" y2="178.1" stroke="#000" stroke-width="0.8" />
<line x1="607.7" y1="176.1" x2="607.7" y2="178.1" stroke="#000" stroke-width="0.8" />
<line x1="615.75" y1="176.1" x2="615.75" y2="178.1" stroke="#000" stroke-width="0.8" />
<line x1="623.8" y1="176.1" x2="623.8" y2="179.1" stroke="#000" stroke-width="1" />
<text x="623.8" y="193.1" text-anchor="middle" fill="#000" font-size="10.5" >80</text>
<line x1="422.5" y1="10.3" x2="623.8" y2="10.3" stroke="#595959" stroke-width="1" />
<line x1="422.5" y1="9.8" x2="422.5" y2="176.6" stroke="#000" stroke-width="1.1" />
<line x1="422" y1="176.1" x2="624.3" y2="176.1" stroke="#000" stroke-width="1.1" />
<line x1="623.8" y1="9.8" x2="623.8" y2="176.6" stroke="#ff0000" stroke-width="1.1" />
<text transform="translate(372.2,93.2) rotate(-90)" text-anchor="middle" fill="#000" font-size="10.5" >Frequency (Hz)</text>
<text transform="translate(682.7,93.2) rotate(-90)" text-anchor="middle" fill="#ff0000" font-size="10.5" >Frequency (Hz)</text>
<text x="523.15" y="210.3" text-anchor="middle" fill="#000" font-size="10.5" >Temperature (°C)</text>
<text x="363.8" y="10.5" text-anchor="start" fill="#000" font-size="14.5" font-weight="bold">b</text>
<line x1="422.5" y1="94.27" x2="623.8" y2="146.97" stroke="#000" stroke-width="1.1" stroke-dasharray="1.6 1.6"/>
<line x1="422.5" y1="22.56" x2="623.8" y2="138.1" stroke="#ff0000" stroke-width="1.1" stroke-dasharray="1.6 1.6"/>
<path d="M422.5 28.9C429.21 31.53 449.34 39.22 462.76 44.7C476.18 50.18 489.6 54.88 503.02 61.8C516.44 68.72 529.86 77.53 543.28 86.2C556.7 94.87 570.12 103.97 583.54 113.8C596.96 123.63 617.09 139.97 623.8 145.2" fill="none" stroke="#ff0000" stroke-width="1.6" stroke-linejoin="round"/>
<path d="M419.3 31.43L425.7 31.43L422.5 25.8Z" fill="#ff0000"/>
<path d="M459.56 47.23L465.96 47.23L462.76 41.6Z" fill="#ff0000"/>
<path d="M499.82 64.33L506.22 64.33L503.02 58.7Z" fill="#ff0000"/>
<path d="M540.08 88.73L546.48 88.73L543.28 83.1Z" fill="#ff0000"/>
<path d="M580.34 116.33L586.74 116.33L583.54 110.7Z" fill="#ff0000"/>
<path d="M620.6 147.73L627 147.73L623.8 142.1Z" fill="#ff0000"/>
<path d="M422.5 99.7C429.21 100.18 449.34 101 462.76 102.6C476.18 104.2 489.6 106.3 503.02 109.3C516.44 112.3 529.86 116.28 543.28 120.6C556.7 124.92 570.12 129.97 583.54 135.2C596.96 140.43 617.09 149.2 623.8 152" fill="none" stroke="#000" stroke-width="1.6" stroke-linejoin="round"/>
<rect x="419.7" y="96.9" width="5.6" height="5.6" fill="#000"/>
<rect x="459.96" y="99.8" width="5.6" height="5.6" fill="#000"/>
<rect x="500.22" y="106.5" width="5.6" height="5.6" fill="#000"/>
<rect x="540.48" y="117.8" width="5.6" height="5.6" fill="#000"/>
<rect x="580.74" y="132.4" width="5.6" height="5.6" fill="#000"/>
<rect x="621" y="149.2" width="5.6" height="5.6" fill="#000"/>
<line x1="434.7" y1="18.1" x2="452.4" y2="18.1" stroke="#000" stroke-width="1.6" />
<rect x="440.7" y="15.3" width="5.6" height="5.6" fill="#000"/>
<text x="458" y="21.9" text-anchor="start" fill="#000" font-size="10.5" >1st mode</text>
<line x1="503.8" y1="18.1" x2="522.6" y2="18.1" stroke="#ff0000" stroke-width="1.6" />
<path d="M510.1 20.63L516.5 20.63L513.3 15Z" fill="#ff0000"/>
<text x="527.6" y="21.9" text-anchor="start" fill="#000" font-size="10.5" >2nd mode</text>
<text x="510.5" y="47.8" text-anchor="start" fill="#ff0000" font-size="10.5" >y = -2.0905x + 151,486</text>
<text x="536.9" y="61.4" text-anchor="start" fill="#ff0000" font-size="10.5" >R<tspan dy="-4.3" font-size="7">2</tspan><tspan dy="4.3"> = 0.9829</tspan></text>
<text x="433" y="137.6" text-anchor="start" fill="#000" font-size="10.5" >y = -0.6357x + 53,186</text>
<text x="456" y="151" text-anchor="start" fill="#000" font-size="10.5" >R<tspan dy="-4.3" font-size="7">2</tspan><tspan dy="4.3"> = 0.9406</tspan></text>
<line x1="407.2" y1="402.14" x2="410.4" y2="402.14" stroke="#000" stroke-width="1" />
<text x="401.6" y="405.84" text-anchor="end" fill="#000" font-size="10.5" >-6</text>
<line x1="408.6" y1="398.44" x2="410.4" y2="398.44" stroke="#000" stroke-width="0.8" />
<line x1="408.6" y1="394.75" x2="410.4" y2="394.75" stroke="#000" stroke-width="0.8" />
<line x1="408.6" y1="391.05" x2="410.4" y2="391.05" stroke="#000" stroke-width="0.8" />
<line x1="408.6" y1="387.36" x2="410.4" y2="387.36" stroke="#000" stroke-width="0.8" />
<line x1="407.2" y1="383.66" x2="410.4" y2="383.66" stroke="#000" stroke-width="1" />
<text x="401.6" y="387.36" text-anchor="end" fill="#000" font-size="10.5" >-4</text>
<line x1="408.6" y1="379.96" x2="410.4" y2="379.96" stroke="#000" stroke-width="0.8" />
<line x1="408.6" y1="376.27" x2="410.4" y2="376.27" stroke="#000" stroke-width="0.8" />
<line x1="408.6" y1="372.57" x2="410.4" y2="372.57" stroke="#000" stroke-width="0.8" />
<line x1="408.6" y1="368.88" x2="410.4" y2="368.88" stroke="#000" stroke-width="0.8" />
<line x1="407.2" y1="365.18" x2="410.4" y2="365.18" stroke="#000" stroke-width="1" />
<text x="401.6" y="368.88" text-anchor="end" fill="#000" font-size="10.5" >-2</text>
<line x1="408.6" y1="361.48" x2="410.4" y2="361.48" stroke="#000" stroke-width="0.8" />
<line x1="408.6" y1="357.79" x2="410.4" y2="357.79" stroke="#000" stroke-width="0.8" />
<line x1="408.6" y1="354.09" x2="410.4" y2="354.09" stroke="#000" stroke-width="0.8" />
<line x1="408.6" y1="350.4" x2="410.4" y2="350.4" stroke="#000" stroke-width="0.8" />
<line x1="407.2" y1="346.7" x2="410.4" y2="346.7" stroke="#000" stroke-width="1" />
<text x="401.6" y="350.4" text-anchor="end" fill="#000" font-size="10.5" >0</text>
<line x1="408.6" y1="343" x2="410.4" y2="343" stroke="#000" stroke-width="0.8" />
<line x1="408.6" y1="339.31" x2="410.4" y2="339.31" stroke="#000" stroke-width="0.8" />
<line x1="408.6" y1="335.61" x2="410.4" y2="335.61" stroke="#000" stroke-width="0.8" />
<line x1="408.6" y1="331.92" x2="410.4" y2="331.92" stroke="#000" stroke-width="0.8" />
<line x1="407.2" y1="328.22" x2="410.4" y2="328.22" stroke="#000" stroke-width="1" />
<text x="401.6" y="331.92" text-anchor="end" fill="#000" font-size="10.5" >2</text>
<line x1="408.6" y1="324.52" x2="410.4" y2="324.52" stroke="#000" stroke-width="0.8" />
<line x1="408.6" y1="320.83" x2="410.4" y2="320.83" stroke="#000" stroke-width="0.8" />
<line x1="408.6" y1="317.13" x2="410.4" y2="317.13" stroke="#000" stroke-width="0.8" />
<line x1="408.6" y1="313.44" x2="410.4" y2="313.44" stroke="#000" stroke-width="0.8" />
<line x1="407.2" y1="309.74" x2="410.4" y2="309.74" stroke="#000" stroke-width="1" />
<text x="401.6" y="313.44" text-anchor="end" fill="#000" font-size="10.5" >4</text>
<line x1="408.6" y1="306.04" x2="410.4" y2="306.04" stroke="#000" stroke-width="0.8" />
<line x1="408.6" y1="302.35" x2="410.4" y2="302.35" stroke="#000" stroke-width="0.8" />
<line x1="408.6" y1="298.65" x2="410.4" y2="298.65" stroke="#000" stroke-width="0.8" />
<line x1="408.6" y1="294.96" x2="410.4" y2="294.96" stroke="#000" stroke-width="0.8" />
<line x1="407.2" y1="291.26" x2="410.4" y2="291.26" stroke="#000" stroke-width="1" />
<text x="401.6" y="294.96" text-anchor="end" fill="#000" font-size="10.5" >6</text>
<line x1="408.6" y1="287.56" x2="410.4" y2="287.56" stroke="#000" stroke-width="0.8" />
<line x1="408.6" y1="283.87" x2="410.4" y2="283.87" stroke="#000" stroke-width="0.8" />
<line x1="408.6" y1="280.17" x2="410.4" y2="280.17" stroke="#000" stroke-width="0.8" />
<line x1="408.6" y1="276.48" x2="410.4" y2="276.48" stroke="#000" stroke-width="0.8" />
<line x1="407.2" y1="272.78" x2="410.4" y2="272.78" stroke="#000" stroke-width="1" />
<text x="401.6" y="276.48" text-anchor="end" fill="#000" font-size="10.5" >8</text>
<line x1="408.6" y1="269.08" x2="410.4" y2="269.08" stroke="#000" stroke-width="0.8" />
<line x1="408.6" y1="265.39" x2="410.4" y2="265.39" stroke="#000" stroke-width="0.8" />
<line x1="408.6" y1="261.69" x2="410.4" y2="261.69" stroke="#000" stroke-width="0.8" />
<line x1="408.6" y1="258" x2="410.4" y2="258" stroke="#000" stroke-width="0.8" />
<line x1="407.2" y1="254.3" x2="410.4" y2="254.3" stroke="#000" stroke-width="1" />
<text x="401.6" y="258" text-anchor="end" fill="#000" font-size="10.5" >10</text>
<line x1="408.6" y1="250.6" x2="410.4" y2="250.6" stroke="#000" stroke-width="0.8" />
<line x1="408.6" y1="246.91" x2="410.4" y2="246.91" stroke="#000" stroke-width="0.8" />
<line x1="408.6" y1="243.21" x2="410.4" y2="243.21" stroke="#000" stroke-width="0.8" />
<line x1="408.6" y1="239.52" x2="410.4" y2="239.52" stroke="#000" stroke-width="0.8" />
<line x1="407.2" y1="235.82" x2="410.4" y2="235.82" stroke="#000" stroke-width="1" />
<text x="401.6" y="239.52" text-anchor="end" fill="#000" font-size="10.5" >12</text>
<line x1="410.4" y1="402.6" x2="410.4" y2="405.6" stroke="#000" stroke-width="1" />
<text x="410.4" y="419.2" text-anchor="middle" fill="#000" font-size="10.5" >0</text>
<line x1="420.44" y1="402.6" x2="420.44" y2="404.6" stroke="#000" stroke-width="0.8" />
<line x1="430.47" y1="402.6" x2="430.47" y2="404.6" stroke="#000" stroke-width="0.8" />
<line x1="440.51" y1="402.6" x2="440.51" y2="404.6" stroke="#000" stroke-width="0.8" />
<line x1="450.54" y1="402.6" x2="450.54" y2="404.6" stroke="#000" stroke-width="0.8" />
<line x1="460.58" y1="402.6" x2="460.58" y2="405.6" stroke="#000" stroke-width="1" />
<text x="460.58" y="419.2" text-anchor="middle" fill="#000" font-size="10.5" >20</text>
<line x1="470.62" y1="402.6" x2="470.62" y2="404.6" stroke="#000" stroke-width="0.8" />
<line x1="480.65" y1="402.6" x2="480.65" y2="404.6" stroke="#000" stroke-width="0.8" />
<line x1="490.69" y1="402.6" x2="490.69" y2="404.6" stroke="#000" stroke-width="0.8" />
<line x1="500.72" y1="402.6" x2="500.72" y2="404.6" stroke="#000" stroke-width="0.8" />
<line x1="510.76" y1="402.6" x2="510.76" y2="405.6" stroke="#000" stroke-width="1" />
<text x="510.76" y="419.2" text-anchor="middle" fill="#000" font-size="10.5" >40</text>
<line x1="520.8" y1="402.6" x2="520.8" y2="404.6" stroke="#000" stroke-width="0.8" />
<line x1="530.83" y1="402.6" x2="530.83" y2="404.6" stroke="#000" stroke-width="0.8" />
<line x1="540.87" y1="402.6" x2="540.87" y2="404.6" stroke="#000" stroke-width="0.8" />
<line x1="550.9" y1="402.6" x2="550.9" y2="404.6" stroke="#000" stroke-width="0.8" />
<line x1="560.94" y1="402.6" x2="560.94" y2="405.6" stroke="#000" stroke-width="1" />
<text x="560.94" y="419.2" text-anchor="middle" fill="#000" font-size="10.5" >60</text>
<line x1="570.98" y1="402.6" x2="570.98" y2="404.6" stroke="#000" stroke-width="0.8" />
<line x1="581.01" y1="402.6" x2="581.01" y2="404.6" stroke="#000" stroke-width="0.8" />
<line x1="591.05" y1="402.6" x2="591.05" y2="404.6" stroke="#000" stroke-width="0.8" />
<line x1="601.08" y1="402.6" x2="601.08" y2="404.6" stroke="#000" stroke-width="0.8" />
<line x1="611.12" y1="402.6" x2="611.12" y2="405.6" stroke="#000" stroke-width="1" />
<text x="611.12" y="419.2" text-anchor="middle" fill="#000" font-size="10.5" >80</text>
<line x1="621.16" y1="402.6" x2="621.16" y2="404.6" stroke="#000" stroke-width="0.8" />
<line x1="631.19" y1="402.6" x2="631.19" y2="404.6" stroke="#000" stroke-width="0.8" />
<line x1="641.23" y1="402.6" x2="641.23" y2="404.6" stroke="#000" stroke-width="0.8" />
<line x1="651.26" y1="402.6" x2="651.26" y2="404.6" stroke="#000" stroke-width="0.8" />
<line x1="661.3" y1="402.6" x2="661.3" y2="405.6" stroke="#000" stroke-width="1" />
<text x="661.3" y="419.2" text-anchor="middle" fill="#000" font-size="10.5" >100</text>
<line x1="671.34" y1="402.6" x2="671.34" y2="404.6" stroke="#000" stroke-width="0.8" />
<path d="M422.94 282.94C425.04 290.1 429.22 315.76 435.49 325.91C441.76 336.06 452.22 341.29 460.58 343.84C468.94 346.38 477.31 340.4 485.67 341.16C494.03 341.91 502.4 345.91 510.76 348.36C519.12 350.81 527.49 356.32 535.85 355.85C544.21 355.37 552.58 348.22 560.94 345.5C569.3 342.77 577.67 345.84 586.03 339.49C594.39 333.15 602.76 302.13 611.12 307.43C619.48 312.73 627.85 378.99 636.21 371.28C644.57 363.56 657.12 279.49 661.3 261.14" fill="none" stroke="#ff0000" stroke-width="1.6" stroke-linejoin="round"/>
<rect x="420.14" y="280.14" width="5.6" height="5.6" fill="#ff0000"/>
<rect x="432.69" y="323.11" width="5.6" height="5.6" fill="#ff0000"/>
<rect x="457.78" y="341.04" width="5.6" height="5.6" fill="#ff0000"/>
<rect x="482.87" y="338.36" width="5.6" height="5.6" fill="#ff0000"/>
<rect x="507.96" y="345.56" width="5.6" height="5.6" fill="#ff0000"/>
<rect x="533.05" y="353.05" width="5.6" height="5.6" fill="#ff0000"/>
<rect x="558.14" y="342.7" width="5.6" height="5.6" fill="#ff0000"/>
<rect x="583.23" y="336.69" width="5.6" height="5.6" fill="#ff0000"/>
<rect x="608.32" y="304.63" width="5.6" height="5.6" fill="#ff0000"/>
<rect x="633.41" y="368.48" width="5.6" height="5.6" fill="#ff0000"/>
<rect x="658.5" y="258.34" width="5.6" height="5.6" fill="#ff0000"/>
<path d="M422.94 292.65C425.04 295.65 429.22 298.36 435.49 310.66C441.76 322.97 452.22 361.07 460.58 366.47C468.94 371.88 477.31 344.87 485.67 343.1C494.03 341.33 502.4 353.55 510.76 355.85C519.12 358.14 527.49 355.69 535.85 356.86C544.21 358.03 552.58 367.18 560.94 362.87C569.3 358.56 577.67 339.31 586.03 330.99C594.39 322.68 602.76 304.41 611.12 312.97C619.48 321.54 627.85 389.19 636.21 382.37C644.57 375.54 657.12 290.43 661.3 272.04" fill="none" stroke="#ff0000" stroke-width="1.6" stroke-linejoin="round"/>
<circle cx="422.94" cy="292.65" r="2.9" fill="#ff0000"/>
<circle cx="435.49" cy="310.66" r="2.9" fill="#ff0000"/>
<circle cx="460.58" cy="366.47" r="2.9" fill="#ff0000"/>
<circle cx="485.67" cy="343.1" r="2.9" fill="#ff0000"/>
<circle cx="510.76" cy="355.85" r="2.9" fill="#ff0000"/>
<circle cx="535.85" cy="356.86" r="2.9" fill="#ff0000"/>
<circle cx="560.94" cy="362.87" r="2.9" fill="#ff0000"/>
<circle cx="586.03" cy="330.99" r="2.9" fill="#ff0000"/>
<circle cx="611.12" cy="312.97" r="2.9" fill="#ff0000"/>
<circle cx="636.21" cy="382.37" r="2.9" fill="#ff0000"/>
<circle cx="661.3" cy="272.04" r="2.9" fill="#ff0000"/>
<path d="M422.94 297.73C425.04 302.66 429.22 313.84 435.49 327.3C441.76 340.76 452.22 377.35 460.58 378.49C468.94 379.63 477.31 337.89 485.67 334.13C494.03 330.38 502.4 349.63 510.76 355.94C519.12 362.25 527.49 368.26 535.85 372.02C544.21 375.78 552.58 383.43 560.94 378.49C569.3 373.54 577.67 352.43 586.03 342.36C594.39 332.29 602.76 311.33 611.12 318.06C619.48 324.79 627.85 389 636.21 382.74C644.57 376.47 657.12 297.5 661.3 280.45" fill="none" stroke="#ff0000" stroke-width="1.6" stroke-linejoin="round"/>
<path d="M419.64 300.34L426.25 300.34L422.94 294.53Z" fill="#ff0000"/>
<path d="M432.19 329.91L438.79 329.91L435.49 324.1Z" fill="#ff0000"/>
<path d="M457.28 381.1L463.88 381.1L460.58 375.29Z" fill="#ff0000"/>
<path d="M482.37 336.75L488.97 336.75L485.67 330.94Z" fill="#ff0000"/>
<path d="M507.46 358.55L514.06 358.55L510.76 352.75Z" fill="#ff0000"/>
<path d="M532.55 374.63L539.15 374.63L535.85 368.82Z" fill="#ff0000"/>
<path d="M557.64 381.1L564.24 381.1L560.94 375.29Z" fill="#ff0000"/>
<path d="M582.73 344.97L589.33 344.97L586.03 339.16Z" fill="#ff0000"/>
<path d="M607.82 320.67L614.42 320.67L611.12 314.86Z" fill="#ff0000"/>
<path d="M632.91 385.35L639.51 385.35L636.21 379.54Z" fill="#ff0000"/>
<path d="M658 283.06L664.6 283.06L661.3 277.25Z" fill="#ff0000"/>
<path d="M422.94 293.11C425.04 296.19 429.22 302.81 435.49 311.59C441.76 320.37 452.22 343.47 460.58 345.78C468.94 348.09 477.31 328.42 485.67 325.45C494.03 322.48 502.4 326.45 510.76 327.94C519.12 329.44 527.49 331.01 535.85 334.41C544.21 337.81 552.58 350.4 560.94 348.36C569.3 346.33 577.67 329.11 586.03 322.21C594.39 315.31 602.76 299.65 611.12 306.97C619.48 314.28 627.85 371.12 636.21 366.1C644.57 361.08 657.12 291.72 661.3 276.85" fill="none" stroke="#000" stroke-width="1.6" stroke-linejoin="round"/>
<path d="M419.64 295.72L426.25 295.72L422.94 289.91Z" fill="#000"/>
<path d="M432.19 314.2L438.79 314.2L435.49 308.39Z" fill="#000"/>
<path d="M457.28 348.39L463.88 348.39L460.58 342.58Z" fill="#000"/>
<path d="M482.37 328.06L488.97 328.06L485.67 322.25Z" fill="#000"/>
<path d="M507.46 330.56L514.06 330.56L510.76 324.75Z" fill="#000"/>
<path d="M532.55 337.02L539.15 337.02L535.85 331.22Z" fill="#000"/>
<path d="M557.64 350.98L564.24 350.98L560.94 345.17Z" fill="#000"/>
<path d="M582.73 324.83L589.33 324.83L586.03 319.02Z" fill="#000"/>
<path d="M607.82 309.58L614.42 309.58L611.12 303.77Z" fill="#000"/>
<path d="M632.91 368.72L639.51 368.72L636.21 362.91Z" fill="#000"/>
<path d="M658 279.46L664.6 279.46L661.3 273.65Z" fill="#000"/>
<path d="M422.94 281.1C425.04 284.51 429.22 292.98 435.49 301.61C441.76 310.23 452.22 332.04 460.58 332.84C468.94 333.64 477.31 309.03 485.67 306.41C494.03 303.8 502.4 312.88 510.76 317.13C519.12 321.38 527.49 328.81 535.85 331.92C544.21 335.03 552.58 336.87 560.94 335.8C569.3 334.72 577.67 331.27 586.03 325.45C594.39 319.63 602.76 295.11 611.12 300.87C619.48 306.63 627.85 365.77 636.21 360.01C644.57 354.25 657.12 281.93 661.3 266.31" fill="none" stroke="#000" stroke-width="1.6" stroke-linejoin="round"/>
<circle cx="422.94" cy="281.1" r="2.9" fill="#000"/>
<circle cx="435.49" cy="301.61" r="2.9" fill="#000"/>
<circle cx="460.58" cy="332.84" r="2.9" fill="#000"/>
<circle cx="485.67" cy="306.41" r="2.9" fill="#000"/>
<circle cx="510.76" cy="317.13" r="2.9" fill="#000"/>
<circle cx="535.85" cy="331.92" r="2.9" fill="#000"/>
<circle cx="560.94" cy="335.8" r="2.9" fill="#000"/>
<circle cx="586.03" cy="325.45" r="2.9" fill="#000"/>
<circle cx="611.12" cy="300.87" r="2.9" fill="#000"/>
<circle cx="636.21" cy="360.01" r="2.9" fill="#000"/>
<circle cx="661.3" cy="266.31" r="2.9" fill="#000"/>
<path d="M422.94 256.61C425.04 263 429.22 282.25 435.49 294.96C441.76 307.66 452.22 330.16 460.58 332.84C468.94 335.52 477.31 313.42 485.67 311.03C494.03 308.65 502.4 315.3 510.76 318.52C519.12 321.74 527.49 330.42 535.85 330.35C544.21 330.27 552.58 323.03 560.94 318.06C569.3 313.08 577.67 304.35 586.03 300.5C594.39 296.65 602.76 285.65 611.12 294.96C619.48 304.26 627.85 362.75 636.21 356.31C644.57 349.87 657.12 273 661.3 256.33" fill="none" stroke="#000" stroke-width="1.6" stroke-linejoin="round"/>
<rect x="420.14" y="253.81" width="5.6" height="5.6" fill="#000"/>
<rect x="432.69" y="292.16" width="5.6" height="5.6" fill="#000"/>
<rect x="457.78" y="330.04" width="5.6" height="5.6" fill="#000"/>
<rect x="482.87" y="308.23" width="5.6" height="5.6" fill="#000"/>
<rect x="507.96" y="315.72" width="5.6" height="5.6" fill="#000"/>
<rect x="533.05" y="327.55" width="5.6" height="5.6" fill="#000"/>
<rect x="558.14" y="315.26" width="5.6" height="5.6" fill="#000"/>
<rect x="583.23" y="297.7" width="5.6" height="5.6" fill="#000"/>
<rect x="608.32" y="292.16" width="5.6" height="5.6" fill="#000"/>
<rect x="633.41" y="353.51" width="5.6" height="5.6" fill="#000"/>
<rect x="658.5" y="253.53" width="5.6" height="5.6" fill="#000"/>
<rect x="658.5" y="258.34" width="5.6" height="5.6" fill="#ff0000"/>
<circle cx="661.3" cy="272.04" r="2.9" fill="#ff0000"/>
<path d="M658 283.06L664.6 283.06L661.3 277.25Z" fill="#ff0000"/>
<rect x="658.5" y="253.53" width="5.6" height="5.6" fill="#000"/>
<rect x="633.41" y="368.48" width="5.6" height="5.6" fill="#ff0000"/>
<rect x="633.41" y="379.57" width="5.6" height="5.6" fill="#ff0000"/>
<line x1="410.4" y1="235.8" x2="673.3" y2="235.8" stroke="#595959" stroke-width="1" />
<line x1="673.3" y1="235.8" x2="673.3" y2="402.6" stroke="#595959" stroke-width="1" />
<line x1="410.4" y1="235.3" x2="410.4" y2="403.1" stroke="#000" stroke-width="1.1" />
<line x1="409.9" y1="402.6" x2="673.8" y2="402.6" stroke="#000" stroke-width="1.1" />
<line x1="433.5" y1="244.3" x2="452.8" y2="244.3" stroke="#000" stroke-width="1.6" />
<rect x="440.3" y="241.5" width="5.6" height="5.6" fill="#000"/>
<text x="457.1" y="248.1" text-anchor="start" fill="#000" font-size="10.5" >Cycle 1-Forward</text>
<line x1="542.2" y1="244.3" x2="561" y2="244.3" stroke="#ff0000" stroke-width="1.6" />
<rect x="548.8" y="241.5" width="5.6" height="5.6" fill="#ff0000"/>
<text x="565.8" y="248.1" text-anchor="start" fill="#000" font-size="10.5" >Cycle 1-Backward</text>
<line x1="433.5" y1="260.6" x2="452.8" y2="260.6" stroke="#000" stroke-width="1.6" />
<circle cx="443.1" cy="260.6" r="2.9" fill="#000"/>
<text x="457.1" y="264.4" text-anchor="start" fill="#000" font-size="10.5" >Cycle 2-Forward</text>
<line x1="542.2" y1="260.6" x2="561" y2="260.6" stroke="#ff0000" stroke-width="1.6" />
<circle cx="551.6" cy="260.6" r="2.9" fill="#ff0000"/>
<text x="565.8" y="264.4" text-anchor="start" fill="#000" font-size="10.5" >Cycle 2-Backward</text>
<line x1="433.5" y1="276.8" x2="452.8" y2="276.8" stroke="#000" stroke-width="1.6" />
<path d="M439.8 279.41L446.4 279.41L443.1 273.61Z" fill="#000"/>
<text x="457.1" y="280.6" text-anchor="start" fill="#000" font-size="10.5" >Cycle 3-Forward</text>
<line x1="542.2" y1="276.8" x2="561" y2="276.8" stroke="#ff0000" stroke-width="1.6" />
<path d="M548.3 279.41L554.9 279.41L551.6 273.61Z" fill="#ff0000"/>
<text x="565.8" y="280.6" text-anchor="start" fill="#000" font-size="10.5" >Cycle 3-Backward</text>
<text x="446.6" y="294" text-anchor="start" fill="#8faadc" font-size="10.5" >Max repeatability error: ~4Pa</text>
<line x1="412.8" y1="255.7" x2="419.8" y2="255.7" stroke="#8faadc" stroke-width="1.2" />
<line x1="412.8" y1="293.6" x2="419.8" y2="293.6" stroke="#8faadc" stroke-width="1.2" />
<line x1="416.2" y1="260" x2="416.2" y2="289" stroke="#8faadc" stroke-width="1.3" />
<path d="M413.3 263L416.2 256.8L419.09999999999997 263Z M413.3 286.3L416.2 292.5L419.09999999999997 286.3Z" fill="#8faadc"/>
<text x="449.2" y="394.8" text-anchor="start" fill="#8c8c8c" font-size="10.5" >Max pressure hysteresis error: ~6.5Pa</text>
<line x1="565.8" y1="317.3" x2="573.2" y2="317.3" stroke="#8c8c8c" stroke-width="1.2" />
<line x1="565.8" y1="378.5" x2="573.2" y2="378.5" stroke="#8c8c8c" stroke-width="1.2" />
<line x1="569.4" y1="322" x2="569.4" y2="374" stroke="#8c8c8c" stroke-width="1.3" />
<path d="M566.5 324.6L569.4 318.4L572.3 324.6Z M566.5 371.2L569.4 377.4L572.3 371.2Z" fill="#8c8c8c"/>
<text transform="translate(380.3,318.6) rotate(-90)" text-anchor="middle" fill="#000" font-size="10.5" >Pressure Error (Pa)</text>
<text x="542" y="435" text-anchor="middle" fill="#000" font-size="10.5" >Pressure (kPa)</text>
<text x="363.8" y="239" text-anchor="start" fill="#000" font-size="14.5" font-weight="bold">d</text>
<line x1="238.3" y1="461.6" x2="241.5" y2="461.6" stroke="#000" stroke-width="1" />
<text x="233.9" y="465.3" text-anchor="end" fill="#000" font-size="10.5" >169,175</text>
<line x1="238.3" y1="478.2" x2="241.5" y2="478.2" stroke="#000" stroke-width="1" />
<text x="233.9" y="481.9" text-anchor="end" fill="#000" font-size="10.5" >169,174</text>
<line x1="238.3" y1="494.8" x2="241.5" y2="494.8" stroke="#000" stroke-width="1" />
<text x="233.9" y="498.5" text-anchor="end" fill="#000" font-size="10.5" >169,173</text>
<line x1="238.3" y1="511.4" x2="241.5" y2="511.4" stroke="#000" stroke-width="1" />
<text x="233.9" y="515.1" text-anchor="end" fill="#000" font-size="10.5" >169,172</text>
<line x1="238.3" y1="528" x2="241.5" y2="528" stroke="#000" stroke-width="1" />
<text x="233.9" y="531.7" text-anchor="end" fill="#000" font-size="10.5" >169,171</text>
<line x1="238.3" y1="564.5" x2="241.5" y2="564.5" stroke="#000" stroke-width="1" />
<text x="233.9" y="568.2" text-anchor="end" fill="#000" font-size="10.5" >65,461</text>
<line x1="238.3" y1="581.1" x2="241.5" y2="581.1" stroke="#000" stroke-width="1" />
<text x="233.9" y="584.8" text-anchor="end" fill="#000" font-size="10.5" >65,460</text>
<line x1="238.3" y1="597.7" x2="241.5" y2="597.7" stroke="#000" stroke-width="1" />
<text x="233.9" y="601.4" text-anchor="end" fill="#000" font-size="10.5" >65,459</text>
<line x1="238.3" y1="614.3" x2="241.5" y2="614.3" stroke="#000" stroke-width="1" />
<text x="233.9" y="618" text-anchor="end" fill="#000" font-size="10.5" >65,458</text>
<line x1="238.3" y1="630.9" x2="241.5" y2="630.9" stroke="#000" stroke-width="1" />
<text x="233.9" y="634.6" text-anchor="end" fill="#000" font-size="10.5" >65,457</text>
<line x1="239.7" y1="469.9" x2="241.5" y2="469.9" stroke="#000" stroke-width="0.8" />
<line x1="239.7" y1="486.5" x2="241.5" y2="486.5" stroke="#000" stroke-width="0.8" />
<line x1="239.7" y1="503.1" x2="241.5" y2="503.1" stroke="#000" stroke-width="0.8" />
<line x1="239.7" y1="519.7" x2="241.5" y2="519.7" stroke="#000" stroke-width="0.8" />
<line x1="239.7" y1="536.3" x2="241.5" y2="536.3" stroke="#000" stroke-width="0.8" />
<line x1="239.7" y1="556.2" x2="241.5" y2="556.2" stroke="#000" stroke-width="0.8" />
<line x1="239.7" y1="572.8" x2="241.5" y2="572.8" stroke="#000" stroke-width="0.8" />
<line x1="239.7" y1="589.4" x2="241.5" y2="589.4" stroke="#000" stroke-width="0.8" />
<line x1="239.7" y1="606" x2="241.5" y2="606" stroke="#000" stroke-width="0.8" />
<line x1="239.7" y1="622.6" x2="241.5" y2="622.6" stroke="#000" stroke-width="0.8" />
<line x1="463.9" y1="630.7" x2="467.1" y2="630.7" stroke="#ff0000" stroke-width="1" />
<text x="470.2" y="634.4" text-anchor="start" fill="#ff0000" font-size="10.5" >−10</text>
<line x1="463.9" y1="598.2" x2="467.1" y2="598.2" stroke="#ff0000" stroke-width="1" />
<text x="470.2" y="601.9" text-anchor="start" fill="#ff0000" font-size="10.5" >−5</text>
<line x1="463.9" y1="565.7" x2="467.1" y2="565.7" stroke="#ff0000" stroke-width="1" />
<text x="471.8" y="569.4" text-anchor="start" fill="#ff0000" font-size="10.5" >0</text>
<line x1="463.9" y1="533.2" x2="467.1" y2="533.2" stroke="#ff0000" stroke-width="1" />
<text x="471.8" y="536.9" text-anchor="start" fill="#ff0000" font-size="10.5" >5</text>
<line x1="463.9" y1="500.7" x2="467.1" y2="500.7" stroke="#ff0000" stroke-width="1" />
<text x="471.8" y="504.4" text-anchor="start" fill="#ff0000" font-size="10.5" >10</text>
<line x1="463.9" y1="468.2" x2="467.1" y2="468.2" stroke="#ff0000" stroke-width="1" />
<text x="471.8" y="471.9" text-anchor="start" fill="#ff0000" font-size="10.5" >15</text>
<line x1="463.9" y1="484.45" x2="465.7" y2="484.45" stroke="#ff0000" stroke-width="0.8" />
<line x1="463.9" y1="516.95" x2="465.7" y2="516.95" stroke="#ff0000" stroke-width="0.8" />
<line x1="463.9" y1="549.45" x2="465.7" y2="549.45" stroke="#ff0000" stroke-width="0.8" />
<line x1="463.9" y1="581.95" x2="465.7" y2="581.95" stroke="#ff0000" stroke-width="0.8" />
<line x1="463.9" y1="614.45" x2="465.7" y2="614.45" stroke="#ff0000" stroke-width="0.8" />
<line x1="241.5" y1="630.5" x2="241.5" y2="633.5" stroke="#000" stroke-width="1" />
<text x="241.5" y="646.3" text-anchor="middle" fill="#000" font-size="10.5" >0</text>
<line x1="253.86" y1="630.5" x2="253.86" y2="632.5" stroke="#000" stroke-width="0.8" />
<line x1="266.21" y1="630.5" x2="266.21" y2="633.5" stroke="#000" stroke-width="1" />
<text x="266.21" y="646.3" text-anchor="middle" fill="#000" font-size="10.5" >20</text>
<line x1="278.57" y1="630.5" x2="278.57" y2="632.5" stroke="#000" stroke-width="0.8" />
<line x1="290.92" y1="630.5" x2="290.92" y2="633.5" stroke="#000" stroke-width="1" />
<text x="290.92" y="646.3" text-anchor="middle" fill="#000" font-size="10.5" >40</text>
<line x1="303.28" y1="630.5" x2="303.28" y2="632.5" stroke="#000" stroke-width="0.8" />
<line x1="315.64" y1="630.5" x2="315.64" y2="633.5" stroke="#000" stroke-width="1" />
<text x="315.64" y="646.3" text-anchor="middle" fill="#000" font-size="10.5" >60</text>
<line x1="327.99" y1="630.5" x2="327.99" y2="632.5" stroke="#000" stroke-width="0.8" />
<line x1="340.35" y1="630.5" x2="340.35" y2="633.5" stroke="#000" stroke-width="1" />
<text x="340.35" y="646.3" text-anchor="middle" fill="#000" font-size="10.5" >80</text>
<line x1="352.7" y1="630.5" x2="352.7" y2="632.5" stroke="#000" stroke-width="0.8" />
<line x1="365.06" y1="630.5" x2="365.06" y2="633.5" stroke="#000" stroke-width="1" />
<text x="365.06" y="646.3" text-anchor="middle" fill="#000" font-size="10.5" >100</text>
<line x1="377.42" y1="630.5" x2="377.42" y2="632.5" stroke="#000" stroke-width="0.8" />
<line x1="389.77" y1="630.5" x2="389.77" y2="633.5" stroke="#000" stroke-width="1" />
<text x="389.77" y="646.3" text-anchor="middle" fill="#000" font-size="10.5" >120</text>
<line x1="402.13" y1="630.5" x2="402.13" y2="632.5" stroke="#000" stroke-width="0.8" />
<line x1="414.48" y1="630.5" x2="414.48" y2="633.5" stroke="#000" stroke-width="1" />
<text x="414.48" y="646.3" text-anchor="middle" fill="#000" font-size="10.5" >140</text>
<line x1="426.84" y1="630.5" x2="426.84" y2="632.5" stroke="#000" stroke-width="0.8" />
<line x1="439.2" y1="630.5" x2="439.2" y2="633.5" stroke="#000" stroke-width="1" />
<text x="439.2" y="646.3" text-anchor="middle" fill="#000" font-size="10.5" >160</text>
<line x1="451.55" y1="630.5" x2="451.55" y2="632.5" stroke="#000" stroke-width="0.8" />
<line x1="463.91" y1="630.5" x2="463.91" y2="633.5" stroke="#000" stroke-width="1" />
<text x="463.91" y="646.3" text-anchor="middle" fill="#000" font-size="10.5" >180</text>
<line x1="241.5" y1="461.6" x2="463.9" y2="461.6" stroke="#595959" stroke-width="1" />
<line x1="241.5" y1="461.1" x2="241.5" y2="631" stroke="#000" stroke-width="1.1" />
<line x1="241" y1="630.5" x2="464.4" y2="630.5" stroke="#000" stroke-width="1.1" />
<line x1="463.9" y1="461.1" x2="463.9" y2="631" stroke="#ff0000" stroke-width="1.1" />
<polygon points="241.2,482.03 242,482.13 242.8,481.25 243.6,481.35 244.4,482.6 245.2,482.7 246,482.8 246.8,481.99 247.6,482.09 248.4,482.19 249.2,482.56 250,482.23 250.8,482.33 251.6,482.52 252.4,482.03 253.2,483.26 254,482.68 254.8,482.87 255.6,483.06 256.4,483.39 257.2,481.91 258,481.82 258.8,481.22 259.6,480.56 260.4,479.96 261.2,479.68 262,479.85 262.8,483.08 263.6,483.17 264.4,485.6 265.2,486.27 266,486.93 266.8,484.17 267.6,484.84 268.4,485.5 269.2,485.83 270,485.83 270.8,485.83 271.6,485.83 272.4,487.62 273.2,486.16 274,486.69 274.8,486.69 275.6,486.73 276.4,486.66 277.2,488.1 278,487.57 278.8,487.04 279.6,483.55 280.4,483.02 281.2,484.61 282,484.08 282.8,482.46 283.6,481.93 284.4,482.45 285.2,482.98 286,483.51 286.8,482.35 287.6,482.76 288.4,483.29 289.2,483.82 290,485.29 290.8,485.82 291.6,487.12 292.4,487.06 293.2,485.79 294,485.65 294.8,485.51 295.6,486.2 296.4,486.06 297.2,485.92 298,485.33 298.8,486.33 299.6,486.35 300.4,486.31 301.2,487.26 302,487.54 302.8,487.82 303.6,486.24 304.4,486.52 305.2,486.8 306,486.99 306.8,487.28 307.6,487.24 308.4,488.51 309.2,486.79 310,486.65 310.8,487.03 311.6,486.89 312.4,486.74 313.2,487.18 314,487.03 314.8,486.89 315.6,488.53 316.4,488.39 317.2,487.41 318,487.28 318.8,487.14 319.6,485.15 320.4,485.93 321.2,485.79 322,485.66 322.8,484.36 323.6,483.97 324.4,483.75 325.2,483.36 326,485.24 326.8,484.84 327.6,484.45 328.4,481.98 329.2,481.59 330,481.85 330.8,482.39 331.6,482.92 332.4,485.17 333.2,485.71 334,486.25 334.8,485.91 335.6,486.45 336.4,486.99 337.2,486.49 338,486.48 338.8,485.7 339.6,485.35 340.4,484.95 341.2,484.14 342,483.74 342.8,483.35 343.6,482.63 344.4,484.16 345.2,483.76 346,486.23 346.8,481.95 347.6,482.1 348.4,485.03 349.2,485.18 350,483.78 350.8,483.93 351.6,484.51 352.4,484.52 353.2,484.45 354,485.96 354.8,486.37 355.6,486.09 356.4,486.5 357.2,486.91 358,488.6 358.8,489.01 359.6,486.61 360.4,488.04 361.2,486.91 362,486.78 362.8,486.64 363.6,487.83 364.4,486.02 365.2,485.88 366,485.75 366.8,487.01 367.6,487.52 368.4,487.38 369.2,486.51 370,486.37 370.8,487.95 371.6,487.82 372.4,489.56 373.2,489.43 374,489.29 374.8,489.32 375.6,486.05 376.4,485.66 377.2,484.44 378,484.55 378.8,483.17 379.6,482.77 380.4,482.38 381.2,482.35 382,481.45 382.8,481.05 383.6,480.91 384.4,480.81 385.2,480.91 386,481.01 386.8,481.4 387.6,481.5 388.4,481.6 389.2,482.97 390,483.07 390.8,483.52 391.6,483.62 392.4,483.66 393.2,483.76 394,481.9 394.8,482.16 395.6,482.42 396.4,483.42 397.2,483.29 398,483.55 398.8,483.81 399.6,484.18 400.4,484.44 401.2,484.62 402,485.97 402.8,485.58 403.6,484.05 404.4,483.65 405.2,484.19 406,483.79 406.8,485.56 407.6,485.16 408.4,484.77 409.2,482.7 410,485.37 410.8,486.57 411.6,487.78 412.4,488.09 413.2,489.29 414,492.24 414.8,491.97 415.6,487.42 416.4,487.15 417.2,487.34 418,487.07 418.8,486.8 419.6,487.31 420.4,487.04 421.2,486.76 422,486.63 422.8,486.29 423.6,486.02 424.4,484.84 425.2,485.34 426,485.07 426.8,484.8 427.6,483.49 428.4,483.22 429.2,482.94 430,482.92 430.8,482.83 431.6,482.87 432.4,482.77 433.2,482.68 434,485.58 434.8,485.48 435.6,483.2 436.4,483.1 437.2,484.21 438,484.11 438.8,484.02 439.6,484.23 440.4,484.23 441.2,484.23 442,482.59 442.8,482.59 443.6,483.46 444.4,483.46 445.2,487.34 446,483.88 446.8,483.16 447.6,483.16 448.4,483.16 449.2,484.71 450,484.76 450.8,484.85 451.6,482.17 452.4,482.26 453.2,484.47 454,484.57 454.8,484.13 455.6,482.38 456.4,482.48 457.2,482.57 458,485.81 458.8,485.91 459.6,483.1 460.4,483.9 461.2,483.9 462,486.46 462.8,486.46 463.6,486.84 463.6,495.69 462.8,496.1 462,496.92 461.2,499.34 460.4,500.16 459.6,500.56 458.8,498.34 458,498.04 457.2,495.35 456.4,497.86 455.6,497.56 454.8,498.63 454,497.08 453.2,496.78 452.4,496.48 451.6,494.73 450.8,494.43 450,493.27 449.2,496.28 448.4,494.47 447.6,494.47 446.8,494.47 446,495.59 445.2,495.59 444.4,496.97 443.6,496.97 442.8,496.97 442,493.76 441.2,497.06 440.4,497.06 439.6,497.06 438.8,497.47 438,497.78 437.2,498.09 436.4,496.94 435.6,497.29 434.8,497.59 434,497.9 433.2,498.59 432.4,498.89 431.6,499.2 430.8,500.57 430,500.87 429.2,500.98 428.4,499.35 427.6,499.48 426.8,501.79 426,501.67 425.2,500.88 424.4,501.01 423.6,500.09 422.8,500.23 422,500.37 421.2,501.6 420.4,499.9 419.6,500.03 418.8,500.17 418,500.36 417.2,499.73 416.4,499.87 415.6,499.03 414.8,502.83 414,501.29 413.2,500.59 412.4,499.78 411.6,499.03 410.8,498.21 410,499.93 409.2,497.58 408.4,496.71 407.6,496.98 406.8,498.39 406,498.66 405.2,498.93 404.4,499.02 403.6,498.72 402.8,498.99 402,499.26 401.2,500.62 400.4,500.41 399.6,499.97 398.8,499.7 398,498.49 397.2,498.22 396.4,499.79 395.6,497.59 394.8,497.52 394,497.25 393.2,497 392.4,498.38 391.6,498.18 390.8,497.99 390,497.51 389.2,496.67 388.4,496.47 387.6,496.28 386.8,495.87 386,495.67 385.2,494.36 384.4,494.17 383.6,491.37 382.8,493.1 382,493.77 381.2,497.89 380.4,498.55 379.6,499.21 378.8,498.54 378,499.21 377.2,500.24 376.4,500.9 375.6,501.56 374.8,502.77 374,502.91 373.2,501.02 372.4,502.07 371.6,501.33 370.8,501.2 370,501.33 369.2,502.92 368.4,501.91 367.6,503.86 366.8,503.98 366,501.22 365.2,504.33 364.4,501.45 363.6,501.58 362.8,501.7 362,504.1 361.2,503.26 360.4,502 359.6,501.93 358.8,501.81 358,504.18 357.2,504.05 356.4,503.93 355.6,503.75 354.8,503.62 354,504.21 353.2,504.08 352.4,503.35 351.6,503.65 350.8,503.32 350,502.24 349.2,501.92 348.4,501.59 347.6,500.43 346.8,500.11 346,500.37 345.2,500.12 344.4,501.01 343.6,501.28 342.8,501.55 342,501.03 341.2,501.05 340.4,501.32 339.6,501.59 338.8,503.29 338,503.56 337.2,503.49 336.4,501.65 335.6,501.24 334.8,500.83 334,499.94 333.2,499.53 332.4,499.4 331.6,498.99 330.8,497.44 330,498.61 329.2,499.01 328.4,499.42 327.6,500.34 326.8,500.75 326,501.15 325.2,500.52 324.4,502.31 323.6,502.71 322.8,503.12 322,503.05 321.2,503.17 320.4,502.91 319.6,503.03 318.8,500.62 318,500.75 317.2,500.87 316.4,503.01 315.6,503.43 314.8,498.34 314,498.58 313.2,498.85 312.4,500.54 311.6,500.81 310.8,501.08 310,505.39 309.2,505.66 308.4,505.3 307.6,505.57 306.8,507.54 306,507.01 305.2,506.54 304.4,506.01 303.6,505.48 302.8,504.92 302,502.21 301.2,502.58 300.4,501.52 299.6,500.99 298.8,501.71 298,501.71 297.2,502.52 296.4,501.66 295.6,501.2 294.8,501.2 294,502.15 293.2,502.56 292.4,501.98 291.6,501.88 290.8,501.61 290,498.73 289.2,498.46 288.4,498.19 287.6,499.98 286.8,499.71 286,499.44 285.2,496.96 284.4,499.78 283.6,499.85 282.8,500.49 282,498.63 281.2,499.81 280.4,498.81 279.6,499.21 278.8,499.62 278,502.2 277.2,502.61 276.4,503.01 275.6,499.31 274.8,499.03 274,502.32 273.2,502.04 272.4,501.77 271.6,501.59 270.8,501.32 270,501.04 269.2,499.05 268.4,500.2 267.6,500.06 266.8,499.93 266,499.78 265.2,499.34 264.4,499.2 263.6,499.82 262.8,498.74 262,498.6 261.2,498.47 260.4,500.27 259.6,500.68 258.8,501.09 258,500.89 257.2,501.06 256.4,501.47 255.6,501.42 254.8,498.99 254,498.18 253.2,498.7 252.4,497.88 251.6,497.78 250.8,496.96 250,496.96 249.2,496.39 248.4,496.39 247.6,496.84 246.8,496.84 246,493.38 245.2,494.71 244.4,494.71 243.6,494.71 242.8,496.01 242,496.01 241.2,496.67" fill="#5a0a3c" stroke="#5a0a3c" stroke-width="0.6" stroke-linejoin="miter"/>
<polygon points="240.8,504.73 241.6,504.73 242.4,504.73 243.2,504.38 244,508.82 244.8,510.19 245.6,510.85 246.4,513.44 247.2,517.04 248,517.04 248.8,515.46 249.6,517.69 250.4,515.55 251.2,515.55 252,517.09 252.8,517.09 253.6,518.09 254.4,517.02 255.2,517.02 256,517.3 256.8,516.84 257.6,513.17 258.4,509.42 259.2,509.91 260,510.24 260.8,510.73 261.6,514.02 262.4,520.35 263.2,526.47 264,528.31 264.8,528.93 265.6,528.35 266.4,527.77 267.2,531.25 268,529.61 268.8,529.05 269.6,527.98 270.4,527.64 271.2,527.23 272,522.26 272.8,521.69 273.6,521.11 274.4,523.79 275.2,520.72 276,520.42 276.8,520.16 277.6,519.32 278.4,518.49 279.2,519.09 280,517.09 280.8,515.93 281.6,513.93 282.4,509.11 283.2,512.11 284,510.12 284.8,509.17 285.6,509.61 286.4,512.95 287.2,515.6 288,517.11 288.8,519.67 289.6,524.91 290.4,526.39 291.2,527.25 292,527.53 292.8,523.78 293.6,522.86 294.4,525.53 295.2,526.17 296,526.12 296.8,526.76 297.6,530.2 298.4,529.24 299.2,521.58 300,524.5 300.8,526.19 301.6,527.62 302.4,526.96 303.2,528.24 304,530.2 304.8,532.36 305.6,536.33 306.4,540.13 307.2,546.78 308,544.55 308.8,544.83 309.6,545.23 310.4,544.65 311.2,539.25 312,538.66 312.8,541.21 313.6,541.21 314.4,542.49 315.2,545.01 316,544.49 316.8,546.8 317.6,546.29 318.4,545.78 319.2,538.42 320,535.02 320.8,531.73 321.6,528.17 322.4,525.2 323.2,525.25 324,523.33 324.8,518.89 325.6,517.66 326.4,516.43 327.2,515.3 328,517.17 328.8,517.56 329.6,517.14 330.4,516.42 331.2,516.71 332,518.73 332.8,518.7 333.6,521.1 334.4,526.95 335.2,533.24 336,539.57 336.8,540.23 337.6,539.16 338.4,538.77 339.2,537.69 340,537.48 340.8,535.79 341.6,533.39 342.4,531.75 343.2,533.26 344,532.38 344.8,531.12 345.6,535.23 346.4,542.27 347.2,537.11 348,543.12 348.8,539.69 349.6,536.26 350.4,530.5 351.2,527.68 352,526.05 352.8,526.14 353.6,524.6 354.4,528.59 355.2,535.54 356,540.34 356.8,543.96 357.6,545.21 358.4,545.92 359.2,546.22 360,551.38 360.8,551.67 361.6,551.96 362.4,549.25 363.2,549.46 364,549.67 364.8,549.81 365.6,545.96 366.4,543.51 367.2,538.88 368,535.43 368.8,531.75 369.6,529.24 370.4,529.5 371.2,529.75 372,529.95 372.8,530.2 373.6,530.61 374.4,530.82 375.2,531.03 376,529.65 376.8,529.86 377.6,527.62 378.4,529.31 379.2,527.07 380,523.26 380.8,521.11 381.6,517.79 382.4,518.56 383.2,526.31 384,528.65 384.8,525.42 385.6,527.22 386.4,529.21 387.2,527.06 388,527.27 388.8,528.05 389.6,532.03 390.4,532.23 391.2,529.04 392,527.87 392.8,526.7 393.6,529.02 394.4,524.02 395.2,523.6 396,523.18 396.8,526.93 397.6,527.14 398.4,524.26 399.2,524.46 400,524.86 400.8,525.07 401.6,524.92 402.4,523.18 403.2,522.92 404,523.43 404.8,523.17 405.6,523.52 406.4,522.02 407.2,520.52 408,516.19 408.8,513.54 409.6,520.41 410.4,531 411.2,533.42 412,540.54 412.8,540.76 413.6,540.98 414.4,535.18 415.2,535.4 416,535.65 416.8,535.34 417.6,534.49 418.4,534.98 419.2,534.13 420,531.86 420.8,531.01 421.6,530.48 422.4,530.05 423.2,529.5 424,528.95 424.8,530.63 425.6,530.08 426.4,529.54 427.2,527.69 428,527.69 428.8,527.69 429.6,526.45 430.4,530.11 431.2,530.11 432,529.86 432.8,527.43 433.6,527.4 434.4,523.22 435.2,522.25 436,521.91 436.8,521.26 437.6,520.6 438.4,521.55 439.2,520.9 440,521.24 440.8,520.45 441.6,521.13 442.4,521.74 443.2,527.88 444,522.91 444.8,522.81 445.6,521.62 446.4,520.02 447.2,520.52 448,519.29 448.8,518.06 449.6,520.83 450.4,523.2 451.2,519.95 452,526.29 452.8,527.69 453.6,528.77 454.4,531.22 455.2,528.15 456,529.22 456.8,528.01 457.6,527.91 458.4,527.95 459.2,526.72 460,525.49 460.8,520.98 461.6,521.04 462.4,521.87 463.2,528.06 463.2,541.73 462.4,543.27 461.6,548.07 460.8,549.15 460,549.46 459.2,550.63 458.4,550.92 457.6,550.9 456.8,551.06 456,547.43 455.2,550.49 454.4,550.17 453.6,550.13 452.8,550.39 452,549.76 451.2,546.51 450.4,544.97 449.6,543.64 448.8,544.54 448,544.54 447.2,545.41 446.4,542.9 445.6,542.9 444.8,545.29 444,545.49 443.2,545.81 442.4,543.12 441.6,543.52 440.8,544.02 440,546.93 439.2,544.04 438.4,546 437.6,544.98 436.8,545.48 436,546.87 435.2,547.4 434.4,548.14 433.6,548.74 432.8,551.45 432,552.05 431.2,552.34 430.4,551.82 429.6,552 428.8,550.32 428,550.51 427.2,550.69 426.4,553.55 425.6,553.48 424.8,553.69 424,553.89 423.2,553.44 422.4,553.64 421.6,552.97 420.8,553.26 420,553.93 419.2,553.73 418.4,551.72 417.6,553.04 416.8,550.36 416,550.17 415.2,553.82 414.4,548.46 413.6,548.27 412.8,552.18 412,551.99 411.2,551.53 410.4,550.29 409.6,547.79 408.8,545.12 408,538.8 407.2,539.37 406.4,539.89 405.6,544.6 404.8,544 404,545.28 403.2,546.56 402.4,551.33 401.6,551.89 400.8,552.85 400,552.85 399.2,552.53 398.4,552.53 397.6,552.53 396.8,554.33 396,554.33 395.2,553.69 394.4,552.22 393.6,551.58 392.8,551.31 392,550.69 391.2,550.08 390.4,546.17 389.6,545.8 388.8,545.42 388,544.39 387.2,544.01 386.4,543.64 385.6,543.77 384.8,543.13 384,542.49 383.2,542.52 382.4,542.1 381.6,544.59 380.8,545.52 380,546.44 379.2,544.31 378.4,544.95 377.6,548.33 376.8,547.09 376,549.28 375.2,550.99 374.4,551.6 373.6,558.58 372.8,554.58 372,555.13 371.2,555.67 370.4,560.23 369.6,562.77 368.8,563.55 368,565.15 367.2,566.75 366.4,568.76 365.6,570.27 364.8,568.82 364,563.74 363.2,566.7 362.4,565.9 361.6,567.09 360.8,566.75 360,566.47 359.2,562.46 358.4,562.19 357.6,562.22 356.8,561.97 356,561.34 355.2,560.1 354.4,560.61 353.6,559.53 352.8,555.15 352,553.39 351.2,553.86 350.4,554.61 349.6,557.29 348.8,558.62 348,561.5 347.2,564.08 346.4,563.45 345.6,563.93 344.8,565.43 344,567.03 343.2,569.01 342.4,569.81 341.6,569.21 340.8,566.15 340,563.04 339.2,564.62 338.4,569.42 337.6,571 336.8,572.58 336,570.96 335.2,574.31 334.4,580.12 333.6,581.44 332.8,579.48 332,577.88 331.2,575.61 330.4,572.94 329.6,570.26 328.8,571.19 328,572.64 327.2,572.02 326.4,570.54 325.6,572.09 324.8,567.61 324,572.11 323.2,574.35 322.4,576.27 321.6,576.19 320.8,576.64 320,574.35 319.2,570.54 318.4,569.51 317.6,567.4 316.8,569.3 316,567.18 315.2,558.48 314.4,563.05 313.6,561.42 312.8,557.75 312,556.34 311.2,561.57 310.4,565.71 309.6,568.36 308.8,569.11 308,572.61 307.2,580.06 306.4,586.34 305.6,591.11 304.8,593.2 304,594.77 303.2,593.75 302.4,594.76 301.6,589.67 300.8,586.99 300,583.97 299.2,582.03 298.4,584.11 297.6,583.28 296.8,583.74 296,579.6 295.2,577.87 294.4,575.85 293.6,573.02 292.8,577.66 292,579.59 291.2,578.82 290.4,576.46 289.6,574.68 288.8,575.26 288,576.22 287.2,576.55 286.4,576.81 285.6,572.14 284.8,562.41 284,557.49 283.2,558.77 282.4,563.21 281.6,564.51 280.8,567.36 280,570.44 279.2,576.07 278.4,578.06 277.6,577.91 276.8,579.24 276,576.2 275.2,574.66 274.4,574.9 273.6,573.55 272.8,572.75 272,566.77 271.2,565.97 270.4,573.67 269.6,576.8 268.8,579.93 268,575.92 267.2,573.33 266.4,564.22 265.6,557.61 264.8,553.13 264,556.33 263.2,552.53 262.4,548.04 261.6,547.67 260.8,546.03 260,545.23 259.2,539.86 258.4,543.87 257.6,545.2 256.8,547.3 256,551 255.2,550.87 254.4,554.14 253.6,537.11 252.8,536 252,536.22 251.2,536.75 250.4,538.65 249.6,538.48 248.8,538.32 248,536.93 247.2,539.04 246.4,539 245.6,539 244.8,538.8 244,538.66 243.2,538.4 242.4,537.49 241.6,537.22 240.8,536.96" fill="#ff0000" stroke="#ff0000" stroke-width="0.6" stroke-linejoin="miter"/>
<polygon points="241.2,599.57 242,599.7 242.8,599.84 243.6,596.98 244.4,597.16 245.2,597.3 246,597.43 246.8,597.24 247.6,597.37 248.4,597.53 249.2,597.66 250,598.69 250.8,598.82 251.6,598.06 252.4,598.37 253.2,598.95 254,599.08 254.8,599.76 255.6,599.9 256.4,599.23 257.2,599.37 258,599.5 258.8,599.3 259.6,599.44 260.4,599.57 261.2,599.66 262,599.79 262.8,599.68 263.6,599.77 264.4,599.5 265.2,599.96 266,599.63 266.8,599.36 267.6,599.09 268.4,598.87 269.2,600.55 270,600.28 270.8,600.01 271.6,597.51 272.4,598.57 273.2,598.57 274,598.57 274.8,598.5 275.6,598.5 276.4,597.58 277.2,597.58 278,597.98 278.8,597.98 279.6,596.95 280.4,596.56 281.2,596.17 282,599.61 282.8,596.69 283.6,597.2 284.4,597.2 285.2,595.65 286,596.28 286.8,597.56 287.6,597.95 288.4,598.35 289.2,597.31 290,597.7 290.8,598.1 291.6,600.39 292.4,600.44 293.2,600.44 294,598.74 294.8,598.74 295.6,600.03 296.4,600.03 297.2,600.03 298,599.77 298.8,599.77 299.6,599.39 300.4,599.15 301.2,599.42 302,600.49 302.8,600.76 303.6,601.11 304.4,603.89 305.2,604.27 306,602.13 306.8,602.52 307.6,604.23 308.4,604.55 309.2,604.39 310,602.03 310.8,602.85 311.6,604.49 312.4,604.34 313.2,602.33 314,602.8 314.8,602.62 315.6,602.35 316.4,601.87 317.2,601.6 318,601.33 318.8,602.67 319.6,602.4 320.4,599.57 321.2,599.3 322,599.42 322.8,599.24 323.6,599.1 324.4,599.78 325.2,599.65 326,598.34 326.8,598.21 327.6,599.54 328.4,599.41 329.2,599.27 330,597.2 330.8,599.71 331.6,599.8 332.4,598.64 333.2,598.77 334,599.45 334.8,599.58 335.6,599.72 336.4,599.16 337.2,599.3 338,599.5 338.8,600 339.6,600.27 340.4,601.33 341.2,601.73 342,602 342.8,602.27 343.6,600.95 344.4,601.08 345.2,601.35 346,601.1 346.8,602.21 347.6,602.56 348.4,602.23 349.2,601.18 350,600.86 350.8,599.9 351.6,598.95 352.4,598.91 353.2,599.32 354,599.82 354.8,600.36 355.6,600.89 356.4,602.16 357.2,602.7 358,603.21 358.8,603.74 359.6,603.32 360.4,603.78 361.2,603.98 362,604.79 362.8,604.99 363.6,608.01 364.4,606.74 365.2,606.94 366,607.2 366.8,606.61 367.6,603.63 368.4,603.04 369.2,602.71 370,604.56 370.8,604.16 371.6,603.95 372.4,602.05 373.2,602.18 374,601.98 374.8,601.77 375.6,600.84 376.4,599.37 377.2,598.97 378,598.56 378.8,600.97 379.6,600.56 380.4,597.56 381.2,597.16 382,596.7 382.8,596.29 383.6,598.44 384.4,598.64 385.2,598.3 386,598.09 386.8,598.3 387.6,598.13 388.4,598.33 389.2,598.54 390,599.71 390.8,599.91 391.6,598.44 392.4,598.85 393.2,599.4 394,599.45 394.8,599.45 395.6,599.77 396.4,599.77 397.2,601.92 398,601.92 398.8,601.92 399.6,598.81 400.4,598.81 401.2,598.78 402,599.81 402.8,599.76 403.6,598.82 404.4,598.55 405.2,597.1 406,596.83 406.8,596.71 407.6,596.44 408.4,596.17 409.2,596.47 410,597.29 410.8,598.28 411.6,599.1 412.4,599.91 413.2,601 414,601.69 414.8,601.56 415.6,601.88 416.4,601.31 417.2,601.17 418,601.04 418.8,600.7 419.6,601.29 420.4,600.17 421.2,600.96 422,600.82 422.8,601.92 423.6,602.34 424.4,602.21 425.2,599.82 426,599.2 426.8,599.06 427.6,598.93 428.4,600.12 429.2,599.99 430,599.88 430.8,599.72 431.6,599.62 432.4,599.52 433.2,600.21 434,600.11 434.8,598.15 435.6,598.05 436.4,597.95 437.2,598.57 438,598.12 438.8,598.02 439.6,598.6 440.4,600.22 441.2,600.22 442,600.22 442.8,597.71 443.6,597.71 444.4,597.4 445.2,597.99 446,597.99 446.8,597.99 447.6,597.7 448.4,597.7 449.2,597.7 450,599.48 450.8,599.58 451.6,599.68 452.4,598.45 453.2,598.55 454,598.65 454.8,598.73 455.6,599.27 456.4,599.37 457.2,599.8 458,599.9 458.8,598.54 459.6,598.64 460.4,598.67 461.2,598.7 462,598.7 462.8,599.34 463.6,599.34 463.6,607.01 462.8,605.52 462,605.79 461.2,606.27 460.4,606.54 459.6,608.15 458.8,607.95 458,606.18 457.2,606.73 456.4,607.38 455.6,607.18 454.8,607.32 454,607.11 453.2,607.13 452.4,605.8 451.6,605.59 450.8,603.38 450,603.17 449.2,603.12 448.4,606.55 447.6,606.65 446.8,606.75 446,604.55 445.2,606.03 444.4,606.69 443.6,606.79 442.8,605.83 442,606.54 441.2,606.65 440.4,606.75 439.6,607.57 438.8,607.68 438,607.78 437.2,604.96 436.4,605.06 435.6,607.14 434.8,607.24 434,608.03 433.2,607.4 432.4,608.38 431.6,607.76 430.8,607.86 430,607.96 429.2,607.85 428.4,607.85 427.6,607.85 426.8,607.88 426,607.88 425.2,607.88 424.4,607.51 423.6,607.51 422.8,607.51 422,604.52 421.2,604.56 420.4,604.69 419.6,608.23 418.8,608.35 418,607.56 417.2,607.69 416.4,609.39 415.6,609.33 414.8,609.45 414,609.58 413.2,608.32 412.4,607.93 411.6,608.58 410.8,608.18 410,607.79 409.2,606.97 408.4,606.84 407.6,606.97 406.8,607.05 406,607.18 405.2,607.32 404.4,607.04 403.6,607.18 402.8,608.64 402,608.77 401.2,608.89 400.4,608.79 399.6,608.65 398.8,606.11 398,605.98 397.2,606.52 396.4,606.38 395.6,606.25 394.8,605.26 394,606.74 393.2,605.11 392.4,606.25 391.6,602.08 390.8,601.97 390,605.39 389.2,606.04 388.4,605.94 387.6,605.84 386.8,605.57 386,605.47 385.2,605.63 384.4,605.52 383.6,601.32 382.8,606.51 382,606.91 381.2,605.77 380.4,606.17 379.6,606.29 378.8,606.69 378,606.25 377.2,606.64 376.4,607.54 375.6,607.93 374.8,608.16 374,609.84 373.2,610.05 372.4,610.56 371.6,610.76 370.8,610.52 370,610.73 369.2,610.93 368.4,611.64 367.6,612.28 366.8,612.48 366,610.39 365.2,610.57 364.4,610.57 363.6,612.85 362.8,610.16 362,610.16 361.2,612.06 360.4,612.06 359.6,611.85 358.8,610.88 358,610.61 357.2,608.83 356.4,608.56 355.6,610.17 354.8,609.89 354,608.36 353.2,608.09 352.4,608.53 351.6,609.56 350.8,609.72 350,610.92 349.2,611.09 348.4,611.25 347.6,608.41 346.8,610.81 346,610.98 345.2,611.14 344.4,612.92 343.6,613.05 342.8,613.19 342,611.86 341.2,611.99 340.4,610.45 339.6,611.11 338.8,611.25 338,611.38 337.2,613.84 336.4,613.84 335.6,613.84 334.8,613.25 334,613.25 333.2,613.25 332.4,611.53 331.6,611.53 330.8,612.06 330,612.06 329.2,612.06 328.4,613.55 327.6,613.55 326.8,613.55 326,612.01 325.2,612.01 324.4,613.96 323.6,613.96 322.8,613.96 322,613.83 321.2,613.83 320.4,613.83 319.6,610.79 318.8,610.79 318,613.57 317.2,613.79 316.4,612.9 315.6,612.9 314.8,612.9 314,614.15 313.2,612.99 312.4,614.61 311.6,612.65 310.8,612.82 310,612.98 309.2,613.97 308.4,614.47 307.6,615.18 306.8,615.67 306,616.45 305.2,618.49 304.4,619.27 303.6,620.06 302.8,618.62 302,617.55 301.2,614.88 300.4,614.87 299.6,613.79 298.8,615.22 298,615.22 297.2,615.22 296.4,614.17 295.6,611.4 294.8,615.15 294,615.15 293.2,614.58 292.4,614.58 291.6,615.25 290.8,614.98 290,610.8 289.2,610.53 288.4,610.26 287.6,614.02 286.8,612.04 286,611.77 285.2,612.94 284.4,612.67 283.6,612.64 282.8,612.2 282,612.4 281.2,613.48 280.4,611.77 279.6,611.97 278.8,612.9 278,613.04 277.2,612.28 276.4,612.42 275.6,612.55 274.8,614.71 274,614.85 273.2,614.98 272.4,614.83 271.6,612.26 270.8,614.28 270,613.74 269.2,613.2 268.4,611.74 267.6,612.82 266.8,612.28 266,608.49 265.2,607.95 264.4,608.9 263.6,608.22 262.8,608.15 262,606.46 261.2,606.46 260.4,609.97 259.6,609.97 258.8,609.97 258,609.97 257.2,610.07 256.4,609.98 255.6,609.79 254.8,609.26 254,608.04 253.2,607.04 252.4,606.51 251.6,605.98 250.8,606.81 250,606.38 249.2,604.7 248.4,604.17 247.6,604.04 246.8,603.84 246,603.84 245.2,602.32 244.4,604.86 243.6,604.86 242.8,604.86 242,604.72 241.2,604.72" fill="#000" stroke="#000" stroke-width="0.6" stroke-linejoin="miter"/>
<circle cx="331" cy="511.5" r="1.2" fill="#ff0000"/>
<circle cx="328.3" cy="513.8" r="1.2" fill="#ff0000"/>
<circle cx="302.3" cy="605.5" r="1.2" fill="#ff0000"/>
<circle cx="302.3" cy="612" r="1.2" fill="#ff0000"/>
<line x1="463.9" y1="461.1" x2="463.9" y2="631" stroke="#ff0000" stroke-width="1.1" />
<rect x="240.0" y="544.6" width="3" height="2.6" fill="#fff"/>
<line x1="238.3" y1="546.8" x2="244.7" y2="542.6" stroke="#000" stroke-width="0.9" />
<line x1="238.3" y1="549.6" x2="244.7" y2="545.4" stroke="#000" stroke-width="0.9" />
<rect x="254.3" y="468.5" width="2.6" height="2.6" fill="#000"/>
<text x="263.2" y="473.6" text-anchor="start" fill="#000" font-size="10.5" ><tspan font-style="italic">f</tspan><tspan dy="2.4" font-size="7">1</tspan></text>
<path d="M290.6 468L292.3 469.8L290.6 471.6L288.9 469.8Z" fill="#5a0a3c"/>
<text x="304.4" y="473.6" text-anchor="start" fill="#000" font-size="10.5" ><tspan font-style="italic">f</tspan><tspan dy="2.4" font-size="7">2</tspan></text>
<circle cx="325.3" cy="469.8" r="1.4" fill="#ff0000"/>
<text x="340" y="473.6" text-anchor="start" fill="#000" font-size="10.5" >Pressure error</text>
<text transform="translate(189,546) rotate(-90)" text-anchor="middle" fill="#000" font-size="10.5" >Frequency (Hz)</text>
<text transform="translate(502.6,546) rotate(-90)" text-anchor="middle" fill="#ff0000" font-size="10.5" >Pressure error (Pa)</text>
<text x="352.7" y="662" text-anchor="middle" fill="#000" font-size="10.5" >Time (h)</text>
<text x="178.4" y="463.4" text-anchor="start" fill="#000" font-size="14.5" font-weight="bold">e</text>
</svg>
</body></html>
